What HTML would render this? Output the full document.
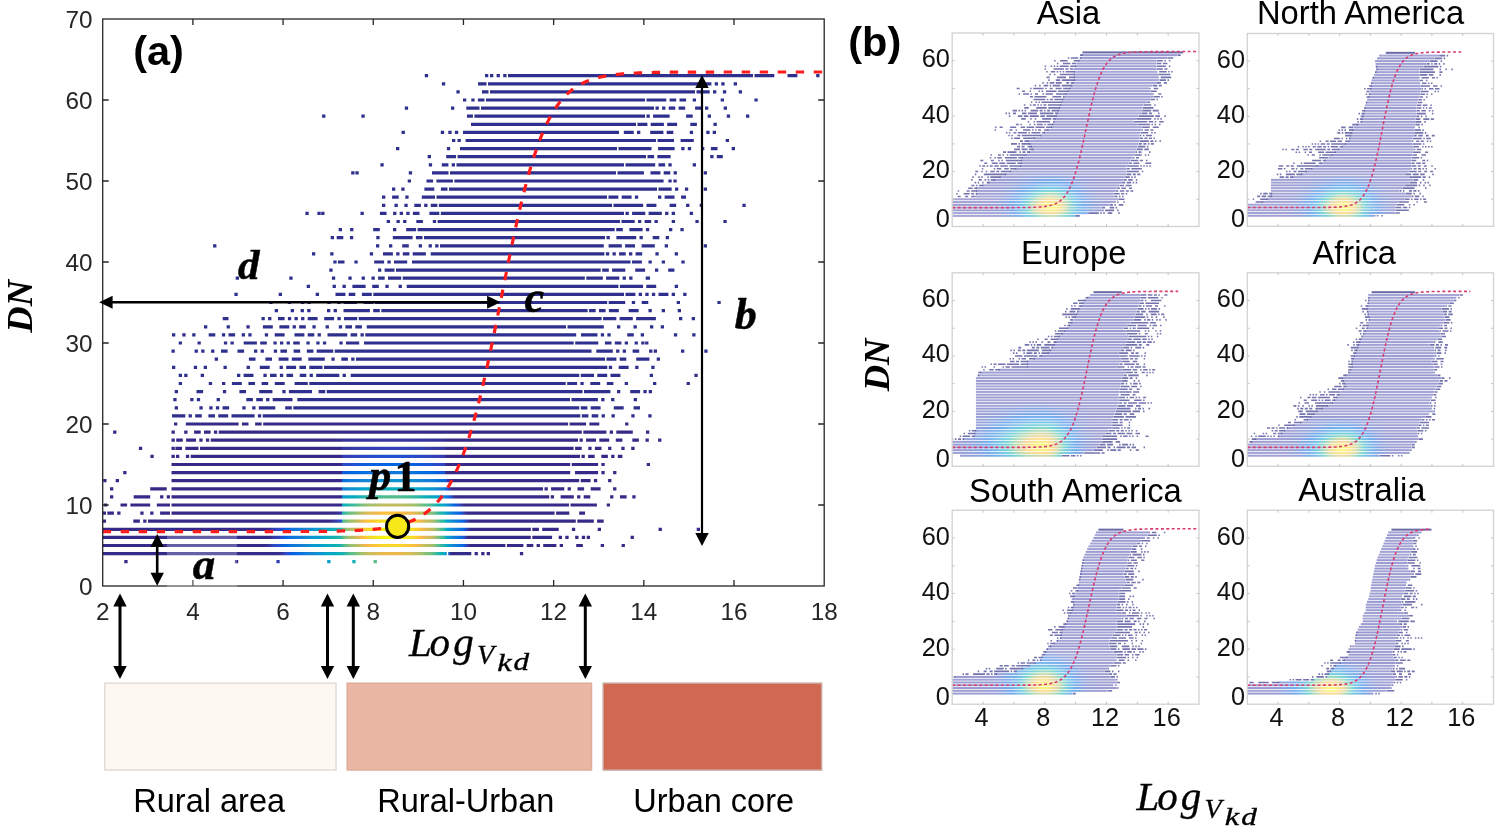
<!DOCTYPE html>
<html><head><meta charset="utf-8"><style>
html,body{margin:0;padding:0;background:#fff;}
body{width:1500px;height:826px;position:relative;overflow:hidden;font-family:"Liberation Sans",sans-serif;}
</style></head><body>
<svg width="1500" height="826" viewBox="0 0 1500 826" style="position:absolute;left:0;top:0;will-change:transform"><defs><linearGradient id="ga3" gradientUnits="userSpaceOnUse" x1="230" y1="0" x2="560" y2="0"><stop offset="0" stop-color="#352a87"/><stop offset="0.01" stop-color="#352a87"/><stop offset="0.02" stop-color="#352a87"/><stop offset="0.04" stop-color="#352a87"/><stop offset="0.05" stop-color="#352a87"/><stop offset="0.06" stop-color="#352a87"/><stop offset="0.07" stop-color="#352a87"/><stop offset="0.08" stop-color="#352a87"/><stop offset="0.1" stop-color="#352a87"/><stop offset="0.11" stop-color="#352a87"/><stop offset="0.12" stop-color="#352a87"/><stop offset="0.13" stop-color="#36369e"/><stop offset="0.15" stop-color="#3440b3"/><stop offset="0.16" stop-color="#2b4bc7"/><stop offset="0.17" stop-color="#1757d9"/><stop offset="0.18" stop-color="#0463e1"/><stop offset="0.19" stop-color="#036ae1"/><stop offset="0.21" stop-color="#0770df"/><stop offset="0.22" stop-color="#0d76dc"/><stop offset="0.23" stop-color="#117bd9"/><stop offset="0.24" stop-color="#1480d6"/><stop offset="0.25" stop-color="#1485d4"/><stop offset="0.27" stop-color="#128cd2"/><stop offset="0.28" stop-color="#0d92d2"/><stop offset="0.29" stop-color="#0999d1"/><stop offset="0.3" stop-color="#079ece"/><stop offset="0.32" stop-color="#06a3cb"/><stop offset="0.33" stop-color="#06a6c6"/><stop offset="0.34" stop-color="#07a9c2"/><stop offset="0.34" stop-color="#079bd0"/><stop offset="0.35" stop-color="#06a4ca"/><stop offset="0.36" stop-color="#08abc0"/><stop offset="0.38" stop-color="#14b0b6"/><stop offset="0.39" stop-color="#23b4ab"/><stop offset="0.4" stop-color="#33b8a1"/><stop offset="0.41" stop-color="#43bb97"/><stop offset="0.42" stop-color="#52bd8f"/><stop offset="0.44" stop-color="#5fbe88"/><stop offset="0.45" stop-color="#6abe83"/><stop offset="0.46" stop-color="#72bf80"/><stop offset="0.47" stop-color="#77bf7e"/><stop offset="0.48" stop-color="#7abf7d"/><stop offset="0.5" stop-color="#7abf7d"/><stop offset="0.51" stop-color="#77bf7e"/><stop offset="0.52" stop-color="#72bf80"/><stop offset="0.53" stop-color="#6abe83"/><stop offset="0.55" stop-color="#5fbe88"/><stop offset="0.56" stop-color="#52bd8f"/><stop offset="0.57" stop-color="#43bb97"/><stop offset="0.58" stop-color="#33b8a1"/><stop offset="0.59" stop-color="#23b4ab"/><stop offset="0.61" stop-color="#14b0b6"/><stop offset="0.62" stop-color="#08abc0"/><stop offset="0.63" stop-color="#06a4ca"/><stop offset="0.64" stop-color="#089ad1"/><stop offset="0.65" stop-color="#0b94d2"/><stop offset="0.65" stop-color="#0f90d2"/><stop offset="0.66" stop-color="#1481d6"/><stop offset="0.67" stop-color="#0972de"/><stop offset="0.68" stop-color="#0f5cde"/><stop offset="0.7" stop-color="#353aa8"/><stop offset="0.71" stop-color="#352a87"/><stop offset="0.72" stop-color="#352a87"/><stop offset="0.73" stop-color="#352a87"/><stop offset="0.75" stop-color="#352a87"/><stop offset="0.76" stop-color="#352a87"/><stop offset="0.77" stop-color="#352a87"/><stop offset="0.78" stop-color="#352a87"/><stop offset="0.79" stop-color="#352a87"/><stop offset="0.81" stop-color="#352a87"/><stop offset="0.82" stop-color="#352a87"/><stop offset="0.83" stop-color="#352a87"/><stop offset="0.84" stop-color="#352a87"/><stop offset="0.85" stop-color="#352a87"/><stop offset="0.87" stop-color="#352a87"/><stop offset="0.88" stop-color="#352a87"/><stop offset="0.89" stop-color="#352a87"/><stop offset="0.9" stop-color="#352a87"/><stop offset="0.92" stop-color="#352a87"/><stop offset="0.93" stop-color="#352a87"/><stop offset="0.94" stop-color="#352a87"/><stop offset="0.95" stop-color="#352a87"/><stop offset="0.96" stop-color="#352a87"/><stop offset="0.98" stop-color="#352a87"/><stop offset="0.99" stop-color="#352a87"/></linearGradient><linearGradient id="ga4" gradientUnits="userSpaceOnUse" x1="230" y1="0" x2="560" y2="0"><stop offset="0" stop-color="#352a87"/><stop offset="0.01" stop-color="#352a87"/><stop offset="0.02" stop-color="#352a87"/><stop offset="0.04" stop-color="#352a87"/><stop offset="0.05" stop-color="#352a87"/><stop offset="0.06" stop-color="#352a87"/><stop offset="0.07" stop-color="#352a87"/><stop offset="0.08" stop-color="#352a87"/><stop offset="0.1" stop-color="#352a87"/><stop offset="0.11" stop-color="#352a87"/><stop offset="0.12" stop-color="#352a87"/><stop offset="0.13" stop-color="#352a87"/><stop offset="0.15" stop-color="#362e8f"/><stop offset="0.16" stop-color="#353caa"/><stop offset="0.17" stop-color="#2d49c4"/><stop offset="0.18" stop-color="#1559da"/><stop offset="0.19" stop-color="#0265e1"/><stop offset="0.21" stop-color="#056ee0"/><stop offset="0.22" stop-color="#0d75dc"/><stop offset="0.23" stop-color="#127cd9"/><stop offset="0.24" stop-color="#1482d5"/><stop offset="0.25" stop-color="#1389d3"/><stop offset="0.27" stop-color="#0e92d2"/><stop offset="0.28" stop-color="#089ad0"/><stop offset="0.29" stop-color="#06a0cd"/><stop offset="0.3" stop-color="#06a5c8"/><stop offset="0.32" stop-color="#07aac1"/><stop offset="0.33" stop-color="#0eaeba"/><stop offset="0.34" stop-color="#17b1b3"/><stop offset="0.34" stop-color="#13b0b6"/><stop offset="0.35" stop-color="#2bb6a6"/><stop offset="0.36" stop-color="#4dbc92"/><stop offset="0.38" stop-color="#70bf81"/><stop offset="0.39" stop-color="#8ebf74"/><stop offset="0.4" stop-color="#a5be6b"/><stop offset="0.41" stop-color="#b8bd63"/><stop offset="0.42" stop-color="#c7bc5d"/><stop offset="0.44" stop-color="#d4bb58"/><stop offset="0.45" stop-color="#deba54"/><stop offset="0.46" stop-color="#e5b950"/><stop offset="0.47" stop-color="#eab94e"/><stop offset="0.48" stop-color="#ecb94c"/><stop offset="0.5" stop-color="#ecb94c"/><stop offset="0.51" stop-color="#eab94e"/><stop offset="0.52" stop-color="#e5b950"/><stop offset="0.53" stop-color="#deba54"/><stop offset="0.55" stop-color="#d4bb58"/><stop offset="0.56" stop-color="#c7bc5d"/><stop offset="0.57" stop-color="#b8bd63"/><stop offset="0.58" stop-color="#a5be6b"/><stop offset="0.59" stop-color="#8ebf74"/><stop offset="0.61" stop-color="#70bf81"/><stop offset="0.62" stop-color="#4dbc92"/><stop offset="0.63" stop-color="#2bb6a6"/><stop offset="0.64" stop-color="#10afb8"/><stop offset="0.65" stop-color="#09abbf"/><stop offset="0.65" stop-color="#06a6c7"/><stop offset="0.66" stop-color="#117bd9"/><stop offset="0.67" stop-color="#352a87"/><stop offset="0.68" stop-color="#352a87"/><stop offset="0.7" stop-color="#352a87"/><stop offset="0.71" stop-color="#352a87"/><stop offset="0.72" stop-color="#352a87"/><stop offset="0.73" stop-color="#352a87"/><stop offset="0.75" stop-color="#352a87"/><stop offset="0.76" stop-color="#352a87"/><stop offset="0.77" stop-color="#352a87"/><stop offset="0.78" stop-color="#352a87"/><stop offset="0.79" stop-color="#352a87"/><stop offset="0.81" stop-color="#352a87"/><stop offset="0.82" stop-color="#352a87"/><stop offset="0.83" stop-color="#352a87"/><stop offset="0.84" stop-color="#352a87"/><stop offset="0.85" stop-color="#352a87"/><stop offset="0.87" stop-color="#352a87"/><stop offset="0.88" stop-color="#352a87"/><stop offset="0.89" stop-color="#352a87"/><stop offset="0.9" stop-color="#352a87"/><stop offset="0.92" stop-color="#352a87"/><stop offset="0.93" stop-color="#352a87"/><stop offset="0.94" stop-color="#352a87"/><stop offset="0.95" stop-color="#352a87"/><stop offset="0.96" stop-color="#352a87"/><stop offset="0.98" stop-color="#352a87"/><stop offset="0.99" stop-color="#352a87"/></linearGradient><linearGradient id="ga5" gradientUnits="userSpaceOnUse" x1="230" y1="0" x2="560" y2="0"><stop offset="0" stop-color="#352a87"/><stop offset="0.01" stop-color="#352a87"/><stop offset="0.02" stop-color="#352a87"/><stop offset="0.04" stop-color="#352a87"/><stop offset="0.05" stop-color="#352a87"/><stop offset="0.06" stop-color="#352a87"/><stop offset="0.07" stop-color="#352a87"/><stop offset="0.08" stop-color="#352a87"/><stop offset="0.1" stop-color="#352a87"/><stop offset="0.11" stop-color="#362e8e"/><stop offset="0.12" stop-color="#363aa7"/><stop offset="0.13" stop-color="#3046bf"/><stop offset="0.15" stop-color="#1e54d5"/><stop offset="0.16" stop-color="#0661e0"/><stop offset="0.17" stop-color="#036ae1"/><stop offset="0.18" stop-color="#0871de"/><stop offset="0.19" stop-color="#0f77db"/><stop offset="0.21" stop-color="#137dd8"/><stop offset="0.22" stop-color="#1483d5"/><stop offset="0.23" stop-color="#138ad3"/><stop offset="0.24" stop-color="#0e91d2"/><stop offset="0.25" stop-color="#0899d1"/><stop offset="0.27" stop-color="#069fce"/><stop offset="0.28" stop-color="#06a4ca"/><stop offset="0.29" stop-color="#06a8c4"/><stop offset="0.3" stop-color="#0aacbe"/><stop offset="0.32" stop-color="#12afb7"/><stop offset="0.33" stop-color="#1cb2b0"/><stop offset="0.34" stop-color="#26b5a9"/><stop offset="0.34" stop-color="#35b8a0"/><stop offset="0.35" stop-color="#5cbe8a"/><stop offset="0.36" stop-color="#88bf77"/><stop offset="0.38" stop-color="#aabe69"/><stop offset="0.39" stop-color="#c5bc5e"/><stop offset="0.4" stop-color="#dbba55"/><stop offset="0.41" stop-color="#efb94b"/><stop offset="0.42" stop-color="#fcbd3f"/><stop offset="0.44" stop-color="#fec635"/><stop offset="0.45" stop-color="#fccd2e"/><stop offset="0.46" stop-color="#fad22a"/><stop offset="0.47" stop-color="#f8d627"/><stop offset="0.48" stop-color="#f7d826"/><stop offset="0.5" stop-color="#f7d826"/><stop offset="0.51" stop-color="#f8d627"/><stop offset="0.52" stop-color="#fad22a"/><stop offset="0.53" stop-color="#fccd2e"/><stop offset="0.55" stop-color="#fec635"/><stop offset="0.56" stop-color="#fcbd3f"/><stop offset="0.57" stop-color="#efb94b"/><stop offset="0.58" stop-color="#dbba55"/><stop offset="0.59" stop-color="#c5bc5e"/><stop offset="0.61" stop-color="#aabe69"/><stop offset="0.62" stop-color="#88bf77"/><stop offset="0.63" stop-color="#5cbe8a"/><stop offset="0.64" stop-color="#30b7a3"/><stop offset="0.65" stop-color="#21b4ac"/><stop offset="0.65" stop-color="#0aacbe"/><stop offset="0.66" stop-color="#06a3cb"/><stop offset="0.67" stop-color="#0c93d2"/><stop offset="0.68" stop-color="#1481d6"/><stop offset="0.7" stop-color="#0972de"/><stop offset="0.71" stop-color="#0e5cde"/><stop offset="0.72" stop-color="#353ba8"/><stop offset="0.73" stop-color="#352a87"/><stop offset="0.75" stop-color="#352a87"/><stop offset="0.76" stop-color="#352a87"/><stop offset="0.77" stop-color="#352a87"/><stop offset="0.78" stop-color="#352a87"/><stop offset="0.79" stop-color="#352a87"/><stop offset="0.81" stop-color="#352a87"/><stop offset="0.82" stop-color="#352a87"/><stop offset="0.83" stop-color="#352a87"/><stop offset="0.84" stop-color="#352a87"/><stop offset="0.85" stop-color="#352a87"/><stop offset="0.87" stop-color="#352a87"/><stop offset="0.88" stop-color="#352a87"/><stop offset="0.89" stop-color="#352a87"/><stop offset="0.9" stop-color="#352a87"/><stop offset="0.92" stop-color="#352a87"/><stop offset="0.93" stop-color="#352a87"/><stop offset="0.94" stop-color="#352a87"/><stop offset="0.95" stop-color="#352a87"/><stop offset="0.96" stop-color="#352a87"/><stop offset="0.98" stop-color="#352a87"/><stop offset="0.99" stop-color="#352a87"/></linearGradient><linearGradient id="ga6" gradientUnits="userSpaceOnUse" x1="230" y1="0" x2="560" y2="0"><stop offset="0" stop-color="#352a87"/><stop offset="0.01" stop-color="#352a87"/><stop offset="0.02" stop-color="#352a87"/><stop offset="0.04" stop-color="#352a87"/><stop offset="0.05" stop-color="#352a87"/><stop offset="0.06" stop-color="#352a87"/><stop offset="0.07" stop-color="#352a87"/><stop offset="0.08" stop-color="#352a87"/><stop offset="0.1" stop-color="#352a87"/><stop offset="0.11" stop-color="#352a87"/><stop offset="0.12" stop-color="#352a87"/><stop offset="0.13" stop-color="#3639a4"/><stop offset="0.15" stop-color="#3046be"/><stop offset="0.16" stop-color="#1b55d6"/><stop offset="0.17" stop-color="#0364e1"/><stop offset="0.18" stop-color="#046de0"/><stop offset="0.19" stop-color="#0b74dd"/><stop offset="0.21" stop-color="#117bd9"/><stop offset="0.22" stop-color="#1481d5"/><stop offset="0.23" stop-color="#1389d3"/><stop offset="0.24" stop-color="#0e91d2"/><stop offset="0.25" stop-color="#0899d1"/><stop offset="0.27" stop-color="#06a0cd"/><stop offset="0.28" stop-color="#06a5c8"/><stop offset="0.29" stop-color="#07aac1"/><stop offset="0.3" stop-color="#0eaeba"/><stop offset="0.32" stop-color="#18b1b2"/><stop offset="0.33" stop-color="#24b5aa"/><stop offset="0.34" stop-color="#31b8a2"/><stop offset="0.34" stop-color="#52bd8f"/><stop offset="0.35" stop-color="#80bf7a"/><stop offset="0.36" stop-color="#a9be69"/><stop offset="0.38" stop-color="#cabb5c"/><stop offset="0.39" stop-color="#e5b950"/><stop offset="0.4" stop-color="#fbbc41"/><stop offset="0.41" stop-color="#fec932"/><stop offset="0.42" stop-color="#f9d528"/><stop offset="0.44" stop-color="#f5df20"/><stop offset="0.45" stop-color="#f5e91a"/><stop offset="0.46" stop-color="#f6f114"/><stop offset="0.47" stop-color="#f8f710"/><stop offset="0.48" stop-color="#f9fa0e"/><stop offset="0.5" stop-color="#f9fa0e"/><stop offset="0.51" stop-color="#f8f710"/><stop offset="0.52" stop-color="#f6f114"/><stop offset="0.53" stop-color="#f5e91a"/><stop offset="0.55" stop-color="#f5df20"/><stop offset="0.56" stop-color="#f9d528"/><stop offset="0.57" stop-color="#fec932"/><stop offset="0.58" stop-color="#fbbc41"/><stop offset="0.59" stop-color="#e5b950"/><stop offset="0.61" stop-color="#cabb5c"/><stop offset="0.62" stop-color="#a9be69"/><stop offset="0.63" stop-color="#80bf7a"/><stop offset="0.64" stop-color="#4cbc92"/><stop offset="0.65" stop-color="#39b99d"/><stop offset="0.65" stop-color="#0aacbe"/><stop offset="0.66" stop-color="#06a2cc"/><stop offset="0.67" stop-color="#0f90d2"/><stop offset="0.68" stop-color="#137dd8"/><stop offset="0.7" stop-color="#046ce0"/><stop offset="0.71" stop-color="#284dca"/><stop offset="0.72" stop-color="#352a87"/><stop offset="0.73" stop-color="#352a87"/><stop offset="0.75" stop-color="#352a87"/><stop offset="0.76" stop-color="#352a87"/><stop offset="0.77" stop-color="#352a87"/><stop offset="0.78" stop-color="#352a87"/><stop offset="0.79" stop-color="#352a87"/><stop offset="0.81" stop-color="#352a87"/><stop offset="0.82" stop-color="#352a87"/><stop offset="0.83" stop-color="#352a87"/><stop offset="0.84" stop-color="#352a87"/><stop offset="0.85" stop-color="#352a87"/><stop offset="0.87" stop-color="#352a87"/><stop offset="0.88" stop-color="#352a87"/><stop offset="0.89" stop-color="#352a87"/><stop offset="0.9" stop-color="#352a87"/><stop offset="0.92" stop-color="#352a87"/><stop offset="0.93" stop-color="#352a87"/><stop offset="0.94" stop-color="#352a87"/><stop offset="0.95" stop-color="#352a87"/><stop offset="0.96" stop-color="#352a87"/><stop offset="0.98" stop-color="#352a87"/><stop offset="0.99" stop-color="#352a87"/></linearGradient><linearGradient id="ga7" gradientUnits="userSpaceOnUse" x1="230" y1="0" x2="560" y2="0"><stop offset="0" stop-color="#352a87"/><stop offset="0.01" stop-color="#352a87"/><stop offset="0.02" stop-color="#352a87"/><stop offset="0.04" stop-color="#352a87"/><stop offset="0.05" stop-color="#352a87"/><stop offset="0.06" stop-color="#352a87"/><stop offset="0.07" stop-color="#352a87"/><stop offset="0.08" stop-color="#352a87"/><stop offset="0.1" stop-color="#352a87"/><stop offset="0.11" stop-color="#352a87"/><stop offset="0.12" stop-color="#363195"/><stop offset="0.13" stop-color="#353eaf"/><stop offset="0.15" stop-color="#2c4ac7"/><stop offset="0.16" stop-color="#135adb"/><stop offset="0.17" stop-color="#0265e1"/><stop offset="0.18" stop-color="#056de0"/><stop offset="0.19" stop-color="#0c74dd"/><stop offset="0.21" stop-color="#117ad9"/><stop offset="0.22" stop-color="#1481d6"/><stop offset="0.23" stop-color="#1487d3"/><stop offset="0.24" stop-color="#108fd2"/><stop offset="0.25" stop-color="#0a97d1"/><stop offset="0.27" stop-color="#079dcf"/><stop offset="0.28" stop-color="#06a3cb"/><stop offset="0.29" stop-color="#06a7c5"/><stop offset="0.3" stop-color="#09abbf"/><stop offset="0.32" stop-color="#11afb8"/><stop offset="0.33" stop-color="#1bb2b0"/><stop offset="0.34" stop-color="#26b5a9"/><stop offset="0.34" stop-color="#52bd8f"/><stop offset="0.35" stop-color="#80bf7a"/><stop offset="0.36" stop-color="#a9be69"/><stop offset="0.38" stop-color="#cabb5c"/><stop offset="0.39" stop-color="#e5b950"/><stop offset="0.4" stop-color="#fbbc41"/><stop offset="0.41" stop-color="#fec932"/><stop offset="0.42" stop-color="#f9d528"/><stop offset="0.44" stop-color="#f5df20"/><stop offset="0.45" stop-color="#f5e91a"/><stop offset="0.46" stop-color="#f6f114"/><stop offset="0.47" stop-color="#f8f710"/><stop offset="0.48" stop-color="#f9fa0e"/><stop offset="0.5" stop-color="#f9fa0e"/><stop offset="0.51" stop-color="#f8f710"/><stop offset="0.52" stop-color="#f6f114"/><stop offset="0.53" stop-color="#f5e91a"/><stop offset="0.55" stop-color="#f5df20"/><stop offset="0.56" stop-color="#f9d528"/><stop offset="0.57" stop-color="#fec932"/><stop offset="0.58" stop-color="#fbbc41"/><stop offset="0.59" stop-color="#e5b950"/><stop offset="0.61" stop-color="#cabb5c"/><stop offset="0.62" stop-color="#a9be69"/><stop offset="0.63" stop-color="#80bf7a"/><stop offset="0.64" stop-color="#4cbc92"/><stop offset="0.65" stop-color="#39b99d"/><stop offset="0.65" stop-color="#0aacbe"/><stop offset="0.66" stop-color="#06a3cb"/><stop offset="0.67" stop-color="#0c93d2"/><stop offset="0.68" stop-color="#1481d6"/><stop offset="0.7" stop-color="#0972de"/><stop offset="0.71" stop-color="#0e5cde"/><stop offset="0.72" stop-color="#353ba8"/><stop offset="0.73" stop-color="#352a87"/><stop offset="0.75" stop-color="#352a87"/><stop offset="0.76" stop-color="#352a87"/><stop offset="0.77" stop-color="#352a87"/><stop offset="0.78" stop-color="#352a87"/><stop offset="0.79" stop-color="#352a87"/><stop offset="0.81" stop-color="#352a87"/><stop offset="0.82" stop-color="#352a87"/><stop offset="0.83" stop-color="#352a87"/><stop offset="0.84" stop-color="#352a87"/><stop offset="0.85" stop-color="#352a87"/><stop offset="0.87" stop-color="#352a87"/><stop offset="0.88" stop-color="#352a87"/><stop offset="0.89" stop-color="#352a87"/><stop offset="0.9" stop-color="#352a87"/><stop offset="0.92" stop-color="#352a87"/><stop offset="0.93" stop-color="#352a87"/><stop offset="0.94" stop-color="#352a87"/><stop offset="0.95" stop-color="#352a87"/><stop offset="0.96" stop-color="#352a87"/><stop offset="0.98" stop-color="#352a87"/><stop offset="0.99" stop-color="#352a87"/></linearGradient><linearGradient id="ga8" gradientUnits="userSpaceOnUse" x1="230" y1="0" x2="560" y2="0"><stop offset="0" stop-color="#352a87"/><stop offset="0.01" stop-color="#352a87"/><stop offset="0.02" stop-color="#352a87"/><stop offset="0.04" stop-color="#352a87"/><stop offset="0.05" stop-color="#352a87"/><stop offset="0.06" stop-color="#352a87"/><stop offset="0.07" stop-color="#352a87"/><stop offset="0.08" stop-color="#352a87"/><stop offset="0.1" stop-color="#352a87"/><stop offset="0.11" stop-color="#352a87"/><stop offset="0.12" stop-color="#352a87"/><stop offset="0.13" stop-color="#352a87"/><stop offset="0.15" stop-color="#352a87"/><stop offset="0.16" stop-color="#352a87"/><stop offset="0.17" stop-color="#352a87"/><stop offset="0.18" stop-color="#352a87"/><stop offset="0.19" stop-color="#352a87"/><stop offset="0.21" stop-color="#352a87"/><stop offset="0.22" stop-color="#352a87"/><stop offset="0.23" stop-color="#352a87"/><stop offset="0.24" stop-color="#352a87"/><stop offset="0.25" stop-color="#352a87"/><stop offset="0.27" stop-color="#352a87"/><stop offset="0.28" stop-color="#352a87"/><stop offset="0.29" stop-color="#352a87"/><stop offset="0.3" stop-color="#352a87"/><stop offset="0.32" stop-color="#3639a4"/><stop offset="0.33" stop-color="#3046bf"/><stop offset="0.34" stop-color="#1f53d4"/><stop offset="0.34" stop-color="#3fba99"/><stop offset="0.35" stop-color="#6abe83"/><stop offset="0.36" stop-color="#95bf71"/><stop offset="0.38" stop-color="#b6bd64"/><stop offset="0.39" stop-color="#d1bb59"/><stop offset="0.4" stop-color="#e8b94f"/><stop offset="0.41" stop-color="#fabc42"/><stop offset="0.42" stop-color="#fec635"/><stop offset="0.44" stop-color="#fbcf2d"/><stop offset="0.45" stop-color="#f8d727"/><stop offset="0.46" stop-color="#f6dd22"/><stop offset="0.47" stop-color="#f5e11f"/><stop offset="0.48" stop-color="#f5e31e"/><stop offset="0.5" stop-color="#f5e31e"/><stop offset="0.51" stop-color="#f5e11f"/><stop offset="0.52" stop-color="#f6dd22"/><stop offset="0.53" stop-color="#f8d727"/><stop offset="0.55" stop-color="#fbcf2d"/><stop offset="0.56" stop-color="#fec635"/><stop offset="0.57" stop-color="#fabc42"/><stop offset="0.58" stop-color="#e8b94f"/><stop offset="0.59" stop-color="#d1bb59"/><stop offset="0.61" stop-color="#b6bd64"/><stop offset="0.62" stop-color="#95bf71"/><stop offset="0.63" stop-color="#6abe83"/><stop offset="0.64" stop-color="#39b99d"/><stop offset="0.65" stop-color="#29b6a7"/><stop offset="0.65" stop-color="#07a9c3"/><stop offset="0.66" stop-color="#069fce"/><stop offset="0.67" stop-color="#108fd2"/><stop offset="0.68" stop-color="#137ed7"/><stop offset="0.7" stop-color="#0770df"/><stop offset="0.71" stop-color="#1459db"/><stop offset="0.72" stop-color="#363aa6"/><stop offset="0.73" stop-color="#352a87"/><stop offset="0.75" stop-color="#352a87"/><stop offset="0.76" stop-color="#352a87"/><stop offset="0.77" stop-color="#352a87"/><stop offset="0.78" stop-color="#352a87"/><stop offset="0.79" stop-color="#352a87"/><stop offset="0.81" stop-color="#352a87"/><stop offset="0.82" stop-color="#352a87"/><stop offset="0.83" stop-color="#352a87"/><stop offset="0.84" stop-color="#352a87"/><stop offset="0.85" stop-color="#352a87"/><stop offset="0.87" stop-color="#352a87"/><stop offset="0.88" stop-color="#352a87"/><stop offset="0.89" stop-color="#352a87"/><stop offset="0.9" stop-color="#352a87"/><stop offset="0.92" stop-color="#352a87"/><stop offset="0.93" stop-color="#352a87"/><stop offset="0.94" stop-color="#352a87"/><stop offset="0.95" stop-color="#352a87"/><stop offset="0.96" stop-color="#352a87"/><stop offset="0.98" stop-color="#352a87"/><stop offset="0.99" stop-color="#352a87"/></linearGradient><linearGradient id="ga9" gradientUnits="userSpaceOnUse" x1="230" y1="0" x2="560" y2="0"><stop offset="0" stop-color="#352a87"/><stop offset="0.01" stop-color="#352a87"/><stop offset="0.02" stop-color="#352a87"/><stop offset="0.04" stop-color="#352a87"/><stop offset="0.05" stop-color="#352a87"/><stop offset="0.06" stop-color="#352a87"/><stop offset="0.07" stop-color="#352a87"/><stop offset="0.08" stop-color="#352a87"/><stop offset="0.1" stop-color="#352a87"/><stop offset="0.11" stop-color="#352a87"/><stop offset="0.12" stop-color="#352a87"/><stop offset="0.13" stop-color="#352a87"/><stop offset="0.15" stop-color="#352a87"/><stop offset="0.16" stop-color="#352a87"/><stop offset="0.17" stop-color="#352a87"/><stop offset="0.18" stop-color="#352a87"/><stop offset="0.19" stop-color="#352a87"/><stop offset="0.21" stop-color="#352a87"/><stop offset="0.22" stop-color="#352a87"/><stop offset="0.23" stop-color="#352a87"/><stop offset="0.24" stop-color="#352a87"/><stop offset="0.25" stop-color="#352a87"/><stop offset="0.27" stop-color="#352a87"/><stop offset="0.28" stop-color="#352a87"/><stop offset="0.29" stop-color="#352a87"/><stop offset="0.3" stop-color="#352a87"/><stop offset="0.32" stop-color="#352a87"/><stop offset="0.33" stop-color="#363399"/><stop offset="0.34" stop-color="#353dac"/><stop offset="0.34" stop-color="#1fb3ad"/><stop offset="0.35" stop-color="#3eba9a"/><stop offset="0.36" stop-color="#66be85"/><stop offset="0.38" stop-color="#8abf76"/><stop offset="0.39" stop-color="#a6be6a"/><stop offset="0.4" stop-color="#bdbd61"/><stop offset="0.41" stop-color="#d0bb5a"/><stop offset="0.42" stop-color="#dfba53"/><stop offset="0.44" stop-color="#ecb94d"/><stop offset="0.45" stop-color="#f5ba46"/><stop offset="0.46" stop-color="#fbbd40"/><stop offset="0.47" stop-color="#febf3c"/><stop offset="0.48" stop-color="#fec13a"/><stop offset="0.5" stop-color="#fec13a"/><stop offset="0.51" stop-color="#febf3c"/><stop offset="0.52" stop-color="#fbbd40"/><stop offset="0.53" stop-color="#f5ba46"/><stop offset="0.55" stop-color="#ecb94d"/><stop offset="0.56" stop-color="#dfba53"/><stop offset="0.57" stop-color="#d0bb5a"/><stop offset="0.58" stop-color="#bdbd61"/><stop offset="0.59" stop-color="#a6be6a"/><stop offset="0.61" stop-color="#8abf76"/><stop offset="0.62" stop-color="#66be85"/><stop offset="0.63" stop-color="#3eba9a"/><stop offset="0.64" stop-color="#1bb2b0"/><stop offset="0.65" stop-color="#11afb8"/><stop offset="0.65" stop-color="#06a5c8"/><stop offset="0.66" stop-color="#0998d1"/><stop offset="0.67" stop-color="#1484d4"/><stop offset="0.68" stop-color="#0c74dd"/><stop offset="0.7" stop-color="#0a5fdf"/><stop offset="0.71" stop-color="#353baa"/><stop offset="0.72" stop-color="#352a87"/><stop offset="0.73" stop-color="#352a87"/><stop offset="0.75" stop-color="#352a87"/><stop offset="0.76" stop-color="#352a87"/><stop offset="0.77" stop-color="#352a87"/><stop offset="0.78" stop-color="#352a87"/><stop offset="0.79" stop-color="#352a87"/><stop offset="0.81" stop-color="#352a87"/><stop offset="0.82" stop-color="#352a87"/><stop offset="0.83" stop-color="#352a87"/><stop offset="0.84" stop-color="#352a87"/><stop offset="0.85" stop-color="#352a87"/><stop offset="0.87" stop-color="#352a87"/><stop offset="0.88" stop-color="#352a87"/><stop offset="0.89" stop-color="#352a87"/><stop offset="0.9" stop-color="#352a87"/><stop offset="0.92" stop-color="#352a87"/><stop offset="0.93" stop-color="#352a87"/><stop offset="0.94" stop-color="#352a87"/><stop offset="0.95" stop-color="#352a87"/><stop offset="0.96" stop-color="#352a87"/><stop offset="0.98" stop-color="#352a87"/><stop offset="0.99" stop-color="#352a87"/></linearGradient><linearGradient id="ga10" gradientUnits="userSpaceOnUse" x1="230" y1="0" x2="560" y2="0"><stop offset="0" stop-color="#352a87"/><stop offset="0.01" stop-color="#352a87"/><stop offset="0.02" stop-color="#352a87"/><stop offset="0.04" stop-color="#352a87"/><stop offset="0.05" stop-color="#352a87"/><stop offset="0.06" stop-color="#352a87"/><stop offset="0.07" stop-color="#352a87"/><stop offset="0.08" stop-color="#352a87"/><stop offset="0.1" stop-color="#352a87"/><stop offset="0.11" stop-color="#352a87"/><stop offset="0.12" stop-color="#352a87"/><stop offset="0.13" stop-color="#352a87"/><stop offset="0.15" stop-color="#352a87"/><stop offset="0.16" stop-color="#352a87"/><stop offset="0.17" stop-color="#352a87"/><stop offset="0.18" stop-color="#352a87"/><stop offset="0.19" stop-color="#352a87"/><stop offset="0.21" stop-color="#352a87"/><stop offset="0.22" stop-color="#352a87"/><stop offset="0.23" stop-color="#352a87"/><stop offset="0.24" stop-color="#352a87"/><stop offset="0.25" stop-color="#352a87"/><stop offset="0.27" stop-color="#352a87"/><stop offset="0.28" stop-color="#352a87"/><stop offset="0.29" stop-color="#352a87"/><stop offset="0.3" stop-color="#352a87"/><stop offset="0.32" stop-color="#352a87"/><stop offset="0.33" stop-color="#352a87"/><stop offset="0.34" stop-color="#352a87"/><stop offset="0.34" stop-color="#07a9c3"/><stop offset="0.35" stop-color="#13b0b6"/><stop offset="0.36" stop-color="#2ab6a6"/><stop offset="0.38" stop-color="#45bb96"/><stop offset="0.39" stop-color="#61be88"/><stop offset="0.4" stop-color="#7abf7c"/><stop offset="0.41" stop-color="#8ebf74"/><stop offset="0.42" stop-color="#9ebe6d"/><stop offset="0.44" stop-color="#abbe68"/><stop offset="0.45" stop-color="#b5bd65"/><stop offset="0.46" stop-color="#bcbd62"/><stop offset="0.47" stop-color="#c0bc60"/><stop offset="0.48" stop-color="#c3bc5f"/><stop offset="0.5" stop-color="#c3bc5f"/><stop offset="0.51" stop-color="#c0bc60"/><stop offset="0.52" stop-color="#bcbd62"/><stop offset="0.53" stop-color="#b5bd65"/><stop offset="0.55" stop-color="#abbe68"/><stop offset="0.56" stop-color="#9ebe6d"/><stop offset="0.57" stop-color="#8ebf74"/><stop offset="0.58" stop-color="#7abf7c"/><stop offset="0.59" stop-color="#61be88"/><stop offset="0.61" stop-color="#45bb96"/><stop offset="0.62" stop-color="#2ab6a6"/><stop offset="0.63" stop-color="#13b0b6"/><stop offset="0.64" stop-color="#06a8c4"/><stop offset="0.65" stop-color="#06a4c9"/><stop offset="0.65" stop-color="#069ece"/><stop offset="0.66" stop-color="#118cd2"/><stop offset="0.67" stop-color="#1079da"/><stop offset="0.68" stop-color="#0364e1"/><stop offset="0.7" stop-color="#353dad"/><stop offset="0.71" stop-color="#352a87"/><stop offset="0.72" stop-color="#352a87"/><stop offset="0.73" stop-color="#352a87"/><stop offset="0.75" stop-color="#352a87"/><stop offset="0.76" stop-color="#352a87"/><stop offset="0.77" stop-color="#352a87"/><stop offset="0.78" stop-color="#352a87"/><stop offset="0.79" stop-color="#352a87"/><stop offset="0.81" stop-color="#352a87"/><stop offset="0.82" stop-color="#352a87"/><stop offset="0.83" stop-color="#352a87"/><stop offset="0.84" stop-color="#352a87"/><stop offset="0.85" stop-color="#352a87"/><stop offset="0.87" stop-color="#352a87"/><stop offset="0.88" stop-color="#352a87"/><stop offset="0.89" stop-color="#352a87"/><stop offset="0.9" stop-color="#352a87"/><stop offset="0.92" stop-color="#352a87"/><stop offset="0.93" stop-color="#352a87"/><stop offset="0.94" stop-color="#352a87"/><stop offset="0.95" stop-color="#352a87"/><stop offset="0.96" stop-color="#352a87"/><stop offset="0.98" stop-color="#352a87"/><stop offset="0.99" stop-color="#352a87"/></linearGradient><linearGradient id="ga11" gradientUnits="userSpaceOnUse" x1="230" y1="0" x2="560" y2="0"><stop offset="0" stop-color="#352a87"/><stop offset="0.01" stop-color="#352a87"/><stop offset="0.02" stop-color="#352a87"/><stop offset="0.04" stop-color="#352a87"/><stop offset="0.05" stop-color="#352a87"/><stop offset="0.06" stop-color="#352a87"/><stop offset="0.07" stop-color="#352a87"/><stop offset="0.08" stop-color="#352a87"/><stop offset="0.1" stop-color="#352a87"/><stop offset="0.11" stop-color="#352a87"/><stop offset="0.12" stop-color="#352a87"/><stop offset="0.13" stop-color="#352a87"/><stop offset="0.15" stop-color="#352a87"/><stop offset="0.16" stop-color="#352a87"/><stop offset="0.17" stop-color="#352a87"/><stop offset="0.18" stop-color="#352a87"/><stop offset="0.19" stop-color="#352a87"/><stop offset="0.21" stop-color="#352a87"/><stop offset="0.22" stop-color="#352a87"/><stop offset="0.23" stop-color="#352a87"/><stop offset="0.24" stop-color="#352a87"/><stop offset="0.25" stop-color="#352a87"/><stop offset="0.27" stop-color="#352a87"/><stop offset="0.28" stop-color="#352a87"/><stop offset="0.29" stop-color="#352a87"/><stop offset="0.3" stop-color="#352a87"/><stop offset="0.32" stop-color="#352a87"/><stop offset="0.33" stop-color="#352a87"/><stop offset="0.34" stop-color="#352a87"/><stop offset="0.34" stop-color="#0d93d2"/><stop offset="0.35" stop-color="#079dcf"/><stop offset="0.36" stop-color="#06a5c8"/><stop offset="0.38" stop-color="#08aac0"/><stop offset="0.39" stop-color="#11afb8"/><stop offset="0.4" stop-color="#1cb3b0"/><stop offset="0.41" stop-color="#28b6a8"/><stop offset="0.42" stop-color="#33b8a1"/><stop offset="0.44" stop-color="#3eba9a"/><stop offset="0.45" stop-color="#46bb95"/><stop offset="0.46" stop-color="#4dbc92"/><stop offset="0.47" stop-color="#52bd8f"/><stop offset="0.48" stop-color="#54bd8e"/><stop offset="0.5" stop-color="#54bd8e"/><stop offset="0.51" stop-color="#52bd8f"/><stop offset="0.52" stop-color="#4dbc92"/><stop offset="0.53" stop-color="#46bb95"/><stop offset="0.55" stop-color="#3eba9a"/><stop offset="0.56" stop-color="#33b8a1"/><stop offset="0.57" stop-color="#28b6a8"/><stop offset="0.58" stop-color="#1cb3b0"/><stop offset="0.59" stop-color="#11afb8"/><stop offset="0.61" stop-color="#08aac0"/><stop offset="0.62" stop-color="#06a5c8"/><stop offset="0.63" stop-color="#079dcf"/><stop offset="0.64" stop-color="#0e91d2"/><stop offset="0.65" stop-color="#118cd2"/><stop offset="0.65" stop-color="#1481d6"/><stop offset="0.66" stop-color="#0871de"/><stop offset="0.67" stop-color="#2252d2"/><stop offset="0.68" stop-color="#352a87"/><stop offset="0.7" stop-color="#352a87"/><stop offset="0.71" stop-color="#352a87"/><stop offset="0.72" stop-color="#352a87"/><stop offset="0.73" stop-color="#352a87"/><stop offset="0.75" stop-color="#352a87"/><stop offset="0.76" stop-color="#352a87"/><stop offset="0.77" stop-color="#352a87"/><stop offset="0.78" stop-color="#352a87"/><stop offset="0.79" stop-color="#352a87"/><stop offset="0.81" stop-color="#352a87"/><stop offset="0.82" stop-color="#352a87"/><stop offset="0.83" stop-color="#352a87"/><stop offset="0.84" stop-color="#352a87"/><stop offset="0.85" stop-color="#352a87"/><stop offset="0.87" stop-color="#352a87"/><stop offset="0.88" stop-color="#352a87"/><stop offset="0.89" stop-color="#352a87"/><stop offset="0.9" stop-color="#352a87"/><stop offset="0.92" stop-color="#352a87"/><stop offset="0.93" stop-color="#352a87"/><stop offset="0.94" stop-color="#352a87"/><stop offset="0.95" stop-color="#352a87"/><stop offset="0.96" stop-color="#352a87"/><stop offset="0.98" stop-color="#352a87"/><stop offset="0.99" stop-color="#352a87"/></linearGradient><linearGradient id="ga12" gradientUnits="userSpaceOnUse" x1="230" y1="0" x2="560" y2="0"><stop offset="0" stop-color="#352a87"/><stop offset="0.01" stop-color="#352a87"/><stop offset="0.02" stop-color="#352a87"/><stop offset="0.04" stop-color="#352a87"/><stop offset="0.05" stop-color="#352a87"/><stop offset="0.06" stop-color="#352a87"/><stop offset="0.07" stop-color="#352a87"/><stop offset="0.08" stop-color="#352a87"/><stop offset="0.1" stop-color="#352a87"/><stop offset="0.11" stop-color="#352a87"/><stop offset="0.12" stop-color="#352a87"/><stop offset="0.13" stop-color="#352a87"/><stop offset="0.15" stop-color="#352a87"/><stop offset="0.16" stop-color="#352a87"/><stop offset="0.17" stop-color="#352a87"/><stop offset="0.18" stop-color="#352a87"/><stop offset="0.19" stop-color="#352a87"/><stop offset="0.21" stop-color="#352a87"/><stop offset="0.22" stop-color="#352a87"/><stop offset="0.23" stop-color="#352a87"/><stop offset="0.24" stop-color="#352a87"/><stop offset="0.25" stop-color="#352a87"/><stop offset="0.27" stop-color="#352a87"/><stop offset="0.28" stop-color="#352a87"/><stop offset="0.29" stop-color="#352a87"/><stop offset="0.3" stop-color="#352a87"/><stop offset="0.32" stop-color="#352a87"/><stop offset="0.33" stop-color="#352a87"/><stop offset="0.34" stop-color="#352a87"/><stop offset="0.34" stop-color="#137ed7"/><stop offset="0.35" stop-color="#1485d4"/><stop offset="0.36" stop-color="#118dd2"/><stop offset="0.38" stop-color="#0b95d2"/><stop offset="0.39" stop-color="#079cd0"/><stop offset="0.4" stop-color="#06a1cd"/><stop offset="0.41" stop-color="#06a4c9"/><stop offset="0.42" stop-color="#06a7c6"/><stop offset="0.44" stop-color="#07a9c2"/><stop offset="0.45" stop-color="#08abc0"/><stop offset="0.46" stop-color="#0aacbe"/><stop offset="0.47" stop-color="#0badbc"/><stop offset="0.48" stop-color="#0cadbc"/><stop offset="0.5" stop-color="#0cadbc"/><stop offset="0.51" stop-color="#0badbc"/><stop offset="0.52" stop-color="#0aacbe"/><stop offset="0.53" stop-color="#08abc0"/><stop offset="0.55" stop-color="#07a9c2"/><stop offset="0.56" stop-color="#06a7c6"/><stop offset="0.57" stop-color="#06a4c9"/><stop offset="0.58" stop-color="#06a1cd"/><stop offset="0.59" stop-color="#079cd0"/><stop offset="0.61" stop-color="#0b95d2"/><stop offset="0.62" stop-color="#118dd2"/><stop offset="0.63" stop-color="#1485d4"/><stop offset="0.64" stop-color="#137ed7"/><stop offset="0.65" stop-color="#117bd9"/><stop offset="0.65" stop-color="#0c75dd"/><stop offset="0.66" stop-color="#1359db"/><stop offset="0.67" stop-color="#352a87"/><stop offset="0.68" stop-color="#352a87"/><stop offset="0.7" stop-color="#352a87"/><stop offset="0.71" stop-color="#352a87"/><stop offset="0.72" stop-color="#352a87"/><stop offset="0.73" stop-color="#352a87"/><stop offset="0.75" stop-color="#352a87"/><stop offset="0.76" stop-color="#352a87"/><stop offset="0.77" stop-color="#352a87"/><stop offset="0.78" stop-color="#352a87"/><stop offset="0.79" stop-color="#352a87"/><stop offset="0.81" stop-color="#352a87"/><stop offset="0.82" stop-color="#352a87"/><stop offset="0.83" stop-color="#352a87"/><stop offset="0.84" stop-color="#352a87"/><stop offset="0.85" stop-color="#352a87"/><stop offset="0.87" stop-color="#352a87"/><stop offset="0.88" stop-color="#352a87"/><stop offset="0.89" stop-color="#352a87"/><stop offset="0.9" stop-color="#352a87"/><stop offset="0.92" stop-color="#352a87"/><stop offset="0.93" stop-color="#352a87"/><stop offset="0.94" stop-color="#352a87"/><stop offset="0.95" stop-color="#352a87"/><stop offset="0.96" stop-color="#352a87"/><stop offset="0.98" stop-color="#352a87"/><stop offset="0.99" stop-color="#352a87"/></linearGradient><linearGradient id="ga13" gradientUnits="userSpaceOnUse" x1="230" y1="0" x2="560" y2="0"><stop offset="0" stop-color="#352a87"/><stop offset="0.01" stop-color="#352a87"/><stop offset="0.02" stop-color="#352a87"/><stop offset="0.04" stop-color="#352a87"/><stop offset="0.05" stop-color="#352a87"/><stop offset="0.06" stop-color="#352a87"/><stop offset="0.07" stop-color="#352a87"/><stop offset="0.08" stop-color="#352a87"/><stop offset="0.1" stop-color="#352a87"/><stop offset="0.11" stop-color="#352a87"/><stop offset="0.12" stop-color="#352a87"/><stop offset="0.13" stop-color="#352a87"/><stop offset="0.15" stop-color="#352a87"/><stop offset="0.16" stop-color="#352a87"/><stop offset="0.17" stop-color="#352a87"/><stop offset="0.18" stop-color="#352a87"/><stop offset="0.19" stop-color="#352a87"/><stop offset="0.21" stop-color="#352a87"/><stop offset="0.22" stop-color="#352a87"/><stop offset="0.23" stop-color="#352a87"/><stop offset="0.24" stop-color="#352a87"/><stop offset="0.25" stop-color="#352a87"/><stop offset="0.27" stop-color="#352a87"/><stop offset="0.28" stop-color="#352a87"/><stop offset="0.29" stop-color="#352a87"/><stop offset="0.3" stop-color="#352a87"/><stop offset="0.32" stop-color="#352a87"/><stop offset="0.33" stop-color="#352a87"/><stop offset="0.34" stop-color="#352a87"/><stop offset="0.34" stop-color="#066edf"/><stop offset="0.35" stop-color="#0b73dd"/><stop offset="0.36" stop-color="#0f78db"/><stop offset="0.38" stop-color="#127cd8"/><stop offset="0.39" stop-color="#1480d6"/><stop offset="0.4" stop-color="#1484d4"/><stop offset="0.41" stop-color="#1487d3"/><stop offset="0.42" stop-color="#138ad3"/><stop offset="0.44" stop-color="#118dd2"/><stop offset="0.45" stop-color="#108fd2"/><stop offset="0.46" stop-color="#0e91d2"/><stop offset="0.47" stop-color="#0d92d2"/><stop offset="0.48" stop-color="#0d93d2"/><stop offset="0.5" stop-color="#0d93d2"/><stop offset="0.51" stop-color="#0d92d2"/><stop offset="0.52" stop-color="#0e91d2"/><stop offset="0.53" stop-color="#108fd2"/><stop offset="0.55" stop-color="#118dd2"/><stop offset="0.56" stop-color="#138ad3"/><stop offset="0.57" stop-color="#1487d3"/><stop offset="0.58" stop-color="#1484d4"/><stop offset="0.59" stop-color="#1480d6"/><stop offset="0.61" stop-color="#127cd8"/><stop offset="0.62" stop-color="#0f78db"/><stop offset="0.63" stop-color="#0b73dd"/><stop offset="0.64" stop-color="#056de0"/><stop offset="0.65" stop-color="#036be0"/><stop offset="0.65" stop-color="#0267e1"/><stop offset="0.66" stop-color="#3340b3"/><stop offset="0.67" stop-color="#352a87"/><stop offset="0.68" stop-color="#352a87"/><stop offset="0.7" stop-color="#352a87"/><stop offset="0.71" stop-color="#352a87"/><stop offset="0.72" stop-color="#352a87"/><stop offset="0.73" stop-color="#352a87"/><stop offset="0.75" stop-color="#352a87"/><stop offset="0.76" stop-color="#352a87"/><stop offset="0.77" stop-color="#352a87"/><stop offset="0.78" stop-color="#352a87"/><stop offset="0.79" stop-color="#352a87"/><stop offset="0.81" stop-color="#352a87"/><stop offset="0.82" stop-color="#352a87"/><stop offset="0.83" stop-color="#352a87"/><stop offset="0.84" stop-color="#352a87"/><stop offset="0.85" stop-color="#352a87"/><stop offset="0.87" stop-color="#352a87"/><stop offset="0.88" stop-color="#352a87"/><stop offset="0.89" stop-color="#352a87"/><stop offset="0.9" stop-color="#352a87"/><stop offset="0.92" stop-color="#352a87"/><stop offset="0.93" stop-color="#352a87"/><stop offset="0.94" stop-color="#352a87"/><stop offset="0.95" stop-color="#352a87"/><stop offset="0.96" stop-color="#352a87"/><stop offset="0.98" stop-color="#352a87"/><stop offset="0.99" stop-color="#352a87"/></linearGradient><linearGradient id="ga14" gradientUnits="userSpaceOnUse" x1="230" y1="0" x2="560" y2="0"><stop offset="0" stop-color="#352a87"/><stop offset="0.01" stop-color="#352a87"/><stop offset="0.02" stop-color="#352a87"/><stop offset="0.04" stop-color="#352a87"/><stop offset="0.05" stop-color="#352a87"/><stop offset="0.06" stop-color="#352a87"/><stop offset="0.07" stop-color="#352a87"/><stop offset="0.08" stop-color="#352a87"/><stop offset="0.1" stop-color="#352a87"/><stop offset="0.11" stop-color="#352a87"/><stop offset="0.12" stop-color="#352a87"/><stop offset="0.13" stop-color="#352a87"/><stop offset="0.15" stop-color="#352a87"/><stop offset="0.16" stop-color="#352a87"/><stop offset="0.17" stop-color="#352a87"/><stop offset="0.18" stop-color="#352a87"/><stop offset="0.19" stop-color="#352a87"/><stop offset="0.21" stop-color="#352a87"/><stop offset="0.22" stop-color="#352a87"/><stop offset="0.23" stop-color="#352a87"/><stop offset="0.24" stop-color="#352a87"/><stop offset="0.25" stop-color="#352a87"/><stop offset="0.27" stop-color="#352a87"/><stop offset="0.28" stop-color="#352a87"/><stop offset="0.29" stop-color="#352a87"/><stop offset="0.3" stop-color="#352a87"/><stop offset="0.32" stop-color="#352a87"/><stop offset="0.33" stop-color="#352a87"/><stop offset="0.34" stop-color="#352a87"/><stop offset="0.34" stop-color="#115bdc"/><stop offset="0.35" stop-color="#0760e0"/><stop offset="0.36" stop-color="#0265e1"/><stop offset="0.38" stop-color="#0269e1"/><stop offset="0.39" stop-color="#046ce0"/><stop offset="0.4" stop-color="#066fdf"/><stop offset="0.41" stop-color="#0871de"/><stop offset="0.42" stop-color="#0a73dd"/><stop offset="0.44" stop-color="#0c74dd"/><stop offset="0.45" stop-color="#0d75dc"/><stop offset="0.46" stop-color="#0e76dc"/><stop offset="0.47" stop-color="#0e77db"/><stop offset="0.48" stop-color="#0f77db"/><stop offset="0.5" stop-color="#0f77db"/><stop offset="0.51" stop-color="#0e77db"/><stop offset="0.52" stop-color="#0e76dc"/><stop offset="0.53" stop-color="#0d75dc"/><stop offset="0.55" stop-color="#0c74dd"/><stop offset="0.56" stop-color="#0a73dd"/><stop offset="0.57" stop-color="#0871de"/><stop offset="0.58" stop-color="#066fdf"/><stop offset="0.59" stop-color="#046ce0"/><stop offset="0.61" stop-color="#0269e1"/><stop offset="0.62" stop-color="#0265e1"/><stop offset="0.63" stop-color="#0760e0"/><stop offset="0.64" stop-color="#135adb"/><stop offset="0.65" stop-color="#1956d8"/><stop offset="0.65" stop-color="#352a87"/><stop offset="0.66" stop-color="#352a87"/><stop offset="0.67" stop-color="#352a87"/><stop offset="0.68" stop-color="#352a87"/><stop offset="0.7" stop-color="#352a87"/><stop offset="0.71" stop-color="#352a87"/><stop offset="0.72" stop-color="#352a87"/><stop offset="0.73" stop-color="#352a87"/><stop offset="0.75" stop-color="#352a87"/><stop offset="0.76" stop-color="#352a87"/><stop offset="0.77" stop-color="#352a87"/><stop offset="0.78" stop-color="#352a87"/><stop offset="0.79" stop-color="#352a87"/><stop offset="0.81" stop-color="#352a87"/><stop offset="0.82" stop-color="#352a87"/><stop offset="0.83" stop-color="#352a87"/><stop offset="0.84" stop-color="#352a87"/><stop offset="0.85" stop-color="#352a87"/><stop offset="0.87" stop-color="#352a87"/><stop offset="0.88" stop-color="#352a87"/><stop offset="0.89" stop-color="#352a87"/><stop offset="0.9" stop-color="#352a87"/><stop offset="0.92" stop-color="#352a87"/><stop offset="0.93" stop-color="#352a87"/><stop offset="0.94" stop-color="#352a87"/><stop offset="0.95" stop-color="#352a87"/><stop offset="0.96" stop-color="#352a87"/><stop offset="0.98" stop-color="#352a87"/><stop offset="0.99" stop-color="#352a87"/></linearGradient><linearGradient id="ga15" gradientUnits="userSpaceOnUse" x1="230" y1="0" x2="560" y2="0"><stop offset="0" stop-color="#352a87"/><stop offset="0.01" stop-color="#352a87"/><stop offset="0.02" stop-color="#352a87"/><stop offset="0.04" stop-color="#352a87"/><stop offset="0.05" stop-color="#352a87"/><stop offset="0.06" stop-color="#352a87"/><stop offset="0.07" stop-color="#352a87"/><stop offset="0.08" stop-color="#352a87"/><stop offset="0.1" stop-color="#352a87"/><stop offset="0.11" stop-color="#352a87"/><stop offset="0.12" stop-color="#352a87"/><stop offset="0.13" stop-color="#352a87"/><stop offset="0.15" stop-color="#352a87"/><stop offset="0.16" stop-color="#352a87"/><stop offset="0.17" stop-color="#352a87"/><stop offset="0.18" stop-color="#352a87"/><stop offset="0.19" stop-color="#352a87"/><stop offset="0.21" stop-color="#352a87"/><stop offset="0.22" stop-color="#352a87"/><stop offset="0.23" stop-color="#352a87"/><stop offset="0.24" stop-color="#352a87"/><stop offset="0.25" stop-color="#352a87"/><stop offset="0.27" stop-color="#352a87"/><stop offset="0.28" stop-color="#352a87"/><stop offset="0.29" stop-color="#352a87"/><stop offset="0.3" stop-color="#352a87"/><stop offset="0.32" stop-color="#352a87"/><stop offset="0.33" stop-color="#352a87"/><stop offset="0.34" stop-color="#352a87"/><stop offset="0.34" stop-color="#2f47c0"/><stop offset="0.35" stop-color="#2c4ac7"/><stop offset="0.36" stop-color="#264fcd"/><stop offset="0.38" stop-color="#2053d4"/><stop offset="0.39" stop-color="#1957d8"/><stop offset="0.4" stop-color="#125adc"/><stop offset="0.41" stop-color="#0d5dde"/><stop offset="0.42" stop-color="#0a5fdf"/><stop offset="0.44" stop-color="#0761e0"/><stop offset="0.45" stop-color="#0462e1"/><stop offset="0.46" stop-color="#0363e1"/><stop offset="0.47" stop-color="#0364e1"/><stop offset="0.48" stop-color="#0364e1"/><stop offset="0.5" stop-color="#0364e1"/><stop offset="0.51" stop-color="#0364e1"/><stop offset="0.52" stop-color="#0363e1"/><stop offset="0.53" stop-color="#0462e1"/><stop offset="0.55" stop-color="#0761e0"/><stop offset="0.56" stop-color="#0a5fdf"/><stop offset="0.57" stop-color="#0d5dde"/><stop offset="0.58" stop-color="#125adc"/><stop offset="0.59" stop-color="#1957d8"/><stop offset="0.61" stop-color="#2053d4"/><stop offset="0.62" stop-color="#264fcd"/><stop offset="0.63" stop-color="#2c4ac7"/><stop offset="0.64" stop-color="#2f46bf"/><stop offset="0.65" stop-color="#3145bc"/><stop offset="0.65" stop-color="#352a87"/><stop offset="0.66" stop-color="#352a87"/><stop offset="0.67" stop-color="#352a87"/><stop offset="0.68" stop-color="#352a87"/><stop offset="0.7" stop-color="#352a87"/><stop offset="0.71" stop-color="#352a87"/><stop offset="0.72" stop-color="#352a87"/><stop offset="0.73" stop-color="#352a87"/><stop offset="0.75" stop-color="#352a87"/><stop offset="0.76" stop-color="#352a87"/><stop offset="0.77" stop-color="#352a87"/><stop offset="0.78" stop-color="#352a87"/><stop offset="0.79" stop-color="#352a87"/><stop offset="0.81" stop-color="#352a87"/><stop offset="0.82" stop-color="#352a87"/><stop offset="0.83" stop-color="#352a87"/><stop offset="0.84" stop-color="#352a87"/><stop offset="0.85" stop-color="#352a87"/><stop offset="0.87" stop-color="#352a87"/><stop offset="0.88" stop-color="#352a87"/><stop offset="0.89" stop-color="#352a87"/><stop offset="0.9" stop-color="#352a87"/><stop offset="0.92" stop-color="#352a87"/><stop offset="0.93" stop-color="#352a87"/><stop offset="0.94" stop-color="#352a87"/><stop offset="0.95" stop-color="#352a87"/><stop offset="0.96" stop-color="#352a87"/><stop offset="0.98" stop-color="#352a87"/><stop offset="0.99" stop-color="#352a87"/></linearGradient><linearGradient id="ga16" gradientUnits="userSpaceOnUse" x1="230" y1="0" x2="560" y2="0"><stop offset="0" stop-color="#352a87"/><stop offset="0.01" stop-color="#352a87"/><stop offset="0.02" stop-color="#352a87"/><stop offset="0.04" stop-color="#352a87"/><stop offset="0.05" stop-color="#352a87"/><stop offset="0.06" stop-color="#352a87"/><stop offset="0.07" stop-color="#352a87"/><stop offset="0.08" stop-color="#352a87"/><stop offset="0.1" stop-color="#352a87"/><stop offset="0.11" stop-color="#352a87"/><stop offset="0.12" stop-color="#352a87"/><stop offset="0.13" stop-color="#352a87"/><stop offset="0.15" stop-color="#352a87"/><stop offset="0.16" stop-color="#352a87"/><stop offset="0.17" stop-color="#352a87"/><stop offset="0.18" stop-color="#352a87"/><stop offset="0.19" stop-color="#352a87"/><stop offset="0.21" stop-color="#352a87"/><stop offset="0.22" stop-color="#352a87"/><stop offset="0.23" stop-color="#352a87"/><stop offset="0.24" stop-color="#352a87"/><stop offset="0.25" stop-color="#352a87"/><stop offset="0.27" stop-color="#352a87"/><stop offset="0.28" stop-color="#352a87"/><stop offset="0.29" stop-color="#352a87"/><stop offset="0.3" stop-color="#352a87"/><stop offset="0.32" stop-color="#352a87"/><stop offset="0.33" stop-color="#352a87"/><stop offset="0.34" stop-color="#352a87"/><stop offset="0.34" stop-color="#353eae"/><stop offset="0.35" stop-color="#3440b3"/><stop offset="0.36" stop-color="#3342b7"/><stop offset="0.38" stop-color="#3145bc"/><stop offset="0.39" stop-color="#2f47c0"/><stop offset="0.4" stop-color="#2d49c3"/><stop offset="0.41" stop-color="#2c4ac6"/><stop offset="0.42" stop-color="#2a4cc9"/><stop offset="0.44" stop-color="#284dcb"/><stop offset="0.45" stop-color="#264ecd"/><stop offset="0.46" stop-color="#254fce"/><stop offset="0.47" stop-color="#2450cf"/><stop offset="0.48" stop-color="#2450cf"/><stop offset="0.5" stop-color="#2450cf"/><stop offset="0.51" stop-color="#2450cf"/><stop offset="0.52" stop-color="#254fce"/><stop offset="0.53" stop-color="#264ecd"/><stop offset="0.55" stop-color="#284dcb"/><stop offset="0.56" stop-color="#2a4cc9"/><stop offset="0.57" stop-color="#2c4ac6"/><stop offset="0.58" stop-color="#2d49c3"/><stop offset="0.59" stop-color="#2f47c0"/><stop offset="0.61" stop-color="#3145bc"/><stop offset="0.62" stop-color="#3342b7"/><stop offset="0.63" stop-color="#3440b3"/><stop offset="0.64" stop-color="#353dad"/><stop offset="0.65" stop-color="#353cab"/><stop offset="0.65" stop-color="#352a87"/><stop offset="0.66" stop-color="#352a87"/><stop offset="0.67" stop-color="#352a87"/><stop offset="0.68" stop-color="#352a87"/><stop offset="0.7" stop-color="#352a87"/><stop offset="0.71" stop-color="#352a87"/><stop offset="0.72" stop-color="#352a87"/><stop offset="0.73" stop-color="#352a87"/><stop offset="0.75" stop-color="#352a87"/><stop offset="0.76" stop-color="#352a87"/><stop offset="0.77" stop-color="#352a87"/><stop offset="0.78" stop-color="#352a87"/><stop offset="0.79" stop-color="#352a87"/><stop offset="0.81" stop-color="#352a87"/><stop offset="0.82" stop-color="#352a87"/><stop offset="0.83" stop-color="#352a87"/><stop offset="0.84" stop-color="#352a87"/><stop offset="0.85" stop-color="#352a87"/><stop offset="0.87" stop-color="#352a87"/><stop offset="0.88" stop-color="#352a87"/><stop offset="0.89" stop-color="#352a87"/><stop offset="0.9" stop-color="#352a87"/><stop offset="0.92" stop-color="#352a87"/><stop offset="0.93" stop-color="#352a87"/><stop offset="0.94" stop-color="#352a87"/><stop offset="0.95" stop-color="#352a87"/><stop offset="0.96" stop-color="#352a87"/><stop offset="0.98" stop-color="#352a87"/><stop offset="0.99" stop-color="#352a87"/></linearGradient><linearGradient id="ga17" gradientUnits="userSpaceOnUse" x1="230" y1="0" x2="560" y2="0"><stop offset="0" stop-color="#352a87"/><stop offset="0.01" stop-color="#352a87"/><stop offset="0.02" stop-color="#352a87"/><stop offset="0.04" stop-color="#352a87"/><stop offset="0.05" stop-color="#352a87"/><stop offset="0.06" stop-color="#352a87"/><stop offset="0.07" stop-color="#352a87"/><stop offset="0.08" stop-color="#352a87"/><stop offset="0.1" stop-color="#352a87"/><stop offset="0.11" stop-color="#352a87"/><stop offset="0.12" stop-color="#352a87"/><stop offset="0.13" stop-color="#352a87"/><stop offset="0.15" stop-color="#352a87"/><stop offset="0.16" stop-color="#352a87"/><stop offset="0.17" stop-color="#352a87"/><stop offset="0.18" stop-color="#352a87"/><stop offset="0.19" stop-color="#352a87"/><stop offset="0.21" stop-color="#352a87"/><stop offset="0.22" stop-color="#352a87"/><stop offset="0.23" stop-color="#352a87"/><stop offset="0.24" stop-color="#352a87"/><stop offset="0.25" stop-color="#352a87"/><stop offset="0.27" stop-color="#352a87"/><stop offset="0.28" stop-color="#352a87"/><stop offset="0.29" stop-color="#352a87"/><stop offset="0.3" stop-color="#352a87"/><stop offset="0.32" stop-color="#352a87"/><stop offset="0.33" stop-color="#352a87"/><stop offset="0.34" stop-color="#352a87"/><stop offset="0.34" stop-color="#3637a1"/><stop offset="0.35" stop-color="#3638a4"/><stop offset="0.36" stop-color="#363aa7"/><stop offset="0.38" stop-color="#353baa"/><stop offset="0.39" stop-color="#353dac"/><stop offset="0.4" stop-color="#353eaf"/><stop offset="0.41" stop-color="#343fb1"/><stop offset="0.42" stop-color="#3440b2"/><stop offset="0.44" stop-color="#3340b4"/><stop offset="0.45" stop-color="#3341b5"/><stop offset="0.46" stop-color="#3342b6"/><stop offset="0.47" stop-color="#3342b6"/><stop offset="0.48" stop-color="#3342b7"/><stop offset="0.5" stop-color="#3342b7"/><stop offset="0.51" stop-color="#3342b6"/><stop offset="0.52" stop-color="#3342b6"/><stop offset="0.53" stop-color="#3341b5"/><stop offset="0.55" stop-color="#3340b4"/><stop offset="0.56" stop-color="#3440b2"/><stop offset="0.57" stop-color="#343fb1"/><stop offset="0.58" stop-color="#353eaf"/><stop offset="0.59" stop-color="#353dac"/><stop offset="0.61" stop-color="#353baa"/><stop offset="0.62" stop-color="#363aa7"/><stop offset="0.63" stop-color="#3638a4"/><stop offset="0.64" stop-color="#3637a0"/><stop offset="0.65" stop-color="#36369f"/><stop offset="0.65" stop-color="#352a87"/><stop offset="0.66" stop-color="#352a87"/><stop offset="0.67" stop-color="#352a87"/><stop offset="0.68" stop-color="#352a87"/><stop offset="0.7" stop-color="#352a87"/><stop offset="0.71" stop-color="#352a87"/><stop offset="0.72" stop-color="#352a87"/><stop offset="0.73" stop-color="#352a87"/><stop offset="0.75" stop-color="#352a87"/><stop offset="0.76" stop-color="#352a87"/><stop offset="0.77" stop-color="#352a87"/><stop offset="0.78" stop-color="#352a87"/><stop offset="0.79" stop-color="#352a87"/><stop offset="0.81" stop-color="#352a87"/><stop offset="0.82" stop-color="#352a87"/><stop offset="0.83" stop-color="#352a87"/><stop offset="0.84" stop-color="#352a87"/><stop offset="0.85" stop-color="#352a87"/><stop offset="0.87" stop-color="#352a87"/><stop offset="0.88" stop-color="#352a87"/><stop offset="0.89" stop-color="#352a87"/><stop offset="0.9" stop-color="#352a87"/><stop offset="0.92" stop-color="#352a87"/><stop offset="0.93" stop-color="#352a87"/><stop offset="0.94" stop-color="#352a87"/><stop offset="0.95" stop-color="#352a87"/><stop offset="0.96" stop-color="#352a87"/><stop offset="0.98" stop-color="#352a87"/><stop offset="0.99" stop-color="#352a87"/></linearGradient><linearGradient id="ga18" gradientUnits="userSpaceOnUse" x1="230" y1="0" x2="560" y2="0"><stop offset="0" stop-color="#352a87"/><stop offset="0.01" stop-color="#352a87"/><stop offset="0.02" stop-color="#352a87"/><stop offset="0.04" stop-color="#352a87"/><stop offset="0.05" stop-color="#352a87"/><stop offset="0.06" stop-color="#352a87"/><stop offset="0.07" stop-color="#352a87"/><stop offset="0.08" stop-color="#352a87"/><stop offset="0.1" stop-color="#352a87"/><stop offset="0.11" stop-color="#352a87"/><stop offset="0.12" stop-color="#352a87"/><stop offset="0.13" stop-color="#352a87"/><stop offset="0.15" stop-color="#352a87"/><stop offset="0.16" stop-color="#352a87"/><stop offset="0.17" stop-color="#352a87"/><stop offset="0.18" stop-color="#352a87"/><stop offset="0.19" stop-color="#352a87"/><stop offset="0.21" stop-color="#352a87"/><stop offset="0.22" stop-color="#352a87"/><stop offset="0.23" stop-color="#352a87"/><stop offset="0.24" stop-color="#352a87"/><stop offset="0.25" stop-color="#352a87"/><stop offset="0.27" stop-color="#352a87"/><stop offset="0.28" stop-color="#352a87"/><stop offset="0.29" stop-color="#352a87"/><stop offset="0.3" stop-color="#352a87"/><stop offset="0.32" stop-color="#352a87"/><stop offset="0.33" stop-color="#352a87"/><stop offset="0.34" stop-color="#352a87"/><stop offset="0.34" stop-color="#363194"/><stop offset="0.35" stop-color="#363195"/><stop offset="0.36" stop-color="#363297"/><stop offset="0.38" stop-color="#363398"/><stop offset="0.39" stop-color="#363399"/><stop offset="0.4" stop-color="#36349b"/><stop offset="0.41" stop-color="#36349c"/><stop offset="0.42" stop-color="#36359c"/><stop offset="0.44" stop-color="#36359d"/><stop offset="0.45" stop-color="#36359e"/><stop offset="0.46" stop-color="#36369e"/><stop offset="0.47" stop-color="#36369e"/><stop offset="0.48" stop-color="#36369e"/><stop offset="0.5" stop-color="#36369e"/><stop offset="0.51" stop-color="#36369e"/><stop offset="0.52" stop-color="#36369e"/><stop offset="0.53" stop-color="#36359e"/><stop offset="0.55" stop-color="#36359d"/><stop offset="0.56" stop-color="#36359c"/><stop offset="0.57" stop-color="#36349c"/><stop offset="0.58" stop-color="#36349b"/><stop offset="0.59" stop-color="#363399"/><stop offset="0.61" stop-color="#363398"/><stop offset="0.62" stop-color="#363297"/><stop offset="0.63" stop-color="#363195"/><stop offset="0.64" stop-color="#363094"/><stop offset="0.65" stop-color="#363093"/><stop offset="0.65" stop-color="#352a87"/><stop offset="0.66" stop-color="#352a87"/><stop offset="0.67" stop-color="#352a87"/><stop offset="0.68" stop-color="#352a87"/><stop offset="0.7" stop-color="#352a87"/><stop offset="0.71" stop-color="#352a87"/><stop offset="0.72" stop-color="#352a87"/><stop offset="0.73" stop-color="#352a87"/><stop offset="0.75" stop-color="#352a87"/><stop offset="0.76" stop-color="#352a87"/><stop offset="0.77" stop-color="#352a87"/><stop offset="0.78" stop-color="#352a87"/><stop offset="0.79" stop-color="#352a87"/><stop offset="0.81" stop-color="#352a87"/><stop offset="0.82" stop-color="#352a87"/><stop offset="0.83" stop-color="#352a87"/><stop offset="0.84" stop-color="#352a87"/><stop offset="0.85" stop-color="#352a87"/><stop offset="0.87" stop-color="#352a87"/><stop offset="0.88" stop-color="#352a87"/><stop offset="0.89" stop-color="#352a87"/><stop offset="0.9" stop-color="#352a87"/><stop offset="0.92" stop-color="#352a87"/><stop offset="0.93" stop-color="#352a87"/><stop offset="0.94" stop-color="#352a87"/><stop offset="0.95" stop-color="#352a87"/><stop offset="0.96" stop-color="#352a87"/><stop offset="0.98" stop-color="#352a87"/><stop offset="0.99" stop-color="#352a87"/></linearGradient><linearGradient id="ga19" gradientUnits="userSpaceOnUse" x1="230" y1="0" x2="560" y2="0"><stop offset="0" stop-color="#352a87"/><stop offset="0.01" stop-color="#352a87"/><stop offset="0.02" stop-color="#352a87"/><stop offset="0.04" stop-color="#352a87"/><stop offset="0.05" stop-color="#352a87"/><stop offset="0.06" stop-color="#352a87"/><stop offset="0.07" stop-color="#352a87"/><stop offset="0.08" stop-color="#352a87"/><stop offset="0.1" stop-color="#352a87"/><stop offset="0.11" stop-color="#352a87"/><stop offset="0.12" stop-color="#352a87"/><stop offset="0.13" stop-color="#352a87"/><stop offset="0.15" stop-color="#352a87"/><stop offset="0.16" stop-color="#352a87"/><stop offset="0.17" stop-color="#352a87"/><stop offset="0.18" stop-color="#352a87"/><stop offset="0.19" stop-color="#352a87"/><stop offset="0.21" stop-color="#352a87"/><stop offset="0.22" stop-color="#352a87"/><stop offset="0.23" stop-color="#352a87"/><stop offset="0.24" stop-color="#352a87"/><stop offset="0.25" stop-color="#352a87"/><stop offset="0.27" stop-color="#352a87"/><stop offset="0.28" stop-color="#352a87"/><stop offset="0.29" stop-color="#352a87"/><stop offset="0.3" stop-color="#352a87"/><stop offset="0.32" stop-color="#352a87"/><stop offset="0.33" stop-color="#352a87"/><stop offset="0.34" stop-color="#352a87"/><stop offset="0.34" stop-color="#352a87"/><stop offset="0.35" stop-color="#352a87"/><stop offset="0.36" stop-color="#352a87"/><stop offset="0.38" stop-color="#352a87"/><stop offset="0.39" stop-color="#352a87"/><stop offset="0.4" stop-color="#352a87"/><stop offset="0.41" stop-color="#352a87"/><stop offset="0.42" stop-color="#352a87"/><stop offset="0.44" stop-color="#352a87"/><stop offset="0.45" stop-color="#352a87"/><stop offset="0.46" stop-color="#352a87"/><stop offset="0.47" stop-color="#352a87"/><stop offset="0.48" stop-color="#352a87"/><stop offset="0.5" stop-color="#352a87"/><stop offset="0.51" stop-color="#352a87"/><stop offset="0.52" stop-color="#352a87"/><stop offset="0.53" stop-color="#352a87"/><stop offset="0.55" stop-color="#352a87"/><stop offset="0.56" stop-color="#352a87"/><stop offset="0.57" stop-color="#352a87"/><stop offset="0.58" stop-color="#352a87"/><stop offset="0.59" stop-color="#352a87"/><stop offset="0.61" stop-color="#352a87"/><stop offset="0.62" stop-color="#352a87"/><stop offset="0.63" stop-color="#352a87"/><stop offset="0.64" stop-color="#352a87"/><stop offset="0.65" stop-color="#352a87"/><stop offset="0.65" stop-color="#352a87"/><stop offset="0.66" stop-color="#352a87"/><stop offset="0.67" stop-color="#352a87"/><stop offset="0.68" stop-color="#352a87"/><stop offset="0.7" stop-color="#352a87"/><stop offset="0.71" stop-color="#352a87"/><stop offset="0.72" stop-color="#352a87"/><stop offset="0.73" stop-color="#352a87"/><stop offset="0.75" stop-color="#352a87"/><stop offset="0.76" stop-color="#352a87"/><stop offset="0.77" stop-color="#352a87"/><stop offset="0.78" stop-color="#352a87"/><stop offset="0.79" stop-color="#352a87"/><stop offset="0.81" stop-color="#352a87"/><stop offset="0.82" stop-color="#352a87"/><stop offset="0.83" stop-color="#352a87"/><stop offset="0.84" stop-color="#352a87"/><stop offset="0.85" stop-color="#352a87"/><stop offset="0.87" stop-color="#352a87"/><stop offset="0.88" stop-color="#352a87"/><stop offset="0.89" stop-color="#352a87"/><stop offset="0.9" stop-color="#352a87"/><stop offset="0.92" stop-color="#352a87"/><stop offset="0.93" stop-color="#352a87"/><stop offset="0.94" stop-color="#352a87"/><stop offset="0.95" stop-color="#352a87"/><stop offset="0.96" stop-color="#352a87"/><stop offset="0.98" stop-color="#352a87"/><stop offset="0.99" stop-color="#352a87"/></linearGradient><linearGradient id="ga20" gradientUnits="userSpaceOnUse" x1="230" y1="0" x2="560" y2="0"><stop offset="0" stop-color="#352a87"/><stop offset="0.01" stop-color="#352a87"/><stop offset="0.02" stop-color="#352a87"/><stop offset="0.04" stop-color="#352a87"/><stop offset="0.05" stop-color="#352a87"/><stop offset="0.06" stop-color="#352a87"/><stop offset="0.07" stop-color="#352a87"/><stop offset="0.08" stop-color="#352a87"/><stop offset="0.1" stop-color="#352a87"/><stop offset="0.11" stop-color="#352a87"/><stop offset="0.12" stop-color="#352a87"/><stop offset="0.13" stop-color="#352a87"/><stop offset="0.15" stop-color="#352a87"/><stop offset="0.16" stop-color="#352a87"/><stop offset="0.17" stop-color="#352a87"/><stop offset="0.18" stop-color="#352a87"/><stop offset="0.19" stop-color="#352a87"/><stop offset="0.21" stop-color="#352a87"/><stop offset="0.22" stop-color="#352a87"/><stop offset="0.23" stop-color="#352a87"/><stop offset="0.24" stop-color="#352a87"/><stop offset="0.25" stop-color="#352a87"/><stop offset="0.27" stop-color="#352a87"/><stop offset="0.28" stop-color="#352a87"/><stop offset="0.29" stop-color="#352a87"/><stop offset="0.3" stop-color="#352a87"/><stop offset="0.32" stop-color="#352a87"/><stop offset="0.33" stop-color="#352a87"/><stop offset="0.34" stop-color="#352a87"/><stop offset="0.34" stop-color="#352a87"/><stop offset="0.35" stop-color="#352a87"/><stop offset="0.36" stop-color="#352a87"/><stop offset="0.38" stop-color="#352a87"/><stop offset="0.39" stop-color="#352a87"/><stop offset="0.4" stop-color="#352a87"/><stop offset="0.41" stop-color="#352a87"/><stop offset="0.42" stop-color="#352a87"/><stop offset="0.44" stop-color="#352a87"/><stop offset="0.45" stop-color="#352a87"/><stop offset="0.46" stop-color="#352a87"/><stop offset="0.47" stop-color="#352a87"/><stop offset="0.48" stop-color="#352a87"/><stop offset="0.5" stop-color="#352a87"/><stop offset="0.51" stop-color="#352a87"/><stop offset="0.52" stop-color="#352a87"/><stop offset="0.53" stop-color="#352a87"/><stop offset="0.55" stop-color="#352a87"/><stop offset="0.56" stop-color="#352a87"/><stop offset="0.57" stop-color="#352a87"/><stop offset="0.58" stop-color="#352a87"/><stop offset="0.59" stop-color="#352a87"/><stop offset="0.61" stop-color="#352a87"/><stop offset="0.62" stop-color="#352a87"/><stop offset="0.63" stop-color="#352a87"/><stop offset="0.64" stop-color="#352a87"/><stop offset="0.65" stop-color="#352a87"/><stop offset="0.65" stop-color="#352a87"/><stop offset="0.66" stop-color="#352a87"/><stop offset="0.67" stop-color="#352a87"/><stop offset="0.68" stop-color="#352a87"/><stop offset="0.7" stop-color="#352a87"/><stop offset="0.71" stop-color="#352a87"/><stop offset="0.72" stop-color="#352a87"/><stop offset="0.73" stop-color="#352a87"/><stop offset="0.75" stop-color="#352a87"/><stop offset="0.76" stop-color="#352a87"/><stop offset="0.77" stop-color="#352a87"/><stop offset="0.78" stop-color="#352a87"/><stop offset="0.79" stop-color="#352a87"/><stop offset="0.81" stop-color="#352a87"/><stop offset="0.82" stop-color="#352a87"/><stop offset="0.83" stop-color="#352a87"/><stop offset="0.84" stop-color="#352a87"/><stop offset="0.85" stop-color="#352a87"/><stop offset="0.87" stop-color="#352a87"/><stop offset="0.88" stop-color="#352a87"/><stop offset="0.89" stop-color="#352a87"/><stop offset="0.9" stop-color="#352a87"/><stop offset="0.92" stop-color="#352a87"/><stop offset="0.93" stop-color="#352a87"/><stop offset="0.94" stop-color="#352a87"/><stop offset="0.95" stop-color="#352a87"/><stop offset="0.96" stop-color="#352a87"/><stop offset="0.98" stop-color="#352a87"/><stop offset="0.99" stop-color="#352a87"/></linearGradient><linearGradient id="gAsia4" gradientUnits="userSpaceOnUse" x1="952.2" y1="0" x2="1074.98" y2="0"><stop offset="0" stop-color="#9898d0"/><stop offset="0.04" stop-color="#9898d0"/><stop offset="0.08" stop-color="#9898d0"/><stop offset="0.12" stop-color="#9898d0"/><stop offset="0.17" stop-color="#9898d0"/><stop offset="0.21" stop-color="#9898d0"/><stop offset="0.25" stop-color="#9898d0"/><stop offset="0.29" stop-color="#9798d1"/><stop offset="0.33" stop-color="#9699d1"/><stop offset="0.38" stop-color="#9399d3"/><stop offset="0.42" stop-color="#8e9bd6"/><stop offset="0.46" stop-color="#869ddb"/><stop offset="0.5" stop-color="#78a1e3"/><stop offset="0.54" stop-color="#68a7ec"/><stop offset="0.58" stop-color="#72b3e6"/><stop offset="0.62" stop-color="#6ac4e2"/><stop offset="0.67" stop-color="#72d0d3"/><stop offset="0.71" stop-color="#92d7be"/><stop offset="0.75" stop-color="#b2d9af"/><stop offset="0.79" stop-color="#c0d9aa"/><stop offset="0.83" stop-color="#bbd9ac"/><stop offset="0.88" stop-color="#a0d8b8"/><stop offset="0.92" stop-color="#78d1ce"/><stop offset="0.96" stop-color="#6ac5e2"/><stop offset="1" stop-color="#72b3e6"/></linearGradient><linearGradient id="gAsia5" gradientUnits="userSpaceOnUse" x1="952.2" y1="0" x2="1087.94" y2="0"><stop offset="0" stop-color="#9898d0"/><stop offset="0.04" stop-color="#9898d0"/><stop offset="0.08" stop-color="#9898d0"/><stop offset="0.12" stop-color="#9898d0"/><stop offset="0.17" stop-color="#9898d0"/><stop offset="0.21" stop-color="#9898d0"/><stop offset="0.25" stop-color="#9798d1"/><stop offset="0.29" stop-color="#9699d1"/><stop offset="0.33" stop-color="#929ad3"/><stop offset="0.38" stop-color="#8c9bd7"/><stop offset="0.42" stop-color="#809fdf"/><stop offset="0.46" stop-color="#6ca4ea"/><stop offset="0.5" stop-color="#71b2e7"/><stop offset="0.54" stop-color="#6ac7e1"/><stop offset="0.58" stop-color="#82d4c8"/><stop offset="0.62" stop-color="#bdd9ab"/><stop offset="0.67" stop-color="#e5d69b"/><stop offset="0.71" stop-color="#f8d691"/><stop offset="0.75" stop-color="#f7d592"/><stop offset="0.79" stop-color="#dbd79f"/><stop offset="0.83" stop-color="#a4d8b6"/><stop offset="0.88" stop-color="#6bcdd9"/><stop offset="0.92" stop-color="#72b7e5"/><stop offset="0.96" stop-color="#68a6ed"/><stop offset="1" stop-color="#809fdf"/></linearGradient><linearGradient id="gAsia6" gradientUnits="userSpaceOnUse" x1="952.2" y1="0" x2="1101.82" y2="0"><stop offset="0" stop-color="#9898d0"/><stop offset="0.04" stop-color="#9898d0"/><stop offset="0.08" stop-color="#9898d0"/><stop offset="0.12" stop-color="#9898d0"/><stop offset="0.17" stop-color="#9898d0"/><stop offset="0.21" stop-color="#9798d0"/><stop offset="0.25" stop-color="#9699d1"/><stop offset="0.29" stop-color="#9399d3"/><stop offset="0.33" stop-color="#8c9bd7"/><stop offset="0.38" stop-color="#7da0e0"/><stop offset="0.42" stop-color="#69a7ec"/><stop offset="0.46" stop-color="#70bae4"/><stop offset="0.5" stop-color="#72d0d3"/><stop offset="0.54" stop-color="#b9d9ac"/><stop offset="0.58" stop-color="#f4d594"/><stop offset="0.62" stop-color="#fbe77d"/><stop offset="0.67" stop-color="#f9ef77"/><stop offset="0.71" stop-color="#fedd85"/><stop offset="0.75" stop-color="#d3d7a3"/><stop offset="0.79" stop-color="#7fd3ca"/><stop offset="0.83" stop-color="#6ebde4"/><stop offset="0.88" stop-color="#68a7ec"/><stop offset="0.92" stop-color="#809fde"/><stop offset="0.96" stop-color="#8e9bd6"/><stop offset="1" stop-color="#9599d2"/></linearGradient><linearGradient id="gAsia7" gradientUnits="userSpaceOnUse" x1="952.2" y1="0" x2="1101.82" y2="0"><stop offset="0" stop-color="#9898d0"/><stop offset="0.04" stop-color="#9898d0"/><stop offset="0.08" stop-color="#9898d0"/><stop offset="0.12" stop-color="#9898d0"/><stop offset="0.17" stop-color="#9898d0"/><stop offset="0.21" stop-color="#9798d0"/><stop offset="0.25" stop-color="#9699d1"/><stop offset="0.29" stop-color="#939ad3"/><stop offset="0.33" stop-color="#8b9cd8"/><stop offset="0.38" stop-color="#7ca0e1"/><stop offset="0.42" stop-color="#6aa9ec"/><stop offset="0.46" stop-color="#6ebde4"/><stop offset="0.5" stop-color="#79d1ce"/><stop offset="0.54" stop-color="#c5d8a7"/><stop offset="0.58" stop-color="#fed78b"/><stop offset="0.62" stop-color="#f9f275"/><stop offset="0.67" stop-color="#fbfc6e"/><stop offset="0.71" stop-color="#fbe67e"/><stop offset="0.75" stop-color="#ded79e"/><stop offset="0.79" stop-color="#88d5c5"/><stop offset="0.83" stop-color="#6cc0e3"/><stop offset="0.88" stop-color="#6aa8ec"/><stop offset="0.92" stop-color="#7f9fdf"/><stop offset="0.96" stop-color="#8e9bd6"/><stop offset="1" stop-color="#9499d2"/></linearGradient><linearGradient id="gAsia8" gradientUnits="userSpaceOnUse" x1="952.2" y1="0" x2="1109.54" y2="0"><stop offset="0" stop-color="#9898d0"/><stop offset="0.04" stop-color="#9898d0"/><stop offset="0.08" stop-color="#9898d0"/><stop offset="0.12" stop-color="#9898d0"/><stop offset="0.17" stop-color="#9898d0"/><stop offset="0.21" stop-color="#9798d1"/><stop offset="0.25" stop-color="#9599d2"/><stop offset="0.29" stop-color="#919ad4"/><stop offset="0.33" stop-color="#869ddb"/><stop offset="0.38" stop-color="#72a3e7"/><stop offset="0.42" stop-color="#71b1e8"/><stop offset="0.46" stop-color="#6acadd"/><stop offset="0.5" stop-color="#a2d8b6"/><stop offset="0.54" stop-color="#e9d699"/><stop offset="0.58" stop-color="#fbe77d"/><stop offset="0.62" stop-color="#faf673"/><stop offset="0.67" stop-color="#fbe77d"/><stop offset="0.71" stop-color="#e1d69d"/><stop offset="0.75" stop-color="#89d5c4"/><stop offset="0.79" stop-color="#6dbfe4"/><stop offset="0.83" stop-color="#68a7ec"/><stop offset="0.88" stop-color="#819ede"/><stop offset="0.92" stop-color="#8f9ad5"/><stop offset="0.96" stop-color="#9599d2"/><stop offset="1" stop-color="#9798d0"/></linearGradient><linearGradient id="gAsia9" gradientUnits="userSpaceOnUse" x1="952.2" y1="0" x2="1113.85" y2="0"><stop offset="0" stop-color="#9898d0"/><stop offset="0.04" stop-color="#9898d0"/><stop offset="0.08" stop-color="#9898d0"/><stop offset="0.12" stop-color="#9898d0"/><stop offset="0.17" stop-color="#9898d0"/><stop offset="0.21" stop-color="#9798d1"/><stop offset="0.25" stop-color="#9599d2"/><stop offset="0.29" stop-color="#909ad5"/><stop offset="0.33" stop-color="#849edc"/><stop offset="0.38" stop-color="#6ea4e9"/><stop offset="0.42" stop-color="#72b4e6"/><stop offset="0.46" stop-color="#6bcdd9"/><stop offset="0.5" stop-color="#add9b2"/><stop offset="0.54" stop-color="#ecd698"/><stop offset="0.58" stop-color="#fde281"/><stop offset="0.62" stop-color="#fbe57f"/><stop offset="0.67" stop-color="#f2d595"/><stop offset="0.71" stop-color="#add9b2"/><stop offset="0.75" stop-color="#6acadd"/><stop offset="0.79" stop-color="#70afe9"/><stop offset="0.83" stop-color="#79a1e3"/><stop offset="0.88" stop-color="#8c9bd7"/><stop offset="0.92" stop-color="#9499d3"/><stop offset="0.96" stop-color="#9798d1"/><stop offset="1" stop-color="#9898d0"/></linearGradient><linearGradient id="gAsia10" gradientUnits="userSpaceOnUse" x1="952.2" y1="0" x2="1118.17" y2="0"><stop offset="0" stop-color="#9898d0"/><stop offset="0.04" stop-color="#9898d0"/><stop offset="0.08" stop-color="#9898d0"/><stop offset="0.12" stop-color="#9898d0"/><stop offset="0.17" stop-color="#9898d0"/><stop offset="0.21" stop-color="#9798d1"/><stop offset="0.25" stop-color="#9599d2"/><stop offset="0.29" stop-color="#8f9ad5"/><stop offset="0.33" stop-color="#839edd"/><stop offset="0.38" stop-color="#6ca4eb"/><stop offset="0.42" stop-color="#72b6e5"/><stop offset="0.46" stop-color="#6ccdd8"/><stop offset="0.5" stop-color="#aad9b3"/><stop offset="0.54" stop-color="#e2d69c"/><stop offset="0.58" stop-color="#f9d690"/><stop offset="0.62" stop-color="#f0d596"/><stop offset="0.67" stop-color="#c0d9aa"/><stop offset="0.71" stop-color="#73d0d2"/><stop offset="0.75" stop-color="#72b6e5"/><stop offset="0.79" stop-color="#6fa4e9"/><stop offset="0.83" stop-color="#879dda"/><stop offset="0.88" stop-color="#929ad4"/><stop offset="0.92" stop-color="#9699d1"/><stop offset="0.96" stop-color="#9898d0"/><stop offset="1" stop-color="#9898d0"/></linearGradient><linearGradient id="gAsia11" gradientUnits="userSpaceOnUse" x1="975.95" y1="0" x2="1114.16" y2="0"><stop offset="0" stop-color="#9898d0"/><stop offset="0.04" stop-color="#9898d0"/><stop offset="0.08" stop-color="#9798d1"/><stop offset="0.12" stop-color="#9599d2"/><stop offset="0.17" stop-color="#929ad4"/><stop offset="0.21" stop-color="#8b9cd8"/><stop offset="0.25" stop-color="#7f9fdf"/><stop offset="0.29" stop-color="#6ba5eb"/><stop offset="0.33" stop-color="#71b2e7"/><stop offset="0.38" stop-color="#6ac5e2"/><stop offset="0.42" stop-color="#7ad2cd"/><stop offset="0.46" stop-color="#aad9b3"/><stop offset="0.5" stop-color="#ccd8a5"/><stop offset="0.54" stop-color="#d7d7a1"/><stop offset="0.58" stop-color="#cad8a6"/><stop offset="0.62" stop-color="#9fd8b8"/><stop offset="0.67" stop-color="#6eced6"/><stop offset="0.71" stop-color="#70bbe4"/><stop offset="0.75" stop-color="#6aa9ec"/><stop offset="0.79" stop-color="#7ba0e1"/><stop offset="0.83" stop-color="#8a9cd8"/><stop offset="0.88" stop-color="#929ad3"/><stop offset="0.92" stop-color="#9699d1"/><stop offset="0.96" stop-color="#9798d0"/><stop offset="1" stop-color="#9898d0"/></linearGradient><linearGradient id="gAsia12" gradientUnits="userSpaceOnUse" x1="975.95" y1="0" x2="1113.39" y2="0"><stop offset="0" stop-color="#9898d0"/><stop offset="0.04" stop-color="#9898d0"/><stop offset="0.08" stop-color="#9798d0"/><stop offset="0.12" stop-color="#9699d1"/><stop offset="0.17" stop-color="#9399d3"/><stop offset="0.21" stop-color="#8e9bd6"/><stop offset="0.25" stop-color="#849edc"/><stop offset="0.29" stop-color="#74a2e6"/><stop offset="0.33" stop-color="#6daceb"/><stop offset="0.38" stop-color="#71bae4"/><stop offset="0.42" stop-color="#6acadd"/><stop offset="0.46" stop-color="#7dd3cb"/><stop offset="0.5" stop-color="#9ad7bb"/><stop offset="0.54" stop-color="#a7d9b4"/><stop offset="0.58" stop-color="#9bd7ba"/><stop offset="0.62" stop-color="#7bd2cd"/><stop offset="0.67" stop-color="#6ac7e0"/><stop offset="0.71" stop-color="#72b4e6"/><stop offset="0.75" stop-color="#69a5ec"/><stop offset="0.79" stop-color="#7e9fdf"/><stop offset="0.83" stop-color="#8c9bd7"/><stop offset="0.88" stop-color="#9399d3"/><stop offset="0.92" stop-color="#9699d1"/><stop offset="0.96" stop-color="#9798d0"/><stop offset="1" stop-color="#9898d0"/></linearGradient><linearGradient id="gAsia13" gradientUnits="userSpaceOnUse" x1="975.95" y1="0" x2="1115.01" y2="0"><stop offset="0" stop-color="#9898d0"/><stop offset="0.04" stop-color="#9898d0"/><stop offset="0.08" stop-color="#9798d0"/><stop offset="0.12" stop-color="#9698d1"/><stop offset="0.17" stop-color="#9499d2"/><stop offset="0.21" stop-color="#8f9ad5"/><stop offset="0.25" stop-color="#879dda"/><stop offset="0.29" stop-color="#7aa0e2"/><stop offset="0.33" stop-color="#68a6ec"/><stop offset="0.38" stop-color="#71b2e7"/><stop offset="0.42" stop-color="#6cc0e3"/><stop offset="0.46" stop-color="#6acbdc"/><stop offset="0.5" stop-color="#72d0d3"/><stop offset="0.54" stop-color="#77d1d0"/><stop offset="0.58" stop-color="#6fced5"/><stop offset="0.62" stop-color="#6ac7e0"/><stop offset="0.67" stop-color="#71b8e5"/><stop offset="0.71" stop-color="#6baaeb"/><stop offset="0.75" stop-color="#77a1e4"/><stop offset="0.79" stop-color="#879dda"/><stop offset="0.83" stop-color="#909ad5"/><stop offset="0.88" stop-color="#9599d2"/><stop offset="0.92" stop-color="#9798d1"/><stop offset="0.96" stop-color="#9898d0"/><stop offset="1" stop-color="#9898d0"/></linearGradient><linearGradient id="gAsia14" gradientUnits="userSpaceOnUse" x1="975.95" y1="0" x2="1116.63" y2="0"><stop offset="0" stop-color="#9898d0"/><stop offset="0.04" stop-color="#9898d0"/><stop offset="0.08" stop-color="#9798d0"/><stop offset="0.12" stop-color="#9798d1"/><stop offset="0.17" stop-color="#9599d2"/><stop offset="0.21" stop-color="#919ad4"/><stop offset="0.25" stop-color="#8b9cd8"/><stop offset="0.29" stop-color="#809fde"/><stop offset="0.33" stop-color="#72a3e7"/><stop offset="0.38" stop-color="#6baaeb"/><stop offset="0.42" stop-color="#72b3e6"/><stop offset="0.46" stop-color="#6ebee4"/><stop offset="0.5" stop-color="#6ac4e2"/><stop offset="0.54" stop-color="#6ac5e2"/><stop offset="0.58" stop-color="#6bc1e3"/><stop offset="0.62" stop-color="#72b6e5"/><stop offset="0.67" stop-color="#6daceb"/><stop offset="0.71" stop-color="#71a3e7"/><stop offset="0.75" stop-color="#829edd"/><stop offset="0.79" stop-color="#8d9bd7"/><stop offset="0.83" stop-color="#9399d3"/><stop offset="0.88" stop-color="#9699d1"/><stop offset="0.92" stop-color="#9798d0"/><stop offset="0.96" stop-color="#9898d0"/><stop offset="1" stop-color="#9898d0"/></linearGradient><linearGradient id="gAsia15" gradientUnits="userSpaceOnUse" x1="982.2" y1="0" x2="1119.25" y2="0"><stop offset="0" stop-color="#9898d0"/><stop offset="0.04" stop-color="#9898d0"/><stop offset="0.08" stop-color="#9798d1"/><stop offset="0.12" stop-color="#9699d1"/><stop offset="0.17" stop-color="#9399d3"/><stop offset="0.21" stop-color="#8f9bd6"/><stop offset="0.25" stop-color="#889dda"/><stop offset="0.29" stop-color="#7e9fe0"/><stop offset="0.33" stop-color="#71a3e8"/><stop offset="0.38" stop-color="#6aa9ec"/><stop offset="0.42" stop-color="#70afe9"/><stop offset="0.46" stop-color="#72b3e6"/><stop offset="0.5" stop-color="#72b5e5"/><stop offset="0.54" stop-color="#72b3e6"/><stop offset="0.58" stop-color="#6fade9"/><stop offset="0.62" stop-color="#68a6ed"/><stop offset="0.67" stop-color="#77a1e4"/><stop offset="0.71" stop-color="#849edc"/><stop offset="0.75" stop-color="#8d9bd6"/><stop offset="0.79" stop-color="#9399d3"/><stop offset="0.83" stop-color="#9699d1"/><stop offset="0.88" stop-color="#9798d1"/><stop offset="0.92" stop-color="#9898d0"/><stop offset="0.96" stop-color="#9898d0"/><stop offset="1" stop-color="#9898d0"/></linearGradient><linearGradient id="gAsia16" gradientUnits="userSpaceOnUse" x1="988.45" y1="0" x2="1121.88" y2="0"><stop offset="0" stop-color="#9898d0"/><stop offset="0.04" stop-color="#9798d0"/><stop offset="0.08" stop-color="#9698d1"/><stop offset="0.12" stop-color="#9599d2"/><stop offset="0.17" stop-color="#929ad4"/><stop offset="0.21" stop-color="#8d9bd7"/><stop offset="0.25" stop-color="#869ddb"/><stop offset="0.29" stop-color="#7e9fe0"/><stop offset="0.33" stop-color="#74a2e6"/><stop offset="0.38" stop-color="#6ba5eb"/><stop offset="0.42" stop-color="#69a8ec"/><stop offset="0.46" stop-color="#6ba9ec"/><stop offset="0.5" stop-color="#6aa9ec"/><stop offset="0.54" stop-color="#69a5ec"/><stop offset="0.58" stop-color="#73a2e6"/><stop offset="0.62" stop-color="#7e9fe0"/><stop offset="0.67" stop-color="#889dda"/><stop offset="0.71" stop-color="#8f9bd6"/><stop offset="0.75" stop-color="#9399d3"/><stop offset="0.79" stop-color="#9699d1"/><stop offset="0.83" stop-color="#9798d1"/><stop offset="0.88" stop-color="#9898d0"/><stop offset="0.92" stop-color="#9898d0"/><stop offset="0.96" stop-color="#9898d0"/><stop offset="1" stop-color="#9898d0"/></linearGradient><linearGradient id="gAsia17" gradientUnits="userSpaceOnUse" x1="994" y1="0" x2="1123.42" y2="0"><stop offset="0" stop-color="#9898d0"/><stop offset="0.04" stop-color="#9798d1"/><stop offset="0.08" stop-color="#9699d1"/><stop offset="0.12" stop-color="#9499d2"/><stop offset="0.17" stop-color="#919ad4"/><stop offset="0.21" stop-color="#8d9bd7"/><stop offset="0.25" stop-color="#889dda"/><stop offset="0.29" stop-color="#829edd"/><stop offset="0.33" stop-color="#7ca0e1"/><stop offset="0.38" stop-color="#77a1e4"/><stop offset="0.42" stop-color="#74a2e6"/><stop offset="0.46" stop-color="#74a2e6"/><stop offset="0.5" stop-color="#77a1e4"/><stop offset="0.54" stop-color="#7da0e0"/><stop offset="0.58" stop-color="#849edc"/><stop offset="0.62" stop-color="#8a9cd8"/><stop offset="0.67" stop-color="#909ad5"/><stop offset="0.71" stop-color="#9399d3"/><stop offset="0.75" stop-color="#9699d1"/><stop offset="0.79" stop-color="#9798d1"/><stop offset="0.83" stop-color="#9898d0"/><stop offset="0.88" stop-color="#9898d0"/><stop offset="0.92" stop-color="#9898d0"/><stop offset="0.96" stop-color="#9898d0"/><stop offset="1" stop-color="#9898d0"/></linearGradient><linearGradient id="gAsia18" gradientUnits="userSpaceOnUse" x1="999.55" y1="0" x2="1124.96" y2="0"><stop offset="0" stop-color="#9798d0"/><stop offset="0.04" stop-color="#9798d1"/><stop offset="0.08" stop-color="#9699d1"/><stop offset="0.12" stop-color="#9499d3"/><stop offset="0.17" stop-color="#919ad4"/><stop offset="0.21" stop-color="#8e9bd6"/><stop offset="0.25" stop-color="#8a9cd8"/><stop offset="0.29" stop-color="#879dda"/><stop offset="0.33" stop-color="#839edc"/><stop offset="0.38" stop-color="#819ede"/><stop offset="0.42" stop-color="#819fde"/><stop offset="0.46" stop-color="#829edd"/><stop offset="0.5" stop-color="#859ddb"/><stop offset="0.54" stop-color="#8a9cd9"/><stop offset="0.58" stop-color="#8e9bd6"/><stop offset="0.62" stop-color="#919ad4"/><stop offset="0.67" stop-color="#9499d2"/><stop offset="0.71" stop-color="#9699d1"/><stop offset="0.75" stop-color="#9798d1"/><stop offset="0.79" stop-color="#9898d0"/><stop offset="0.83" stop-color="#9898d0"/><stop offset="0.88" stop-color="#9898d0"/><stop offset="0.92" stop-color="#9898d0"/><stop offset="0.96" stop-color="#9898d0"/><stop offset="1" stop-color="#9898d0"/></linearGradient><linearGradient id="gAsia19" gradientUnits="userSpaceOnUse" x1="1005.11" y1="0" x2="1126.5" y2="0"><stop offset="0" stop-color="#9798d1"/><stop offset="0.04" stop-color="#9698d1"/><stop offset="0.08" stop-color="#9599d2"/><stop offset="0.12" stop-color="#9499d2"/><stop offset="0.17" stop-color="#929ad4"/><stop offset="0.21" stop-color="#909ad5"/><stop offset="0.25" stop-color="#8e9bd6"/><stop offset="0.29" stop-color="#8c9bd7"/><stop offset="0.33" stop-color="#8a9cd8"/><stop offset="0.38" stop-color="#8a9cd8"/><stop offset="0.42" stop-color="#8a9cd8"/><stop offset="0.46" stop-color="#8c9bd7"/><stop offset="0.5" stop-color="#8e9bd6"/><stop offset="0.54" stop-color="#919ad4"/><stop offset="0.58" stop-color="#9399d3"/><stop offset="0.62" stop-color="#9599d2"/><stop offset="0.67" stop-color="#9698d1"/><stop offset="0.71" stop-color="#9798d1"/><stop offset="0.75" stop-color="#9898d0"/><stop offset="0.79" stop-color="#9898d0"/><stop offset="0.83" stop-color="#9898d0"/><stop offset="0.88" stop-color="#9898d0"/><stop offset="0.92" stop-color="#9898d0"/><stop offset="0.96" stop-color="#9898d0"/><stop offset="1" stop-color="#9898d0"/></linearGradient><linearGradient id="gNA4" gradientUnits="userSpaceOnUse" x1="1247.3" y1="0" x2="1373.48" y2="0"><stop offset="0" stop-color="#9898d0"/><stop offset="0.04" stop-color="#9898d0"/><stop offset="0.08" stop-color="#9898d0"/><stop offset="0.12" stop-color="#9898d0"/><stop offset="0.17" stop-color="#9898d0"/><stop offset="0.21" stop-color="#9898d0"/><stop offset="0.25" stop-color="#9898d0"/><stop offset="0.29" stop-color="#9798d1"/><stop offset="0.33" stop-color="#9599d2"/><stop offset="0.38" stop-color="#929ad4"/><stop offset="0.42" stop-color="#8c9bd7"/><stop offset="0.46" stop-color="#819fde"/><stop offset="0.5" stop-color="#6fa4e9"/><stop offset="0.54" stop-color="#70afe9"/><stop offset="0.58" stop-color="#6dbfe4"/><stop offset="0.62" stop-color="#6eced6"/><stop offset="0.67" stop-color="#92d7be"/><stop offset="0.71" stop-color="#bad9ac"/><stop offset="0.75" stop-color="#cdd8a4"/><stop offset="0.79" stop-color="#cad8a6"/><stop offset="0.83" stop-color="#afd9b1"/><stop offset="0.88" stop-color="#7ed3ca"/><stop offset="0.92" stop-color="#6ac6e1"/><stop offset="0.96" stop-color="#71b2e7"/><stop offset="1" stop-color="#6da4ea"/></linearGradient><linearGradient id="gNA5" gradientUnits="userSpaceOnUse" x1="1247.3" y1="0" x2="1395.02" y2="0"><stop offset="0" stop-color="#9898d0"/><stop offset="0.04" stop-color="#9898d0"/><stop offset="0.08" stop-color="#9898d0"/><stop offset="0.12" stop-color="#9898d0"/><stop offset="0.17" stop-color="#9898d0"/><stop offset="0.21" stop-color="#9898d0"/><stop offset="0.25" stop-color="#9798d1"/><stop offset="0.29" stop-color="#9499d2"/><stop offset="0.33" stop-color="#8e9bd6"/><stop offset="0.38" stop-color="#829edd"/><stop offset="0.42" stop-color="#6ca4ea"/><stop offset="0.46" stop-color="#72b4e6"/><stop offset="0.5" stop-color="#6acbdc"/><stop offset="0.54" stop-color="#9ed8b9"/><stop offset="0.58" stop-color="#dbd79f"/><stop offset="0.62" stop-color="#fbd68e"/><stop offset="0.67" stop-color="#feda89"/><stop offset="0.71" stop-color="#e8d69a"/><stop offset="0.75" stop-color="#acd9b2"/><stop offset="0.79" stop-color="#6acbda"/><stop offset="0.83" stop-color="#71b2e7"/><stop offset="0.88" stop-color="#73a2e6"/><stop offset="0.92" stop-color="#889dda"/><stop offset="0.96" stop-color="#929ad4"/><stop offset="1" stop-color="#9699d1"/></linearGradient><linearGradient id="gNA6" gradientUnits="userSpaceOnUse" x1="1247.3" y1="0" x2="1395.02" y2="0"><stop offset="0" stop-color="#9898d0"/><stop offset="0.04" stop-color="#9898d0"/><stop offset="0.08" stop-color="#9898d0"/><stop offset="0.12" stop-color="#9898d0"/><stop offset="0.17" stop-color="#9898d0"/><stop offset="0.21" stop-color="#9798d0"/><stop offset="0.25" stop-color="#9698d1"/><stop offset="0.29" stop-color="#9499d3"/><stop offset="0.33" stop-color="#8d9bd7"/><stop offset="0.38" stop-color="#7f9fdf"/><stop offset="0.42" stop-color="#68a7ec"/><stop offset="0.46" stop-color="#71b9e4"/><stop offset="0.5" stop-color="#73d0d2"/><stop offset="0.54" stop-color="#bed9aa"/><stop offset="0.58" stop-color="#f9d691"/><stop offset="0.62" stop-color="#f9ec7a"/><stop offset="0.67" stop-color="#f9f275"/><stop offset="0.71" stop-color="#fedd86"/><stop offset="0.75" stop-color="#cbd8a6"/><stop offset="0.79" stop-color="#74d0d1"/><stop offset="0.83" stop-color="#72b7e5"/><stop offset="0.88" stop-color="#6ea4e9"/><stop offset="0.92" stop-color="#869ddb"/><stop offset="0.96" stop-color="#919ad4"/><stop offset="1" stop-color="#9699d1"/></linearGradient><linearGradient id="gNA7" gradientUnits="userSpaceOnUse" x1="1247.3" y1="0" x2="1395.02" y2="0"><stop offset="0" stop-color="#9898d0"/><stop offset="0.04" stop-color="#9898d0"/><stop offset="0.08" stop-color="#9898d0"/><stop offset="0.12" stop-color="#9898d0"/><stop offset="0.17" stop-color="#9898d0"/><stop offset="0.21" stop-color="#9798d0"/><stop offset="0.25" stop-color="#9698d1"/><stop offset="0.29" stop-color="#9399d3"/><stop offset="0.33" stop-color="#8d9bd7"/><stop offset="0.38" stop-color="#7e9fdf"/><stop offset="0.42" stop-color="#68a7ec"/><stop offset="0.46" stop-color="#70bbe4"/><stop offset="0.5" stop-color="#77d1d0"/><stop offset="0.54" stop-color="#c5d8a7"/><stop offset="0.58" stop-color="#fed98b"/><stop offset="0.62" stop-color="#f9f374"/><stop offset="0.67" stop-color="#fbfb70"/><stop offset="0.71" stop-color="#fde281"/><stop offset="0.75" stop-color="#d2d7a3"/><stop offset="0.79" stop-color="#79d1ce"/><stop offset="0.83" stop-color="#71b8e5"/><stop offset="0.88" stop-color="#6da4ea"/><stop offset="0.92" stop-color="#859ddb"/><stop offset="0.96" stop-color="#919ad4"/><stop offset="1" stop-color="#9699d1"/></linearGradient><linearGradient id="gNA8" gradientUnits="userSpaceOnUse" x1="1247.3" y1="0" x2="1396.56" y2="0"><stop offset="0" stop-color="#9898d0"/><stop offset="0.04" stop-color="#9898d0"/><stop offset="0.08" stop-color="#9898d0"/><stop offset="0.12" stop-color="#9898d0"/><stop offset="0.17" stop-color="#9898d0"/><stop offset="0.21" stop-color="#9798d0"/><stop offset="0.25" stop-color="#9698d1"/><stop offset="0.29" stop-color="#9399d3"/><stop offset="0.33" stop-color="#8c9bd7"/><stop offset="0.38" stop-color="#7e9fe0"/><stop offset="0.42" stop-color="#6aa8ec"/><stop offset="0.46" stop-color="#6fbce4"/><stop offset="0.5" stop-color="#79d2ce"/><stop offset="0.54" stop-color="#c7d8a7"/><stop offset="0.58" stop-color="#fdd78c"/><stop offset="0.62" stop-color="#f9ee79"/><stop offset="0.67" stop-color="#f9ef77"/><stop offset="0.71" stop-color="#fdd78d"/><stop offset="0.75" stop-color="#bad9ac"/><stop offset="0.79" stop-color="#6bcdd9"/><stop offset="0.83" stop-color="#71b2e7"/><stop offset="0.88" stop-color="#75a2e5"/><stop offset="0.92" stop-color="#899cd9"/><stop offset="0.96" stop-color="#9399d3"/><stop offset="1" stop-color="#9698d1"/></linearGradient><linearGradient id="gNA9" gradientUnits="userSpaceOnUse" x1="1261.92" y1="0" x2="1398.1" y2="0"><stop offset="0" stop-color="#9898d0"/><stop offset="0.04" stop-color="#9898d0"/><stop offset="0.08" stop-color="#9898d0"/><stop offset="0.12" stop-color="#9798d0"/><stop offset="0.17" stop-color="#9698d1"/><stop offset="0.21" stop-color="#9499d2"/><stop offset="0.25" stop-color="#8f9bd6"/><stop offset="0.29" stop-color="#849edc"/><stop offset="0.33" stop-color="#71a3e7"/><stop offset="0.38" stop-color="#70afe8"/><stop offset="0.42" stop-color="#6ac5e2"/><stop offset="0.46" stop-color="#83d4c7"/><stop offset="0.5" stop-color="#c7d8a7"/><stop offset="0.54" stop-color="#f3d594"/><stop offset="0.58" stop-color="#fedf83"/><stop offset="0.62" stop-color="#fedf84"/><stop offset="0.67" stop-color="#ecd698"/><stop offset="0.71" stop-color="#b2d9b0"/><stop offset="0.75" stop-color="#6dced7"/><stop offset="0.79" stop-color="#72b6e5"/><stop offset="0.83" stop-color="#6ca5eb"/><stop offset="0.88" stop-color="#839edd"/><stop offset="0.92" stop-color="#8f9bd5"/><stop offset="0.96" stop-color="#9599d2"/><stop offset="1" stop-color="#9798d1"/></linearGradient><linearGradient id="gNA10" gradientUnits="userSpaceOnUse" x1="1266.46" y1="0" x2="1404.79" y2="0"><stop offset="0" stop-color="#9898d0"/><stop offset="0.04" stop-color="#9898d0"/><stop offset="0.08" stop-color="#9898d0"/><stop offset="0.12" stop-color="#9798d1"/><stop offset="0.17" stop-color="#9599d2"/><stop offset="0.21" stop-color="#919ad4"/><stop offset="0.25" stop-color="#889dda"/><stop offset="0.29" stop-color="#78a1e3"/><stop offset="0.33" stop-color="#6baaeb"/><stop offset="0.38" stop-color="#6fbce4"/><stop offset="0.42" stop-color="#6fced5"/><stop offset="0.46" stop-color="#a3d8b6"/><stop offset="0.5" stop-color="#d3d7a2"/><stop offset="0.54" stop-color="#ead698"/><stop offset="0.58" stop-color="#e9d699"/><stop offset="0.62" stop-color="#cbd8a5"/><stop offset="0.67" stop-color="#8cd6c2"/><stop offset="0.71" stop-color="#6ac7e0"/><stop offset="0.75" stop-color="#70b0e8"/><stop offset="0.79" stop-color="#74a2e6"/><stop offset="0.83" stop-color="#879dda"/><stop offset="0.88" stop-color="#919ad4"/><stop offset="0.92" stop-color="#9599d2"/><stop offset="0.96" stop-color="#9798d0"/><stop offset="1" stop-color="#9898d0"/></linearGradient><linearGradient id="gNA11" gradientUnits="userSpaceOnUse" x1="1271" y1="0" x2="1411.48" y2="0"><stop offset="0" stop-color="#9898d0"/><stop offset="0.04" stop-color="#9898d0"/><stop offset="0.08" stop-color="#9798d0"/><stop offset="0.12" stop-color="#9699d1"/><stop offset="0.17" stop-color="#939ad3"/><stop offset="0.21" stop-color="#8c9bd7"/><stop offset="0.25" stop-color="#7f9fdf"/><stop offset="0.29" stop-color="#6ba5eb"/><stop offset="0.33" stop-color="#71b2e7"/><stop offset="0.38" stop-color="#6ac6e1"/><stop offset="0.42" stop-color="#7ad2cd"/><stop offset="0.46" stop-color="#a5d8b5"/><stop offset="0.5" stop-color="#bfd9aa"/><stop offset="0.54" stop-color="#bed9aa"/><stop offset="0.58" stop-color="#9dd8b9"/><stop offset="0.62" stop-color="#70cfd4"/><stop offset="0.67" stop-color="#6fbce4"/><stop offset="0.71" stop-color="#6ba9ec"/><stop offset="0.75" stop-color="#7ba0e1"/><stop offset="0.79" stop-color="#8b9cd8"/><stop offset="0.83" stop-color="#9399d3"/><stop offset="0.88" stop-color="#9699d1"/><stop offset="0.92" stop-color="#9798d0"/><stop offset="0.96" stop-color="#9898d0"/><stop offset="1" stop-color="#9898d0"/></linearGradient><linearGradient id="gNA12" gradientUnits="userSpaceOnUse" x1="1271" y1="0" x2="1405.56" y2="0"><stop offset="0" stop-color="#9898d0"/><stop offset="0.04" stop-color="#9898d0"/><stop offset="0.08" stop-color="#9798d0"/><stop offset="0.12" stop-color="#9698d1"/><stop offset="0.17" stop-color="#9499d2"/><stop offset="0.21" stop-color="#909ad5"/><stop offset="0.25" stop-color="#879dda"/><stop offset="0.29" stop-color="#7aa1e2"/><stop offset="0.33" stop-color="#68a7ec"/><stop offset="0.38" stop-color="#72b3e6"/><stop offset="0.42" stop-color="#6ac4e3"/><stop offset="0.46" stop-color="#6eced6"/><stop offset="0.5" stop-color="#80d3ca"/><stop offset="0.54" stop-color="#89d5c4"/><stop offset="0.58" stop-color="#80d3ca"/><stop offset="0.62" stop-color="#6bcdd9"/><stop offset="0.67" stop-color="#6dbfe4"/><stop offset="0.71" stop-color="#6faee9"/><stop offset="0.75" stop-color="#72a3e7"/><stop offset="0.79" stop-color="#849edc"/><stop offset="0.83" stop-color="#8f9bd5"/><stop offset="0.88" stop-color="#9499d2"/><stop offset="0.92" stop-color="#9798d1"/><stop offset="0.96" stop-color="#9898d0"/><stop offset="1" stop-color="#9898d0"/></linearGradient><linearGradient id="gNA13" gradientUnits="userSpaceOnUse" x1="1271" y1="0" x2="1399.64" y2="0"><stop offset="0" stop-color="#9898d0"/><stop offset="0.04" stop-color="#9898d0"/><stop offset="0.08" stop-color="#9898d0"/><stop offset="0.12" stop-color="#9798d1"/><stop offset="0.17" stop-color="#9699d1"/><stop offset="0.21" stop-color="#9399d3"/><stop offset="0.25" stop-color="#8e9bd6"/><stop offset="0.29" stop-color="#859ddc"/><stop offset="0.33" stop-color="#78a1e3"/><stop offset="0.38" stop-color="#68a7ec"/><stop offset="0.42" stop-color="#71b0e8"/><stop offset="0.46" stop-color="#70bbe4"/><stop offset="0.5" stop-color="#6ac5e2"/><stop offset="0.54" stop-color="#6acadd"/><stop offset="0.58" stop-color="#6acadc"/><stop offset="0.62" stop-color="#6ac7e1"/><stop offset="0.67" stop-color="#70bbe4"/><stop offset="0.71" stop-color="#70afe9"/><stop offset="0.75" stop-color="#6ca4eb"/><stop offset="0.79" stop-color="#7e9fe0"/><stop offset="0.83" stop-color="#8a9cd8"/><stop offset="0.88" stop-color="#929ad4"/><stop offset="0.92" stop-color="#9599d2"/><stop offset="0.96" stop-color="#9798d1"/><stop offset="1" stop-color="#9898d0"/></linearGradient><linearGradient id="gNA14" gradientUnits="userSpaceOnUse" x1="1271" y1="0" x2="1402.25" y2="0"><stop offset="0" stop-color="#9898d0"/><stop offset="0.04" stop-color="#9898d0"/><stop offset="0.08" stop-color="#9898d0"/><stop offset="0.12" stop-color="#9798d0"/><stop offset="0.17" stop-color="#9699d1"/><stop offset="0.21" stop-color="#9499d2"/><stop offset="0.25" stop-color="#909ad5"/><stop offset="0.29" stop-color="#899cd9"/><stop offset="0.33" stop-color="#7f9fdf"/><stop offset="0.38" stop-color="#72a3e7"/><stop offset="0.42" stop-color="#6aa9ec"/><stop offset="0.46" stop-color="#71b0e8"/><stop offset="0.5" stop-color="#72b6e5"/><stop offset="0.54" stop-color="#71b9e4"/><stop offset="0.58" stop-color="#71b9e5"/><stop offset="0.62" stop-color="#72b3e6"/><stop offset="0.67" stop-color="#6daceb"/><stop offset="0.71" stop-color="#6ea4ea"/><stop offset="0.75" stop-color="#7e9fe0"/><stop offset="0.79" stop-color="#899cd9"/><stop offset="0.83" stop-color="#919ad4"/><stop offset="0.88" stop-color="#9599d2"/><stop offset="0.92" stop-color="#9798d1"/><stop offset="0.96" stop-color="#9898d0"/><stop offset="1" stop-color="#9898d0"/></linearGradient><linearGradient id="gNA15" gradientUnits="userSpaceOnUse" x1="1271" y1="0" x2="1404.87" y2="0"><stop offset="0" stop-color="#9898d0"/><stop offset="0.04" stop-color="#9898d0"/><stop offset="0.08" stop-color="#9898d0"/><stop offset="0.12" stop-color="#9798d0"/><stop offset="0.17" stop-color="#9798d1"/><stop offset="0.21" stop-color="#9599d2"/><stop offset="0.25" stop-color="#929ad4"/><stop offset="0.29" stop-color="#8d9bd7"/><stop offset="0.33" stop-color="#869ddb"/><stop offset="0.38" stop-color="#7ca0e1"/><stop offset="0.42" stop-color="#71a3e7"/><stop offset="0.46" stop-color="#68a7ec"/><stop offset="0.5" stop-color="#6caaeb"/><stop offset="0.54" stop-color="#6eacea"/><stop offset="0.58" stop-color="#6cabeb"/><stop offset="0.62" stop-color="#68a7ec"/><stop offset="0.67" stop-color="#73a3e7"/><stop offset="0.71" stop-color="#7f9fdf"/><stop offset="0.75" stop-color="#899cd9"/><stop offset="0.79" stop-color="#909ad5"/><stop offset="0.83" stop-color="#9499d2"/><stop offset="0.88" stop-color="#9698d1"/><stop offset="0.92" stop-color="#9798d0"/><stop offset="0.96" stop-color="#9898d0"/><stop offset="1" stop-color="#9898d0"/></linearGradient><linearGradient id="gNA16" gradientUnits="userSpaceOnUse" x1="1271" y1="0" x2="1409.18" y2="0"><stop offset="0" stop-color="#9898d0"/><stop offset="0.04" stop-color="#9898d0"/><stop offset="0.08" stop-color="#9898d0"/><stop offset="0.12" stop-color="#9898d0"/><stop offset="0.17" stop-color="#9798d1"/><stop offset="0.21" stop-color="#9699d1"/><stop offset="0.25" stop-color="#9499d3"/><stop offset="0.29" stop-color="#909ad5"/><stop offset="0.33" stop-color="#8b9cd8"/><stop offset="0.38" stop-color="#849edc"/><stop offset="0.42" stop-color="#7ca0e1"/><stop offset="0.46" stop-color="#76a2e5"/><stop offset="0.5" stop-color="#71a3e7"/><stop offset="0.54" stop-color="#70a3e8"/><stop offset="0.58" stop-color="#74a2e6"/><stop offset="0.62" stop-color="#7ba0e1"/><stop offset="0.67" stop-color="#849edc"/><stop offset="0.71" stop-color="#8c9cd7"/><stop offset="0.75" stop-color="#919ad4"/><stop offset="0.79" stop-color="#9599d2"/><stop offset="0.83" stop-color="#9798d1"/><stop offset="0.88" stop-color="#9798d0"/><stop offset="0.92" stop-color="#9898d0"/><stop offset="0.96" stop-color="#9898d0"/><stop offset="1" stop-color="#9898d0"/></linearGradient><linearGradient id="gNA17" gradientUnits="userSpaceOnUse" x1="1271" y1="0" x2="1413.48" y2="0"><stop offset="0" stop-color="#9898d0"/><stop offset="0.04" stop-color="#9898d0"/><stop offset="0.08" stop-color="#9898d0"/><stop offset="0.12" stop-color="#9898d0"/><stop offset="0.17" stop-color="#9798d0"/><stop offset="0.21" stop-color="#9698d1"/><stop offset="0.25" stop-color="#9599d2"/><stop offset="0.29" stop-color="#929ad3"/><stop offset="0.33" stop-color="#8f9bd6"/><stop offset="0.38" stop-color="#8a9cd8"/><stop offset="0.42" stop-color="#859ddb"/><stop offset="0.46" stop-color="#829ede"/><stop offset="0.5" stop-color="#809fdf"/><stop offset="0.54" stop-color="#809fde"/><stop offset="0.58" stop-color="#849edc"/><stop offset="0.62" stop-color="#899cd9"/><stop offset="0.67" stop-color="#8e9bd6"/><stop offset="0.71" stop-color="#929ad3"/><stop offset="0.75" stop-color="#9599d2"/><stop offset="0.79" stop-color="#9798d1"/><stop offset="0.83" stop-color="#9898d0"/><stop offset="0.88" stop-color="#9898d0"/><stop offset="0.92" stop-color="#9898d0"/><stop offset="0.96" stop-color="#9898d0"/><stop offset="1" stop-color="#9898d0"/></linearGradient><linearGradient id="gNA18" gradientUnits="userSpaceOnUse" x1="1291.92" y1="0" x2="1408.87" y2="0"><stop offset="0" stop-color="#9898d0"/><stop offset="0.04" stop-color="#9798d0"/><stop offset="0.08" stop-color="#9798d1"/><stop offset="0.12" stop-color="#9699d1"/><stop offset="0.17" stop-color="#9599d2"/><stop offset="0.21" stop-color="#9399d3"/><stop offset="0.25" stop-color="#919ad4"/><stop offset="0.29" stop-color="#8f9bd5"/><stop offset="0.33" stop-color="#8d9bd7"/><stop offset="0.38" stop-color="#8b9cd8"/><stop offset="0.42" stop-color="#8a9cd9"/><stop offset="0.46" stop-color="#8a9cd9"/><stop offset="0.5" stop-color="#8b9cd8"/><stop offset="0.54" stop-color="#8d9bd7"/><stop offset="0.58" stop-color="#8f9bd5"/><stop offset="0.62" stop-color="#929ad4"/><stop offset="0.67" stop-color="#9499d2"/><stop offset="0.71" stop-color="#9699d1"/><stop offset="0.75" stop-color="#9798d1"/><stop offset="0.79" stop-color="#9798d0"/><stop offset="0.83" stop-color="#9898d0"/><stop offset="0.88" stop-color="#9898d0"/><stop offset="0.92" stop-color="#9898d0"/><stop offset="0.96" stop-color="#9898d0"/><stop offset="1" stop-color="#9898d0"/></linearGradient><linearGradient id="gEurope4" gradientUnits="userSpaceOnUse" x1="959.91" y1="0" x2="1061.72" y2="0"><stop offset="0" stop-color="#9499d2"/><stop offset="0.04" stop-color="#929ad4"/><stop offset="0.08" stop-color="#8f9ad5"/><stop offset="0.12" stop-color="#8c9bd7"/><stop offset="0.17" stop-color="#879dda"/><stop offset="0.21" stop-color="#809fde"/><stop offset="0.25" stop-color="#78a1e3"/><stop offset="0.29" stop-color="#6ea4e9"/><stop offset="0.33" stop-color="#6aa9ec"/><stop offset="0.38" stop-color="#70afe8"/><stop offset="0.42" stop-color="#72b7e5"/><stop offset="0.46" stop-color="#6bc1e3"/><stop offset="0.5" stop-color="#6acadd"/><stop offset="0.54" stop-color="#71d0d3"/><stop offset="0.58" stop-color="#83d4c7"/><stop offset="0.62" stop-color="#9ad7bb"/><stop offset="0.67" stop-color="#b0d9b0"/><stop offset="0.71" stop-color="#c1d9a9"/><stop offset="0.75" stop-color="#cbd8a5"/><stop offset="0.79" stop-color="#d1d7a3"/><stop offset="0.83" stop-color="#d1d7a3"/><stop offset="0.88" stop-color="#c4d8a8"/><stop offset="0.92" stop-color="#a7d9b4"/><stop offset="0.96" stop-color="#80d3ca"/><stop offset="1" stop-color="#6acadd"/></linearGradient><linearGradient id="gEurope5" gradientUnits="userSpaceOnUse" x1="952.2" y1="0" x2="1083.31" y2="0"><stop offset="0" stop-color="#9699d1"/><stop offset="0.04" stop-color="#9499d2"/><stop offset="0.08" stop-color="#919ad4"/><stop offset="0.12" stop-color="#8d9bd6"/><stop offset="0.17" stop-color="#879dda"/><stop offset="0.21" stop-color="#7e9fdf"/><stop offset="0.25" stop-color="#72a3e7"/><stop offset="0.29" stop-color="#6aa9ec"/><stop offset="0.33" stop-color="#71b2e7"/><stop offset="0.38" stop-color="#6dbfe4"/><stop offset="0.42" stop-color="#6acbdb"/><stop offset="0.46" stop-color="#80d3ca"/><stop offset="0.5" stop-color="#a7d9b4"/><stop offset="0.54" stop-color="#cbd8a5"/><stop offset="0.58" stop-color="#e5d69b"/><stop offset="0.62" stop-color="#f7d592"/><stop offset="0.67" stop-color="#fed98b"/><stop offset="0.71" stop-color="#fed98a"/><stop offset="0.75" stop-color="#ecd698"/><stop offset="0.79" stop-color="#bfd9aa"/><stop offset="0.83" stop-color="#7cd3cb"/><stop offset="0.88" stop-color="#6bc2e3"/><stop offset="0.92" stop-color="#6eadea"/><stop offset="0.96" stop-color="#76a2e4"/><stop offset="1" stop-color="#879dda"/></linearGradient><linearGradient id="gEurope6" gradientUnits="userSpaceOnUse" x1="952.2" y1="0" x2="1093.49" y2="0"><stop offset="0" stop-color="#9699d1"/><stop offset="0.04" stop-color="#9399d3"/><stop offset="0.08" stop-color="#909ad5"/><stop offset="0.12" stop-color="#8b9cd8"/><stop offset="0.17" stop-color="#829edd"/><stop offset="0.21" stop-color="#76a2e4"/><stop offset="0.25" stop-color="#68a7ec"/><stop offset="0.29" stop-color="#71b2e7"/><stop offset="0.33" stop-color="#6cc1e3"/><stop offset="0.38" stop-color="#6ccdd7"/><stop offset="0.42" stop-color="#8fd6c1"/><stop offset="0.46" stop-color="#c1d9aa"/><stop offset="0.5" stop-color="#e6d69a"/><stop offset="0.54" stop-color="#feda89"/><stop offset="0.58" stop-color="#fae87d"/><stop offset="0.62" stop-color="#f9f077"/><stop offset="0.67" stop-color="#f9ed79"/><stop offset="0.71" stop-color="#fcd78d"/><stop offset="0.75" stop-color="#c4d9a9"/><stop offset="0.79" stop-color="#75d1d1"/><stop offset="0.83" stop-color="#71b9e4"/><stop offset="0.88" stop-color="#68a6ed"/><stop offset="0.92" stop-color="#819fde"/><stop offset="0.96" stop-color="#8e9bd6"/><stop offset="1" stop-color="#9499d2"/></linearGradient><linearGradient id="gEurope7" gradientUnits="userSpaceOnUse" x1="952.2" y1="0" x2="1096.73" y2="0"><stop offset="0" stop-color="#9599d2"/><stop offset="0.04" stop-color="#9399d3"/><stop offset="0.08" stop-color="#8f9ad5"/><stop offset="0.12" stop-color="#899cd9"/><stop offset="0.17" stop-color="#809fde"/><stop offset="0.21" stop-color="#73a2e6"/><stop offset="0.25" stop-color="#6baaec"/><stop offset="0.29" stop-color="#72b5e6"/><stop offset="0.33" stop-color="#6ac5e2"/><stop offset="0.38" stop-color="#76d1d0"/><stop offset="0.42" stop-color="#a4d8b5"/><stop offset="0.46" stop-color="#d4d7a1"/><stop offset="0.5" stop-color="#f8d691"/><stop offset="0.54" stop-color="#fbe67e"/><stop offset="0.58" stop-color="#f9f573"/><stop offset="0.62" stop-color="#fbfd6e"/><stop offset="0.67" stop-color="#f9ef77"/><stop offset="0.71" stop-color="#f4d594"/><stop offset="0.75" stop-color="#acd9b2"/><stop offset="0.79" stop-color="#6acadc"/><stop offset="0.83" stop-color="#71b1e8"/><stop offset="0.88" stop-color="#74a2e6"/><stop offset="0.92" stop-color="#889dda"/><stop offset="0.96" stop-color="#929ad4"/><stop offset="1" stop-color="#9699d1"/></linearGradient><linearGradient id="gEurope8" gradientUnits="userSpaceOnUse" x1="952.2" y1="0" x2="1099.28" y2="0"><stop offset="0" stop-color="#9599d2"/><stop offset="0.04" stop-color="#9399d3"/><stop offset="0.08" stop-color="#8f9ad5"/><stop offset="0.12" stop-color="#899cd9"/><stop offset="0.17" stop-color="#809fdf"/><stop offset="0.21" stop-color="#72a3e7"/><stop offset="0.25" stop-color="#6baaeb"/><stop offset="0.29" stop-color="#72b6e5"/><stop offset="0.33" stop-color="#6ac7e0"/><stop offset="0.38" stop-color="#79d2ce"/><stop offset="0.42" stop-color="#aad9b3"/><stop offset="0.46" stop-color="#d9d7a0"/><stop offset="0.5" stop-color="#fbd68f"/><stop offset="0.54" stop-color="#fbe67d"/><stop offset="0.58" stop-color="#f9f474"/><stop offset="0.62" stop-color="#faf871"/><stop offset="0.67" stop-color="#fce57f"/><stop offset="0.71" stop-color="#ded79e"/><stop offset="0.75" stop-color="#8bd6c3"/><stop offset="0.79" stop-color="#6bc2e3"/><stop offset="0.83" stop-color="#6baaeb"/><stop offset="0.88" stop-color="#7da0e0"/><stop offset="0.92" stop-color="#8d9bd7"/><stop offset="0.96" stop-color="#9499d3"/><stop offset="1" stop-color="#9798d1"/></linearGradient><linearGradient id="gEurope9" gradientUnits="userSpaceOnUse" x1="952.2" y1="0" x2="1101.82" y2="0"><stop offset="0" stop-color="#9699d1"/><stop offset="0.04" stop-color="#9399d3"/><stop offset="0.08" stop-color="#909ad5"/><stop offset="0.12" stop-color="#8a9cd9"/><stop offset="0.17" stop-color="#809fde"/><stop offset="0.21" stop-color="#72a3e7"/><stop offset="0.25" stop-color="#6baaeb"/><stop offset="0.29" stop-color="#72b6e5"/><stop offset="0.33" stop-color="#6ac7e0"/><stop offset="0.38" stop-color="#79d2ce"/><stop offset="0.42" stop-color="#a9d9b3"/><stop offset="0.46" stop-color="#d6d7a1"/><stop offset="0.5" stop-color="#f7d592"/><stop offset="0.54" stop-color="#fde281"/><stop offset="0.58" stop-color="#f9ec7a"/><stop offset="0.62" stop-color="#faeb7a"/><stop offset="0.67" stop-color="#fbd68e"/><stop offset="0.71" stop-color="#bfd9aa"/><stop offset="0.75" stop-color="#70cfd4"/><stop offset="0.79" stop-color="#72b6e5"/><stop offset="0.83" stop-color="#6ea4ea"/><stop offset="0.88" stop-color="#859ddb"/><stop offset="0.92" stop-color="#909ad5"/><stop offset="0.96" stop-color="#9599d2"/><stop offset="1" stop-color="#9798d0"/></linearGradient><linearGradient id="gEurope10" gradientUnits="userSpaceOnUse" x1="962.84" y1="0" x2="1101.82" y2="0"><stop offset="0" stop-color="#919ad4"/><stop offset="0.04" stop-color="#8d9bd7"/><stop offset="0.08" stop-color="#869ddb"/><stop offset="0.12" stop-color="#7ca0e1"/><stop offset="0.17" stop-color="#6ea4e9"/><stop offset="0.21" stop-color="#6dacea"/><stop offset="0.25" stop-color="#72b7e5"/><stop offset="0.29" stop-color="#6ac7e1"/><stop offset="0.33" stop-color="#74d0d1"/><stop offset="0.38" stop-color="#9bd7ba"/><stop offset="0.42" stop-color="#c6d8a7"/><stop offset="0.46" stop-color="#e5d69b"/><stop offset="0.5" stop-color="#fbd68f"/><stop offset="0.54" stop-color="#fedd85"/><stop offset="0.58" stop-color="#fee083"/><stop offset="0.62" stop-color="#fad690"/><stop offset="0.67" stop-color="#cdd8a4"/><stop offset="0.71" stop-color="#85d4c7"/><stop offset="0.75" stop-color="#6ac3e3"/><stop offset="0.79" stop-color="#6eacea"/><stop offset="0.83" stop-color="#78a1e3"/><stop offset="0.88" stop-color="#899cd9"/><stop offset="0.92" stop-color="#929ad4"/><stop offset="0.96" stop-color="#9699d1"/><stop offset="1" stop-color="#9798d0"/></linearGradient><linearGradient id="gEurope11" gradientUnits="userSpaceOnUse" x1="973.49" y1="0" x2="1101.82" y2="0"><stop offset="0" stop-color="#899cd9"/><stop offset="0.04" stop-color="#819fde"/><stop offset="0.08" stop-color="#76a2e4"/><stop offset="0.12" stop-color="#68a6ed"/><stop offset="0.17" stop-color="#70afe9"/><stop offset="0.21" stop-color="#71b9e5"/><stop offset="0.25" stop-color="#6ac7e1"/><stop offset="0.29" stop-color="#71d0d4"/><stop offset="0.33" stop-color="#8ed6c1"/><stop offset="0.38" stop-color="#b3d9af"/><stop offset="0.42" stop-color="#d0d7a3"/><stop offset="0.46" stop-color="#e3d69b"/><stop offset="0.5" stop-color="#efd596"/><stop offset="0.54" stop-color="#f4d594"/><stop offset="0.58" stop-color="#e9d699"/><stop offset="0.62" stop-color="#c7d8a7"/><stop offset="0.67" stop-color="#8bd6c2"/><stop offset="0.71" stop-color="#6ac8df"/><stop offset="0.75" stop-color="#72b3e6"/><stop offset="0.79" stop-color="#6ca4eb"/><stop offset="0.83" stop-color="#819fde"/><stop offset="0.88" stop-color="#8d9bd7"/><stop offset="0.92" stop-color="#9399d3"/><stop offset="0.96" stop-color="#9699d1"/><stop offset="1" stop-color="#9798d0"/></linearGradient><linearGradient id="gEurope12" gradientUnits="userSpaceOnUse" x1="974.31" y1="0" x2="1105.16" y2="0"><stop offset="0" stop-color="#8a9cd9"/><stop offset="0.04" stop-color="#829edd"/><stop offset="0.08" stop-color="#78a1e3"/><stop offset="0.12" stop-color="#6aa5eb"/><stop offset="0.17" stop-color="#6eadea"/><stop offset="0.21" stop-color="#72b6e5"/><stop offset="0.25" stop-color="#6ac4e3"/><stop offset="0.29" stop-color="#6bcdd9"/><stop offset="0.33" stop-color="#80d3ca"/><stop offset="0.38" stop-color="#9ed8b8"/><stop offset="0.42" stop-color="#bad9ac"/><stop offset="0.46" stop-color="#ccd8a5"/><stop offset="0.5" stop-color="#d5d7a1"/><stop offset="0.54" stop-color="#d5d7a1"/><stop offset="0.58" stop-color="#c0d9aa"/><stop offset="0.62" stop-color="#90d6c0"/><stop offset="0.67" stop-color="#6acbdb"/><stop offset="0.71" stop-color="#71b8e5"/><stop offset="0.75" stop-color="#69a7ec"/><stop offset="0.79" stop-color="#7ca0e1"/><stop offset="0.83" stop-color="#8a9cd8"/><stop offset="0.88" stop-color="#929ad4"/><stop offset="0.92" stop-color="#9699d1"/><stop offset="0.96" stop-color="#9798d1"/><stop offset="1" stop-color="#9898d0"/></linearGradient><linearGradient id="gEurope13" gradientUnits="userSpaceOnUse" x1="975.13" y1="0" x2="1108.51" y2="0"><stop offset="0" stop-color="#8b9cd8"/><stop offset="0.04" stop-color="#849edc"/><stop offset="0.08" stop-color="#7ba0e2"/><stop offset="0.12" stop-color="#6ea4e9"/><stop offset="0.17" stop-color="#6baaeb"/><stop offset="0.21" stop-color="#72b3e6"/><stop offset="0.25" stop-color="#6ebee4"/><stop offset="0.29" stop-color="#6ac8df"/><stop offset="0.33" stop-color="#71d0d3"/><stop offset="0.38" stop-color="#85d4c6"/><stop offset="0.42" stop-color="#9ad7ba"/><stop offset="0.46" stop-color="#aad9b3"/><stop offset="0.5" stop-color="#b2d9b0"/><stop offset="0.54" stop-color="#aad9b3"/><stop offset="0.58" stop-color="#8ad6c3"/><stop offset="0.62" stop-color="#6bcdd9"/><stop offset="0.67" stop-color="#70bbe4"/><stop offset="0.71" stop-color="#6cabeb"/><stop offset="0.75" stop-color="#77a1e4"/><stop offset="0.79" stop-color="#879dda"/><stop offset="0.83" stop-color="#909ad5"/><stop offset="0.88" stop-color="#9599d2"/><stop offset="0.92" stop-color="#9798d1"/><stop offset="0.96" stop-color="#9898d0"/><stop offset="1" stop-color="#9898d0"/></linearGradient><linearGradient id="gEurope14" gradientUnits="userSpaceOnUse" x1="975.95" y1="0" x2="1111.85" y2="0"><stop offset="0" stop-color="#8c9bd7"/><stop offset="0.04" stop-color="#869ddb"/><stop offset="0.08" stop-color="#7e9fe0"/><stop offset="0.12" stop-color="#73a3e6"/><stop offset="0.17" stop-color="#68a7ec"/><stop offset="0.21" stop-color="#70afe9"/><stop offset="0.25" stop-color="#71b8e5"/><stop offset="0.29" stop-color="#6bc2e3"/><stop offset="0.33" stop-color="#6acadd"/><stop offset="0.38" stop-color="#70cfd4"/><stop offset="0.42" stop-color="#7cd3cc"/><stop offset="0.46" stop-color="#84d4c7"/><stop offset="0.5" stop-color="#86d5c5"/><stop offset="0.54" stop-color="#7bd2cd"/><stop offset="0.58" stop-color="#6acbdb"/><stop offset="0.62" stop-color="#6ebde4"/><stop offset="0.67" stop-color="#6eade9"/><stop offset="0.71" stop-color="#72a3e7"/><stop offset="0.75" stop-color="#849edc"/><stop offset="0.79" stop-color="#8e9bd6"/><stop offset="0.83" stop-color="#9499d2"/><stop offset="0.88" stop-color="#9698d1"/><stop offset="0.92" stop-color="#9798d0"/><stop offset="0.96" stop-color="#9898d0"/><stop offset="1" stop-color="#9898d0"/></linearGradient><linearGradient id="gEurope15" gradientUnits="userSpaceOnUse" x1="975.95" y1="0" x2="1111.85" y2="0"><stop offset="0" stop-color="#8f9bd6"/><stop offset="0.04" stop-color="#899cd9"/><stop offset="0.08" stop-color="#839edd"/><stop offset="0.12" stop-color="#7aa1e2"/><stop offset="0.17" stop-color="#6fa4e9"/><stop offset="0.21" stop-color="#6aa9ec"/><stop offset="0.25" stop-color="#70b0e8"/><stop offset="0.29" stop-color="#72b7e5"/><stop offset="0.33" stop-color="#6cc0e3"/><stop offset="0.38" stop-color="#6ac7e0"/><stop offset="0.42" stop-color="#6acadc"/><stop offset="0.46" stop-color="#6bcdd9"/><stop offset="0.5" stop-color="#6bcdd8"/><stop offset="0.54" stop-color="#6acadc"/><stop offset="0.58" stop-color="#6bc2e3"/><stop offset="0.62" stop-color="#72b3e6"/><stop offset="0.67" stop-color="#68a7ec"/><stop offset="0.71" stop-color="#79a1e2"/><stop offset="0.75" stop-color="#889dda"/><stop offset="0.79" stop-color="#909ad5"/><stop offset="0.83" stop-color="#9599d2"/><stop offset="0.88" stop-color="#9798d1"/><stop offset="0.92" stop-color="#9898d0"/><stop offset="0.96" stop-color="#9898d0"/><stop offset="1" stop-color="#9898d0"/></linearGradient><linearGradient id="gEurope16" gradientUnits="userSpaceOnUse" x1="975.95" y1="0" x2="1111.85" y2="0"><stop offset="0" stop-color="#919ad5"/><stop offset="0.04" stop-color="#8d9bd7"/><stop offset="0.08" stop-color="#879dda"/><stop offset="0.12" stop-color="#809fde"/><stop offset="0.17" stop-color="#77a1e4"/><stop offset="0.21" stop-color="#6da4ea"/><stop offset="0.25" stop-color="#6aa9ec"/><stop offset="0.29" stop-color="#70afe9"/><stop offset="0.33" stop-color="#72b4e6"/><stop offset="0.38" stop-color="#71bae4"/><stop offset="0.42" stop-color="#6dbfe4"/><stop offset="0.46" stop-color="#6bc2e3"/><stop offset="0.5" stop-color="#6bc2e3"/><stop offset="0.54" stop-color="#6dbfe4"/><stop offset="0.58" stop-color="#72b5e5"/><stop offset="0.62" stop-color="#6daceb"/><stop offset="0.67" stop-color="#70a3e8"/><stop offset="0.71" stop-color="#809fdf"/><stop offset="0.75" stop-color="#8b9cd8"/><stop offset="0.79" stop-color="#929ad4"/><stop offset="0.83" stop-color="#9599d2"/><stop offset="0.88" stop-color="#9798d1"/><stop offset="0.92" stop-color="#9898d0"/><stop offset="0.96" stop-color="#9898d0"/><stop offset="1" stop-color="#9898d0"/></linearGradient><linearGradient id="gEurope17" gradientUnits="userSpaceOnUse" x1="975.95" y1="0" x2="1111.85" y2="0"><stop offset="0" stop-color="#929ad3"/><stop offset="0.04" stop-color="#8f9ad5"/><stop offset="0.08" stop-color="#8b9cd8"/><stop offset="0.12" stop-color="#869ddb"/><stop offset="0.17" stop-color="#7f9fdf"/><stop offset="0.21" stop-color="#77a1e4"/><stop offset="0.25" stop-color="#6ea4e9"/><stop offset="0.29" stop-color="#69a7ec"/><stop offset="0.33" stop-color="#6daceb"/><stop offset="0.38" stop-color="#70b0e8"/><stop offset="0.42" stop-color="#71b2e6"/><stop offset="0.46" stop-color="#72b4e6"/><stop offset="0.5" stop-color="#72b5e6"/><stop offset="0.54" stop-color="#71b2e7"/><stop offset="0.58" stop-color="#6eadea"/><stop offset="0.62" stop-color="#69a5ec"/><stop offset="0.67" stop-color="#79a1e3"/><stop offset="0.71" stop-color="#859ddb"/><stop offset="0.75" stop-color="#8e9bd6"/><stop offset="0.79" stop-color="#9399d3"/><stop offset="0.83" stop-color="#9699d1"/><stop offset="0.88" stop-color="#9798d0"/><stop offset="0.92" stop-color="#9898d0"/><stop offset="0.96" stop-color="#9898d0"/><stop offset="1" stop-color="#9898d0"/></linearGradient><linearGradient id="gEurope18" gradientUnits="userSpaceOnUse" x1="975.95" y1="0" x2="1113.13" y2="0"><stop offset="0" stop-color="#9499d3"/><stop offset="0.04" stop-color="#919ad4"/><stop offset="0.08" stop-color="#8e9bd6"/><stop offset="0.12" stop-color="#8a9cd8"/><stop offset="0.17" stop-color="#859ddb"/><stop offset="0.21" stop-color="#7f9fdf"/><stop offset="0.25" stop-color="#78a1e3"/><stop offset="0.29" stop-color="#71a3e7"/><stop offset="0.33" stop-color="#6aa5eb"/><stop offset="0.38" stop-color="#69a7ec"/><stop offset="0.42" stop-color="#6baaeb"/><stop offset="0.46" stop-color="#6dabeb"/><stop offset="0.5" stop-color="#6daceb"/><stop offset="0.54" stop-color="#6aa9ec"/><stop offset="0.58" stop-color="#6ba5eb"/><stop offset="0.62" stop-color="#77a1e4"/><stop offset="0.67" stop-color="#829edd"/><stop offset="0.71" stop-color="#8b9cd8"/><stop offset="0.75" stop-color="#919ad4"/><stop offset="0.79" stop-color="#9599d2"/><stop offset="0.83" stop-color="#9798d1"/><stop offset="0.88" stop-color="#9898d0"/><stop offset="0.92" stop-color="#9898d0"/><stop offset="0.96" stop-color="#9898d0"/><stop offset="1" stop-color="#9898d0"/></linearGradient><linearGradient id="gEurope19" gradientUnits="userSpaceOnUse" x1="975.95" y1="0" x2="1114.42" y2="0"><stop offset="0" stop-color="#9599d2"/><stop offset="0.04" stop-color="#9399d3"/><stop offset="0.08" stop-color="#919ad4"/><stop offset="0.12" stop-color="#8e9bd6"/><stop offset="0.17" stop-color="#8a9cd8"/><stop offset="0.21" stop-color="#869ddb"/><stop offset="0.25" stop-color="#819fde"/><stop offset="0.29" stop-color="#7ba0e1"/><stop offset="0.33" stop-color="#76a1e4"/><stop offset="0.38" stop-color="#72a3e7"/><stop offset="0.42" stop-color="#6fa4e9"/><stop offset="0.46" stop-color="#6da4ea"/><stop offset="0.5" stop-color="#6da4ea"/><stop offset="0.54" stop-color="#71a3e8"/><stop offset="0.58" stop-color="#78a1e3"/><stop offset="0.62" stop-color="#819ede"/><stop offset="0.67" stop-color="#899cd9"/><stop offset="0.71" stop-color="#909ad5"/><stop offset="0.75" stop-color="#9499d3"/><stop offset="0.79" stop-color="#9699d1"/><stop offset="0.83" stop-color="#9798d0"/><stop offset="0.88" stop-color="#9898d0"/><stop offset="0.92" stop-color="#9898d0"/><stop offset="0.96" stop-color="#9898d0"/><stop offset="1" stop-color="#9898d0"/></linearGradient><linearGradient id="gEurope20" gradientUnits="userSpaceOnUse" x1="975.95" y1="0" x2="1115.7" y2="0"><stop offset="0" stop-color="#9699d1"/><stop offset="0.04" stop-color="#9599d2"/><stop offset="0.08" stop-color="#9399d3"/><stop offset="0.12" stop-color="#919ad4"/><stop offset="0.17" stop-color="#8e9bd6"/><stop offset="0.21" stop-color="#8b9cd8"/><stop offset="0.25" stop-color="#879dda"/><stop offset="0.29" stop-color="#849edc"/><stop offset="0.33" stop-color="#809fde"/><stop offset="0.38" stop-color="#7da0e0"/><stop offset="0.42" stop-color="#7ba0e2"/><stop offset="0.46" stop-color="#79a1e2"/><stop offset="0.5" stop-color="#7aa1e2"/><stop offset="0.54" stop-color="#7da0e0"/><stop offset="0.58" stop-color="#829edd"/><stop offset="0.62" stop-color="#899cd9"/><stop offset="0.67" stop-color="#8e9bd6"/><stop offset="0.71" stop-color="#939ad3"/><stop offset="0.75" stop-color="#9599d2"/><stop offset="0.79" stop-color="#9798d1"/><stop offset="0.83" stop-color="#9898d0"/><stop offset="0.88" stop-color="#9898d0"/><stop offset="0.92" stop-color="#9898d0"/><stop offset="0.96" stop-color="#9898d0"/><stop offset="1" stop-color="#9898d0"/></linearGradient><linearGradient id="gEurope21" gradientUnits="userSpaceOnUse" x1="975.95" y1="0" x2="1116.73" y2="0"><stop offset="0" stop-color="#9698d1"/><stop offset="0.04" stop-color="#9699d1"/><stop offset="0.08" stop-color="#9499d2"/><stop offset="0.12" stop-color="#9399d3"/><stop offset="0.17" stop-color="#919ad4"/><stop offset="0.21" stop-color="#8f9bd6"/><stop offset="0.25" stop-color="#8c9bd7"/><stop offset="0.29" stop-color="#8a9cd9"/><stop offset="0.33" stop-color="#879dda"/><stop offset="0.38" stop-color="#859ddb"/><stop offset="0.42" stop-color="#849edc"/><stop offset="0.46" stop-color="#839edd"/><stop offset="0.5" stop-color="#839edc"/><stop offset="0.54" stop-color="#869ddb"/><stop offset="0.58" stop-color="#8a9cd9"/><stop offset="0.62" stop-color="#8e9bd6"/><stop offset="0.67" stop-color="#929ad4"/><stop offset="0.71" stop-color="#9599d2"/><stop offset="0.75" stop-color="#9698d1"/><stop offset="0.79" stop-color="#9798d0"/><stop offset="0.83" stop-color="#9898d0"/><stop offset="0.88" stop-color="#9898d0"/><stop offset="0.92" stop-color="#9898d0"/><stop offset="0.96" stop-color="#9898d0"/><stop offset="1" stop-color="#9898d0"/></linearGradient><linearGradient id="gEurope22" gradientUnits="userSpaceOnUse" x1="975.95" y1="0" x2="1117.76" y2="0"><stop offset="0" stop-color="#9798d1"/><stop offset="0.04" stop-color="#9698d1"/><stop offset="0.08" stop-color="#9699d1"/><stop offset="0.12" stop-color="#9599d2"/><stop offset="0.17" stop-color="#9399d3"/><stop offset="0.21" stop-color="#929ad4"/><stop offset="0.25" stop-color="#909ad5"/><stop offset="0.29" stop-color="#8e9bd6"/><stop offset="0.33" stop-color="#8d9bd7"/><stop offset="0.38" stop-color="#8b9cd8"/><stop offset="0.42" stop-color="#8a9cd8"/><stop offset="0.46" stop-color="#8a9cd8"/><stop offset="0.5" stop-color="#8a9cd8"/><stop offset="0.54" stop-color="#8c9bd7"/><stop offset="0.58" stop-color="#8f9bd6"/><stop offset="0.62" stop-color="#929ad4"/><stop offset="0.67" stop-color="#9499d2"/><stop offset="0.71" stop-color="#9699d1"/><stop offset="0.75" stop-color="#9798d1"/><stop offset="0.79" stop-color="#9898d0"/><stop offset="0.83" stop-color="#9898d0"/><stop offset="0.88" stop-color="#9898d0"/><stop offset="0.92" stop-color="#9898d0"/><stop offset="0.96" stop-color="#9898d0"/><stop offset="1" stop-color="#9898d0"/></linearGradient><linearGradient id="gAfrica4" gradientUnits="userSpaceOnUse" x1="1247.3" y1="0" x2="1379.63" y2="0"><stop offset="0" stop-color="#9898d0"/><stop offset="0.04" stop-color="#9898d0"/><stop offset="0.08" stop-color="#9898d0"/><stop offset="0.12" stop-color="#9898d0"/><stop offset="0.17" stop-color="#9898d0"/><stop offset="0.21" stop-color="#9898d0"/><stop offset="0.25" stop-color="#9798d1"/><stop offset="0.29" stop-color="#9699d1"/><stop offset="0.33" stop-color="#9399d3"/><stop offset="0.38" stop-color="#8d9bd7"/><stop offset="0.42" stop-color="#819ede"/><stop offset="0.46" stop-color="#6ea4e9"/><stop offset="0.5" stop-color="#71b0e8"/><stop offset="0.54" stop-color="#6ac5e2"/><stop offset="0.58" stop-color="#7cd3cc"/><stop offset="0.62" stop-color="#b3d9af"/><stop offset="0.67" stop-color="#dad7a0"/><stop offset="0.71" stop-color="#ebd698"/><stop offset="0.75" stop-color="#e5d69b"/><stop offset="0.79" stop-color="#c4d9a8"/><stop offset="0.83" stop-color="#86d5c5"/><stop offset="0.88" stop-color="#6ac6e1"/><stop offset="0.92" stop-color="#70b0e8"/><stop offset="0.96" stop-color="#73a3e7"/><stop offset="1" stop-color="#869ddb"/></linearGradient><linearGradient id="gAfrica5" gradientUnits="userSpaceOnUse" x1="1247.3" y1="0" x2="1409.79" y2="0"><stop offset="0" stop-color="#9898d0"/><stop offset="0.04" stop-color="#9898d0"/><stop offset="0.08" stop-color="#9898d0"/><stop offset="0.12" stop-color="#9898d0"/><stop offset="0.17" stop-color="#9898d0"/><stop offset="0.21" stop-color="#9798d1"/><stop offset="0.25" stop-color="#9499d2"/><stop offset="0.29" stop-color="#8e9bd6"/><stop offset="0.33" stop-color="#809fdf"/><stop offset="0.38" stop-color="#69a7ec"/><stop offset="0.42" stop-color="#6ebee4"/><stop offset="0.46" stop-color="#7fd3ca"/><stop offset="0.5" stop-color="#d0d7a3"/><stop offset="0.54" stop-color="#feda89"/><stop offset="0.58" stop-color="#fae87d"/><stop offset="0.62" stop-color="#ffdb87"/><stop offset="0.67" stop-color="#cad8a6"/><stop offset="0.71" stop-color="#71d0d3"/><stop offset="0.75" stop-color="#72b3e6"/><stop offset="0.79" stop-color="#74a2e5"/><stop offset="0.83" stop-color="#8a9cd8"/><stop offset="0.88" stop-color="#9499d3"/><stop offset="0.92" stop-color="#9798d1"/><stop offset="0.96" stop-color="#9898d0"/><stop offset="1" stop-color="#9898d0"/></linearGradient><linearGradient id="gAfrica6" gradientUnits="userSpaceOnUse" x1="1247.3" y1="0" x2="1409.79" y2="0"><stop offset="0" stop-color="#9898d0"/><stop offset="0.04" stop-color="#9898d0"/><stop offset="0.08" stop-color="#9898d0"/><stop offset="0.12" stop-color="#9898d0"/><stop offset="0.17" stop-color="#9898d0"/><stop offset="0.21" stop-color="#9798d1"/><stop offset="0.25" stop-color="#9499d2"/><stop offset="0.29" stop-color="#8d9bd7"/><stop offset="0.33" stop-color="#7e9fe0"/><stop offset="0.38" stop-color="#6baaeb"/><stop offset="0.42" stop-color="#6bc2e3"/><stop offset="0.46" stop-color="#8ed6c1"/><stop offset="0.5" stop-color="#e2d69c"/><stop offset="0.54" stop-color="#fbe87d"/><stop offset="0.58" stop-color="#fbfb6f"/><stop offset="0.62" stop-color="#fae97c"/><stop offset="0.67" stop-color="#dcd79e"/><stop offset="0.71" stop-color="#7cd3cc"/><stop offset="0.75" stop-color="#72b6e5"/><stop offset="0.79" stop-color="#71a3e7"/><stop offset="0.83" stop-color="#899cd9"/><stop offset="0.88" stop-color="#9399d3"/><stop offset="0.92" stop-color="#9798d1"/><stop offset="0.96" stop-color="#9898d0"/><stop offset="1" stop-color="#9898d0"/></linearGradient><linearGradient id="gAfrica7" gradientUnits="userSpaceOnUse" x1="1247.3" y1="0" x2="1411.48" y2="0"><stop offset="0" stop-color="#9898d0"/><stop offset="0.04" stop-color="#9898d0"/><stop offset="0.08" stop-color="#9898d0"/><stop offset="0.12" stop-color="#9898d0"/><stop offset="0.17" stop-color="#9898d0"/><stop offset="0.21" stop-color="#9798d1"/><stop offset="0.25" stop-color="#9499d3"/><stop offset="0.29" stop-color="#8c9bd7"/><stop offset="0.33" stop-color="#7ca0e1"/><stop offset="0.38" stop-color="#6dabeb"/><stop offset="0.42" stop-color="#6ac5e2"/><stop offset="0.46" stop-color="#96d7bc"/><stop offset="0.5" stop-color="#e8d69a"/><stop offset="0.54" stop-color="#fae97c"/><stop offset="0.58" stop-color="#faf871"/><stop offset="0.62" stop-color="#fde281"/><stop offset="0.67" stop-color="#ccd8a5"/><stop offset="0.71" stop-color="#6fced5"/><stop offset="0.75" stop-color="#71b2e7"/><stop offset="0.79" stop-color="#78a1e3"/><stop offset="0.83" stop-color="#8c9bd7"/><stop offset="0.88" stop-color="#9499d2"/><stop offset="0.92" stop-color="#9798d1"/><stop offset="0.96" stop-color="#9898d0"/><stop offset="1" stop-color="#9898d0"/></linearGradient><linearGradient id="gAfrica8" gradientUnits="userSpaceOnUse" x1="1247.3" y1="0" x2="1411.48" y2="0"><stop offset="0" stop-color="#9898d0"/><stop offset="0.04" stop-color="#9898d0"/><stop offset="0.08" stop-color="#9898d0"/><stop offset="0.12" stop-color="#9898d0"/><stop offset="0.17" stop-color="#9898d0"/><stop offset="0.21" stop-color="#9798d1"/><stop offset="0.25" stop-color="#9499d2"/><stop offset="0.29" stop-color="#8d9bd7"/><stop offset="0.33" stop-color="#7e9fe0"/><stop offset="0.38" stop-color="#6ba9ec"/><stop offset="0.42" stop-color="#6bc1e3"/><stop offset="0.46" stop-color="#88d5c4"/><stop offset="0.5" stop-color="#d9d7a0"/><stop offset="0.54" stop-color="#fedd85"/><stop offset="0.58" stop-color="#fae97c"/><stop offset="0.62" stop-color="#fdd78c"/><stop offset="0.67" stop-color="#bdd9ab"/><stop offset="0.71" stop-color="#6bccda"/><stop offset="0.75" stop-color="#70afe8"/><stop offset="0.79" stop-color="#7aa0e2"/><stop offset="0.83" stop-color="#8d9bd7"/><stop offset="0.88" stop-color="#9599d2"/><stop offset="0.92" stop-color="#9798d1"/><stop offset="0.96" stop-color="#9898d0"/><stop offset="1" stop-color="#9898d0"/></linearGradient><linearGradient id="gAfrica9" gradientUnits="userSpaceOnUse" x1="1251.15" y1="0" x2="1414.79" y2="0"><stop offset="0" stop-color="#9898d0"/><stop offset="0.04" stop-color="#9898d0"/><stop offset="0.08" stop-color="#9898d0"/><stop offset="0.12" stop-color="#9898d0"/><stop offset="0.17" stop-color="#9798d0"/><stop offset="0.21" stop-color="#9699d1"/><stop offset="0.25" stop-color="#929ad4"/><stop offset="0.29" stop-color="#889cd9"/><stop offset="0.33" stop-color="#75a2e5"/><stop offset="0.38" stop-color="#70b0e8"/><stop offset="0.42" stop-color="#6ac8df"/><stop offset="0.46" stop-color="#98d7bb"/><stop offset="0.5" stop-color="#d9d7a0"/><stop offset="0.54" stop-color="#f7d592"/><stop offset="0.58" stop-color="#f3d594"/><stop offset="0.62" stop-color="#c6d8a7"/><stop offset="0.67" stop-color="#76d1d0"/><stop offset="0.71" stop-color="#72b7e5"/><stop offset="0.75" stop-color="#6fa4e9"/><stop offset="0.79" stop-color="#879dda"/><stop offset="0.83" stop-color="#929ad3"/><stop offset="0.88" stop-color="#9698d1"/><stop offset="0.92" stop-color="#9898d0"/><stop offset="0.96" stop-color="#9898d0"/><stop offset="1" stop-color="#9898d0"/></linearGradient><linearGradient id="gAfrica10" gradientUnits="userSpaceOnUse" x1="1254.99" y1="0" x2="1418.1" y2="0"><stop offset="0" stop-color="#9898d0"/><stop offset="0.04" stop-color="#9898d0"/><stop offset="0.08" stop-color="#9898d0"/><stop offset="0.12" stop-color="#9898d0"/><stop offset="0.17" stop-color="#9798d1"/><stop offset="0.21" stop-color="#9599d2"/><stop offset="0.25" stop-color="#8f9ad5"/><stop offset="0.29" stop-color="#839edd"/><stop offset="0.33" stop-color="#6da4ea"/><stop offset="0.38" stop-color="#72b4e6"/><stop offset="0.42" stop-color="#6acbdc"/><stop offset="0.46" stop-color="#94d7be"/><stop offset="0.5" stop-color="#c4d8a8"/><stop offset="0.54" stop-color="#d1d7a3"/><stop offset="0.58" stop-color="#b8d9ad"/><stop offset="0.62" stop-color="#7ad2cd"/><stop offset="0.67" stop-color="#6ebde4"/><stop offset="0.71" stop-color="#68a7ec"/><stop offset="0.75" stop-color="#829edd"/><stop offset="0.79" stop-color="#909ad5"/><stop offset="0.83" stop-color="#9599d2"/><stop offset="0.88" stop-color="#9798d0"/><stop offset="0.92" stop-color="#9898d0"/><stop offset="0.96" stop-color="#9898d0"/><stop offset="1" stop-color="#9898d0"/></linearGradient><linearGradient id="gAfrica11" gradientUnits="userSpaceOnUse" x1="1278.08" y1="0" x2="1418.1" y2="0"><stop offset="0" stop-color="#9898d0"/><stop offset="0.04" stop-color="#9798d1"/><stop offset="0.08" stop-color="#9599d2"/><stop offset="0.12" stop-color="#919ad4"/><stop offset="0.17" stop-color="#899cd9"/><stop offset="0.21" stop-color="#7ca0e1"/><stop offset="0.25" stop-color="#68a6ec"/><stop offset="0.29" stop-color="#72b3e6"/><stop offset="0.33" stop-color="#6ac5e2"/><stop offset="0.38" stop-color="#73d0d2"/><stop offset="0.42" stop-color="#8cd6c2"/><stop offset="0.46" stop-color="#99d7bb"/><stop offset="0.5" stop-color="#8cd6c2"/><stop offset="0.54" stop-color="#70cfd4"/><stop offset="0.58" stop-color="#6bc1e3"/><stop offset="0.62" stop-color="#6faee9"/><stop offset="0.67" stop-color="#74a2e6"/><stop offset="0.71" stop-color="#869ddb"/><stop offset="0.75" stop-color="#909ad5"/><stop offset="0.79" stop-color="#9599d2"/><stop offset="0.83" stop-color="#9798d1"/><stop offset="0.88" stop-color="#9898d0"/><stop offset="0.92" stop-color="#9898d0"/><stop offset="0.96" stop-color="#9898d0"/><stop offset="1" stop-color="#9898d0"/></linearGradient><linearGradient id="gAfrica12" gradientUnits="userSpaceOnUse" x1="1281" y1="0" x2="1417.59" y2="0"><stop offset="0" stop-color="#9798d0"/><stop offset="0.04" stop-color="#9798d1"/><stop offset="0.08" stop-color="#9599d2"/><stop offset="0.12" stop-color="#919ad4"/><stop offset="0.17" stop-color="#8a9cd9"/><stop offset="0.21" stop-color="#7e9fe0"/><stop offset="0.25" stop-color="#6ca4ea"/><stop offset="0.29" stop-color="#70afe9"/><stop offset="0.33" stop-color="#70bbe4"/><stop offset="0.38" stop-color="#6ac7e0"/><stop offset="0.42" stop-color="#6bccda"/><stop offset="0.46" stop-color="#6ccdd7"/><stop offset="0.5" stop-color="#6acadd"/><stop offset="0.54" stop-color="#6cc0e3"/><stop offset="0.58" stop-color="#71b1e8"/><stop offset="0.62" stop-color="#6aa5eb"/><stop offset="0.67" stop-color="#7e9fdf"/><stop offset="0.71" stop-color="#8b9cd8"/><stop offset="0.75" stop-color="#929ad3"/><stop offset="0.79" stop-color="#9699d1"/><stop offset="0.83" stop-color="#9798d0"/><stop offset="0.88" stop-color="#9898d0"/><stop offset="0.92" stop-color="#9898d0"/><stop offset="0.96" stop-color="#9898d0"/><stop offset="1" stop-color="#9898d0"/></linearGradient><linearGradient id="gAfrica13" gradientUnits="userSpaceOnUse" x1="1283.92" y1="0" x2="1417.08" y2="0"><stop offset="0" stop-color="#9798d0"/><stop offset="0.04" stop-color="#9798d1"/><stop offset="0.08" stop-color="#9599d2"/><stop offset="0.12" stop-color="#919ad4"/><stop offset="0.17" stop-color="#8b9cd8"/><stop offset="0.21" stop-color="#819fde"/><stop offset="0.25" stop-color="#73a2e6"/><stop offset="0.29" stop-color="#6aa9ec"/><stop offset="0.33" stop-color="#71b0e8"/><stop offset="0.38" stop-color="#71b8e5"/><stop offset="0.42" stop-color="#6fbce4"/><stop offset="0.46" stop-color="#6ebde4"/><stop offset="0.5" stop-color="#71b8e5"/><stop offset="0.54" stop-color="#70afe8"/><stop offset="0.58" stop-color="#68a6ed"/><stop offset="0.62" stop-color="#7aa1e2"/><stop offset="0.67" stop-color="#879dda"/><stop offset="0.71" stop-color="#909ad5"/><stop offset="0.75" stop-color="#9499d2"/><stop offset="0.79" stop-color="#9798d1"/><stop offset="0.83" stop-color="#9798d0"/><stop offset="0.88" stop-color="#9898d0"/><stop offset="0.92" stop-color="#9898d0"/><stop offset="0.96" stop-color="#9898d0"/><stop offset="1" stop-color="#9898d0"/></linearGradient><linearGradient id="gAfrica14" gradientUnits="userSpaceOnUse" x1="1286.85" y1="0" x2="1416.56" y2="0"><stop offset="0" stop-color="#9798d0"/><stop offset="0.04" stop-color="#9698d1"/><stop offset="0.08" stop-color="#9599d2"/><stop offset="0.12" stop-color="#929ad4"/><stop offset="0.17" stop-color="#8c9bd7"/><stop offset="0.21" stop-color="#859ddb"/><stop offset="0.25" stop-color="#7ba0e1"/><stop offset="0.29" stop-color="#70a3e8"/><stop offset="0.33" stop-color="#68a7ec"/><stop offset="0.38" stop-color="#6daceb"/><stop offset="0.42" stop-color="#6fade9"/><stop offset="0.46" stop-color="#6eadea"/><stop offset="0.5" stop-color="#6ba9ec"/><stop offset="0.54" stop-color="#6da4ea"/><stop offset="0.58" stop-color="#7aa1e2"/><stop offset="0.62" stop-color="#859ddc"/><stop offset="0.67" stop-color="#8d9bd6"/><stop offset="0.71" stop-color="#939ad3"/><stop offset="0.75" stop-color="#9699d1"/><stop offset="0.79" stop-color="#9798d1"/><stop offset="0.83" stop-color="#9898d0"/><stop offset="0.88" stop-color="#9898d0"/><stop offset="0.92" stop-color="#9898d0"/><stop offset="0.96" stop-color="#9898d0"/><stop offset="1" stop-color="#9898d0"/></linearGradient><linearGradient id="gAfrica15" gradientUnits="userSpaceOnUse" x1="1293.51" y1="0" x2="1418.1" y2="0"><stop offset="0" stop-color="#9798d1"/><stop offset="0.04" stop-color="#9699d1"/><stop offset="0.08" stop-color="#9399d3"/><stop offset="0.12" stop-color="#909ad5"/><stop offset="0.17" stop-color="#8b9cd8"/><stop offset="0.21" stop-color="#859ddb"/><stop offset="0.25" stop-color="#7e9fdf"/><stop offset="0.29" stop-color="#77a1e4"/><stop offset="0.33" stop-color="#72a3e7"/><stop offset="0.38" stop-color="#6fa4e9"/><stop offset="0.42" stop-color="#6fa4e9"/><stop offset="0.46" stop-color="#73a2e6"/><stop offset="0.5" stop-color="#7aa0e2"/><stop offset="0.54" stop-color="#829edd"/><stop offset="0.58" stop-color="#8a9cd9"/><stop offset="0.62" stop-color="#8f9ad5"/><stop offset="0.67" stop-color="#9399d3"/><stop offset="0.71" stop-color="#9699d1"/><stop offset="0.75" stop-color="#9798d1"/><stop offset="0.79" stop-color="#9898d0"/><stop offset="0.83" stop-color="#9898d0"/><stop offset="0.88" stop-color="#9898d0"/><stop offset="0.92" stop-color="#9898d0"/><stop offset="0.96" stop-color="#9898d0"/><stop offset="1" stop-color="#9898d0"/></linearGradient><linearGradient id="gAfrica16" gradientUnits="userSpaceOnUse" x1="1300.18" y1="0" x2="1419.64" y2="0"><stop offset="0" stop-color="#9699d1"/><stop offset="0.04" stop-color="#9599d2"/><stop offset="0.08" stop-color="#939ad3"/><stop offset="0.12" stop-color="#909ad5"/><stop offset="0.17" stop-color="#8c9bd7"/><stop offset="0.21" stop-color="#889dda"/><stop offset="0.25" stop-color="#849edc"/><stop offset="0.29" stop-color="#819fde"/><stop offset="0.33" stop-color="#7f9fdf"/><stop offset="0.38" stop-color="#7f9fdf"/><stop offset="0.42" stop-color="#819ede"/><stop offset="0.46" stop-color="#859ddb"/><stop offset="0.5" stop-color="#8a9cd9"/><stop offset="0.54" stop-color="#8e9bd6"/><stop offset="0.58" stop-color="#929ad4"/><stop offset="0.62" stop-color="#9599d2"/><stop offset="0.67" stop-color="#9699d1"/><stop offset="0.71" stop-color="#9798d1"/><stop offset="0.75" stop-color="#9898d0"/><stop offset="0.79" stop-color="#9898d0"/><stop offset="0.83" stop-color="#9898d0"/><stop offset="0.88" stop-color="#9898d0"/><stop offset="0.92" stop-color="#9898d0"/><stop offset="0.96" stop-color="#9898d0"/><stop offset="1" stop-color="#9898d0"/></linearGradient><linearGradient id="gAfrica17" gradientUnits="userSpaceOnUse" x1="1306.85" y1="0" x2="1421.18" y2="0"><stop offset="0" stop-color="#9699d1"/><stop offset="0.04" stop-color="#9499d2"/><stop offset="0.08" stop-color="#9399d3"/><stop offset="0.12" stop-color="#919ad4"/><stop offset="0.17" stop-color="#8e9bd6"/><stop offset="0.21" stop-color="#8c9bd7"/><stop offset="0.25" stop-color="#8b9cd8"/><stop offset="0.29" stop-color="#8a9cd9"/><stop offset="0.33" stop-color="#8a9cd9"/><stop offset="0.38" stop-color="#8b9cd8"/><stop offset="0.42" stop-color="#8d9bd7"/><stop offset="0.46" stop-color="#8f9ad5"/><stop offset="0.5" stop-color="#929ad4"/><stop offset="0.54" stop-color="#9499d2"/><stop offset="0.58" stop-color="#9699d1"/><stop offset="0.62" stop-color="#9798d1"/><stop offset="0.67" stop-color="#9798d0"/><stop offset="0.71" stop-color="#9898d0"/><stop offset="0.75" stop-color="#9898d0"/><stop offset="0.79" stop-color="#9898d0"/><stop offset="0.83" stop-color="#9898d0"/><stop offset="0.88" stop-color="#9898d0"/><stop offset="0.92" stop-color="#9898d0"/><stop offset="0.96" stop-color="#9898d0"/><stop offset="1" stop-color="#9898d0"/></linearGradient><linearGradient id="gSA4" gradientUnits="userSpaceOnUse" x1="952.2" y1="0" x2="1072.52" y2="0"><stop offset="0" stop-color="#9898d0"/><stop offset="0.04" stop-color="#9898d0"/><stop offset="0.08" stop-color="#9898d0"/><stop offset="0.12" stop-color="#9898d0"/><stop offset="0.17" stop-color="#9898d0"/><stop offset="0.21" stop-color="#9898d0"/><stop offset="0.25" stop-color="#9798d0"/><stop offset="0.29" stop-color="#9699d1"/><stop offset="0.33" stop-color="#9499d3"/><stop offset="0.38" stop-color="#8f9ad5"/><stop offset="0.42" stop-color="#879dda"/><stop offset="0.46" stop-color="#7aa0e2"/><stop offset="0.5" stop-color="#68a7ec"/><stop offset="0.54" stop-color="#72b3e6"/><stop offset="0.58" stop-color="#6ac6e1"/><stop offset="0.62" stop-color="#78d1ce"/><stop offset="0.67" stop-color="#a4d8b5"/><stop offset="0.71" stop-color="#c8d8a6"/><stop offset="0.75" stop-color="#d9d7a0"/><stop offset="0.79" stop-color="#d7d7a0"/><stop offset="0.83" stop-color="#c0d9aa"/><stop offset="0.88" stop-color="#8fd6c0"/><stop offset="0.92" stop-color="#6acbdb"/><stop offset="0.96" stop-color="#71b8e5"/><stop offset="1" stop-color="#6aa9ec"/></linearGradient><linearGradient id="gSA5" gradientUnits="userSpaceOnUse" x1="952.2" y1="0" x2="1107.38" y2="0"><stop offset="0" stop-color="#9898d0"/><stop offset="0.04" stop-color="#9898d0"/><stop offset="0.08" stop-color="#9898d0"/><stop offset="0.12" stop-color="#9898d0"/><stop offset="0.17" stop-color="#9898d0"/><stop offset="0.21" stop-color="#9798d1"/><stop offset="0.25" stop-color="#9499d3"/><stop offset="0.29" stop-color="#8d9bd7"/><stop offset="0.33" stop-color="#7f9fdf"/><stop offset="0.38" stop-color="#68a7ec"/><stop offset="0.42" stop-color="#70bbe4"/><stop offset="0.46" stop-color="#75d1d1"/><stop offset="0.5" stop-color="#bed9aa"/><stop offset="0.54" stop-color="#f2d595"/><stop offset="0.58" stop-color="#fedf83"/><stop offset="0.62" stop-color="#feda89"/><stop offset="0.67" stop-color="#d6d7a1"/><stop offset="0.71" stop-color="#83d4c7"/><stop offset="0.75" stop-color="#6ebee4"/><stop offset="0.79" stop-color="#68a6ec"/><stop offset="0.83" stop-color="#829edd"/><stop offset="0.88" stop-color="#909ad5"/><stop offset="0.92" stop-color="#9599d2"/><stop offset="0.96" stop-color="#9798d0"/><stop offset="1" stop-color="#9898d0"/></linearGradient><linearGradient id="gSA6" gradientUnits="userSpaceOnUse" x1="952.2" y1="0" x2="1116.78" y2="0"><stop offset="0" stop-color="#9898d0"/><stop offset="0.04" stop-color="#9898d0"/><stop offset="0.08" stop-color="#9898d0"/><stop offset="0.12" stop-color="#9898d0"/><stop offset="0.17" stop-color="#9798d0"/><stop offset="0.21" stop-color="#9699d1"/><stop offset="0.25" stop-color="#919ad4"/><stop offset="0.29" stop-color="#879dda"/><stop offset="0.33" stop-color="#70a3e8"/><stop offset="0.38" stop-color="#72b4e6"/><stop offset="0.42" stop-color="#6eced6"/><stop offset="0.46" stop-color="#bfd9aa"/><stop offset="0.5" stop-color="#fed98b"/><stop offset="0.54" stop-color="#f9f275"/><stop offset="0.58" stop-color="#f9f176"/><stop offset="0.62" stop-color="#f4d594"/><stop offset="0.67" stop-color="#9dd8b9"/><stop offset="0.71" stop-color="#6bc3e3"/><stop offset="0.75" stop-color="#68a7ec"/><stop offset="0.79" stop-color="#839edd"/><stop offset="0.83" stop-color="#919ad4"/><stop offset="0.88" stop-color="#9699d1"/><stop offset="0.92" stop-color="#9898d0"/><stop offset="0.96" stop-color="#9898d0"/><stop offset="1" stop-color="#9898d0"/></linearGradient><linearGradient id="gSA7" gradientUnits="userSpaceOnUse" x1="952.2" y1="0" x2="1113.39" y2="0"><stop offset="0" stop-color="#9898d0"/><stop offset="0.04" stop-color="#9898d0"/><stop offset="0.08" stop-color="#9898d0"/><stop offset="0.12" stop-color="#9898d0"/><stop offset="0.17" stop-color="#9798d0"/><stop offset="0.21" stop-color="#9699d1"/><stop offset="0.25" stop-color="#929ad4"/><stop offset="0.29" stop-color="#889cd9"/><stop offset="0.33" stop-color="#74a2e5"/><stop offset="0.38" stop-color="#71b0e8"/><stop offset="0.42" stop-color="#6acbdc"/><stop offset="0.46" stop-color="#afd9b1"/><stop offset="0.5" stop-color="#f7d592"/><stop offset="0.54" stop-color="#f9f076"/><stop offset="0.58" stop-color="#fbfa70"/><stop offset="0.62" stop-color="#fedf83"/><stop offset="0.67" stop-color="#c4d9a8"/><stop offset="0.71" stop-color="#6bcdd9"/><stop offset="0.75" stop-color="#70b0e8"/><stop offset="0.79" stop-color="#79a1e3"/><stop offset="0.83" stop-color="#8c9bd7"/><stop offset="0.88" stop-color="#9499d2"/><stop offset="0.92" stop-color="#9798d1"/><stop offset="0.96" stop-color="#9898d0"/><stop offset="1" stop-color="#9898d0"/></linearGradient><linearGradient id="gSA8" gradientUnits="userSpaceOnUse" x1="952.2" y1="0" x2="1116.78" y2="0"><stop offset="0" stop-color="#9898d0"/><stop offset="0.04" stop-color="#9898d0"/><stop offset="0.08" stop-color="#9898d0"/><stop offset="0.12" stop-color="#9898d0"/><stop offset="0.17" stop-color="#9798d0"/><stop offset="0.21" stop-color="#9699d1"/><stop offset="0.25" stop-color="#919ad4"/><stop offset="0.29" stop-color="#879dda"/><stop offset="0.33" stop-color="#71a3e7"/><stop offset="0.38" stop-color="#72b3e6"/><stop offset="0.42" stop-color="#6ccdd7"/><stop offset="0.46" stop-color="#b9d9ac"/><stop offset="0.5" stop-color="#fad68f"/><stop offset="0.54" stop-color="#f9ec79"/><stop offset="0.58" stop-color="#f9eb7a"/><stop offset="0.62" stop-color="#eed597"/><stop offset="0.67" stop-color="#97d7bc"/><stop offset="0.71" stop-color="#6bc1e3"/><stop offset="0.75" stop-color="#68a7ec"/><stop offset="0.79" stop-color="#849edc"/><stop offset="0.83" stop-color="#919ad4"/><stop offset="0.88" stop-color="#9699d1"/><stop offset="0.92" stop-color="#9898d0"/><stop offset="0.96" stop-color="#9898d0"/><stop offset="1" stop-color="#9898d0"/></linearGradient><linearGradient id="gSA9" gradientUnits="userSpaceOnUse" x1="952.2" y1="0" x2="1115.7" y2="0"><stop offset="0" stop-color="#9898d0"/><stop offset="0.04" stop-color="#9898d0"/><stop offset="0.08" stop-color="#9898d0"/><stop offset="0.12" stop-color="#9898d0"/><stop offset="0.17" stop-color="#9798d0"/><stop offset="0.21" stop-color="#9699d1"/><stop offset="0.25" stop-color="#929ad3"/><stop offset="0.29" stop-color="#899cd9"/><stop offset="0.33" stop-color="#76a2e5"/><stop offset="0.38" stop-color="#70afe8"/><stop offset="0.42" stop-color="#6ac8df"/><stop offset="0.46" stop-color="#9ed8b8"/><stop offset="0.5" stop-color="#e3d69c"/><stop offset="0.54" stop-color="#fedc86"/><stop offset="0.58" stop-color="#fedd85"/><stop offset="0.62" stop-color="#e1d69d"/><stop offset="0.67" stop-color="#8fd6c1"/><stop offset="0.71" stop-color="#6bc1e3"/><stop offset="0.75" stop-color="#68a7ec"/><stop offset="0.79" stop-color="#839edd"/><stop offset="0.83" stop-color="#919ad4"/><stop offset="0.88" stop-color="#9699d1"/><stop offset="0.92" stop-color="#9798d0"/><stop offset="0.96" stop-color="#9898d0"/><stop offset="1" stop-color="#9898d0"/></linearGradient><linearGradient id="gSA10" gradientUnits="userSpaceOnUse" x1="954.21" y1="0" x2="1110.15" y2="0"><stop offset="0" stop-color="#9898d0"/><stop offset="0.04" stop-color="#9898d0"/><stop offset="0.08" stop-color="#9898d0"/><stop offset="0.12" stop-color="#9898d0"/><stop offset="0.17" stop-color="#9798d0"/><stop offset="0.21" stop-color="#9699d1"/><stop offset="0.25" stop-color="#9399d3"/><stop offset="0.29" stop-color="#8b9cd8"/><stop offset="0.33" stop-color="#7ba0e1"/><stop offset="0.38" stop-color="#6baaeb"/><stop offset="0.42" stop-color="#6ebee4"/><stop offset="0.46" stop-color="#77d1d0"/><stop offset="0.5" stop-color="#b6d9ad"/><stop offset="0.54" stop-color="#e0d69d"/><stop offset="0.58" stop-color="#edd597"/><stop offset="0.62" stop-color="#d8d7a0"/><stop offset="0.67" stop-color="#9ad7bb"/><stop offset="0.71" stop-color="#6ac8df"/><stop offset="0.75" stop-color="#70afe9"/><stop offset="0.79" stop-color="#78a1e3"/><stop offset="0.83" stop-color="#8b9cd8"/><stop offset="0.88" stop-color="#9399d3"/><stop offset="0.92" stop-color="#9798d1"/><stop offset="0.96" stop-color="#9898d0"/><stop offset="1" stop-color="#9898d0"/></linearGradient><linearGradient id="gSA11" gradientUnits="userSpaceOnUse" x1="995.85" y1="0" x2="1108.76" y2="0"><stop offset="0" stop-color="#929ad4"/><stop offset="0.04" stop-color="#8c9bd7"/><stop offset="0.08" stop-color="#829edd"/><stop offset="0.12" stop-color="#74a2e6"/><stop offset="0.17" stop-color="#6baaeb"/><stop offset="0.21" stop-color="#72b6e5"/><stop offset="0.25" stop-color="#6ac7e0"/><stop offset="0.29" stop-color="#75d1d0"/><stop offset="0.33" stop-color="#97d7bc"/><stop offset="0.38" stop-color="#b6d9ad"/><stop offset="0.42" stop-color="#c4d8a8"/><stop offset="0.46" stop-color="#c2d9a9"/><stop offset="0.5" stop-color="#aad9b3"/><stop offset="0.54" stop-color="#82d4c8"/><stop offset="0.58" stop-color="#6acadd"/><stop offset="0.62" stop-color="#71b8e5"/><stop offset="0.67" stop-color="#6baaeb"/><stop offset="0.71" stop-color="#77a1e4"/><stop offset="0.75" stop-color="#869ddb"/><stop offset="0.79" stop-color="#8f9bd6"/><stop offset="0.83" stop-color="#9499d3"/><stop offset="0.88" stop-color="#9699d1"/><stop offset="0.92" stop-color="#9798d0"/><stop offset="0.96" stop-color="#9898d0"/><stop offset="1" stop-color="#9898d0"/></linearGradient><linearGradient id="gSA12" gradientUnits="userSpaceOnUse" x1="1015.44" y1="0" x2="1104.14" y2="0"><stop offset="0" stop-color="#68a6ed"/><stop offset="0.04" stop-color="#70aee9"/><stop offset="0.08" stop-color="#72b7e5"/><stop offset="0.12" stop-color="#6bc3e3"/><stop offset="0.17" stop-color="#6acbdc"/><stop offset="0.21" stop-color="#74d0d1"/><stop offset="0.25" stop-color="#82d4c8"/><stop offset="0.29" stop-color="#8dd6c2"/><stop offset="0.33" stop-color="#91d6bf"/><stop offset="0.38" stop-color="#8bd6c3"/><stop offset="0.42" stop-color="#7cd3cc"/><stop offset="0.46" stop-color="#6dcdd7"/><stop offset="0.5" stop-color="#6ac5e2"/><stop offset="0.54" stop-color="#71b9e5"/><stop offset="0.58" stop-color="#6faee9"/><stop offset="0.62" stop-color="#6aa5ec"/><stop offset="0.67" stop-color="#79a1e3"/><stop offset="0.71" stop-color="#849edc"/><stop offset="0.75" stop-color="#8c9bd7"/><stop offset="0.79" stop-color="#919ad4"/><stop offset="0.83" stop-color="#9499d2"/><stop offset="0.88" stop-color="#9699d1"/><stop offset="0.92" stop-color="#9798d1"/><stop offset="0.96" stop-color="#9898d0"/><stop offset="1" stop-color="#9898d0"/></linearGradient><linearGradient id="gSA13" gradientUnits="userSpaceOnUse" x1="1022" y1="0" x2="1107.14" y2="0"><stop offset="0" stop-color="#6eadea"/><stop offset="0.04" stop-color="#72b3e6"/><stop offset="0.08" stop-color="#70bce4"/><stop offset="0.12" stop-color="#6ac4e3"/><stop offset="0.17" stop-color="#6ac8df"/><stop offset="0.21" stop-color="#6acbda"/><stop offset="0.25" stop-color="#6bcdd8"/><stop offset="0.29" stop-color="#6bcdd9"/><stop offset="0.33" stop-color="#6acbdc"/><stop offset="0.38" stop-color="#6ac7e1"/><stop offset="0.42" stop-color="#6dbee4"/><stop offset="0.46" stop-color="#72b5e6"/><stop offset="0.5" stop-color="#6eadea"/><stop offset="0.54" stop-color="#69a5ec"/><stop offset="0.58" stop-color="#77a1e4"/><stop offset="0.62" stop-color="#819ede"/><stop offset="0.67" stop-color="#899cd9"/><stop offset="0.71" stop-color="#8f9bd5"/><stop offset="0.75" stop-color="#9399d3"/><stop offset="0.79" stop-color="#9599d2"/><stop offset="0.83" stop-color="#9698d1"/><stop offset="0.88" stop-color="#9798d0"/><stop offset="0.92" stop-color="#9898d0"/><stop offset="0.96" stop-color="#9898d0"/><stop offset="1" stop-color="#9898d0"/></linearGradient><linearGradient id="gSA14" gradientUnits="userSpaceOnUse" x1="1028.55" y1="0" x2="1110.15" y2="0"><stop offset="0" stop-color="#70afe9"/><stop offset="0.04" stop-color="#72b3e6"/><stop offset="0.08" stop-color="#71b8e5"/><stop offset="0.12" stop-color="#70bce4"/><stop offset="0.17" stop-color="#6dbee4"/><stop offset="0.21" stop-color="#6dbfe4"/><stop offset="0.25" stop-color="#6ebde4"/><stop offset="0.29" stop-color="#71b9e5"/><stop offset="0.33" stop-color="#72b4e6"/><stop offset="0.38" stop-color="#70afe9"/><stop offset="0.42" stop-color="#6aa9ec"/><stop offset="0.46" stop-color="#6ea4e9"/><stop offset="0.5" stop-color="#79a1e3"/><stop offset="0.54" stop-color="#829edd"/><stop offset="0.58" stop-color="#899cd9"/><stop offset="0.62" stop-color="#8e9bd6"/><stop offset="0.67" stop-color="#929ad4"/><stop offset="0.71" stop-color="#9499d2"/><stop offset="0.75" stop-color="#9699d1"/><stop offset="0.79" stop-color="#9798d1"/><stop offset="0.83" stop-color="#9798d0"/><stop offset="0.88" stop-color="#9898d0"/><stop offset="0.92" stop-color="#9898d0"/><stop offset="0.96" stop-color="#9898d0"/><stop offset="1" stop-color="#9898d0"/></linearGradient><linearGradient id="gSA15" gradientUnits="userSpaceOnUse" x1="1034.34" y1="0" x2="1113.47" y2="0"><stop offset="0" stop-color="#6dabeb"/><stop offset="0.04" stop-color="#6fade9"/><stop offset="0.08" stop-color="#70afe8"/><stop offset="0.12" stop-color="#71b0e8"/><stop offset="0.17" stop-color="#70afe8"/><stop offset="0.21" stop-color="#6faee9"/><stop offset="0.25" stop-color="#6dabeb"/><stop offset="0.29" stop-color="#68a7ec"/><stop offset="0.33" stop-color="#6da4ea"/><stop offset="0.38" stop-color="#76a2e5"/><stop offset="0.42" stop-color="#7e9fe0"/><stop offset="0.46" stop-color="#859ddc"/><stop offset="0.5" stop-color="#8a9cd8"/><stop offset="0.54" stop-color="#8f9bd6"/><stop offset="0.58" stop-color="#929ad4"/><stop offset="0.62" stop-color="#9499d2"/><stop offset="0.67" stop-color="#9699d1"/><stop offset="0.71" stop-color="#9798d1"/><stop offset="0.75" stop-color="#9798d0"/><stop offset="0.79" stop-color="#9898d0"/><stop offset="0.83" stop-color="#9898d0"/><stop offset="0.88" stop-color="#9898d0"/><stop offset="0.92" stop-color="#9898d0"/><stop offset="0.96" stop-color="#9898d0"/><stop offset="1" stop-color="#9898d0"/></linearGradient><linearGradient id="gSA16" gradientUnits="userSpaceOnUse" x1="1040.12" y1="0" x2="1116.78" y2="0"><stop offset="0" stop-color="#6aa5ec"/><stop offset="0.04" stop-color="#69a5ec"/><stop offset="0.08" stop-color="#69a5ec"/><stop offset="0.12" stop-color="#6ba5eb"/><stop offset="0.17" stop-color="#6ea4e9"/><stop offset="0.21" stop-color="#73a2e6"/><stop offset="0.25" stop-color="#78a1e3"/><stop offset="0.29" stop-color="#7e9fe0"/><stop offset="0.33" stop-color="#849edc"/><stop offset="0.38" stop-color="#889cd9"/><stop offset="0.42" stop-color="#8d9bd7"/><stop offset="0.46" stop-color="#909ad5"/><stop offset="0.5" stop-color="#939ad3"/><stop offset="0.54" stop-color="#9499d2"/><stop offset="0.58" stop-color="#9699d1"/><stop offset="0.62" stop-color="#9798d1"/><stop offset="0.67" stop-color="#9798d0"/><stop offset="0.71" stop-color="#9898d0"/><stop offset="0.75" stop-color="#9898d0"/><stop offset="0.79" stop-color="#9898d0"/><stop offset="0.83" stop-color="#9898d0"/><stop offset="0.88" stop-color="#9898d0"/><stop offset="0.92" stop-color="#9898d0"/><stop offset="0.96" stop-color="#9898d0"/><stop offset="1" stop-color="#9898d0"/></linearGradient><linearGradient id="gSA17" gradientUnits="userSpaceOnUse" x1="1041.82" y1="0" x2="1116.78" y2="0"><stop offset="0" stop-color="#7aa1e2"/><stop offset="0.04" stop-color="#79a1e2"/><stop offset="0.08" stop-color="#7aa0e2"/><stop offset="0.12" stop-color="#7ca0e1"/><stop offset="0.17" stop-color="#7e9fe0"/><stop offset="0.21" stop-color="#819ede"/><stop offset="0.25" stop-color="#859ddb"/><stop offset="0.29" stop-color="#889cd9"/><stop offset="0.33" stop-color="#8c9bd7"/><stop offset="0.38" stop-color="#8f9bd6"/><stop offset="0.42" stop-color="#919ad4"/><stop offset="0.46" stop-color="#9399d3"/><stop offset="0.5" stop-color="#9599d2"/><stop offset="0.54" stop-color="#9699d1"/><stop offset="0.58" stop-color="#9798d1"/><stop offset="0.62" stop-color="#9798d0"/><stop offset="0.67" stop-color="#9898d0"/><stop offset="0.71" stop-color="#9898d0"/><stop offset="0.75" stop-color="#9898d0"/><stop offset="0.79" stop-color="#9898d0"/><stop offset="0.83" stop-color="#9898d0"/><stop offset="0.88" stop-color="#9898d0"/><stop offset="0.92" stop-color="#9898d0"/><stop offset="0.96" stop-color="#9898d0"/><stop offset="1" stop-color="#9898d0"/></linearGradient><linearGradient id="gSA18" gradientUnits="userSpaceOnUse" x1="1043.52" y1="0" x2="1116.78" y2="0"><stop offset="0" stop-color="#859ddb"/><stop offset="0.04" stop-color="#859ddb"/><stop offset="0.08" stop-color="#869ddb"/><stop offset="0.12" stop-color="#879dda"/><stop offset="0.17" stop-color="#899cd9"/><stop offset="0.21" stop-color="#8b9cd8"/><stop offset="0.25" stop-color="#8d9bd7"/><stop offset="0.29" stop-color="#8f9ad5"/><stop offset="0.33" stop-color="#919ad4"/><stop offset="0.38" stop-color="#9399d3"/><stop offset="0.42" stop-color="#9499d2"/><stop offset="0.46" stop-color="#9599d2"/><stop offset="0.5" stop-color="#9698d1"/><stop offset="0.54" stop-color="#9798d1"/><stop offset="0.58" stop-color="#9798d0"/><stop offset="0.62" stop-color="#9898d0"/><stop offset="0.67" stop-color="#9898d0"/><stop offset="0.71" stop-color="#9898d0"/><stop offset="0.75" stop-color="#9898d0"/><stop offset="0.79" stop-color="#9898d0"/><stop offset="0.83" stop-color="#9898d0"/><stop offset="0.88" stop-color="#9898d0"/><stop offset="0.92" stop-color="#9898d0"/><stop offset="0.96" stop-color="#9898d0"/><stop offset="1" stop-color="#9898d0"/></linearGradient><linearGradient id="gAustralia4" gradientUnits="userSpaceOnUse" x1="1247.3" y1="0" x2="1373.48" y2="0"><stop offset="0" stop-color="#9898d0"/><stop offset="0.04" stop-color="#9898d0"/><stop offset="0.08" stop-color="#9898d0"/><stop offset="0.12" stop-color="#9798d0"/><stop offset="0.17" stop-color="#9698d1"/><stop offset="0.21" stop-color="#9499d2"/><stop offset="0.25" stop-color="#909ad5"/><stop offset="0.29" stop-color="#889cd9"/><stop offset="0.33" stop-color="#7ca0e1"/><stop offset="0.38" stop-color="#68a6ed"/><stop offset="0.42" stop-color="#72b3e6"/><stop offset="0.46" stop-color="#6ac6e1"/><stop offset="0.5" stop-color="#7cd3cc"/><stop offset="0.54" stop-color="#b3d9af"/><stop offset="0.58" stop-color="#ded79e"/><stop offset="0.62" stop-color="#f8d691"/><stop offset="0.67" stop-color="#feda89"/><stop offset="0.71" stop-color="#f8d591"/><stop offset="0.75" stop-color="#d5d7a1"/><stop offset="0.79" stop-color="#96d7bc"/><stop offset="0.83" stop-color="#6acadd"/><stop offset="0.88" stop-color="#72b3e6"/><stop offset="0.92" stop-color="#6da4ea"/><stop offset="0.96" stop-color="#829edd"/><stop offset="1" stop-color="#8e9bd6"/></linearGradient><linearGradient id="gAustralia5" gradientUnits="userSpaceOnUse" x1="1247.3" y1="0" x2="1386.56" y2="0"><stop offset="0" stop-color="#9898d0"/><stop offset="0.04" stop-color="#9898d0"/><stop offset="0.08" stop-color="#9898d0"/><stop offset="0.12" stop-color="#9798d1"/><stop offset="0.17" stop-color="#9599d2"/><stop offset="0.21" stop-color="#919ad4"/><stop offset="0.25" stop-color="#8a9cd9"/><stop offset="0.29" stop-color="#7ca0e1"/><stop offset="0.33" stop-color="#68a7ec"/><stop offset="0.38" stop-color="#72b7e5"/><stop offset="0.42" stop-color="#6bccd9"/><stop offset="0.46" stop-color="#a1d8b7"/><stop offset="0.5" stop-color="#e0d69d"/><stop offset="0.54" stop-color="#fedf83"/><stop offset="0.58" stop-color="#f9f276"/><stop offset="0.62" stop-color="#f9f275"/><stop offset="0.67" stop-color="#ffdc87"/><stop offset="0.71" stop-color="#cbd8a6"/><stop offset="0.75" stop-color="#77d1cf"/><stop offset="0.79" stop-color="#71bae4"/><stop offset="0.83" stop-color="#69a5ed"/><stop offset="0.88" stop-color="#829edd"/><stop offset="0.92" stop-color="#8f9bd5"/><stop offset="0.96" stop-color="#9599d2"/><stop offset="1" stop-color="#9798d1"/></linearGradient><linearGradient id="gAustralia6" gradientUnits="userSpaceOnUse" x1="1247.3" y1="0" x2="1389.94" y2="0"><stop offset="0" stop-color="#9898d0"/><stop offset="0.04" stop-color="#9898d0"/><stop offset="0.08" stop-color="#9898d0"/><stop offset="0.12" stop-color="#9798d1"/><stop offset="0.17" stop-color="#9599d2"/><stop offset="0.21" stop-color="#919ad4"/><stop offset="0.25" stop-color="#889dda"/><stop offset="0.29" stop-color="#78a1e3"/><stop offset="0.33" stop-color="#6baaeb"/><stop offset="0.38" stop-color="#6ebde4"/><stop offset="0.42" stop-color="#74d0d1"/><stop offset="0.46" stop-color="#bad9ac"/><stop offset="0.5" stop-color="#f3d594"/><stop offset="0.54" stop-color="#faea7b"/><stop offset="0.58" stop-color="#fbfa70"/><stop offset="0.62" stop-color="#f9f077"/><stop offset="0.67" stop-color="#f6d592"/><stop offset="0.71" stop-color="#add9b2"/><stop offset="0.75" stop-color="#6acadd"/><stop offset="0.79" stop-color="#70b0e8"/><stop offset="0.83" stop-color="#76a2e4"/><stop offset="0.88" stop-color="#899cd9"/><stop offset="0.92" stop-color="#939ad3"/><stop offset="0.96" stop-color="#9699d1"/><stop offset="1" stop-color="#9798d0"/></linearGradient><linearGradient id="gAustralia7" gradientUnits="userSpaceOnUse" x1="1247.3" y1="0" x2="1391.48" y2="0"><stop offset="0" stop-color="#9898d0"/><stop offset="0.04" stop-color="#9898d0"/><stop offset="0.08" stop-color="#9898d0"/><stop offset="0.12" stop-color="#9798d1"/><stop offset="0.17" stop-color="#9599d2"/><stop offset="0.21" stop-color="#919ad4"/><stop offset="0.25" stop-color="#889cda"/><stop offset="0.29" stop-color="#79a1e3"/><stop offset="0.33" stop-color="#6baaeb"/><stop offset="0.38" stop-color="#6fbce4"/><stop offset="0.42" stop-color="#73d0d3"/><stop offset="0.46" stop-color="#b4d9af"/><stop offset="0.5" stop-color="#ebd698"/><stop offset="0.54" stop-color="#fde281"/><stop offset="0.58" stop-color="#f9ec79"/><stop offset="0.62" stop-color="#fde182"/><stop offset="0.67" stop-color="#dfd79e"/><stop offset="0.71" stop-color="#8ed6c1"/><stop offset="0.75" stop-color="#6bc3e3"/><stop offset="0.79" stop-color="#6baaeb"/><stop offset="0.83" stop-color="#7da0e0"/><stop offset="0.88" stop-color="#8d9bd7"/><stop offset="0.92" stop-color="#9499d2"/><stop offset="0.96" stop-color="#9798d1"/><stop offset="1" stop-color="#9898d0"/></linearGradient><linearGradient id="gAustralia8" gradientUnits="userSpaceOnUse" x1="1278.08" y1="0" x2="1393.48" y2="0"><stop offset="0" stop-color="#919ad4"/><stop offset="0.04" stop-color="#8b9cd8"/><stop offset="0.08" stop-color="#819fde"/><stop offset="0.12" stop-color="#72a3e7"/><stop offset="0.17" stop-color="#6daceb"/><stop offset="0.21" stop-color="#71b9e5"/><stop offset="0.25" stop-color="#6acadd"/><stop offset="0.29" stop-color="#85d4c6"/><stop offset="0.33" stop-color="#b8d9ad"/><stop offset="0.38" stop-color="#ddd79e"/><stop offset="0.42" stop-color="#f4d594"/><stop offset="0.46" stop-color="#fdd78c"/><stop offset="0.5" stop-color="#f7d592"/><stop offset="0.54" stop-color="#dcd79e"/><stop offset="0.58" stop-color="#abd9b2"/><stop offset="0.62" stop-color="#72d0d3"/><stop offset="0.67" stop-color="#6ebee4"/><stop offset="0.71" stop-color="#6daceb"/><stop offset="0.75" stop-color="#75a2e5"/><stop offset="0.79" stop-color="#869ddb"/><stop offset="0.83" stop-color="#8f9ad5"/><stop offset="0.88" stop-color="#9499d2"/><stop offset="0.92" stop-color="#9698d1"/><stop offset="0.96" stop-color="#9798d0"/><stop offset="1" stop-color="#9898d0"/></linearGradient><linearGradient id="gAustralia9" gradientUnits="userSpaceOnUse" x1="1312.39" y1="0" x2="1395.02" y2="0"><stop offset="0" stop-color="#70cfd4"/><stop offset="0.04" stop-color="#86d4c5"/><stop offset="0.08" stop-color="#a2d8b6"/><stop offset="0.12" stop-color="#bad9ac"/><stop offset="0.17" stop-color="#cad8a6"/><stop offset="0.21" stop-color="#d2d7a3"/><stop offset="0.25" stop-color="#d3d7a2"/><stop offset="0.29" stop-color="#cad8a6"/><stop offset="0.33" stop-color="#b6d9ae"/><stop offset="0.38" stop-color="#95d7bd"/><stop offset="0.42" stop-color="#76d1d0"/><stop offset="0.46" stop-color="#6ac8df"/><stop offset="0.5" stop-color="#70bbe4"/><stop offset="0.54" stop-color="#70afe9"/><stop offset="0.58" stop-color="#6aa5ec"/><stop offset="0.62" stop-color="#79a1e3"/><stop offset="0.67" stop-color="#849edc"/><stop offset="0.71" stop-color="#8c9bd7"/><stop offset="0.75" stop-color="#919ad4"/><stop offset="0.79" stop-color="#9499d2"/><stop offset="0.83" stop-color="#9699d1"/><stop offset="0.88" stop-color="#9798d1"/><stop offset="0.92" stop-color="#9798d0"/><stop offset="0.96" stop-color="#9898d0"/><stop offset="1" stop-color="#9898d0"/></linearGradient><linearGradient id="gAustralia10" gradientUnits="userSpaceOnUse" x1="1325.78" y1="0" x2="1395.02" y2="0"><stop offset="0" stop-color="#8cd6c2"/><stop offset="0.04" stop-color="#94d7be"/><stop offset="0.08" stop-color="#97d7bc"/><stop offset="0.12" stop-color="#94d7be"/><stop offset="0.17" stop-color="#8bd6c3"/><stop offset="0.21" stop-color="#7dd3cb"/><stop offset="0.25" stop-color="#70cfd4"/><stop offset="0.29" stop-color="#6ac9de"/><stop offset="0.33" stop-color="#6bc1e3"/><stop offset="0.38" stop-color="#72b6e5"/><stop offset="0.42" stop-color="#6faee9"/><stop offset="0.46" stop-color="#68a7ec"/><stop offset="0.5" stop-color="#73a2e6"/><stop offset="0.54" stop-color="#7da0e0"/><stop offset="0.58" stop-color="#859ddb"/><stop offset="0.62" stop-color="#8b9cd8"/><stop offset="0.67" stop-color="#909ad5"/><stop offset="0.71" stop-color="#9399d3"/><stop offset="0.75" stop-color="#9599d2"/><stop offset="0.79" stop-color="#9699d1"/><stop offset="0.83" stop-color="#9798d1"/><stop offset="0.88" stop-color="#9798d0"/><stop offset="0.92" stop-color="#9898d0"/><stop offset="0.96" stop-color="#9898d0"/><stop offset="1" stop-color="#9898d0"/></linearGradient><linearGradient id="gAustralia11" gradientUnits="userSpaceOnUse" x1="1327.85" y1="0" x2="1392.71" y2="0"><stop offset="0" stop-color="#6acbdb"/><stop offset="0.04" stop-color="#6bccda"/><stop offset="0.08" stop-color="#6bccda"/><stop offset="0.12" stop-color="#6acbdc"/><stop offset="0.17" stop-color="#6ac8df"/><stop offset="0.21" stop-color="#6ac5e2"/><stop offset="0.25" stop-color="#6dbfe4"/><stop offset="0.29" stop-color="#72b7e5"/><stop offset="0.33" stop-color="#71b1e8"/><stop offset="0.38" stop-color="#6dabeb"/><stop offset="0.42" stop-color="#69a5ec"/><stop offset="0.46" stop-color="#73a2e6"/><stop offset="0.5" stop-color="#7ca0e1"/><stop offset="0.54" stop-color="#849edc"/><stop offset="0.58" stop-color="#899cd9"/><stop offset="0.62" stop-color="#8e9bd6"/><stop offset="0.67" stop-color="#919ad4"/><stop offset="0.71" stop-color="#9399d3"/><stop offset="0.75" stop-color="#9599d2"/><stop offset="0.79" stop-color="#9699d1"/><stop offset="0.83" stop-color="#9798d1"/><stop offset="0.88" stop-color="#9798d0"/><stop offset="0.92" stop-color="#9898d0"/><stop offset="0.96" stop-color="#9898d0"/><stop offset="1" stop-color="#9898d0"/></linearGradient><linearGradient id="gAustralia12" gradientUnits="userSpaceOnUse" x1="1329.93" y1="0" x2="1390.4" y2="0"><stop offset="0" stop-color="#71b9e4"/><stop offset="0.04" stop-color="#71bae4"/><stop offset="0.08" stop-color="#71b9e5"/><stop offset="0.12" stop-color="#72b7e5"/><stop offset="0.17" stop-color="#72b4e6"/><stop offset="0.21" stop-color="#71b1e8"/><stop offset="0.25" stop-color="#6fade9"/><stop offset="0.29" stop-color="#6baaeb"/><stop offset="0.33" stop-color="#68a5ed"/><stop offset="0.38" stop-color="#71a3e8"/><stop offset="0.42" stop-color="#78a1e3"/><stop offset="0.46" stop-color="#7f9fdf"/><stop offset="0.5" stop-color="#859ddc"/><stop offset="0.54" stop-color="#899cd9"/><stop offset="0.58" stop-color="#8d9bd6"/><stop offset="0.62" stop-color="#909ad5"/><stop offset="0.67" stop-color="#939ad3"/><stop offset="0.71" stop-color="#9499d2"/><stop offset="0.75" stop-color="#9699d1"/><stop offset="0.79" stop-color="#9698d1"/><stop offset="0.83" stop-color="#9798d1"/><stop offset="0.88" stop-color="#9798d0"/><stop offset="0.92" stop-color="#9898d0"/><stop offset="0.96" stop-color="#9898d0"/><stop offset="1" stop-color="#9898d0"/></linearGradient><linearGradient id="gAustralia13" gradientUnits="userSpaceOnUse" x1="1332.47" y1="0" x2="1392.71" y2="0"><stop offset="0" stop-color="#6caaeb"/><stop offset="0.04" stop-color="#6baaeb"/><stop offset="0.08" stop-color="#6aa9ec"/><stop offset="0.12" stop-color="#68a7ec"/><stop offset="0.17" stop-color="#69a5ec"/><stop offset="0.21" stop-color="#6ea4e9"/><stop offset="0.25" stop-color="#74a2e6"/><stop offset="0.29" stop-color="#79a1e3"/><stop offset="0.33" stop-color="#7e9fdf"/><stop offset="0.38" stop-color="#839edd"/><stop offset="0.42" stop-color="#889dda"/><stop offset="0.46" stop-color="#8b9cd8"/><stop offset="0.5" stop-color="#8e9bd6"/><stop offset="0.54" stop-color="#919ad4"/><stop offset="0.58" stop-color="#9399d3"/><stop offset="0.62" stop-color="#9499d2"/><stop offset="0.67" stop-color="#9699d1"/><stop offset="0.71" stop-color="#9698d1"/><stop offset="0.75" stop-color="#9798d1"/><stop offset="0.79" stop-color="#9798d0"/><stop offset="0.83" stop-color="#9898d0"/><stop offset="0.88" stop-color="#9898d0"/><stop offset="0.92" stop-color="#9898d0"/><stop offset="0.96" stop-color="#9898d0"/><stop offset="1" stop-color="#9898d0"/></linearGradient><linearGradient id="gAustralia14" gradientUnits="userSpaceOnUse" x1="1335.01" y1="0" x2="1395.02" y2="0"><stop offset="0" stop-color="#75a2e5"/><stop offset="0.04" stop-color="#77a1e4"/><stop offset="0.08" stop-color="#79a1e3"/><stop offset="0.12" stop-color="#7ba0e1"/><stop offset="0.17" stop-color="#7e9fdf"/><stop offset="0.21" stop-color="#829edd"/><stop offset="0.25" stop-color="#859ddb"/><stop offset="0.29" stop-color="#889cd9"/><stop offset="0.33" stop-color="#8b9cd8"/><stop offset="0.38" stop-color="#8e9bd6"/><stop offset="0.42" stop-color="#909ad5"/><stop offset="0.46" stop-color="#929ad4"/><stop offset="0.5" stop-color="#9499d3"/><stop offset="0.54" stop-color="#9599d2"/><stop offset="0.58" stop-color="#9699d1"/><stop offset="0.62" stop-color="#9698d1"/><stop offset="0.67" stop-color="#9798d1"/><stop offset="0.71" stop-color="#9798d0"/><stop offset="0.75" stop-color="#9898d0"/><stop offset="0.79" stop-color="#9898d0"/><stop offset="0.83" stop-color="#9898d0"/><stop offset="0.88" stop-color="#9898d0"/><stop offset="0.92" stop-color="#9898d0"/><stop offset="0.96" stop-color="#9898d0"/><stop offset="1" stop-color="#9898d0"/></linearGradient><linearGradient id="gAustralia15" gradientUnits="userSpaceOnUse" x1="1339.47" y1="0" x2="1395.02" y2="0"><stop offset="0" stop-color="#869ddb"/><stop offset="0.04" stop-color="#879dda"/><stop offset="0.08" stop-color="#899cd9"/><stop offset="0.12" stop-color="#8a9cd8"/><stop offset="0.17" stop-color="#8c9bd7"/><stop offset="0.21" stop-color="#8e9bd6"/><stop offset="0.25" stop-color="#909ad5"/><stop offset="0.29" stop-color="#919ad4"/><stop offset="0.33" stop-color="#929ad3"/><stop offset="0.38" stop-color="#9499d3"/><stop offset="0.42" stop-color="#9599d2"/><stop offset="0.46" stop-color="#9599d2"/><stop offset="0.5" stop-color="#9699d1"/><stop offset="0.54" stop-color="#9798d1"/><stop offset="0.58" stop-color="#9798d1"/><stop offset="0.62" stop-color="#9798d0"/><stop offset="0.67" stop-color="#9898d0"/><stop offset="0.71" stop-color="#9898d0"/><stop offset="0.75" stop-color="#9898d0"/><stop offset="0.79" stop-color="#9898d0"/><stop offset="0.83" stop-color="#9898d0"/><stop offset="0.88" stop-color="#9898d0"/><stop offset="0.92" stop-color="#9898d0"/><stop offset="0.96" stop-color="#9898d0"/><stop offset="1" stop-color="#9898d0"/></linearGradient></defs><g id="scatA"><path d="M124.3 560.1h3.3v3.2h-3.3zM234.9 560.1h3.3v3.2h-3.3zM276.4 560.1h3.3v3.2h-3.3zM327.2 560.1h3.3v3.2h-3.3zM352.3 560.1h3.3v3.2h-3.3zM373.6 560.1h3.3v3.2h-3.3z" fill="url(#ga3)"/><path d="M102.7 552h344v3.2h-344zM448.2 552h23.1v3.2h-23.1zM474.6 552h3.3v3.2h-3.3zM481.2 552h3.3v3.2h-3.3zM486.7 552h3.3v3.2h-3.3zM519.9 552h3.3v3.2h-3.3z" fill="url(#ga4)"/><path d="M102.7 543.9h402.7v3.2h-402.7zM506.9 543.9h16.5v3.2h-16.5zM526.7 543.9h6.6v3.2h-6.6zM536.6 543.9h3.3v3.2h-3.3zM543.2 543.9h13.2v3.2h-13.2zM559.7 543.9h3.3v3.2h-3.3zM576.2 543.9h6.6v3.2h-6.6zM600.7 543.9h3.3v3.2h-3.3zM621.6 543.9h3.3v3.2h-3.3z" fill="url(#ga5)"/><path d="M102.7 535.8h428.1v3.2h-428.1zM532.3 535.8h19.8v3.2h-19.8zM558.7 535.8h3.3v3.2h-3.3zM565.3 535.8h3.3v3.2h-3.3zM575.2 535.8h3.3v3.2h-3.3zM581.8 535.8h3.3v3.2h-3.3zM586.7 535.8h3.3v3.2h-3.3zM630.6 535.8h3.3v3.2h-3.3z" fill="url(#ga6)"/><path d="M102.7 527.7h428.1v3.2h-428.1zM532.3 527.7h6.6v3.2h-6.6zM542.2 527.7h16.5v3.2h-16.5zM571.9 527.7h3.3v3.2h-3.3zM597.7 527.7h3.3v3.2h-3.3zM658.6 527.7h3.3v3.2h-3.3zM696.7 527.7h3.3v3.2h-3.3z" fill="url(#ga7)"/><path d="M102.7 519.6h3.3v3.2h-3.3zM133.3 519.6h6.6v3.2h-6.6zM143.2 519.6h3.3v3.2h-3.3zM148 519.6h427.8v3.2h-427.8zM577.3 519.6h16.5v3.2h-16.5zM597.1 519.6h6.6v3.2h-6.6z" fill="url(#ga8)"/><path d="M102.7 511.5h3.3v3.2h-3.3zM107.3 511.5h6.6v3.2h-6.6zM117.2 511.5h3.3v3.2h-3.3zM140.3 511.5h3.3v3.2h-3.3zM150.2 511.5h3.3v3.2h-3.3zM160.1 511.5h9.9v3.2h-9.9zM171.5 511.5h383.1v3.2h-383.1zM556.1 511.5h13.2v3.2h-13.2zM579.2 511.5h5.8v3.2h-5.8z" fill="url(#ga9)"/><path d="M104 503.4h3.3v3.2h-3.3zM120.5 503.4h6.6v3.2h-6.6zM130.4 503.4h19.8v3.2h-19.8zM156.8 503.4h13.2v3.2h-13.2zM171.5 503.4h397.5v3.2h-397.5zM570.5 503.4h26.4v3.2h-26.4zM606.7 503.4h3.3v3.2h-3.3z" fill="url(#ga10)"/><path d="M110 495.3h3.3v3.2h-3.3zM133.7 495.3h16.5v3.2h-16.5zM160.1 495.3h3.3v3.2h-3.3zM166.7 495.3h3.3v3.2h-3.3zM171.5 495.3h377.7v3.2h-377.7zM550.7 495.3h3.3v3.2h-3.3zM560.6 495.3h13.2v3.2h-13.2zM577.1 495.3h3.3v3.2h-3.3zM583.7 495.3h6.6v3.2h-6.6zM610.1 495.3h3.3v3.2h-3.3zM620 495.3h6.6v3.2h-6.6zM632.3 495.3h3.3v3.2h-3.3z" fill="url(#ga11)"/><path d="M110 487.2h3.3v3.2h-3.3zM150.2 487.2h16.5v3.2h-16.5zM171.5 487.2h371.5v3.2h-371.5zM544.5 487.2h3.3v3.2h-3.3zM551.1 487.2h13.2v3.2h-13.2zM567.6 487.2h3.3v3.2h-3.3zM577.5 487.2h6.6v3.2h-6.6zM590.7 487.2h9.9v3.2h-9.9zM613.1 487.2h3.3v3.2h-3.3z" fill="url(#ga12)"/><path d="M103.2 479.1h3.3v3.2h-3.3zM115.7 479.1h3.3v3.2h-3.3zM171.5 479.1h407.7v3.2h-407.7zM580.7 479.1h9.9v3.2h-9.9zM593.9 479.1h3.3v3.2h-3.3zM608.1 479.1h3.3v3.2h-3.3z" fill="url(#ga13)"/><path d="M123.2 471h3.3v3.2h-3.3zM171.5 471h398.7v3.2h-398.7zM575 471h23.1v3.2h-23.1zM601.4 471h3.3v3.2h-3.3zM613.1 471h3.3v3.2h-3.3z" fill="url(#ga14)"/><path d="M171.5 462.9h398.7v3.2h-398.7zM571.7 462.9h26.4v3.2h-26.4zM601.4 462.9h3.3v3.2h-3.3zM646.7 462.9h3.3v3.2h-3.3z" fill="url(#ga15)"/><path d="M150.4 454.8h3.3v3.2h-3.3zM171.5 454.8h3.3v3.2h-3.3zM176 454.8h3.3v3.2h-3.3zM185.9 454.8h3.3v3.2h-3.3zM190.7 454.8h389.3v3.2h-389.3zM581.5 454.8h3.3v3.2h-3.3zM588.1 454.8h6.6v3.2h-6.6zM601.3 454.8h6.6v3.2h-6.6zM611.2 454.8h3.3v3.2h-3.3zM617.8 454.8h4.6v3.2h-4.6z" fill="url(#ga16)"/><path d="M138.9 446.7h3.3v3.2h-3.3zM171.5 446.7h3.3v3.2h-3.3zM175.4 446.7h6.6v3.2h-6.6zM185.3 446.7h13.2v3.2h-13.2zM200 446.7h373.6v3.2h-373.6zM575.1 446.7h6.6v3.2h-6.6zM588.3 446.7h3.3v3.2h-3.3zM594.9 446.7h6.6v3.2h-6.6zM608.1 446.7h3.3v3.2h-3.3zM621.3 446.7h3.3v3.2h-3.3zM631.2 446.7h3.4v3.2h-3.4z" fill="url(#ga17)"/><path d="M171.5 438.6h3.3v3.2h-3.3zM176.2 438.6h6.6v3.2h-6.6zM186.1 438.6h9.9v3.2h-9.9zM199.3 438.6h3.3v3.2h-3.3zM205.9 438.6h3.3v3.2h-3.3zM210.7 438.6h367.3v3.2h-367.3zM579.5 438.6h3.3v3.2h-3.3zM586.1 438.6h9.9v3.2h-9.9zM599.3 438.6h9.9v3.2h-9.9zM615.8 438.6h6.6v3.2h-6.6zM632.3 438.6h6.6v3.2h-6.6zM645.5 438.6h3.3v3.2h-3.3zM658.1 438.6h3.3v3.2h-3.3z" fill="url(#ga18)"/><path d="M113.1 430.5h3.3v3.2h-3.3zM171.5 430.5h3.3v3.2h-3.3zM184.2 430.5h3.3v3.2h-3.3zM194.1 430.5h6.6v3.2h-6.6zM204 430.5h6.6v3.2h-6.6zM213.9 430.5h3.3v3.2h-3.3zM218.7 430.5h363.1v3.2h-363.1zM583.3 430.5h23.1v3.2h-23.1zM609.7 430.5h3.3v3.2h-3.3zM616.3 430.5h16.5v3.2h-16.5zM646 430.5h3.3v3.2h-3.3z" fill="url(#ga19)"/><path d="M174 422.4h3.3v3.2h-3.3zM185.8 422.4h52.8v3.2h-52.8zM241.9 422.4h6.6v3.2h-6.6zM255.1 422.4h6.6v3.2h-6.6zM263.2 422.4h304.9v3.2h-304.9zM569.6 422.4h16.5v3.2h-16.5zM589.4 422.4h9.9v3.2h-9.9zM625.1 422.4h3.3v3.2h-3.3z" fill="url(#ga20)"/><path d="M172 414.3h13.3v3.2h-13.3zM188.6 414.3h3.3v3.2h-3.3zM195.2 414.3h6.6v3.2h-6.6zM208.4 414.3h6.6v3.2h-6.6zM218.3 414.3h9.9v3.2h-9.9zM231.5 414.3h23.1v3.2h-23.1zM257.9 414.3h3.3v3.2h-3.3zM262.7 414.3h317.6v3.2h-317.6zM581.8 414.3h6.6v3.2h-6.6zM591.7 414.3h6.6v3.2h-6.6zM601.6 414.3h3.3v3.2h-3.3zM611.5 414.3h3.3v3.2h-3.3zM631.3 414.3h3.3v3.2h-3.3zM648.3 414.3h3.3v3.2h-3.3z" fill="#2f2f8e"/><path d="M174.7 406.2h3.3v3.2h-3.3zM199.4 406.2h3.3v3.2h-3.3zM209.3 406.2h3.3v3.2h-3.3zM215.9 406.2h3.3v3.2h-3.3zM222.5 406.2h6.6v3.2h-6.6zM242.3 406.2h3.3v3.2h-3.3zM252.2 406.2h3.3v3.2h-3.3zM258.8 406.2h16.5v3.2h-16.5zM285.2 406.2h6.6v3.2h-6.6zM293.3 406.2h286v3.2h-286zM580.8 406.2h6.6v3.2h-6.6zM590.7 406.2h9.9v3.2h-9.9zM613.8 406.2h9.9v3.2h-9.9zM633.6 406.2h6.4v3.2h-6.4z" fill="#2f2f8e"/><path d="M173.3 398.1h3.3v3.2h-3.3zM190.2 398.1h3.3v3.2h-3.3zM196.8 398.1h3.3v3.2h-3.3zM216.6 398.1h3.3v3.2h-3.3zM246.3 398.1h6.6v3.2h-6.6zM256.2 398.1h6.6v3.2h-6.6zM266.1 398.1h3.3v3.2h-3.3zM272.7 398.1h19.8v3.2h-19.8zM297.3 398.1h272.7v3.2h-272.7zM571.5 398.1h26.4v3.2h-26.4zM601.2 398.1h3.3v3.2h-3.3zM611.1 398.1h3.3v3.2h-3.3zM633.7 398.1h3.3v3.2h-3.3z" fill="#2f2f8e"/><path d="M174.7 390h3.3v3.2h-3.3zM196.5 390h6.6v3.2h-6.6zM222.9 390h3.3v3.2h-3.3zM239.4 390h6.6v3.2h-6.6zM259.2 390h13.2v3.2h-13.2zM282.3 390h3.3v3.2h-3.3zM288.9 390h23.1v3.2h-23.1zM318.6 390h6.6v3.2h-6.6zM326.7 390h255.8v3.2h-255.8zM584 390h26.4v3.2h-26.4zM617 390h3.3v3.2h-3.3zM630.2 390h9.9v3.2h-9.9zM643.4 390h3.3v3.2h-3.3zM648.7 390h3.3v3.2h-3.3z" fill="#2f2f8e"/><path d="M178.7 381.9h3.3v3.2h-3.3zM208.8 381.9h3.3v3.2h-3.3zM222 381.9h3.3v3.2h-3.3zM231.9 381.9h9.9v3.2h-9.9zM248.4 381.9h6.6v3.2h-6.6zM261.6 381.9h6.6v3.2h-6.6zM274.8 381.9h9.9v3.2h-9.9zM294.6 381.9h13.2v3.2h-13.2zM309.3 381.9h256.4v3.2h-256.4zM567.2 381.9h9.9v3.2h-9.9zM580.4 381.9h3.3v3.2h-3.3zM590.3 381.9h9.9v3.2h-9.9zM606.8 381.9h6.6v3.2h-6.6zM624.7 381.9h3.3v3.2h-3.3zM653 381.9h3.3v3.2h-3.3zM686.6 381.9h3.3v3.2h-3.3z" fill="#2f2f8e"/><path d="M178.7 373.8h3.3v3.2h-3.3zM184.2 373.8h3.3v3.2h-3.3zM200.7 373.8h3.3v3.2h-3.3zM237 373.8h3.3v3.2h-3.3zM243.6 373.8h9.9v3.2h-9.9zM263.4 373.8h3.3v3.2h-3.3zM270 373.8h6.6v3.2h-6.6zM279.9 373.8h3.3v3.2h-3.3zM286.5 373.8h6.6v3.2h-6.6zM299.7 373.8h6.6v3.2h-6.6zM309.6 373.8h3.3v3.2h-3.3zM316.2 373.8h23.1v3.2h-23.1zM342.6 373.8h3.3v3.2h-3.3zM350.7 373.8h228.6v3.2h-228.6zM580.8 373.8h13.2v3.2h-13.2zM597.3 373.8h9.9v3.2h-9.9zM610.5 373.8h9.9v3.2h-9.9zM649.7 373.8h3.3v3.2h-3.3zM694.4 373.8h3.3v3.2h-3.3z" fill="#2f2f8e"/><path d="M172 365.7h3.3v3.2h-3.3zM193.8 365.7h3.3v3.2h-3.3zM203.7 365.7h3.3v3.2h-3.3zM223.5 365.7h3.3v3.2h-3.3zM246.6 365.7h3.3v3.2h-3.3zM259.8 365.7h9.9v3.2h-9.9zM279.6 365.7h3.3v3.2h-3.3zM286.2 365.7h9.9v3.2h-9.9zM299.4 365.7h6.6v3.2h-6.6zM309.3 365.7h13.2v3.2h-13.2zM324 365.7h283.3v3.2h-283.3zM608.8 365.7h3.3v3.2h-3.3zM618.7 365.7h9.9v3.2h-9.9zM635.2 365.7h3.3v3.2h-3.3zM651.3 365.7h3.3v3.2h-3.3z" fill="#2f2f8e"/><path d="M214.7 357.6h3.3v3.2h-3.3zM248.9 357.6h6.6v3.2h-6.6zM265.4 357.6h6.6v3.2h-6.6zM278.6 357.6h9.9v3.2h-9.9zM291.8 357.6h9.9v3.2h-9.9zM308.3 357.6h16.5v3.2h-16.5zM331.4 357.6h3.3v3.2h-3.3zM341.3 357.6h6.6v3.2h-6.6zM351.2 357.6h3.3v3.2h-3.3zM356 357.6h249v3.2h-249zM606.5 357.6h9.9v3.2h-9.9zM619.7 357.6h6.6v3.2h-6.6zM636.2 357.6h13.2v3.2h-13.2zM656.7 357.6h3.3v3.2h-3.3z" fill="#2f2f8e"/><path d="M171.5 349.5h3.3v3.2h-3.3zM194.6 349.5h3.3v3.2h-3.3zM201.2 349.5h3.3v3.2h-3.3zM211.1 349.5h3.3v3.2h-3.3zM221 349.5h6.6v3.2h-6.6zM237.5 349.5h6.6v3.2h-6.6zM254 349.5h3.3v3.2h-3.3zM260.6 349.5h3.3v3.2h-3.3zM273.8 349.5h3.3v3.2h-3.3zM280.4 349.5h6.6v3.2h-6.6zM293.6 349.5h6.6v3.2h-6.6zM306.8 349.5h6.6v3.2h-6.6zM316.7 349.5h16.5v3.2h-16.5zM334.7 349.5h256.8v3.2h-256.8zM596.3 349.5h16.5v3.2h-16.5zM616.1 349.5h3.3v3.2h-3.3zM622.7 349.5h3.3v3.2h-3.3zM632.6 349.5h6.6v3.2h-6.6zM649.1 349.5h3.3v3.2h-3.3zM653.7 349.5h3.3v3.2h-3.3zM681 349.5h3.3v3.2h-3.3zM704.3 349.5h3.3v3.2h-3.3z" fill="#2f2f8e"/><path d="M178.7 341.4h3.3v3.2h-3.3zM197.5 341.4h3.3v3.2h-3.3zM223.9 341.4h3.3v3.2h-3.3zM230.5 341.4h3.3v3.2h-3.3zM243.7 341.4h13.2v3.2h-13.2zM260.2 341.4h6.6v3.2h-6.6zM273.4 341.4h3.3v3.2h-3.3zM280 341.4h3.3v3.2h-3.3zM286.6 341.4h3.3v3.2h-3.3zM293.2 341.4h6.6v3.2h-6.6zM306.4 341.4h3.3v3.2h-3.3zM316.3 341.4h3.3v3.2h-3.3zM322.9 341.4h3.3v3.2h-3.3zM339.4 341.4h3.3v3.2h-3.3zM346 341.4h13.2v3.2h-13.2zM364 341.4h209.7v3.2h-209.7zM575.2 341.4h23.1v3.2h-23.1zM604.9 341.4h6.6v3.2h-6.6zM614.8 341.4h6.6v3.2h-6.6zM624.7 341.4h3.3v3.2h-3.3zM634.6 341.4h3.3v3.2h-3.3zM641.2 341.4h3.3v3.2h-3.3zM645.1 341.4h3.3v3.2h-3.3z" fill="#2f2f8e"/><path d="M172 333.3h3.3v3.2h-3.3zM182.3 333.3h3.3v3.2h-3.3zM192.2 333.3h3.3v3.2h-3.3zM208.7 333.3h6.6v3.2h-6.6zM221.9 333.3h3.3v3.2h-3.3zM228.5 333.3h6.6v3.2h-6.6zM241.7 333.3h3.3v3.2h-3.3zM248.3 333.3h3.3v3.2h-3.3zM264.8 333.3h3.3v3.2h-3.3zM274.7 333.3h9.9v3.2h-9.9zM294.5 333.3h9.9v3.2h-9.9zM307.7 333.3h6.6v3.2h-6.6zM317.6 333.3h3.3v3.2h-3.3zM327.5 333.3h19.8v3.2h-19.8zM350.6 333.3h6.6v3.2h-6.6zM360.5 333.3h3.3v3.2h-3.3zM365.3 333.3h210.9v3.2h-210.9zM581 333.3h16.5v3.2h-16.5zM600.8 333.3h3.3v3.2h-3.3zM607.4 333.3h3.3v3.2h-3.3zM627.2 333.3h6.6v3.2h-6.6zM640.7 333.3h3.3v3.2h-3.3zM673.9 333.3h3.3v3.2h-3.3zM692.2 333.3h3.3v3.2h-3.3z" fill="#2f2f8e"/><path d="M204 325.2h3.3v3.2h-3.3zM226.6 325.2h3.3v3.2h-3.3zM246.4 325.2h3.3v3.2h-3.3zM262.9 325.2h9.9v3.2h-9.9zM279.4 325.2h9.9v3.2h-9.9zM292.6 325.2h3.3v3.2h-3.3zM299.2 325.2h6.6v3.2h-6.6zM312.4 325.2h3.3v3.2h-3.3zM325.6 325.2h3.3v3.2h-3.3zM338.8 325.2h3.3v3.2h-3.3zM345.4 325.2h6.6v3.2h-6.6zM355.3 325.2h6.6v3.2h-6.6zM366.7 325.2h199.3v3.2h-199.3zM567.5 325.2h36.3v3.2h-36.3zM617 325.2h3.3v3.2h-3.3zM633.5 325.2h3.3v3.2h-3.3zM650 325.2h3.3v3.2h-3.3zM660.7 325.2h3.3v3.2h-3.3z" fill="#2f2f8e"/><path d="M222.7 317.1h5.8v3.2h-5.8zM261.5 317.1h3.3v3.2h-3.3zM268.1 317.1h3.3v3.2h-3.3zM278 317.1h6.6v3.2h-6.6zM287.9 317.1h3.3v3.2h-3.3zM294.5 317.1h3.3v3.2h-3.3zM301.1 317.1h3.3v3.2h-3.3zM307.7 317.1h9.9v3.2h-9.9zM324.2 317.1h9.9v3.2h-9.9zM337.4 317.1h3.3v3.2h-3.3zM344 317.1h13.2v3.2h-13.2zM358.7 317.1h242.9v3.2h-242.9zM603.1 317.1h13.2v3.2h-13.2zM619.6 317.1h13.2v3.2h-13.2zM636.1 317.1h19.8v3.2h-19.8zM679 317.1h3.3v3.2h-3.3zM691.7 317.1h3.3v3.2h-3.3z" fill="#2f2f8e"/><path d="M274.7 309h3.3v3.2h-3.3zM290.7 309h3.3v3.2h-3.3zM300.6 309h3.3v3.2h-3.3zM307.2 309h3.3v3.2h-3.3zM327 309h3.3v3.2h-3.3zM333.6 309h3.3v3.2h-3.3zM343.5 309h26.4v3.2h-26.4zM373.2 309h6.6v3.2h-6.6zM381.3 309h206.3v3.2h-206.3zM589.1 309h6.6v3.2h-6.6zM599 309h6.6v3.2h-6.6zM608.9 309h9.9v3.2h-9.9zM628.7 309h9.9v3.2h-9.9zM648.5 309h3.3v3.2h-3.3zM661.7 309h3.3v3.2h-3.3zM677.7 309h3.3v3.2h-3.3z" fill="#2f2f8e"/><path d="M269.3 300.9h3.3v3.2h-3.3zM287.7 300.9h3.3v3.2h-3.3zM300.9 300.9h3.3v3.2h-3.3zM307.5 300.9h3.3v3.2h-3.3zM327.3 300.9h3.3v3.2h-3.3zM337.2 300.9h3.3v3.2h-3.3zM343.8 300.9h13.2v3.2h-13.2zM363.6 300.9h9.9v3.2h-9.9zM375 300.9h232.2v3.2h-232.2zM608.7 300.9h16.5v3.2h-16.5zM631.8 300.9h3.3v3.2h-3.3zM641.7 300.9h6.6v3.2h-6.6zM676.7 300.9h3.3v3.2h-3.3zM717.4 300.9h3.3v3.2h-3.3z" fill="#2f2f8e"/><path d="M234.4 292.8h3.3v3.2h-3.3zM278.7 292.8h3.3v3.2h-3.3zM315.7 292.8h3.3v3.2h-3.3zM335.5 292.8h9.9v3.2h-9.9zM348.7 292.8h6.6v3.2h-6.6zM361.9 292.8h9.9v3.2h-9.9zM373.3 292.8h250.7v3.2h-250.7zM625.5 292.8h9.9v3.2h-9.9zM638.7 292.8h3.3v3.2h-3.3zM645.3 292.8h3.3v3.2h-3.3zM651.9 292.8h3.3v3.2h-3.3zM658.5 292.8h9.9v3.2h-9.9zM671.7 292.8h3.3v3.2h-3.3zM683.2 292.8h3.3v3.2h-3.3z" fill="#2f2f8e"/><path d="M306.7 284.7h3.3v3.2h-3.3zM332.6 284.7h3.3v3.2h-3.3zM342.5 284.7h3.3v3.2h-3.3zM352.4 284.7h13.2v3.2h-13.2zM372.2 284.7h6.6v3.2h-6.6zM385.4 284.7h3.3v3.2h-3.3zM398.6 284.7h3.3v3.2h-3.3zM406.7 284.7h211.7v3.2h-211.7zM619.9 284.7h23.1v3.2h-23.1zM646.3 284.7h9.9v3.2h-9.9zM674.7 284.7h3.3v3.2h-3.3z" fill="#2f2f8e"/><path d="M235.7 276.6h3.3v3.2h-3.3zM289.3 276.6h3.3v3.2h-3.3zM331.9 276.6h3.3v3.2h-3.3zM348.4 276.6h3.3v3.2h-3.3zM361.6 276.6h3.3v3.2h-3.3zM371.5 276.6h3.3v3.2h-3.3zM378.1 276.6h6.6v3.2h-6.6zM388 276.6h13.2v3.2h-13.2zM402.7 276.6h182.1v3.2h-182.1zM586.3 276.6h16.5v3.2h-16.5zM606.1 276.6h13.2v3.2h-13.2zM622.6 276.6h3.3v3.2h-3.3zM629.2 276.6h3.3v3.2h-3.3zM645.7 276.6h4.3v3.2h-4.3z" fill="#2f2f8e"/><path d="M329.3 268.5h3.3v3.2h-3.3zM378 268.5h3.3v3.2h-3.3zM384.6 268.5h9.9v3.2h-9.9zM396 268.5h204.7v3.2h-204.7zM602.2 268.5h6.6v3.2h-6.6zM612.1 268.5h13.2v3.2h-13.2zM635.2 268.5h9.9v3.2h-9.9zM655 268.5h3.3v3.2h-3.3zM668.2 268.5h6.2v3.2h-6.2z" fill="#2f2f8e"/><path d="M333.3 260.4h3.3v3.2h-3.3zM337.9 260.4h6.6v3.2h-6.6zM354.4 260.4h3.3v3.2h-3.3zM374.2 260.4h9.9v3.2h-9.9zM387.4 260.4h3.3v3.2h-3.3zM394 260.4h13.2v3.2h-13.2zM412 260.4h218.5v3.2h-218.5zM632 260.4h9.9v3.2h-9.9zM648.5 260.4h3.3v3.2h-3.3zM661.7 260.4h3.3v3.2h-3.3zM681.4 260.4h3.3v3.2h-3.3z" fill="#2f2f8e"/><path d="M312 252.3h3.3v3.2h-3.3zM330.2 252.3h3.3v3.2h-3.3zM369.8 252.3h3.3v3.2h-3.3zM383 252.3h9.9v3.2h-9.9zM396.2 252.3h3.3v3.2h-3.3zM402.8 252.3h6.6v3.2h-6.6zM412.7 252.3h13.2v3.2h-13.2zM430.7 252.3h173.7v3.2h-173.7zM605.9 252.3h3.3v3.2h-3.3zM612.5 252.3h3.3v3.2h-3.3zM619.1 252.3h6.6v3.2h-6.6zM629 252.3h3.3v3.2h-3.3zM635.6 252.3h6.6v3.2h-6.6zM655.4 252.3h3.3v3.2h-3.3zM674.7 252.3h3.3v3.2h-3.3z" fill="#2f2f8e"/><path d="M213.1 244.2h3.3v3.2h-3.3zM376 244.2h3.3v3.2h-3.3zM389 244.2h3.3v3.2h-3.3zM402.2 244.2h6.6v3.2h-6.6zM418.7 244.2h3.3v3.2h-3.3zM428.6 244.2h3.3v3.2h-3.3zM435.2 244.2h3.3v3.2h-3.3zM440 244.2h163.8v3.2h-163.8zM608.6 244.2h13.2v3.2h-13.2zM625.1 244.2h9.9v3.2h-9.9zM641.6 244.2h13.2v3.2h-13.2zM664.7 244.2h3.3v3.2h-3.3zM703.7 244.2h3.3v3.2h-3.3z" fill="#2f2f8e"/><path d="M330.7 236.1h3.3v3.2h-3.3zM336.7 236.1h6.6v3.2h-6.6zM349.9 236.1h3.3v3.2h-3.3zM376.3 236.1h3.3v3.2h-3.3zM392.8 236.1h19.8v3.2h-19.8zM415.9 236.1h6.6v3.2h-6.6zM424 236.1h181v3.2h-181zM606.5 236.1h3.3v3.2h-3.3zM616.4 236.1h19.8v3.2h-19.8zM639.5 236.1h3.3v3.2h-3.3zM652.7 236.1h6.6v3.2h-6.6zM665.7 236.1h3.3v3.2h-3.3z" fill="#2f2f8e"/><path d="M338.7 228h3.3v3.2h-3.3zM350.1 228h3.3v3.2h-3.3zM373.2 228h6.6v3.2h-6.6zM393 228h3.3v3.2h-3.3zM406.2 228h9.9v3.2h-9.9zM417.6 228h197.1v3.2h-197.1zM616.2 228h6.6v3.2h-6.6zM629.4 228h13.2v3.2h-13.2zM645.9 228h3.3v3.2h-3.3zM669 228h3.3v3.2h-3.3zM680.4 228h3.3v3.2h-3.3z" fill="#2f2f8e"/><path d="M386.7 219.9h3.3v3.2h-3.3zM396.5 219.9h3.3v3.2h-3.3zM403.1 219.9h3.3v3.2h-3.3zM416.3 219.9h6.6v3.2h-6.6zM432.8 219.9h3.3v3.2h-3.3zM437.6 219.9h182.4v3.2h-182.4zM621.5 219.9h13.2v3.2h-13.2zM638 219.9h3.3v3.2h-3.3zM644.6 219.9h6.6v3.2h-6.6zM654.5 219.9h3.3v3.2h-3.3zM671.7 219.9h3.3v3.2h-3.3zM695.4 219.9h3.3v3.2h-3.3zM723.4 219.9h3.3v3.2h-3.3z" fill="#2f2f8e"/><path d="M305.4 211.8h3.3v3.2h-3.3zM317.4 211.8h3.3v3.2h-3.3zM321.2 211.8h3.3v3.2h-3.3zM360.5 211.8h3.3v3.2h-3.3zM379.9 211.8h6.6v3.2h-6.6zM393.1 211.8h3.3v3.2h-3.3zM399.7 211.8h3.3v3.2h-3.3zM406.3 211.8h3.3v3.2h-3.3zM412.9 211.8h6.6v3.2h-6.6zM429.4 211.8h9.9v3.2h-9.9zM440.8 211.8h183.2v3.2h-183.2zM625.5 211.8h3.3v3.2h-3.3zM632.1 211.8h13.2v3.2h-13.2zM648.6 211.8h13.2v3.2h-13.2zM665.1 211.8h3.3v3.2h-3.3zM671.7 211.8h3.3v3.2h-3.3zM689.7 211.8h3.3v3.2h-3.3z" fill="#2f2f8e"/><path d="M382 203.7h3.3v3.2h-3.3zM394.5 203.7h3.3v3.2h-3.3zM404.4 203.7h3.3v3.2h-3.3zM414.3 203.7h6.6v3.2h-6.6zM424.2 203.7h3.3v3.2h-3.3zM430.8 203.7h6.6v3.2h-6.6zM438.9 203.7h173.1v3.2h-173.1zM613.5 203.7h29.7v3.2h-29.7zM646.5 203.7h9.9v3.2h-9.9zM669.6 203.7h6.6v3.2h-6.6zM686.1 203.7h3.3v3.2h-3.3zM699.7 203.7h3.3v3.2h-3.3zM742.4 203.7h3.3v3.2h-3.3z" fill="#2f2f8e"/><path d="M382 195.6h3.3v3.2h-3.3zM392.1 195.6h6.6v3.2h-6.6zM405.3 195.6h3.3v3.2h-3.3zM421.8 195.6h13.2v3.2h-13.2zM436.5 195.6h170.5v3.2h-170.5zM608.5 195.6h9.9v3.2h-9.9zM621.7 195.6h9.9v3.2h-9.9zM634.9 195.6h3.3v3.2h-3.3zM658 195.6h3.3v3.2h-3.3zM664.6 195.6h9.9v3.2h-9.9zM681.1 195.6h4.9v3.2h-4.9z" fill="#2f2f8e"/><path d="M392 187.5h3.3v3.2h-3.3zM401.3 187.5h3.3v3.2h-3.3zM424.4 187.5h9.9v3.2h-9.9zM440.9 187.5h6.6v3.2h-6.6zM449 187.5h208v3.2h-208zM658.5 187.5h13.2v3.2h-13.2zM675 187.5h3.3v3.2h-3.3zM684.9 187.5h3.3v3.2h-3.3zM703.7 187.5h3.3v3.2h-3.3z" fill="#2f2f8e"/><path d="M407.7 179.4h3.3v3.2h-3.3zM426.5 179.4h6.6v3.2h-6.6zM436.4 179.4h16.5v3.2h-16.5zM454.4 179.4h209.2v3.2h-209.2zM668.4 179.4h3.3v3.2h-3.3zM673.4 179.4h3.3v3.2h-3.3z" fill="#2f2f8e"/><path d="M351.2 171.3h3.3v3.2h-3.3zM355.4 171.3h3.3v3.2h-3.3zM408.8 171.3h3.3v3.2h-3.3zM432 171.3h16.5v3.2h-16.5zM450 171.3h166v3.2h-166zM617.5 171.3h26.4v3.2h-26.4zM650.5 171.3h9.9v3.2h-9.9zM663.7 171.3h6.6v3.2h-6.6zM673.6 171.3h3.3v3.2h-3.3zM703.7 171.3h3.3v3.2h-3.3z" fill="#2f2f8e"/><path d="M380.4 163.2h3.3v3.2h-3.3zM428.8 163.2h3.3v3.2h-3.3zM441.8 163.2h6.6v3.2h-6.6zM451.7 163.2h3.3v3.2h-3.3zM456.5 163.2h167.5v3.2h-167.5zM625.5 163.2h29.7v3.2h-29.7zM658.5 163.2h6.6v3.2h-6.6zM668.4 163.2h3.3v3.2h-3.3zM692.7 163.2h3.3v3.2h-3.3z" fill="#2f2f8e"/><path d="M427.7 155.1h3.3v3.2h-3.3zM446.2 155.1h9.9v3.2h-9.9zM457.6 155.1h188.4v3.2h-188.4zM647.5 155.1h6.6v3.2h-6.6zM657.4 155.1h13.2v3.2h-13.2zM710.2 155.1h3.3v3.2h-3.3zM716.8 155.1h6v3.2h-6z" fill="#2f2f8e"/><path d="M396 147h3.3v3.2h-3.3zM446.9 147h3.3v3.2h-3.3zM460 147h157v3.2h-157zM618.5 147h33v3.2h-33zM658.1 147h16.5v3.2h-16.5zM681.2 147h3.3v3.2h-3.3zM687.8 147h3.3v3.2h-3.3zM701 147h3.3v3.2h-3.3zM710.9 147h6.6v3.2h-6.6zM731.7 147h3.3v3.2h-3.3z" fill="#2f2f8e"/><path d="M452 138.9h3.3v3.2h-3.3zM457.5 138.9h3.3v3.2h-3.3zM465.6 138.9h190.4v3.2h-190.4zM657.5 138.9h16.5v3.2h-16.5zM680.6 138.9h13.2v3.2h-13.2zM725.7 138.9h3.3v3.2h-3.3z" fill="#2f2f8e"/><path d="M401.6 130.8h3.3v3.2h-3.3zM440.8 130.8h3.3v3.2h-3.3zM448.3 130.8h3.3v3.2h-3.3zM454.9 130.8h3.3v3.2h-3.3zM463 130.8h156v3.2h-156zM623.8 130.8h9.9v3.2h-9.9zM637 130.8h3.3v3.2h-3.3zM650.2 130.8h13.2v3.2h-13.2zM666.7 130.8h6.6v3.2h-6.6zM689.8 130.8h3.3v3.2h-3.3zM706.3 130.8h3.3v3.2h-3.3zM712.7 130.8h3.3v3.2h-3.3z" fill="#2f2f8e"/><path d="M471 122.7h165v3.2h-165zM637.5 122.7h9.9v3.2h-9.9zM650.7 122.7h13.2v3.2h-13.2zM667.2 122.7h9.9v3.2h-9.9zM690.3 122.7h6.6v3.2h-6.6zM713.5 122.7h3.3v3.2h-3.3z" fill="#2f2f8e"/><path d="M322.1 114.6h3.3v3.2h-3.3zM361.4 114.6h3.3v3.2h-3.3zM467 114.6h5.9v3.2h-5.9zM474.4 114.6h170.6v3.2h-170.6zM646.5 114.6h3.3v3.2h-3.3zM653.1 114.6h16.5v3.2h-16.5zM686.1 114.6h6.6v3.2h-6.6zM707.7 114.6h3.3v3.2h-3.3zM726.8 114.6h3.3v3.2h-3.3zM746 114.6h3.3v3.2h-3.3z" fill="#2f2f8e"/><path d="M404.8 106.5h3.3v3.2h-3.3zM451 106.5h3.3v3.2h-3.3zM466.3 106.5h13.2v3.2h-13.2zM481 106.5h173v3.2h-173zM655.5 106.5h3.3v3.2h-3.3zM662.1 106.5h3.3v3.2h-3.3zM668.7 106.5h6.6v3.2h-6.6zM678.6 106.5h6.6v3.2h-6.6zM695.1 106.5h6.6v3.2h-6.6zM705 106.5h3.3v3.2h-3.3zM723.7 106.5h3.3v3.2h-3.3z" fill="#2f2f8e"/><path d="M463 98.4h3.3v3.2h-3.3zM471.3 98.4h3.3v3.2h-3.3zM477.9 98.4h6.6v3.2h-6.6zM486 98.4h159v3.2h-159zM646.5 98.4h19.8v3.2h-19.8zM669.6 98.4h6.6v3.2h-6.6zM679.5 98.4h6.6v3.2h-6.6zM692.7 98.4h3.3v3.2h-3.3zM720.7 98.4h3.3v3.2h-3.3zM754.4 98.4h3.3v3.2h-3.3z" fill="#2f2f8e"/><path d="M456.4 90.3h3.3v3.2h-3.3zM482 90.3h6.5v3.2h-6.5zM490 90.3h205v3.2h-205zM696.5 90.3h13.2v3.2h-13.2zM713 90.3h3.3v3.2h-3.3zM722.9 90.3h3.3v3.2h-3.3zM738.7 90.3h3.3v3.2h-3.3z" fill="#2f2f8e"/><path d="M441.9 82.2h3.3v3.2h-3.3zM478 82.2h8.5v3.2h-8.5zM488 82.2h212v3.2h-212zM701.5 82.2h9.9v3.2h-9.9zM714.7 82.2h3.3v3.2h-3.3zM721.3 82.2h3.3v3.2h-3.3zM733.7 82.2h3.3v3.2h-3.3z" fill="#2f2f8e"/><path d="M424.8 74.1h3.3v3.2h-3.3zM485 74.1h3.3v3.2h-3.3zM490 74.1h3.3v3.2h-3.3zM496.6 74.1h3.3v3.2h-3.3zM503.2 74.1h3.3v3.2h-3.3zM508 74.1h245v3.2h-245zM754.5 74.1h19.8v3.2h-19.8zM787.5 74.1h9.9v3.2h-9.9zM816.2 74.1h3.3v3.2h-3.3z" fill="#2f2f8e"/></g><path d="M102.7 531.63 L103.7 531.63 L104.7 531.63 L105.7 531.63 L106.7 531.63 L107.7 531.63 L108.7 531.63 L109.7 531.63 L110.7 531.63 L111.7 531.63 L112.7 531.63 L113.7 531.63 L114.7 531.63 L115.7 531.63 L116.7 531.63 L117.7 531.63 L118.7 531.63 L119.7 531.63 L120.7 531.63 L121.7 531.63 L122.7 531.63 L123.7 531.63 L124.7 531.63 L125.7 531.63 L126.7 531.63 L127.7 531.63 L128.7 531.63 L129.7 531.63 L130.7 531.63 L131.7 531.63 L132.7 531.63 L133.7 531.63 L134.7 531.63 L135.7 531.63 L136.7 531.63 L137.7 531.63 L138.7 531.63 L139.7 531.63 L140.7 531.63 L141.7 531.63 L142.7 531.63 L143.7 531.63 L144.7 531.63 L145.7 531.63 L146.7 531.63 L147.7 531.63 L148.7 531.63 L149.7 531.63 L150.7 531.63 L151.7 531.63 L152.7 531.63 L153.7 531.63 L154.7 531.63 L155.7 531.63 L156.7 531.63 L157.7 531.63 L158.7 531.63 L159.7 531.63 L160.7 531.63 L161.7 531.63 L162.7 531.63 L163.7 531.63 L164.7 531.63 L165.7 531.63 L166.7 531.63 L167.7 531.63 L168.7 531.63 L169.7 531.63 L170.7 531.63 L171.7 531.63 L172.7 531.63 L173.7 531.63 L174.7 531.63 L175.7 531.63 L176.7 531.63 L177.7 531.63 L178.7 531.63 L179.7 531.63 L180.7 531.63 L181.7 531.63 L182.7 531.63 L183.7 531.63 L184.7 531.63 L185.7 531.63 L186.7 531.63 L187.7 531.63 L188.7 531.63 L189.7 531.63 L190.7 531.63 L191.7 531.63 L192.7 531.63 L193.7 531.63 L194.7 531.63 L195.7 531.63 L196.7 531.63 L197.7 531.63 L198.7 531.63 L199.7 531.63 L200.7 531.63 L201.7 531.63 L202.7 531.63 L203.7 531.63 L204.7 531.63 L205.7 531.63 L206.7 531.63 L207.7 531.63 L208.7 531.63 L209.7 531.63 L210.7 531.63 L211.7 531.63 L212.7 531.63 L213.7 531.63 L214.7 531.63 L215.7 531.63 L216.7 531.63 L217.7 531.63 L218.7 531.63 L219.7 531.63 L220.7 531.63 L221.7 531.63 L222.7 531.63 L223.7 531.63 L224.7 531.63 L225.7 531.63 L226.7 531.63 L227.7 531.63 L228.7 531.63 L229.7 531.63 L230.7 531.63 L231.7 531.63 L232.7 531.63 L233.7 531.62 L234.7 531.62 L235.7 531.62 L236.7 531.62 L237.7 531.62 L238.7 531.62 L239.7 531.62 L240.7 531.62 L241.7 531.62 L242.7 531.62 L243.7 531.62 L244.7 531.62 L245.7 531.62 L246.7 531.62 L247.7 531.62 L248.7 531.62 L249.7 531.62 L250.7 531.62 L251.7 531.62 L252.7 531.62 L253.7 531.61 L254.7 531.61 L255.7 531.61 L256.7 531.61 L257.7 531.61 L258.7 531.61 L259.7 531.61 L260.7 531.61 L261.7 531.61 L262.7 531.61 L263.7 531.61 L264.7 531.6 L265.7 531.6 L266.7 531.6 L267.7 531.6 L268.7 531.6 L269.7 531.6 L270.7 531.6 L271.7 531.6 L272.7 531.59 L273.7 531.59 L274.7 531.59 L275.7 531.59 L276.7 531.59 L277.7 531.58 L278.7 531.58 L279.7 531.58 L280.7 531.58 L281.7 531.58 L282.7 531.57 L283.7 531.57 L284.7 531.57 L285.7 531.57 L286.7 531.56 L287.7 531.56 L288.7 531.56 L289.7 531.55 L290.7 531.55 L291.7 531.55 L292.7 531.54 L293.7 531.54 L294.7 531.54 L295.7 531.53 L296.7 531.53 L297.7 531.52 L298.7 531.52 L299.7 531.52 L300.7 531.51 L301.7 531.51 L302.7 531.5 L303.7 531.5 L304.7 531.49 L305.7 531.48 L306.7 531.48 L307.7 531.47 L308.7 531.46 L309.7 531.46 L310.7 531.45 L311.7 531.44 L312.7 531.43 L313.7 531.43 L314.7 531.42 L315.7 531.41 L316.7 531.4 L317.7 531.39 L318.7 531.38 L319.7 531.37 L320.7 531.36 L321.7 531.35 L322.7 531.34 L323.7 531.32 L324.7 531.31 L325.7 531.3 L326.7 531.28 L327.7 531.27 L328.7 531.25 L329.7 531.24 L330.7 531.22 L331.7 531.21 L332.7 531.19 L333.7 531.17 L334.7 531.15 L335.7 531.13 L336.7 531.11 L337.7 531.09 L338.7 531.07 L339.7 531.04 L340.7 531.02 L341.7 530.99 L342.7 530.97 L343.7 530.94 L344.7 530.91 L345.7 530.88 L346.7 530.85 L347.7 530.82 L348.7 530.78 L349.7 530.75 L350.7 530.71 L351.7 530.67 L352.7 530.63 L353.7 530.59 L354.7 530.55 L355.7 530.5 L356.7 530.46 L357.7 530.41 L358.7 530.36 L359.7 530.31 L360.7 530.25 L361.7 530.19 L362.7 530.13 L363.7 530.07 L364.7 530.01 L365.7 529.94 L366.7 529.87 L367.7 529.8 L368.7 529.72 L369.7 529.64 L370.7 529.56 L371.7 529.48 L372.7 529.39 L373.7 529.3 L374.7 529.2 L375.7 529.1 L376.7 529 L377.7 528.89 L378.7 528.77 L379.7 528.66 L380.7 528.53 L381.7 528.41 L382.7 528.27 L383.7 528.13 L384.7 527.99 L385.7 527.84 L386.7 527.68 L387.7 527.52 L388.7 527.35 L389.7 527.18 L390.7 526.99 L391.7 526.8 L392.7 526.61 L393.7 526.4 L394.7 526.18 L395.7 525.96 L396.7 525.73 L397.7 525.49 L398.7 525.23 L399.7 524.97 L400.7 524.7 L401.7 524.41 L402.7 524.12 L403.7 523.81 L404.7 523.49 L405.7 523.16 L406.7 522.81 L407.7 522.45 L408.7 522.08 L409.7 521.69 L410.7 521.28 L411.7 520.86 L412.7 520.43 L413.7 519.97 L414.7 519.5 L415.7 519 L416.7 518.49 L417.7 517.96 L418.7 517.4 L419.7 516.83 L420.7 516.23 L421.7 515.61 L422.7 514.96 L423.7 514.29 L424.7 513.59 L425.7 512.87 L426.7 512.11 L427.7 511.33 L428.7 510.52 L429.7 509.68 L430.7 508.8 L431.7 507.89 L432.7 506.95 L433.7 505.96 L434.7 504.95 L435.7 503.89 L436.7 502.8 L437.7 501.66 L438.7 500.48 L439.7 499.26 L440.7 497.99 L441.7 496.68 L442.7 495.32 L443.7 493.91 L444.7 492.45 L445.7 490.93 L446.7 489.37 L447.7 487.74 L448.7 486.07 L449.7 484.33 L450.7 482.53 L451.7 480.67 L452.7 478.75 L453.7 476.77 L454.7 474.72 L455.7 472.6 L456.7 470.41 L457.7 468.16 L458.7 465.83 L459.7 463.43 L460.7 460.95 L461.7 458.4 L462.7 455.78 L463.7 453.07 L464.7 450.29 L465.7 447.42 L466.7 444.48 L467.7 441.46 L468.7 438.35 L469.7 435.16 L470.7 431.89 L471.7 428.54 L472.7 425.1 L473.7 421.58 L474.7 417.98 L475.7 414.29 L476.7 410.52 L477.7 406.68 L478.7 402.75 L479.7 398.74 L480.7 394.66 L481.7 390.5 L482.7 386.26 L483.7 381.96 L484.7 377.58 L485.7 373.14 L486.7 368.63 L487.7 364.06 L488.7 359.43 L489.7 354.74 L490.7 350.01 L491.7 345.22 L492.7 340.39 L493.7 335.52 L494.7 330.61 L495.7 325.67 L496.7 320.7 L497.7 315.71 L498.7 310.7 L499.7 305.68 L500.7 300.65 L501.7 295.61 L502.7 290.58 L503.7 285.55 L504.7 280.53 L505.7 275.53 L506.7 270.55 L507.7 265.59 L508.7 260.66 L509.7 255.77 L510.7 250.92 L511.7 246.11 L512.7 241.34 L513.7 236.63 L514.7 231.97 L515.7 227.37 L516.7 222.84 L517.7 218.36 L518.7 213.96 L519.7 209.63 L520.7 205.37 L521.7 201.19 L522.7 197.09 L523.7 193.06 L524.7 189.12 L525.7 185.26 L526.7 181.48 L527.7 177.79 L528.7 174.19 L529.7 170.67 L530.7 167.24 L531.7 163.9 L532.7 160.64 L533.7 157.47 L534.7 154.39 L535.7 151.4 L536.7 148.48 L537.7 145.66 L538.7 142.92 L539.7 140.26 L540.7 137.68 L541.7 135.19 L542.7 132.77 L543.7 130.43 L544.7 128.17 L545.7 125.98 L546.7 123.87 L547.7 121.83 L548.7 119.85 L549.7 117.95 L550.7 116.12 L551.7 114.35 L552.7 112.64 L553.7 111 L554.7 109.41 L555.7 107.89 L556.7 106.42 L557.7 105 L558.7 103.64 L559.7 102.34 L560.7 101.08 L561.7 99.87 L562.7 98.71 L563.7 97.59 L564.7 96.52 L565.7 95.48 L566.7 94.5 L567.7 93.55 L568.7 92.63 L569.7 91.76 L570.7 90.92 L571.7 90.11 L572.7 89.34 L573.7 88.6 L574.7 87.89 L575.7 87.21 L576.7 86.55 L577.7 85.93 L578.7 85.33 L579.7 84.75 L580.7 84.2 L581.7 83.67 L582.7 83.17 L583.7 82.69 L584.7 82.22 L585.7 81.78 L586.7 81.35 L587.7 80.95 L588.7 80.56 L589.7 80.18 L590.7 79.83 L591.7 79.48 L592.7 79.16 L593.7 78.84 L594.7 78.55 L595.7 78.26 L596.7 77.98 L597.7 77.72 L598.7 77.47 L599.7 77.23 L600.7 77 L601.7 76.78 L602.7 76.57 L603.7 76.37 L604.7 76.18 L605.7 76 L606.7 75.82 L607.7 75.65 L608.7 75.49 L609.7 75.34 L610.7 75.19 L611.7 75.05 L612.7 74.92 L613.7 74.79 L614.7 74.66 L615.7 74.55 L616.7 74.43 L617.7 74.33 L618.7 74.22 L619.7 74.13 L620.7 74.03 L621.7 73.94 L622.7 73.86 L623.7 73.77 L624.7 73.7 L625.7 73.62 L626.7 73.55 L627.7 73.48 L628.7 73.42 L629.7 73.35 L630.7 73.29 L631.7 73.24 L632.7 73.18 L633.7 73.13 L634.7 73.08 L635.7 73.03 L636.7 72.99 L637.7 72.94 L638.7 72.9 L639.7 72.86 L640.7 72.82 L641.7 72.79 L642.7 72.75 L643.7 72.72 L644.7 72.69 L645.7 72.66 L646.7 72.63 L647.7 72.6 L648.7 72.58 L649.7 72.55 L650.7 72.53 L651.7 72.5 L652.7 72.48 L653.7 72.46 L654.7 72.44 L655.7 72.42 L656.7 72.4 L657.7 72.38 L658.7 72.37 L659.7 72.35 L660.7 72.34 L661.7 72.32 L662.7 72.31 L663.7 72.29 L664.7 72.28 L665.7 72.27 L666.7 72.26 L667.7 72.25 L668.7 72.24 L669.7 72.23 L670.7 72.22 L671.7 72.21 L672.7 72.2 L673.7 72.19 L674.7 72.18 L675.7 72.17 L676.7 72.17 L677.7 72.16 L678.7 72.15 L679.7 72.15 L680.7 72.14 L681.7 72.13 L682.7 72.13 L683.7 72.12 L684.7 72.12 L685.7 72.11 L686.7 72.11 L687.7 72.1 L688.7 72.1 L689.7 72.09 L690.7 72.09 L691.7 72.09 L692.7 72.08 L693.7 72.08 L694.7 72.08 L695.7 72.07 L696.7 72.07 L697.7 72.07 L698.7 72.07 L699.7 72.06 L700.7 72.06 L701.7 72.06 L702.7 72.06 L703.7 72.05 L704.7 72.05 L705.7 72.05 L706.7 72.05 L707.7 72.05 L708.7 72.04 L709.7 72.04 L710.7 72.04 L711.7 72.04 L712.7 72.04 L713.7 72.04 L714.7 72.03 L715.7 72.03 L716.7 72.03 L717.7 72.03 L718.7 72.03 L719.7 72.03 L720.7 72.03 L721.7 72.03 L722.7 72.03 L723.7 72.03 L724.7 72.02 L725.7 72.02 L726.7 72.02 L727.7 72.02 L728.7 72.02 L729.7 72.02 L730.7 72.02 L731.7 72.02 L732.7 72.02 L733.7 72.02 L734.7 72.02 L735.7 72.02 L736.7 72.02 L737.7 72.02 L738.7 72.02 L739.7 72.02 L740.7 72.02 L741.7 72.01 L742.7 72.01 L743.7 72.01 L744.7 72.01 L745.7 72.01 L746.7 72.01 L747.7 72.01 L748.7 72.01 L749.7 72.01 L750.7 72.01 L751.7 72.01 L752.7 72.01 L753.7 72.01 L754.7 72.01 L755.7 72.01 L756.7 72.01 L757.7 72.01 L758.7 72.01 L759.7 72.01 L760.7 72.01 L761.7 72.01 L762.7 72.01 L763.7 72.01 L764.7 72.01 L765.7 72.01 L766.7 72.01 L767.7 72.01 L768.7 72.01 L769.7 72.01 L770.7 72.01 L771.7 72.01 L772.7 72.01 L773.7 72.01 L774.7 72.01 L775.7 72.01 L776.7 72.01 L777.7 72.01 L778.7 72.01 L779.7 72.01 L780.7 72.01 L781.7 72.01 L782.7 72.01 L783.7 72.01 L784.7 72.01 L785.7 72.01 L786.7 72.01 L787.7 72.01 L788.7 72.01 L789.7 72.01 L790.7 72.01 L791.7 72.01 L792.7 72.01 L793.7 72.01 L794.7 72.01 L795.7 72.01 L796.7 72.01 L797.7 72.01 L798.7 72.01 L799.7 72.01 L800.7 72.01 L801.7 72.01 L802.7 72.01 L803.7 72.01 L804.7 72.01 L805.7 72.01 L806.7 72.01 L807.7 72.01 L808.7 72.01 L809.7 72.01 L810.7 72.01 L811.7 72.01 L812.7 72.01 L813.7 72.01 L814.7 72.01 L815.7 72.01 L816.7 72.01 L817.7 72.01 L818.7 72.01 L819.7 72.01 L820.7 72.01 L821.7 72.01 L822.7 72.01 L823.7 72.01" fill="none" stroke="#ff1c1c" stroke-width="3.2" stroke-dasharray="8.4 9.6"/><rect x="102.7" y="19.0" width="721.5" height="567" fill="none" stroke="#262626" stroke-width="1.3"/><path d="M192.89 586.0v-6M192.89 19.0v6M283.07 586.0v-6M283.07 19.0v6M373.26 586.0v-6M373.26 19.0v6M463.45 586.0v-6M463.45 19.0v6M553.64 586.0v-6M553.64 19.0v6M643.83 586.0v-6M643.83 19.0v6M734.01 586.0v-6M734.01 19.0v6M102.7 505h6M824.2 505h-6M102.7 424h6M824.2 424h-6M102.7 343h6M824.2 343h-6M102.7 262h6M824.2 262h-6M102.7 181h6M824.2 181h-6M102.7 100h6M824.2 100h-6" stroke="#262626" stroke-width="1.3" fill="none"/><g font-family="Liberation Sans, sans-serif" font-size="24.3" fill="#262626"><text x="92.5" y="594.6" text-anchor="end">0</text><text x="92.5" y="513.6" text-anchor="end">10</text><text x="92.5" y="432.6" text-anchor="end">20</text><text x="92.5" y="351.6" text-anchor="end">30</text><text x="92.5" y="270.6" text-anchor="end">40</text><text x="92.5" y="189.6" text-anchor="end">50</text><text x="92.5" y="108.6" text-anchor="end">60</text><text x="92.5" y="27.6" text-anchor="end">70</text><text x="102.7" y="619.8" text-anchor="middle">2</text><text x="192.89" y="619.8" text-anchor="middle">4</text><text x="283.07" y="619.8" text-anchor="middle">6</text><text x="373.26" y="619.8" text-anchor="middle">8</text><text x="463.45" y="619.8" text-anchor="middle">10</text><text x="553.64" y="619.8" text-anchor="middle">12</text><text x="643.83" y="619.8" text-anchor="middle">14</text><text x="734.01" y="619.8" text-anchor="middle">16</text><text x="824.2" y="619.8" text-anchor="middle">18</text></g><line x1="111.6" y1="302.2" x2="488.1" y2="302.2" stroke="#000" stroke-width="2.6"/><path d="M99.2 302.2L112.6 295.7L112.6 308.7z M500.5 302.2L487.1 295.7L487.1 308.7z" fill="#000"/><line x1="702" y1="87" x2="702" y2="534" stroke="#000" stroke-width="2.2"/><path d="M702 75L695.3 88L708.7 88zM702 546L695.3 533L708.7 533z" fill="#000"/><line x1="157.2" y1="546" x2="157.2" y2="573.8" stroke="#000" stroke-width="2.6"/><path d="M157.2 534L150.5 547L163.9 547zM157.2 585.8L150.5 572.8L163.9 572.8z" fill="#000"/><line x1="120" y1="605.5" x2="120" y2="667" stroke="#000" stroke-width="3.0"/><path d="M120 593.5L113.3 606.5L126.7 606.5zM120 679L113.3 666L126.7 666z" fill="#000"/><line x1="327.5" y1="605.5" x2="327.5" y2="667" stroke="#000" stroke-width="3.0"/><path d="M327.5 593.5L320.8 606.5L334.2 606.5zM327.5 679L320.8 666L334.2 666z" fill="#000"/><line x1="353.3" y1="605.5" x2="353.3" y2="667" stroke="#000" stroke-width="3.0"/><path d="M353.3 593.5L346.6 606.5L360 606.5zM353.3 679L346.6 666L360 666z" fill="#000"/><line x1="585.3" y1="605.5" x2="585.3" y2="667" stroke="#000" stroke-width="3.0"/><path d="M585.3 593.5L578.6 606.5L592 606.5zM585.3 679L578.6 666L592 666z" fill="#000"/><rect x="167" y="535" width="70" height="54" fill="#fff" fill-opacity="0.25"/><circle cx="397.6" cy="526.4" r="11.1" fill="#f7e81a" stroke="#000" stroke-width="3"/><g font-family="Liberation Serif, serif" font-weight="bold" font-style="italic" fill="#000" stroke="#000" stroke-width="0.5"><text x="238" y="279.2" font-size="43">d</text><text x="524.4" y="312.3" font-size="44">c</text><text x="734.8" y="329.2" font-size="44">b</text><text x="192.7" y="578.5" font-size="45">a</text><text x="369.2" y="490" font-size="44">p</text><text x="394.5" y="490.8" font-size="44" font-style="normal">1</text></g><g font-family="Liberation Serif, serif" font-weight="bold" font-style="italic" font-size="36.5" fill="#000"><text transform="translate(31.7 332.7) rotate(-90)">DN</text><text transform="translate(888.8 391.3) rotate(-90)">DN</text></g><g font-family="Liberation Sans, sans-serif" font-weight="bold" fill="#000"><text x="133.2" y="64.5" font-size="41.5">(a)</text><text x="848.3" y="55.9" font-size="41.5">(b)</text></g><g font-family="Liberation Serif, serif" font-style="italic" fill="#000" stroke="#000" stroke-width="0.35"><text x="408.9" y="655.9" font-size="41">L</text><text x="429.6" y="655.9" font-size="41">o</text><text x="453.2" y="655.9" font-size="41">g</text><text x="477" y="663.5" font-size="28">V</text><text transform="translate(497.2 670.9) scale(1.3 1)" font-size="25">k</text><text transform="translate(513.6 670.4) scale(1.25 1)" font-size="25">d</text></g><g font-family="Liberation Serif, serif" font-style="italic" fill="#000" stroke="#000" stroke-width="0.35"><text x="1136.5" y="810" font-size="41">L</text><text x="1157.2" y="810" font-size="41">o</text><text x="1180.8" y="810" font-size="41">g</text><text x="1204.6" y="817.6" font-size="28">V</text><text transform="translate(1224.8 825) scale(1.3 1)" font-size="25">k</text><text transform="translate(1241.2 824.5) scale(1.25 1)" font-size="25">d</text></g><rect x="104.8" y="683.2" width="231.2" height="86.8" fill="#fdf8f2" stroke="#e3dbd7" stroke-width="1.5"/><rect x="347.2" y="683.2" width="244.3" height="86.8" fill="#e9b7a4" stroke="#e0ad9a" stroke-width="1.5"/><rect x="603.2" y="683.2" width="218.4" height="86.8" fill="#d06852" stroke="#c9a49c" stroke-width="1.5"/><g font-family="Liberation Sans, sans-serif" font-size="32.5" fill="#000"><text x="133.3" y="812">Rural area</text><text x="377.3" y="812">Rural-Urban</text><text x="633.3" y="812">Urban core</text></g><g><rect x="952.2" y="214.91" width="122.78" height="2.0" fill="url(#gAsia4)" fill-opacity="0.85"/><rect x="952.2" y="212.14" width="135.74" height="2.0" fill="url(#gAsia5)" fill-opacity="0.88"/><rect x="952.2" y="209.37" width="149.62" height="2.0" fill="url(#gAsia6)" fill-opacity="0.93"/><rect x="952.2" y="206.6" width="149.62" height="2.0" fill="url(#gAsia7)" fill-opacity="0.86"/><rect x="952.2" y="203.83" width="157.34" height="2.0" fill="url(#gAsia8)" fill-opacity="0.98"/><rect x="952.2" y="201.06" width="161.65" height="2.0" fill="url(#gAsia9)" fill-opacity="0.9"/><rect x="952.2" y="198.29" width="165.97" height="2.0" fill="url(#gAsia10)" fill-opacity="0.87"/><rect x="975.95" y="195.51" width="138.21" height="2.0" fill="url(#gAsia11)" fill-opacity="0.86"/><rect x="975.95" y="192.74" width="137.44" height="2.0" fill="url(#gAsia12)" fill-opacity="0.93"/><rect x="975.95" y="189.97" width="139.06" height="2.0" fill="url(#gAsia13)" fill-opacity="0.89"/><rect x="975.95" y="187.2" width="140.68" height="2.0" fill="url(#gAsia14)" fill-opacity="0.95"/><rect x="982.2" y="184.43" width="137.05" height="2.0" fill="url(#gAsia15)" fill-opacity="0.89"/><rect x="988.45" y="181.66" width="133.43" height="2.0" fill="url(#gAsia16)" fill-opacity="0.98"/><rect x="994" y="178.89" width="129.42" height="2.0" fill="url(#gAsia17)" fill-opacity="0.97"/><rect x="999.55" y="176.11" width="125.41" height="2.0" fill="url(#gAsia18)" fill-opacity="0.9"/><rect x="1005.11" y="173.34" width="121.39" height="2.0" fill="url(#gAsia19)" fill-opacity="0.88"/><rect x="1010.1" y="170.57" width="116.41" height="2.0" fill="#9898d0" fill-opacity="0.86"/><rect x="1015.08" y="167.8" width="111.42" height="2.0" fill="#9898d0" fill-opacity="0.95"/><rect x="1020.07" y="165.03" width="106.43" height="2.0" fill="#9898d0" fill-opacity="0.95"/><rect x="1020.58" y="162.26" width="107.97" height="2.0" fill="#9898d0" fill-opacity="0.94"/><rect x="1021.1" y="159.49" width="109.52" height="2.0" fill="#9898d0" fill-opacity="0.92"/><rect x="1021.61" y="156.71" width="111.06" height="2.0" fill="#9898d0" fill-opacity="0.98"/><rect x="1025.21" y="153.94" width="108.75" height="2.0" fill="#9898d0" fill-opacity="0.86"/><rect x="1028.81" y="151.17" width="106.43" height="2.0" fill="#9898d0" fill-opacity="0.87"/><rect x="1032.41" y="148.4" width="104.12" height="2.0" fill="#9898d0" fill-opacity="0.85"/><rect x="1030.87" y="145.63" width="106.69" height="2.0" fill="#9898d0" fill-opacity="0.98"/><rect x="1029.33" y="142.86" width="109.26" height="2.0" fill="#9898d0" fill-opacity="0.88"/><rect x="1027.78" y="140.09" width="111.83" height="2.0" fill="#9898d0" fill-opacity="0.9"/><rect x="1033.95" y="137.31" width="105.66" height="2.0" fill="#9898d0" fill-opacity="0.97"/><rect x="1040.12" y="134.54" width="99.49" height="2.0" fill="#9898d0" fill-opacity="0.87"/><rect x="1043.72" y="131.77" width="96.66" height="2.0" fill="#9898d0" fill-opacity="0.89"/><rect x="1047.32" y="129" width="93.84" height="2.0" fill="#9898d0" fill-opacity="0.88"/><rect x="1050.92" y="126.23" width="91.01" height="2.0" fill="#9898d0" fill-opacity="0.9"/><rect x="1052.15" y="123.46" width="85.53" height="2.0" fill="#9898d0" fill-opacity="0.99"/><rect x="1053.39" y="120.69" width="80.06" height="2.0" fill="#9898d0" fill-opacity="0.89"/><rect x="1054.52" y="117.91" width="81.5" height="2.0" fill="#9898d0" fill-opacity="1"/><rect x="1055.65" y="115.14" width="82.94" height="2.0" fill="#9898d0" fill-opacity="0.89"/><rect x="1056.78" y="112.37" width="84.37" height="2.0" fill="#9898d0" fill-opacity="0.88"/><rect x="1057.91" y="109.6" width="84.01" height="2.0" fill="#9898d0" fill-opacity="0.86"/><rect x="1059.04" y="106.83" width="83.65" height="2.0" fill="#9898d0" fill-opacity="0.89"/><rect x="1060.17" y="104.06" width="83.3" height="2.0" fill="#9898d0" fill-opacity="0.87"/><rect x="1061.2" y="101.29" width="85.61" height="2.0" fill="#9898d0" fill-opacity="0.99"/><rect x="1062.23" y="98.51" width="87.92" height="2.0" fill="#9898d0" fill-opacity="0.93"/><rect x="1063.26" y="95.74" width="90.24" height="2.0" fill="#9898d0" fill-opacity="0.96"/><rect x="1065.32" y="92.97" width="86.64" height="2.0" fill="#9898d0" fill-opacity="0.89"/><rect x="1067.37" y="90.2" width="83.04" height="2.0" fill="#9898d0" fill-opacity="0.97"/><rect x="1069.43" y="87.43" width="79.44" height="2.0" fill="#9898d0" fill-opacity="0.9"/><rect x="1070.97" y="84.66" width="81.5" height="2.0" fill="#9898d0" fill-opacity="0.87"/><rect x="1072.52" y="81.89" width="83.55" height="2.0" fill="#9898d0" fill-opacity="0.89"/><rect x="1074.06" y="79.11" width="85.61" height="2.0" fill="#9898d0" fill-opacity="0.9"/><rect x="1073.86" y="76.34" width="85.03" height="2.0" fill="#9898d0" fill-opacity="0.95"/><rect x="1073.67" y="73.57" width="84.45" height="2.0" fill="#9898d0" fill-opacity="1"/><rect x="1073.48" y="70.8" width="83.87" height="2.0" fill="#9898d0" fill-opacity="0.88"/><rect x="1073.29" y="68.03" width="83.29" height="2.0" fill="#9898d0" fill-opacity="0.94"/><rect x="1074.98" y="65.26" width="81.6" height="2.0" fill="#9898d0" fill-opacity="0.94"/><rect x="1076.68" y="62.49" width="79.9" height="2.0" fill="#9898d0" fill-opacity="0.92"/><rect x="1078.38" y="59.71" width="78.2" height="2.0" fill="#9898d0" fill-opacity="0.91"/><rect x="1080.07" y="56.94" width="86.92" height="2.0" fill="#9898d0" fill-opacity="0.97"/><rect x="1081.77" y="54.17" width="95.63" height="2.0" fill="#9898d0" fill-opacity="0.99"/><rect x="1082.54" y="51.4" width="100.57" height="2.0" fill="#6a6aa6" fill-opacity="1"/><path d="M1075.28 215.11h1.5v1.6h-1.5zM1076.78 215.11h1.5v1.6h-1.5zM1078.28 215.11h1.5v1.6h-1.5zM1088.24 212.34h1.5v1.6h-1.5zM1089.74 212.34h1.5v1.6h-1.5zM1091.24 212.34h1.5v1.6h-1.5zM1092.74 212.34h1.5v1.6h-1.5zM1094.24 212.34h1.5v1.6h-1.5zM1095.74 212.34h1.5v1.6h-1.5zM1097.24 212.34h1.5v1.6h-1.5zM1100.24 212.34h1.5v1.6h-1.5zM1103.24 212.34h1.5v1.6h-1.5zM1107.74 212.34h1.5v1.6h-1.5zM1109.24 212.34h1.5v1.6h-1.5zM1110.74 212.34h1.5v1.6h-1.5zM1118.24 212.34h1.5v1.6h-1.5zM1102.12 209.57h1.5v1.6h-1.5zM1105.12 209.57h1.5v1.6h-1.5zM1106.62 209.57h1.5v1.6h-1.5zM1108.12 209.57h1.5v1.6h-1.5zM1109.62 209.57h1.5v1.6h-1.5zM1111.12 209.57h1.5v1.6h-1.5zM1112.62 209.57h1.5v1.6h-1.5zM1117.12 209.57h1.5v1.6h-1.5zM1102.12 206.8h1.5v1.6h-1.5zM1103.62 206.8h1.5v1.6h-1.5zM1109.62 206.8h1.5v1.6h-1.5zM1111.12 206.8h1.5v1.6h-1.5zM1112.62 206.8h1.5v1.6h-1.5zM1115.62 206.8h1.5v1.6h-1.5zM1109.84 204.03h1.5v1.6h-1.5zM1111.34 204.03h1.5v1.6h-1.5zM1114.34 204.03h1.5v1.6h-1.5zM1118.84 204.03h1.5v1.6h-1.5zM1120.34 204.03h1.5v1.6h-1.5zM1121.84 204.03h1.5v1.6h-1.5zM1114.15 201.26h1.5v1.6h-1.5zM1117.15 201.26h1.5v1.6h-1.5zM1123.15 201.26h1.5v1.6h-1.5zM1118.47 198.49h1.5v1.6h-1.5zM1119.97 198.49h1.5v1.6h-1.5zM1121.47 198.49h1.5v1.6h-1.5zM1122.97 198.49h1.5v1.6h-1.5zM1114.46 195.71h1.5v1.6h-1.5zM1115.96 195.71h1.5v1.6h-1.5zM1118.96 195.71h1.5v1.6h-1.5zM1121.96 195.71h1.5v1.6h-1.5zM974.15 195.71h1.5v1.6h-1.5zM972.65 195.71h1.5v1.6h-1.5zM971.15 195.71h1.5v1.6h-1.5zM966.65 195.71h1.5v1.6h-1.5zM965.15 195.71h1.5v1.6h-1.5zM959.15 195.71h1.5v1.6h-1.5zM957.65 195.71h1.5v1.6h-1.5zM1113.69 192.94h1.5v1.6h-1.5zM1115.19 192.94h1.5v1.6h-1.5zM1116.69 192.94h1.5v1.6h-1.5zM1118.19 192.94h1.5v1.6h-1.5zM1121.19 192.94h1.5v1.6h-1.5zM1122.69 192.94h1.5v1.6h-1.5zM1125.69 192.94h1.5v1.6h-1.5zM975.65 192.94h1.5v1.6h-1.5zM972.65 192.94h1.5v1.6h-1.5zM971.15 192.94h1.5v1.6h-1.5zM968.15 192.94h1.5v1.6h-1.5zM966.65 192.94h1.5v1.6h-1.5zM965.15 192.94h1.5v1.6h-1.5zM963.65 192.94h1.5v1.6h-1.5zM956.15 192.94h1.5v1.6h-1.5zM1115.31 190.17h1.5v1.6h-1.5zM1116.81 190.17h1.5v1.6h-1.5zM1119.81 190.17h1.5v1.6h-1.5zM1121.31 190.17h1.5v1.6h-1.5zM1122.81 190.17h1.5v1.6h-1.5zM1125.81 190.17h1.5v1.6h-1.5zM1127.31 190.17h1.5v1.6h-1.5zM1130.31 190.17h1.5v1.6h-1.5zM1131.81 190.17h1.5v1.6h-1.5zM975.65 190.17h1.5v1.6h-1.5zM974.15 190.17h1.5v1.6h-1.5zM972.65 190.17h1.5v1.6h-1.5zM971.15 190.17h1.5v1.6h-1.5zM968.15 190.17h1.5v1.6h-1.5zM966.65 190.17h1.5v1.6h-1.5zM957.65 190.17h1.5v1.6h-1.5zM1116.93 187.4h1.5v1.6h-1.5zM1118.43 187.4h1.5v1.6h-1.5zM1121.43 187.4h1.5v1.6h-1.5zM1122.93 187.4h1.5v1.6h-1.5zM1124.43 187.4h1.5v1.6h-1.5zM1128.93 187.4h1.5v1.6h-1.5zM1130.43 187.4h1.5v1.6h-1.5zM975.65 187.4h1.5v1.6h-1.5zM974.15 187.4h1.5v1.6h-1.5zM971.15 187.4h1.5v1.6h-1.5zM969.65 187.4h1.5v1.6h-1.5zM968.15 187.4h1.5v1.6h-1.5zM1119.55 184.63h1.5v1.6h-1.5zM1121.05 184.63h1.5v1.6h-1.5zM1122.55 184.63h1.5v1.6h-1.5zM1125.55 184.63h1.5v1.6h-1.5zM1127.05 184.63h1.5v1.6h-1.5zM1128.55 184.63h1.5v1.6h-1.5zM1130.05 184.63h1.5v1.6h-1.5zM981.9 184.63h1.5v1.6h-1.5zM980.4 184.63h1.5v1.6h-1.5zM978.9 184.63h1.5v1.6h-1.5zM975.9 184.63h1.5v1.6h-1.5zM972.9 184.63h1.5v1.6h-1.5zM971.4 184.63h1.5v1.6h-1.5zM1122.17 181.86h1.5v1.6h-1.5zM1123.67 181.86h1.5v1.6h-1.5zM1126.67 181.86h1.5v1.6h-1.5zM1128.17 181.86h1.5v1.6h-1.5zM1129.67 181.86h1.5v1.6h-1.5zM1132.67 181.86h1.5v1.6h-1.5zM1135.67 181.86h1.5v1.6h-1.5zM988.15 181.86h1.5v1.6h-1.5zM986.65 181.86h1.5v1.6h-1.5zM982.15 181.86h1.5v1.6h-1.5zM977.65 181.86h1.5v1.6h-1.5zM974.65 181.86h1.5v1.6h-1.5zM1123.72 179.09h1.5v1.6h-1.5zM1125.22 179.09h1.5v1.6h-1.5zM1128.22 179.09h1.5v1.6h-1.5zM1129.72 179.09h1.5v1.6h-1.5zM1131.22 179.09h1.5v1.6h-1.5zM1135.72 179.09h1.5v1.6h-1.5zM993.7 179.09h1.5v1.6h-1.5zM992.2 179.09h1.5v1.6h-1.5zM990.7 179.09h1.5v1.6h-1.5zM987.7 179.09h1.5v1.6h-1.5zM984.7 179.09h1.5v1.6h-1.5zM980.2 179.09h1.5v1.6h-1.5zM978.7 179.09h1.5v1.6h-1.5zM971.2 179.09h1.5v1.6h-1.5zM1125.26 176.31h1.5v1.6h-1.5zM1126.76 176.31h1.5v1.6h-1.5zM1128.26 176.31h1.5v1.6h-1.5zM1131.26 176.31h1.5v1.6h-1.5zM1134.26 176.31h1.5v1.6h-1.5zM999.25 176.31h1.5v1.6h-1.5zM997.75 176.31h1.5v1.6h-1.5zM996.25 176.31h1.5v1.6h-1.5zM994.75 176.31h1.5v1.6h-1.5zM993.25 176.31h1.5v1.6h-1.5zM991.75 176.31h1.5v1.6h-1.5zM990.25 176.31h1.5v1.6h-1.5zM987.25 176.31h1.5v1.6h-1.5zM981.25 176.31h1.5v1.6h-1.5zM978.25 176.31h1.5v1.6h-1.5zM972.25 176.31h1.5v1.6h-1.5zM1126.8 173.54h1.5v1.6h-1.5zM1128.3 173.54h1.5v1.6h-1.5zM1129.8 173.54h1.5v1.6h-1.5zM1132.8 173.54h1.5v1.6h-1.5zM1134.3 173.54h1.5v1.6h-1.5zM1137.3 173.54h1.5v1.6h-1.5zM1138.8 173.54h1.5v1.6h-1.5zM1004.81 173.54h1.5v1.6h-1.5zM1003.31 173.54h1.5v1.6h-1.5zM1001.81 173.54h1.5v1.6h-1.5zM1000.31 173.54h1.5v1.6h-1.5zM998.81 173.54h1.5v1.6h-1.5zM997.31 173.54h1.5v1.6h-1.5zM995.81 173.54h1.5v1.6h-1.5zM994.31 173.54h1.5v1.6h-1.5zM992.81 173.54h1.5v1.6h-1.5zM991.31 173.54h1.5v1.6h-1.5zM989.81 173.54h1.5v1.6h-1.5zM988.31 173.54h1.5v1.6h-1.5zM986.81 173.54h1.5v1.6h-1.5zM985.31 173.54h1.5v1.6h-1.5zM983.81 173.54h1.5v1.6h-1.5zM974.81 173.54h1.5v1.6h-1.5zM1126.8 170.77h1.5v1.6h-1.5zM1128.3 170.77h1.5v1.6h-1.5zM1129.8 170.77h1.5v1.6h-1.5zM1131.3 170.77h1.5v1.6h-1.5zM1132.8 170.77h1.5v1.6h-1.5zM1134.3 170.77h1.5v1.6h-1.5zM1135.8 170.77h1.5v1.6h-1.5zM1137.3 170.77h1.5v1.6h-1.5zM1141.8 170.77h1.5v1.6h-1.5zM1009.8 170.77h1.5v1.6h-1.5zM1008.3 170.77h1.5v1.6h-1.5zM1006.8 170.77h1.5v1.6h-1.5zM1005.3 170.77h1.5v1.6h-1.5zM1003.8 170.77h1.5v1.6h-1.5zM1002.3 170.77h1.5v1.6h-1.5zM1000.8 170.77h1.5v1.6h-1.5zM997.8 170.77h1.5v1.6h-1.5zM996.3 170.77h1.5v1.6h-1.5zM993.3 170.77h1.5v1.6h-1.5zM991.8 170.77h1.5v1.6h-1.5zM990.3 170.77h1.5v1.6h-1.5zM985.8 170.77h1.5v1.6h-1.5zM981.3 170.77h1.5v1.6h-1.5zM976.8 170.77h1.5v1.6h-1.5zM975.3 170.77h1.5v1.6h-1.5zM1126.8 168h1.5v1.6h-1.5zM1128.3 168h1.5v1.6h-1.5zM1131.3 168h1.5v1.6h-1.5zM1132.8 168h1.5v1.6h-1.5zM1134.3 168h1.5v1.6h-1.5zM1135.8 168h1.5v1.6h-1.5zM1137.3 168h1.5v1.6h-1.5zM1138.8 168h1.5v1.6h-1.5zM1140.3 168h1.5v1.6h-1.5zM1014.78 168h1.5v1.6h-1.5zM1013.28 168h1.5v1.6h-1.5zM1011.78 168h1.5v1.6h-1.5zM1010.28 168h1.5v1.6h-1.5zM1007.28 168h1.5v1.6h-1.5zM1005.78 168h1.5v1.6h-1.5zM1004.28 168h1.5v1.6h-1.5zM999.78 168h1.5v1.6h-1.5zM998.28 168h1.5v1.6h-1.5zM996.78 168h1.5v1.6h-1.5zM993.78 168h1.5v1.6h-1.5zM981.78 168h1.5v1.6h-1.5zM1126.8 165.23h1.5v1.6h-1.5zM1128.3 165.23h1.5v1.6h-1.5zM1129.8 165.23h1.5v1.6h-1.5zM1131.3 165.23h1.5v1.6h-1.5zM1132.8 165.23h1.5v1.6h-1.5zM1134.3 165.23h1.5v1.6h-1.5zM1135.8 165.23h1.5v1.6h-1.5zM1137.3 165.23h1.5v1.6h-1.5zM1140.3 165.23h1.5v1.6h-1.5zM1143.3 165.23h1.5v1.6h-1.5zM1146.3 165.23h1.5v1.6h-1.5zM1149.3 165.23h1.5v1.6h-1.5zM1019.77 165.23h1.5v1.6h-1.5zM1018.27 165.23h1.5v1.6h-1.5zM1016.77 165.23h1.5v1.6h-1.5zM1015.27 165.23h1.5v1.6h-1.5zM1013.77 165.23h1.5v1.6h-1.5zM1012.27 165.23h1.5v1.6h-1.5zM1010.77 165.23h1.5v1.6h-1.5zM1009.27 165.23h1.5v1.6h-1.5zM1006.27 165.23h1.5v1.6h-1.5zM1004.77 165.23h1.5v1.6h-1.5zM1003.27 165.23h1.5v1.6h-1.5zM1001.77 165.23h1.5v1.6h-1.5zM1000.27 165.23h1.5v1.6h-1.5zM997.27 165.23h1.5v1.6h-1.5zM995.77 165.23h1.5v1.6h-1.5zM994.27 165.23h1.5v1.6h-1.5zM991.27 165.23h1.5v1.6h-1.5zM989.77 165.23h1.5v1.6h-1.5zM986.77 165.23h1.5v1.6h-1.5zM983.77 165.23h1.5v1.6h-1.5zM982.27 165.23h1.5v1.6h-1.5zM979.27 165.23h1.5v1.6h-1.5zM1128.86 162.46h1.5v1.6h-1.5zM1130.36 162.46h1.5v1.6h-1.5zM1133.36 162.46h1.5v1.6h-1.5zM1134.86 162.46h1.5v1.6h-1.5zM1136.36 162.46h1.5v1.6h-1.5zM1137.86 162.46h1.5v1.6h-1.5zM1145.36 162.46h1.5v1.6h-1.5zM1146.86 162.46h1.5v1.6h-1.5zM1148.36 162.46h1.5v1.6h-1.5zM1149.86 162.46h1.5v1.6h-1.5zM1020.28 162.46h1.5v1.6h-1.5zM1018.78 162.46h1.5v1.6h-1.5zM1017.28 162.46h1.5v1.6h-1.5zM1014.28 162.46h1.5v1.6h-1.5zM1012.78 162.46h1.5v1.6h-1.5zM1011.28 162.46h1.5v1.6h-1.5zM1009.78 162.46h1.5v1.6h-1.5zM1008.28 162.46h1.5v1.6h-1.5zM1006.78 162.46h1.5v1.6h-1.5zM1003.78 162.46h1.5v1.6h-1.5zM1002.28 162.46h1.5v1.6h-1.5zM1000.78 162.46h1.5v1.6h-1.5zM999.28 162.46h1.5v1.6h-1.5zM996.28 162.46h1.5v1.6h-1.5zM994.78 162.46h1.5v1.6h-1.5zM993.28 162.46h1.5v1.6h-1.5zM991.78 162.46h1.5v1.6h-1.5zM985.78 162.46h1.5v1.6h-1.5zM984.28 162.46h1.5v1.6h-1.5zM1130.92 159.69h1.5v1.6h-1.5zM1132.42 159.69h1.5v1.6h-1.5zM1133.92 159.69h1.5v1.6h-1.5zM1135.42 159.69h1.5v1.6h-1.5zM1136.92 159.69h1.5v1.6h-1.5zM1139.92 159.69h1.5v1.6h-1.5zM1141.42 159.69h1.5v1.6h-1.5zM1145.92 159.69h1.5v1.6h-1.5zM1020.8 159.69h1.5v1.6h-1.5zM1019.3 159.69h1.5v1.6h-1.5zM1017.8 159.69h1.5v1.6h-1.5zM1016.3 159.69h1.5v1.6h-1.5zM1014.8 159.69h1.5v1.6h-1.5zM1013.3 159.69h1.5v1.6h-1.5zM1011.8 159.69h1.5v1.6h-1.5zM1010.3 159.69h1.5v1.6h-1.5zM1008.8 159.69h1.5v1.6h-1.5zM1007.3 159.69h1.5v1.6h-1.5zM1005.8 159.69h1.5v1.6h-1.5zM1001.3 159.69h1.5v1.6h-1.5zM998.3 159.69h1.5v1.6h-1.5zM992.3 159.69h1.5v1.6h-1.5zM990.8 159.69h1.5v1.6h-1.5zM981.8 159.69h1.5v1.6h-1.5zM980.3 159.69h1.5v1.6h-1.5zM1132.97 156.91h1.5v1.6h-1.5zM1135.97 156.91h1.5v1.6h-1.5zM1137.47 156.91h1.5v1.6h-1.5zM1021.31 156.91h1.5v1.6h-1.5zM1019.81 156.91h1.5v1.6h-1.5zM1018.31 156.91h1.5v1.6h-1.5zM1015.31 156.91h1.5v1.6h-1.5zM1013.81 156.91h1.5v1.6h-1.5zM1012.31 156.91h1.5v1.6h-1.5zM1010.81 156.91h1.5v1.6h-1.5zM1009.31 156.91h1.5v1.6h-1.5zM1007.81 156.91h1.5v1.6h-1.5zM1006.31 156.91h1.5v1.6h-1.5zM1004.81 156.91h1.5v1.6h-1.5zM1000.31 156.91h1.5v1.6h-1.5zM998.81 156.91h1.5v1.6h-1.5zM997.31 156.91h1.5v1.6h-1.5zM994.31 156.91h1.5v1.6h-1.5zM989.81 156.91h1.5v1.6h-1.5zM1134.26 154.14h1.5v1.6h-1.5zM1135.76 154.14h1.5v1.6h-1.5zM1137.26 154.14h1.5v1.6h-1.5zM1138.76 154.14h1.5v1.6h-1.5zM1140.26 154.14h1.5v1.6h-1.5zM1144.76 154.14h1.5v1.6h-1.5zM1147.76 154.14h1.5v1.6h-1.5zM1024.91 154.14h1.5v1.6h-1.5zM1023.41 154.14h1.5v1.6h-1.5zM1021.91 154.14h1.5v1.6h-1.5zM1020.41 154.14h1.5v1.6h-1.5zM1018.91 154.14h1.5v1.6h-1.5zM1017.41 154.14h1.5v1.6h-1.5zM1015.91 154.14h1.5v1.6h-1.5zM1014.41 154.14h1.5v1.6h-1.5zM1012.91 154.14h1.5v1.6h-1.5zM1011.41 154.14h1.5v1.6h-1.5zM1009.91 154.14h1.5v1.6h-1.5zM1006.91 154.14h1.5v1.6h-1.5zM1002.41 154.14h1.5v1.6h-1.5zM999.41 154.14h1.5v1.6h-1.5zM997.91 154.14h1.5v1.6h-1.5zM990.41 154.14h1.5v1.6h-1.5zM1135.54 151.37h1.5v1.6h-1.5zM1138.54 151.37h1.5v1.6h-1.5zM1140.04 151.37h1.5v1.6h-1.5zM1149.04 151.37h1.5v1.6h-1.5zM1028.51 151.37h1.5v1.6h-1.5zM1027.01 151.37h1.5v1.6h-1.5zM1024.01 151.37h1.5v1.6h-1.5zM1022.51 151.37h1.5v1.6h-1.5zM1019.51 151.37h1.5v1.6h-1.5zM1015.01 151.37h1.5v1.6h-1.5zM1013.51 151.37h1.5v1.6h-1.5zM1012.01 151.37h1.5v1.6h-1.5zM1010.51 151.37h1.5v1.6h-1.5zM1009.01 151.37h1.5v1.6h-1.5zM1007.51 151.37h1.5v1.6h-1.5zM1004.51 151.37h1.5v1.6h-1.5zM1003.01 151.37h1.5v1.6h-1.5zM1136.83 148.6h1.5v1.6h-1.5zM1138.33 148.6h1.5v1.6h-1.5zM1139.83 148.6h1.5v1.6h-1.5zM1141.33 148.6h1.5v1.6h-1.5zM1144.33 148.6h1.5v1.6h-1.5zM1145.83 148.6h1.5v1.6h-1.5zM1147.33 148.6h1.5v1.6h-1.5zM1032.11 148.6h1.5v1.6h-1.5zM1030.61 148.6h1.5v1.6h-1.5zM1029.11 148.6h1.5v1.6h-1.5zM1026.11 148.6h1.5v1.6h-1.5zM1024.61 148.6h1.5v1.6h-1.5zM1023.11 148.6h1.5v1.6h-1.5zM1021.61 148.6h1.5v1.6h-1.5zM1018.61 148.6h1.5v1.6h-1.5zM1017.11 148.6h1.5v1.6h-1.5zM1015.61 148.6h1.5v1.6h-1.5zM1014.11 148.6h1.5v1.6h-1.5zM1137.86 145.83h1.5v1.6h-1.5zM1139.36 145.83h1.5v1.6h-1.5zM1140.86 145.83h1.5v1.6h-1.5zM1142.36 145.83h1.5v1.6h-1.5zM1143.86 145.83h1.5v1.6h-1.5zM1146.86 145.83h1.5v1.6h-1.5zM1030.57 145.83h1.5v1.6h-1.5zM1029.07 145.83h1.5v1.6h-1.5zM1027.57 145.83h1.5v1.6h-1.5zM1023.07 145.83h1.5v1.6h-1.5zM1021.57 145.83h1.5v1.6h-1.5zM1018.57 145.83h1.5v1.6h-1.5zM1017.07 145.83h1.5v1.6h-1.5zM1138.89 143.06h1.5v1.6h-1.5zM1140.39 143.06h1.5v1.6h-1.5zM1143.39 143.06h1.5v1.6h-1.5zM1144.89 143.06h1.5v1.6h-1.5zM1147.89 143.06h1.5v1.6h-1.5zM1150.89 143.06h1.5v1.6h-1.5zM1152.39 143.06h1.5v1.6h-1.5zM1029.03 143.06h1.5v1.6h-1.5zM1027.53 143.06h1.5v1.6h-1.5zM1026.03 143.06h1.5v1.6h-1.5zM1024.53 143.06h1.5v1.6h-1.5zM1023.03 143.06h1.5v1.6h-1.5zM1021.53 143.06h1.5v1.6h-1.5zM1018.53 143.06h1.5v1.6h-1.5zM1015.53 143.06h1.5v1.6h-1.5zM1014.03 143.06h1.5v1.6h-1.5zM1012.53 143.06h1.5v1.6h-1.5zM1011.03 143.06h1.5v1.6h-1.5zM1139.91 140.29h1.5v1.6h-1.5zM1141.41 140.29h1.5v1.6h-1.5zM1142.91 140.29h1.5v1.6h-1.5zM1144.41 140.29h1.5v1.6h-1.5zM1145.91 140.29h1.5v1.6h-1.5zM1147.41 140.29h1.5v1.6h-1.5zM1150.41 140.29h1.5v1.6h-1.5zM1151.91 140.29h1.5v1.6h-1.5zM1154.91 140.29h1.5v1.6h-1.5zM1159.41 140.29h1.5v1.6h-1.5zM1027.48 140.29h1.5v1.6h-1.5zM1025.98 140.29h1.5v1.6h-1.5zM1024.48 140.29h1.5v1.6h-1.5zM1021.48 140.29h1.5v1.6h-1.5zM1019.98 140.29h1.5v1.6h-1.5zM1139.91 137.51h1.5v1.6h-1.5zM1141.41 137.51h1.5v1.6h-1.5zM1144.41 137.51h1.5v1.6h-1.5zM1145.91 137.51h1.5v1.6h-1.5zM1148.91 137.51h1.5v1.6h-1.5zM1150.41 137.51h1.5v1.6h-1.5zM1153.41 137.51h1.5v1.6h-1.5zM1033.65 137.51h1.5v1.6h-1.5zM1032.15 137.51h1.5v1.6h-1.5zM1030.65 137.51h1.5v1.6h-1.5zM1029.15 137.51h1.5v1.6h-1.5zM1027.65 137.51h1.5v1.6h-1.5zM1026.15 137.51h1.5v1.6h-1.5zM1024.65 137.51h1.5v1.6h-1.5zM1023.15 137.51h1.5v1.6h-1.5zM1018.65 137.51h1.5v1.6h-1.5zM1017.15 137.51h1.5v1.6h-1.5zM1015.65 137.51h1.5v1.6h-1.5zM1014.15 137.51h1.5v1.6h-1.5zM1011.15 137.51h1.5v1.6h-1.5zM1139.91 134.74h1.5v1.6h-1.5zM1142.91 134.74h1.5v1.6h-1.5zM1145.91 134.74h1.5v1.6h-1.5zM1147.41 134.74h1.5v1.6h-1.5zM1148.91 134.74h1.5v1.6h-1.5zM1150.41 134.74h1.5v1.6h-1.5zM1039.82 134.74h1.5v1.6h-1.5zM1038.32 134.74h1.5v1.6h-1.5zM1036.82 134.74h1.5v1.6h-1.5zM1035.32 134.74h1.5v1.6h-1.5zM1033.82 134.74h1.5v1.6h-1.5zM1032.32 134.74h1.5v1.6h-1.5zM1030.82 134.74h1.5v1.6h-1.5zM1029.32 134.74h1.5v1.6h-1.5zM1027.82 134.74h1.5v1.6h-1.5zM1026.32 134.74h1.5v1.6h-1.5zM1024.82 134.74h1.5v1.6h-1.5zM1023.32 134.74h1.5v1.6h-1.5zM1021.82 134.74h1.5v1.6h-1.5zM1018.82 134.74h1.5v1.6h-1.5zM1017.32 134.74h1.5v1.6h-1.5zM1011.32 134.74h1.5v1.6h-1.5zM1008.32 134.74h1.5v1.6h-1.5zM1140.68 131.97h1.5v1.6h-1.5zM1142.18 131.97h1.5v1.6h-1.5zM1143.68 131.97h1.5v1.6h-1.5zM1145.18 131.97h1.5v1.6h-1.5zM1146.68 131.97h1.5v1.6h-1.5zM1151.18 131.97h1.5v1.6h-1.5zM1154.18 131.97h1.5v1.6h-1.5zM1043.42 131.97h1.5v1.6h-1.5zM1041.92 131.97h1.5v1.6h-1.5zM1038.92 131.97h1.5v1.6h-1.5zM1037.42 131.97h1.5v1.6h-1.5zM1035.92 131.97h1.5v1.6h-1.5zM1034.42 131.97h1.5v1.6h-1.5zM1032.92 131.97h1.5v1.6h-1.5zM1031.42 131.97h1.5v1.6h-1.5zM1028.42 131.97h1.5v1.6h-1.5zM1025.42 131.97h1.5v1.6h-1.5zM1023.92 131.97h1.5v1.6h-1.5zM1022.42 131.97h1.5v1.6h-1.5zM1020.92 131.97h1.5v1.6h-1.5zM1019.42 131.97h1.5v1.6h-1.5zM1017.92 131.97h1.5v1.6h-1.5zM1014.92 131.97h1.5v1.6h-1.5zM1013.42 131.97h1.5v1.6h-1.5zM1008.92 131.97h1.5v1.6h-1.5zM1005.92 131.97h1.5v1.6h-1.5zM1141.46 129.2h1.5v1.6h-1.5zM1144.46 129.2h1.5v1.6h-1.5zM1145.96 129.2h1.5v1.6h-1.5zM1147.46 129.2h1.5v1.6h-1.5zM1150.46 129.2h1.5v1.6h-1.5zM1151.96 129.2h1.5v1.6h-1.5zM1047.02 129.2h1.5v1.6h-1.5zM1045.52 129.2h1.5v1.6h-1.5zM1044.02 129.2h1.5v1.6h-1.5zM1039.52 129.2h1.5v1.6h-1.5zM1038.02 129.2h1.5v1.6h-1.5zM1035.02 129.2h1.5v1.6h-1.5zM1032.02 129.2h1.5v1.6h-1.5zM1029.02 129.2h1.5v1.6h-1.5zM1027.52 129.2h1.5v1.6h-1.5zM1026.02 129.2h1.5v1.6h-1.5zM1024.52 129.2h1.5v1.6h-1.5zM1023.02 129.2h1.5v1.6h-1.5zM1015.52 129.2h1.5v1.6h-1.5zM1011.02 129.2h1.5v1.6h-1.5zM1009.52 129.2h1.5v1.6h-1.5zM994.52 129.2h1.5v1.6h-1.5zM1142.23 126.43h1.5v1.6h-1.5zM1143.73 126.43h1.5v1.6h-1.5zM1145.23 126.43h1.5v1.6h-1.5zM1146.73 126.43h1.5v1.6h-1.5zM1148.23 126.43h1.5v1.6h-1.5zM1152.73 126.43h1.5v1.6h-1.5zM1154.23 126.43h1.5v1.6h-1.5zM1155.73 126.43h1.5v1.6h-1.5zM1157.23 126.43h1.5v1.6h-1.5zM1050.62 126.43h1.5v1.6h-1.5zM1049.12 126.43h1.5v1.6h-1.5zM1047.62 126.43h1.5v1.6h-1.5zM1046.12 126.43h1.5v1.6h-1.5zM1043.12 126.43h1.5v1.6h-1.5zM1041.62 126.43h1.5v1.6h-1.5zM1040.12 126.43h1.5v1.6h-1.5zM1038.62 126.43h1.5v1.6h-1.5zM1037.12 126.43h1.5v1.6h-1.5zM1035.62 126.43h1.5v1.6h-1.5zM1032.62 126.43h1.5v1.6h-1.5zM1031.12 126.43h1.5v1.6h-1.5zM1029.62 126.43h1.5v1.6h-1.5zM1028.12 126.43h1.5v1.6h-1.5zM1026.62 126.43h1.5v1.6h-1.5zM1023.62 126.43h1.5v1.6h-1.5zM1022.12 126.43h1.5v1.6h-1.5zM1020.62 126.43h1.5v1.6h-1.5zM1014.62 126.43h1.5v1.6h-1.5zM1013.12 126.43h1.5v1.6h-1.5zM1011.62 126.43h1.5v1.6h-1.5zM1010.12 126.43h1.5v1.6h-1.5zM1001.12 126.43h1.5v1.6h-1.5zM999.62 126.43h1.5v1.6h-1.5zM995.12 126.43h1.5v1.6h-1.5zM1137.99 123.66h1.5v1.6h-1.5zM1139.49 123.66h1.5v1.6h-1.5zM1140.99 123.66h1.5v1.6h-1.5zM1142.49 123.66h1.5v1.6h-1.5zM1143.99 123.66h1.5v1.6h-1.5zM1145.49 123.66h1.5v1.6h-1.5zM1146.99 123.66h1.5v1.6h-1.5zM1148.49 123.66h1.5v1.6h-1.5zM1151.49 123.66h1.5v1.6h-1.5zM1154.49 123.66h1.5v1.6h-1.5zM1158.99 123.66h1.5v1.6h-1.5zM1051.85 123.66h1.5v1.6h-1.5zM1050.35 123.66h1.5v1.6h-1.5zM1048.85 123.66h1.5v1.6h-1.5zM1047.35 123.66h1.5v1.6h-1.5zM1044.35 123.66h1.5v1.6h-1.5zM1041.35 123.66h1.5v1.6h-1.5zM1039.85 123.66h1.5v1.6h-1.5zM1038.35 123.66h1.5v1.6h-1.5zM1036.85 123.66h1.5v1.6h-1.5zM1033.85 123.66h1.5v1.6h-1.5zM1029.35 123.66h1.5v1.6h-1.5zM1020.35 123.66h1.5v1.6h-1.5zM1017.35 123.66h1.5v1.6h-1.5zM1015.85 123.66h1.5v1.6h-1.5zM1133.74 120.89h1.5v1.6h-1.5zM1135.24 120.89h1.5v1.6h-1.5zM1136.74 120.89h1.5v1.6h-1.5zM1138.24 120.89h1.5v1.6h-1.5zM1139.74 120.89h1.5v1.6h-1.5zM1141.24 120.89h1.5v1.6h-1.5zM1142.74 120.89h1.5v1.6h-1.5zM1144.24 120.89h1.5v1.6h-1.5zM1145.74 120.89h1.5v1.6h-1.5zM1148.74 120.89h1.5v1.6h-1.5zM1150.24 120.89h1.5v1.6h-1.5zM1151.74 120.89h1.5v1.6h-1.5zM1154.74 120.89h1.5v1.6h-1.5zM1159.24 120.89h1.5v1.6h-1.5zM1160.74 120.89h1.5v1.6h-1.5zM1162.24 120.89h1.5v1.6h-1.5zM1053.09 120.89h1.5v1.6h-1.5zM1048.59 120.89h1.5v1.6h-1.5zM1047.09 120.89h1.5v1.6h-1.5zM1045.59 120.89h1.5v1.6h-1.5zM1044.09 120.89h1.5v1.6h-1.5zM1042.59 120.89h1.5v1.6h-1.5zM1041.09 120.89h1.5v1.6h-1.5zM1039.59 120.89h1.5v1.6h-1.5zM1038.09 120.89h1.5v1.6h-1.5zM1036.59 120.89h1.5v1.6h-1.5zM1033.59 120.89h1.5v1.6h-1.5zM1027.59 120.89h1.5v1.6h-1.5zM1136.31 118.11h1.5v1.6h-1.5zM1137.81 118.11h1.5v1.6h-1.5zM1139.31 118.11h1.5v1.6h-1.5zM1140.81 118.11h1.5v1.6h-1.5zM1142.31 118.11h1.5v1.6h-1.5zM1143.81 118.11h1.5v1.6h-1.5zM1145.31 118.11h1.5v1.6h-1.5zM1146.81 118.11h1.5v1.6h-1.5zM1148.31 118.11h1.5v1.6h-1.5zM1149.81 118.11h1.5v1.6h-1.5zM1154.31 118.11h1.5v1.6h-1.5zM1157.31 118.11h1.5v1.6h-1.5zM1160.31 118.11h1.5v1.6h-1.5zM1054.22 118.11h1.5v1.6h-1.5zM1052.72 118.11h1.5v1.6h-1.5zM1049.72 118.11h1.5v1.6h-1.5zM1048.22 118.11h1.5v1.6h-1.5zM1046.72 118.11h1.5v1.6h-1.5zM1045.22 118.11h1.5v1.6h-1.5zM1043.72 118.11h1.5v1.6h-1.5zM1042.22 118.11h1.5v1.6h-1.5zM1034.72 118.11h1.5v1.6h-1.5zM1030.22 118.11h1.5v1.6h-1.5zM1024.22 118.11h1.5v1.6h-1.5zM1022.72 118.11h1.5v1.6h-1.5zM1021.22 118.11h1.5v1.6h-1.5zM1138.89 115.34h1.5v1.6h-1.5zM1140.39 115.34h1.5v1.6h-1.5zM1141.89 115.34h1.5v1.6h-1.5zM1143.39 115.34h1.5v1.6h-1.5zM1144.89 115.34h1.5v1.6h-1.5zM1146.39 115.34h1.5v1.6h-1.5zM1147.89 115.34h1.5v1.6h-1.5zM1149.39 115.34h1.5v1.6h-1.5zM1150.89 115.34h1.5v1.6h-1.5zM1152.39 115.34h1.5v1.6h-1.5zM1155.39 115.34h1.5v1.6h-1.5zM1156.89 115.34h1.5v1.6h-1.5zM1158.39 115.34h1.5v1.6h-1.5zM1164.39 115.34h1.5v1.6h-1.5zM1055.35 115.34h1.5v1.6h-1.5zM1053.85 115.34h1.5v1.6h-1.5zM1052.35 115.34h1.5v1.6h-1.5zM1050.85 115.34h1.5v1.6h-1.5zM1049.35 115.34h1.5v1.6h-1.5zM1047.85 115.34h1.5v1.6h-1.5zM1046.35 115.34h1.5v1.6h-1.5zM1043.35 115.34h1.5v1.6h-1.5zM1041.85 115.34h1.5v1.6h-1.5zM1040.35 115.34h1.5v1.6h-1.5zM1037.35 115.34h1.5v1.6h-1.5zM1035.85 115.34h1.5v1.6h-1.5zM1034.35 115.34h1.5v1.6h-1.5zM1032.85 115.34h1.5v1.6h-1.5zM1031.35 115.34h1.5v1.6h-1.5zM1029.85 115.34h1.5v1.6h-1.5zM1026.85 115.34h1.5v1.6h-1.5zM1025.35 115.34h1.5v1.6h-1.5zM1023.85 115.34h1.5v1.6h-1.5zM1020.85 115.34h1.5v1.6h-1.5zM1019.35 115.34h1.5v1.6h-1.5zM1017.85 115.34h1.5v1.6h-1.5zM1008.85 115.34h1.5v1.6h-1.5zM1141.46 112.57h1.5v1.6h-1.5zM1142.96 112.57h1.5v1.6h-1.5zM1144.46 112.57h1.5v1.6h-1.5zM1145.96 112.57h1.5v1.6h-1.5zM1148.96 112.57h1.5v1.6h-1.5zM1150.46 112.57h1.5v1.6h-1.5zM1157.96 112.57h1.5v1.6h-1.5zM1056.48 112.57h1.5v1.6h-1.5zM1054.98 112.57h1.5v1.6h-1.5zM1051.98 112.57h1.5v1.6h-1.5zM1050.48 112.57h1.5v1.6h-1.5zM1048.98 112.57h1.5v1.6h-1.5zM1047.48 112.57h1.5v1.6h-1.5zM1045.98 112.57h1.5v1.6h-1.5zM1044.48 112.57h1.5v1.6h-1.5zM1042.98 112.57h1.5v1.6h-1.5zM1041.48 112.57h1.5v1.6h-1.5zM1039.98 112.57h1.5v1.6h-1.5zM1035.48 112.57h1.5v1.6h-1.5zM1033.98 112.57h1.5v1.6h-1.5zM1032.48 112.57h1.5v1.6h-1.5zM1030.98 112.57h1.5v1.6h-1.5zM1029.48 112.57h1.5v1.6h-1.5zM1027.98 112.57h1.5v1.6h-1.5zM1024.98 112.57h1.5v1.6h-1.5zM1023.48 112.57h1.5v1.6h-1.5zM1021.98 112.57h1.5v1.6h-1.5zM1014.48 112.57h1.5v1.6h-1.5zM1012.98 112.57h1.5v1.6h-1.5zM1008.48 112.57h1.5v1.6h-1.5zM1005.48 112.57h1.5v1.6h-1.5zM1142.23 109.8h1.5v1.6h-1.5zM1143.73 109.8h1.5v1.6h-1.5zM1145.23 109.8h1.5v1.6h-1.5zM1146.73 109.8h1.5v1.6h-1.5zM1148.23 109.8h1.5v1.6h-1.5zM1149.73 109.8h1.5v1.6h-1.5zM1152.73 109.8h1.5v1.6h-1.5zM1154.23 109.8h1.5v1.6h-1.5zM1155.73 109.8h1.5v1.6h-1.5zM1157.23 109.8h1.5v1.6h-1.5zM1057.61 109.8h1.5v1.6h-1.5zM1056.11 109.8h1.5v1.6h-1.5zM1054.61 109.8h1.5v1.6h-1.5zM1053.11 109.8h1.5v1.6h-1.5zM1051.61 109.8h1.5v1.6h-1.5zM1048.61 109.8h1.5v1.6h-1.5zM1047.11 109.8h1.5v1.6h-1.5zM1044.11 109.8h1.5v1.6h-1.5zM1041.11 109.8h1.5v1.6h-1.5zM1039.61 109.8h1.5v1.6h-1.5zM1036.61 109.8h1.5v1.6h-1.5zM1035.11 109.8h1.5v1.6h-1.5zM1033.61 109.8h1.5v1.6h-1.5zM1032.11 109.8h1.5v1.6h-1.5zM1030.61 109.8h1.5v1.6h-1.5zM1024.61 109.8h1.5v1.6h-1.5zM1021.61 109.8h1.5v1.6h-1.5zM1018.61 109.8h1.5v1.6h-1.5zM1015.61 109.8h1.5v1.6h-1.5zM1014.11 109.8h1.5v1.6h-1.5zM1012.61 109.8h1.5v1.6h-1.5zM1143 107.03h1.5v1.6h-1.5zM1144.5 107.03h1.5v1.6h-1.5zM1146 107.03h1.5v1.6h-1.5zM1147.5 107.03h1.5v1.6h-1.5zM1149 107.03h1.5v1.6h-1.5zM1150.5 107.03h1.5v1.6h-1.5zM1152 107.03h1.5v1.6h-1.5zM1058.74 107.03h1.5v1.6h-1.5zM1057.24 107.03h1.5v1.6h-1.5zM1055.74 107.03h1.5v1.6h-1.5zM1054.24 107.03h1.5v1.6h-1.5zM1052.74 107.03h1.5v1.6h-1.5zM1051.24 107.03h1.5v1.6h-1.5zM1049.74 107.03h1.5v1.6h-1.5zM1048.24 107.03h1.5v1.6h-1.5zM1045.24 107.03h1.5v1.6h-1.5zM1043.74 107.03h1.5v1.6h-1.5zM1042.24 107.03h1.5v1.6h-1.5zM1040.74 107.03h1.5v1.6h-1.5zM1039.24 107.03h1.5v1.6h-1.5zM1037.74 107.03h1.5v1.6h-1.5zM1036.24 107.03h1.5v1.6h-1.5zM1027.24 107.03h1.5v1.6h-1.5zM1025.74 107.03h1.5v1.6h-1.5zM1024.24 107.03h1.5v1.6h-1.5zM1143.77 104.26h1.5v1.6h-1.5zM1145.27 104.26h1.5v1.6h-1.5zM1146.77 104.26h1.5v1.6h-1.5zM1148.27 104.26h1.5v1.6h-1.5zM1149.77 104.26h1.5v1.6h-1.5zM1154.27 104.26h1.5v1.6h-1.5zM1059.88 104.26h1.5v1.6h-1.5zM1058.38 104.26h1.5v1.6h-1.5zM1056.88 104.26h1.5v1.6h-1.5zM1055.38 104.26h1.5v1.6h-1.5zM1053.88 104.26h1.5v1.6h-1.5zM1052.38 104.26h1.5v1.6h-1.5zM1050.88 104.26h1.5v1.6h-1.5zM1049.38 104.26h1.5v1.6h-1.5zM1047.88 104.26h1.5v1.6h-1.5zM1044.88 104.26h1.5v1.6h-1.5zM1043.38 104.26h1.5v1.6h-1.5zM1040.38 104.26h1.5v1.6h-1.5zM1037.38 104.26h1.5v1.6h-1.5zM1034.38 104.26h1.5v1.6h-1.5zM1032.88 104.26h1.5v1.6h-1.5zM1029.88 104.26h1.5v1.6h-1.5zM1023.88 104.26h1.5v1.6h-1.5zM1147.11 101.49h1.5v1.6h-1.5zM1148.61 101.49h1.5v1.6h-1.5zM1060.9 101.49h1.5v1.6h-1.5zM1059.4 101.49h1.5v1.6h-1.5zM1057.9 101.49h1.5v1.6h-1.5zM1056.4 101.49h1.5v1.6h-1.5zM1054.9 101.49h1.5v1.6h-1.5zM1053.4 101.49h1.5v1.6h-1.5zM1051.9 101.49h1.5v1.6h-1.5zM1050.4 101.49h1.5v1.6h-1.5zM1048.9 101.49h1.5v1.6h-1.5zM1047.4 101.49h1.5v1.6h-1.5zM1045.9 101.49h1.5v1.6h-1.5zM1044.4 101.49h1.5v1.6h-1.5zM1042.9 101.49h1.5v1.6h-1.5zM1041.4 101.49h1.5v1.6h-1.5zM1038.4 101.49h1.5v1.6h-1.5zM1035.4 101.49h1.5v1.6h-1.5zM1030.9 101.49h1.5v1.6h-1.5zM1150.45 98.71h1.5v1.6h-1.5zM1151.95 98.71h1.5v1.6h-1.5zM1153.45 98.71h1.5v1.6h-1.5zM1156.45 98.71h1.5v1.6h-1.5zM1061.93 98.71h1.5v1.6h-1.5zM1060.43 98.71h1.5v1.6h-1.5zM1058.93 98.71h1.5v1.6h-1.5zM1057.43 98.71h1.5v1.6h-1.5zM1055.93 98.71h1.5v1.6h-1.5zM1054.43 98.71h1.5v1.6h-1.5zM1051.43 98.71h1.5v1.6h-1.5zM1049.93 98.71h1.5v1.6h-1.5zM1046.93 98.71h1.5v1.6h-1.5zM1043.93 98.71h1.5v1.6h-1.5zM1042.43 98.71h1.5v1.6h-1.5zM1040.93 98.71h1.5v1.6h-1.5zM1039.43 98.71h1.5v1.6h-1.5zM1037.93 98.71h1.5v1.6h-1.5zM1036.43 98.71h1.5v1.6h-1.5zM1034.93 98.71h1.5v1.6h-1.5zM1033.43 98.71h1.5v1.6h-1.5zM1153.8 95.94h1.5v1.6h-1.5zM1155.3 95.94h1.5v1.6h-1.5zM1156.8 95.94h1.5v1.6h-1.5zM1158.3 95.94h1.5v1.6h-1.5zM1161.3 95.94h1.5v1.6h-1.5zM1062.96 95.94h1.5v1.6h-1.5zM1059.96 95.94h1.5v1.6h-1.5zM1058.46 95.94h1.5v1.6h-1.5zM1056.96 95.94h1.5v1.6h-1.5zM1055.46 95.94h1.5v1.6h-1.5zM1053.96 95.94h1.5v1.6h-1.5zM1052.46 95.94h1.5v1.6h-1.5zM1044.96 95.94h1.5v1.6h-1.5zM1043.46 95.94h1.5v1.6h-1.5zM1041.96 95.94h1.5v1.6h-1.5zM1040.46 95.94h1.5v1.6h-1.5zM1038.96 95.94h1.5v1.6h-1.5zM1037.46 95.94h1.5v1.6h-1.5zM1035.96 95.94h1.5v1.6h-1.5zM1034.46 95.94h1.5v1.6h-1.5zM1031.46 95.94h1.5v1.6h-1.5zM1029.96 95.94h1.5v1.6h-1.5zM1152.25 93.17h1.5v1.6h-1.5zM1158.25 93.17h1.5v1.6h-1.5zM1159.75 93.17h1.5v1.6h-1.5zM1065.02 93.17h1.5v1.6h-1.5zM1063.52 93.17h1.5v1.6h-1.5zM1062.02 93.17h1.5v1.6h-1.5zM1060.52 93.17h1.5v1.6h-1.5zM1059.02 93.17h1.5v1.6h-1.5zM1057.52 93.17h1.5v1.6h-1.5zM1056.02 93.17h1.5v1.6h-1.5zM1051.52 93.17h1.5v1.6h-1.5zM1050.02 93.17h1.5v1.6h-1.5zM1048.52 93.17h1.5v1.6h-1.5zM1047.02 93.17h1.5v1.6h-1.5zM1045.52 93.17h1.5v1.6h-1.5zM1042.52 93.17h1.5v1.6h-1.5zM1036.52 93.17h1.5v1.6h-1.5zM1035.02 93.17h1.5v1.6h-1.5zM1030.52 93.17h1.5v1.6h-1.5zM1027.52 93.17h1.5v1.6h-1.5zM1026.02 93.17h1.5v1.6h-1.5zM1024.52 93.17h1.5v1.6h-1.5zM1023.02 93.17h1.5v1.6h-1.5zM1018.52 93.17h1.5v1.6h-1.5zM1150.71 90.4h1.5v1.6h-1.5zM1152.21 90.4h1.5v1.6h-1.5zM1153.71 90.4h1.5v1.6h-1.5zM1155.21 90.4h1.5v1.6h-1.5zM1067.07 90.4h1.5v1.6h-1.5zM1065.57 90.4h1.5v1.6h-1.5zM1064.07 90.4h1.5v1.6h-1.5zM1062.57 90.4h1.5v1.6h-1.5zM1061.07 90.4h1.5v1.6h-1.5zM1059.57 90.4h1.5v1.6h-1.5zM1058.07 90.4h1.5v1.6h-1.5zM1055.07 90.4h1.5v1.6h-1.5zM1053.57 90.4h1.5v1.6h-1.5zM1052.07 90.4h1.5v1.6h-1.5zM1050.57 90.4h1.5v1.6h-1.5zM1049.07 90.4h1.5v1.6h-1.5zM1047.57 90.4h1.5v1.6h-1.5zM1046.07 90.4h1.5v1.6h-1.5zM1041.57 90.4h1.5v1.6h-1.5zM1038.57 90.4h1.5v1.6h-1.5zM1029.57 90.4h1.5v1.6h-1.5zM1023.57 90.4h1.5v1.6h-1.5zM1022.07 90.4h1.5v1.6h-1.5zM1149.17 87.63h1.5v1.6h-1.5zM1153.67 87.63h1.5v1.6h-1.5zM1155.17 87.63h1.5v1.6h-1.5zM1156.67 87.63h1.5v1.6h-1.5zM1069.13 87.63h1.5v1.6h-1.5zM1067.63 87.63h1.5v1.6h-1.5zM1066.13 87.63h1.5v1.6h-1.5zM1064.63 87.63h1.5v1.6h-1.5zM1063.13 87.63h1.5v1.6h-1.5zM1060.13 87.63h1.5v1.6h-1.5zM1058.63 87.63h1.5v1.6h-1.5zM1057.13 87.63h1.5v1.6h-1.5zM1055.63 87.63h1.5v1.6h-1.5zM1051.13 87.63h1.5v1.6h-1.5zM1049.63 87.63h1.5v1.6h-1.5zM1045.13 87.63h1.5v1.6h-1.5zM1042.13 87.63h1.5v1.6h-1.5zM1040.63 87.63h1.5v1.6h-1.5zM1039.13 87.63h1.5v1.6h-1.5zM1037.63 87.63h1.5v1.6h-1.5zM1036.13 87.63h1.5v1.6h-1.5zM1034.63 87.63h1.5v1.6h-1.5zM1033.13 87.63h1.5v1.6h-1.5zM1030.13 87.63h1.5v1.6h-1.5zM1018.13 87.63h1.5v1.6h-1.5zM1016.63 87.63h1.5v1.6h-1.5zM1152.77 84.86h1.5v1.6h-1.5zM1154.27 84.86h1.5v1.6h-1.5zM1155.77 84.86h1.5v1.6h-1.5zM1158.77 84.86h1.5v1.6h-1.5zM1160.27 84.86h1.5v1.6h-1.5zM1070.67 84.86h1.5v1.6h-1.5zM1069.17 84.86h1.5v1.6h-1.5zM1067.67 84.86h1.5v1.6h-1.5zM1066.17 84.86h1.5v1.6h-1.5zM1064.67 84.86h1.5v1.6h-1.5zM1063.17 84.86h1.5v1.6h-1.5zM1061.67 84.86h1.5v1.6h-1.5zM1058.67 84.86h1.5v1.6h-1.5zM1057.17 84.86h1.5v1.6h-1.5zM1055.67 84.86h1.5v1.6h-1.5zM1054.17 84.86h1.5v1.6h-1.5zM1052.67 84.86h1.5v1.6h-1.5zM1049.67 84.86h1.5v1.6h-1.5zM1046.67 84.86h1.5v1.6h-1.5zM1045.17 84.86h1.5v1.6h-1.5zM1043.67 84.86h1.5v1.6h-1.5zM1039.17 84.86h1.5v1.6h-1.5zM1034.67 84.86h1.5v1.6h-1.5zM1156.37 82.09h1.5v1.6h-1.5zM1157.87 82.09h1.5v1.6h-1.5zM1159.37 82.09h1.5v1.6h-1.5zM1163.87 82.09h1.5v1.6h-1.5zM1165.37 82.09h1.5v1.6h-1.5zM1072.22 82.09h1.5v1.6h-1.5zM1070.72 82.09h1.5v1.6h-1.5zM1067.72 82.09h1.5v1.6h-1.5zM1066.22 82.09h1.5v1.6h-1.5zM1060.22 82.09h1.5v1.6h-1.5zM1058.72 82.09h1.5v1.6h-1.5zM1057.22 82.09h1.5v1.6h-1.5zM1055.72 82.09h1.5v1.6h-1.5zM1052.72 82.09h1.5v1.6h-1.5zM1051.22 82.09h1.5v1.6h-1.5zM1049.72 82.09h1.5v1.6h-1.5zM1046.72 82.09h1.5v1.6h-1.5zM1042.22 82.09h1.5v1.6h-1.5zM1159.97 79.31h1.5v1.6h-1.5zM1161.47 79.31h1.5v1.6h-1.5zM1162.97 79.31h1.5v1.6h-1.5zM1164.47 79.31h1.5v1.6h-1.5zM1167.47 79.31h1.5v1.6h-1.5zM1073.76 79.31h1.5v1.6h-1.5zM1072.26 79.31h1.5v1.6h-1.5zM1070.76 79.31h1.5v1.6h-1.5zM1069.26 79.31h1.5v1.6h-1.5zM1067.76 79.31h1.5v1.6h-1.5zM1066.26 79.31h1.5v1.6h-1.5zM1064.76 79.31h1.5v1.6h-1.5zM1063.26 79.31h1.5v1.6h-1.5zM1061.76 79.31h1.5v1.6h-1.5zM1058.76 79.31h1.5v1.6h-1.5zM1057.26 79.31h1.5v1.6h-1.5zM1055.76 79.31h1.5v1.6h-1.5zM1048.26 79.31h1.5v1.6h-1.5zM1160.69 76.54h1.5v1.6h-1.5zM1162.19 76.54h1.5v1.6h-1.5zM1163.69 76.54h1.5v1.6h-1.5zM1165.19 76.54h1.5v1.6h-1.5zM1166.69 76.54h1.5v1.6h-1.5zM1168.19 76.54h1.5v1.6h-1.5zM1169.69 76.54h1.5v1.6h-1.5zM1073.56 76.54h1.5v1.6h-1.5zM1072.06 76.54h1.5v1.6h-1.5zM1070.56 76.54h1.5v1.6h-1.5zM1069.06 76.54h1.5v1.6h-1.5zM1064.56 76.54h1.5v1.6h-1.5zM1063.06 76.54h1.5v1.6h-1.5zM1061.56 76.54h1.5v1.6h-1.5zM1060.06 76.54h1.5v1.6h-1.5zM1058.56 76.54h1.5v1.6h-1.5zM1057.06 76.54h1.5v1.6h-1.5zM1048.06 76.54h1.5v1.6h-1.5zM1046.56 76.54h1.5v1.6h-1.5zM1158.42 73.77h1.5v1.6h-1.5zM1159.92 73.77h1.5v1.6h-1.5zM1161.42 73.77h1.5v1.6h-1.5zM1162.92 73.77h1.5v1.6h-1.5zM1164.42 73.77h1.5v1.6h-1.5zM1165.92 73.77h1.5v1.6h-1.5zM1167.42 73.77h1.5v1.6h-1.5zM1168.92 73.77h1.5v1.6h-1.5zM1073.37 73.77h1.5v1.6h-1.5zM1071.87 73.77h1.5v1.6h-1.5zM1070.37 73.77h1.5v1.6h-1.5zM1068.87 73.77h1.5v1.6h-1.5zM1067.37 73.77h1.5v1.6h-1.5zM1065.87 73.77h1.5v1.6h-1.5zM1064.37 73.77h1.5v1.6h-1.5zM1062.87 73.77h1.5v1.6h-1.5zM1061.37 73.77h1.5v1.6h-1.5zM1059.87 73.77h1.5v1.6h-1.5zM1053.87 73.77h1.5v1.6h-1.5zM1049.37 73.77h1.5v1.6h-1.5zM1159.15 71h1.5v1.6h-1.5zM1160.65 71h1.5v1.6h-1.5zM1162.15 71h1.5v1.6h-1.5zM1163.65 71h1.5v1.6h-1.5zM1165.15 71h1.5v1.6h-1.5zM1168.15 71h1.5v1.6h-1.5zM1171.15 71h1.5v1.6h-1.5zM1073.18 71h1.5v1.6h-1.5zM1071.68 71h1.5v1.6h-1.5zM1070.18 71h1.5v1.6h-1.5zM1068.68 71h1.5v1.6h-1.5zM1067.18 71h1.5v1.6h-1.5zM1065.68 71h1.5v1.6h-1.5zM1062.68 71h1.5v1.6h-1.5zM1059.68 71h1.5v1.6h-1.5zM1056.68 71h1.5v1.6h-1.5zM1053.68 71h1.5v1.6h-1.5zM1052.18 71h1.5v1.6h-1.5zM1050.68 71h1.5v1.6h-1.5zM1046.18 71h1.5v1.6h-1.5zM1156.88 68.23h1.5v1.6h-1.5zM1158.38 68.23h1.5v1.6h-1.5zM1159.88 68.23h1.5v1.6h-1.5zM1161.38 68.23h1.5v1.6h-1.5zM1164.38 68.23h1.5v1.6h-1.5zM1165.88 68.23h1.5v1.6h-1.5zM1071.49 68.23h1.5v1.6h-1.5zM1069.99 68.23h1.5v1.6h-1.5zM1066.99 68.23h1.5v1.6h-1.5zM1065.49 68.23h1.5v1.6h-1.5zM1062.49 68.23h1.5v1.6h-1.5zM1060.99 68.23h1.5v1.6h-1.5zM1059.49 68.23h1.5v1.6h-1.5zM1057.99 68.23h1.5v1.6h-1.5zM1056.49 68.23h1.5v1.6h-1.5zM1054.99 68.23h1.5v1.6h-1.5zM1053.49 68.23h1.5v1.6h-1.5zM1044.49 68.23h1.5v1.6h-1.5zM1156.88 65.46h1.5v1.6h-1.5zM1158.38 65.46h1.5v1.6h-1.5zM1159.88 65.46h1.5v1.6h-1.5zM1161.38 65.46h1.5v1.6h-1.5zM1162.88 65.46h1.5v1.6h-1.5zM1164.38 65.46h1.5v1.6h-1.5zM1168.88 65.46h1.5v1.6h-1.5zM1074.68 65.46h1.5v1.6h-1.5zM1073.18 65.46h1.5v1.6h-1.5zM1071.68 65.46h1.5v1.6h-1.5zM1070.18 65.46h1.5v1.6h-1.5zM1067.18 65.46h1.5v1.6h-1.5zM1065.68 65.46h1.5v1.6h-1.5zM1064.18 65.46h1.5v1.6h-1.5zM1062.68 65.46h1.5v1.6h-1.5zM1061.18 65.46h1.5v1.6h-1.5zM1059.68 65.46h1.5v1.6h-1.5zM1056.68 65.46h1.5v1.6h-1.5zM1053.68 65.46h1.5v1.6h-1.5zM1050.68 65.46h1.5v1.6h-1.5zM1044.68 65.46h1.5v1.6h-1.5zM1156.88 62.69h1.5v1.6h-1.5zM1158.38 62.69h1.5v1.6h-1.5zM1159.88 62.69h1.5v1.6h-1.5zM1162.88 62.69h1.5v1.6h-1.5zM1164.38 62.69h1.5v1.6h-1.5zM1165.88 62.69h1.5v1.6h-1.5zM1074.88 62.69h1.5v1.6h-1.5zM1073.38 62.69h1.5v1.6h-1.5zM1071.88 62.69h1.5v1.6h-1.5zM1068.88 62.69h1.5v1.6h-1.5zM1067.38 62.69h1.5v1.6h-1.5zM1065.88 62.69h1.5v1.6h-1.5zM1064.38 62.69h1.5v1.6h-1.5zM1062.88 62.69h1.5v1.6h-1.5zM1056.88 62.69h1.5v1.6h-1.5zM1156.88 59.91h1.5v1.6h-1.5zM1158.38 59.91h1.5v1.6h-1.5zM1159.88 59.91h1.5v1.6h-1.5zM1161.38 59.91h1.5v1.6h-1.5zM1164.38 59.91h1.5v1.6h-1.5zM1168.88 59.91h1.5v1.6h-1.5zM1078.08 59.91h1.5v1.6h-1.5zM1076.58 59.91h1.5v1.6h-1.5zM1075.08 59.91h1.5v1.6h-1.5zM1073.58 59.91h1.5v1.6h-1.5zM1066.08 59.91h1.5v1.6h-1.5zM1064.58 59.91h1.5v1.6h-1.5zM1063.08 59.91h1.5v1.6h-1.5zM1061.58 59.91h1.5v1.6h-1.5zM1060.08 59.91h1.5v1.6h-1.5zM1054.08 59.91h1.5v1.6h-1.5zM1167.29 57.14h1.5v1.6h-1.5zM1168.79 57.14h1.5v1.6h-1.5zM1170.29 57.14h1.5v1.6h-1.5zM1171.79 57.14h1.5v1.6h-1.5zM1079.77 57.14h1.5v1.6h-1.5zM1076.77 57.14h1.5v1.6h-1.5zM1075.27 57.14h1.5v1.6h-1.5zM1073.77 57.14h1.5v1.6h-1.5zM1072.27 57.14h1.5v1.6h-1.5zM1070.77 57.14h1.5v1.6h-1.5zM1067.77 57.14h1.5v1.6h-1.5zM1177.7 54.37h1.5v1.6h-1.5zM1179.2 54.37h1.5v1.6h-1.5zM1081.47 54.37h1.5v1.6h-1.5zM1079.97 54.37h1.5v1.6h-1.5z" fill="#5a5aa0" fill-opacity="0.85"/><path d="M952.2 207.6 L952.97 207.6 L953.74 207.6 L954.51 207.6 L955.29 207.6 L956.06 207.6 L956.83 207.6 L957.6 207.6 L958.37 207.6 L959.14 207.6 L959.91 207.6 L960.68 207.6 L961.46 207.6 L962.23 207.6 L963 207.6 L963.77 207.6 L964.54 207.6 L965.31 207.6 L966.08 207.6 L966.85 207.6 L967.62 207.6 L968.4 207.6 L969.17 207.6 L969.94 207.6 L970.71 207.6 L971.48 207.6 L972.25 207.6 L973.02 207.6 L973.79 207.6 L974.57 207.6 L975.34 207.6 L976.11 207.6 L976.88 207.6 L977.65 207.6 L978.42 207.6 L979.19 207.6 L979.96 207.6 L980.74 207.6 L981.51 207.6 L982.28 207.6 L983.05 207.6 L983.82 207.6 L984.59 207.6 L985.36 207.6 L986.13 207.6 L986.91 207.6 L987.68 207.6 L988.45 207.6 L989.22 207.6 L989.99 207.6 L990.76 207.6 L991.53 207.6 L992.3 207.6 L993.08 207.6 L993.85 207.6 L994.62 207.6 L995.39 207.6 L996.16 207.6 L996.93 207.6 L997.7 207.6 L998.47 207.6 L999.25 207.6 L1000.02 207.59 L1000.79 207.59 L1001.56 207.59 L1002.33 207.59 L1003.1 207.59 L1003.87 207.59 L1004.64 207.59 L1005.42 207.59 L1006.19 207.59 L1006.96 207.59 L1007.73 207.59 L1008.5 207.59 L1009.27 207.58 L1010.04 207.58 L1010.81 207.58 L1011.59 207.58 L1012.36 207.58 L1013.13 207.58 L1013.9 207.57 L1014.67 207.57 L1015.44 207.57 L1016.21 207.56 L1016.98 207.56 L1017.76 207.56 L1018.53 207.55 L1019.3 207.55 L1020.07 207.54 L1020.84 207.54 L1021.61 207.53 L1022.38 207.52 L1023.15 207.52 L1023.93 207.51 L1024.7 207.5 L1025.47 207.49 L1026.24 207.48 L1027.01 207.47 L1027.78 207.46 L1028.55 207.44 L1029.32 207.43 L1030.1 207.41 L1030.87 207.39 L1031.64 207.37 L1032.41 207.35 L1033.18 207.32 L1033.95 207.3 L1034.72 207.27 L1035.49 207.23 L1036.27 207.2 L1037.04 207.16 L1037.81 207.12 L1038.58 207.07 L1039.35 207.02 L1040.12 206.96 L1040.89 206.9 L1041.66 206.84 L1042.44 206.76 L1043.21 206.68 L1043.98 206.59 L1044.75 206.5 L1045.52 206.39 L1046.29 206.27 L1047.06 206.15 L1047.83 206.01 L1048.61 205.85 L1049.38 205.69 L1050.15 205.5 L1050.92 205.3 L1051.69 205.08 L1052.46 204.84 L1053.23 204.58 L1054 204.3 L1054.78 203.98 L1055.55 203.64 L1056.32 203.27 L1057.09 202.86 L1057.86 202.41 L1058.63 201.93 L1059.4 201.4 L1060.17 200.83 L1060.95 200.2 L1061.72 199.52 L1062.49 198.78 L1063.26 197.98 L1064.03 197.11 L1064.8 196.16 L1065.57 195.14 L1066.35 194.04 L1067.12 192.85 L1067.89 191.56 L1068.66 190.18 L1069.43 188.7 L1070.2 187.1 L1070.97 185.4 L1071.74 183.57 L1072.52 181.63 L1073.29 179.56 L1074.06 177.37 L1074.83 175.05 L1075.6 172.6 L1076.37 170.02 L1077.14 167.32 L1077.91 164.49 L1078.69 161.54 L1079.46 158.48 L1080.23 155.31 L1081 152.05 L1081.77 148.69 L1082.54 145.26 L1083.31 141.76 L1084.08 138.22 L1084.86 134.63 L1085.63 131.03 L1086.4 127.42 L1087.17 123.82 L1087.94 120.24 L1088.71 116.7 L1089.48 113.22 L1090.25 109.8 L1091.03 106.46 L1091.8 103.21 L1092.57 100.07 L1093.34 97.03 L1094.11 94.1 L1094.88 91.3 L1095.65 88.62 L1096.42 86.07 L1097.2 83.64 L1097.97 81.35 L1098.74 79.18 L1099.51 77.14 L1100.28 75.22 L1101.05 73.42 L1101.82 71.74 L1102.59 70.17 L1103.37 68.7 L1104.14 67.34 L1104.91 66.08 L1105.68 64.9 L1106.45 63.82 L1107.22 62.81 L1107.99 61.88 L1108.76 61.03 L1109.54 60.24 L1110.31 59.51 L1111.08 58.84 L1111.85 58.22 L1112.62 57.66 L1113.39 57.14 L1114.16 56.66 L1114.93 56.23 L1115.71 55.82 L1116.48 55.46 L1117.25 55.12 L1118.02 54.81 L1118.79 54.53 L1119.56 54.27 L1120.33 54.04 L1121.1 53.82 L1121.88 53.63 L1122.65 53.45 L1123.42 53.28 L1124.19 53.13 L1124.96 53 L1125.73 52.87 L1126.5 52.76 L1127.27 52.65 L1128.05 52.56 L1128.82 52.47 L1129.59 52.39 L1130.36 52.32 L1131.13 52.25 L1131.9 52.19 L1132.67 52.14 L1133.44 52.09 L1134.22 52.04 L1134.99 52 L1135.76 51.96 L1136.53 51.93 L1137.3 51.9 L1138.07 51.87 L1138.84 51.84 L1139.61 51.82 L1140.39 51.79 L1141.16 51.77 L1141.93 51.76 L1142.7 51.74 L1143.47 51.72 L1144.24 51.71 L1145.01 51.7 L1145.78 51.69 L1146.56 51.68 L1147.33 51.67 L1148.1 51.66 L1148.87 51.65 L1149.64 51.64 L1150.41 51.64 L1151.18 51.63 L1151.95 51.62 L1152.73 51.62 L1153.5 51.62 L1154.27 51.61 L1155.04 51.61 L1155.81 51.6 L1156.58 51.6 L1157.35 51.6 L1158.12 51.6 L1158.9 51.59 L1159.67 51.59 L1160.44 51.59 L1161.21 51.59 L1161.98 51.59 L1162.75 51.58 L1163.52 51.58 L1164.29 51.58 L1165.07 51.58 L1165.84 51.58 L1166.61 51.58 L1167.38 51.58 L1168.15 51.58 L1168.92 51.58 L1169.69 51.58 L1170.46 51.57 L1171.24 51.57 L1172.01 51.57 L1172.78 51.57 L1173.55 51.57 L1174.32 51.57 L1175.09 51.57 L1175.86 51.57 L1176.63 51.57 L1177.41 51.57 L1178.18 51.57 L1178.95 51.57 L1179.72 51.57 L1180.49 51.57 L1181.26 51.57 L1182.03 51.57 L1182.8 51.57 L1183.58 51.57 L1184.35 51.57 L1185.12 51.57 L1185.89 51.57 L1186.66 51.57 L1187.43 51.57 L1188.2 51.57 L1188.97 51.57 L1189.75 51.57 L1190.52 51.57 L1191.29 51.57 L1192.06 51.57 L1192.83 51.57 L1193.6 51.57 L1194.37 51.57 L1195.14 51.57 L1195.92 51.57 L1196.69 51.57 L1197.46 51.57 L1198.23 51.57 L1199 51.57" fill="none" stroke="#d93c72" stroke-width="1.6" stroke-dasharray="3 2.4"/><rect x="952.2" y="33" width="246.8" height="193.5" fill="none" stroke="#d2d2d2" stroke-width="1.3"/><path d="M983.05 226.5v-2.5M983.05 33v2.5M1013.9 226.5v-2.5M1013.9 33v2.5M1044.75 226.5v-2.5M1044.75 33v2.5M1075.6 226.5v-2.5M1075.6 33v2.5M1106.45 226.5v-2.5M1106.45 33v2.5M1137.3 226.5v-2.5M1137.3 33v2.5M1168.15 226.5v-2.5M1168.15 33v2.5M952.2 199.29h2.5M1199 199.29h-2.5M952.2 171.57h2.5M1199 171.57h-2.5M952.2 143.86h2.5M1199 143.86h-2.5M952.2 116.14h2.5M1199 116.14h-2.5M952.2 88.43h2.5M1199 88.43h-2.5M952.2 60.71h2.5M1199 60.71h-2.5" stroke="#c4c4c4" stroke-width="1" fill="none"/><g font-family="Liberation Sans, sans-serif" font-size="25.3" fill="#111"><text x="949.9" y="67.26" text-anchor="end">60</text><text x="949.9" y="122.69" text-anchor="end">40</text><text x="949.9" y="178.12" text-anchor="end">20</text><text x="949.9" y="226.95" text-anchor="end">0</text></g><text x="1036.7" y="24" font-family="Liberation Sans, sans-serif" font-size="32.7" fill="#000">Asia</text></g><g><rect x="1247.3" y="214.75" width="126.18" height="2.0" fill="url(#gNA4)" fill-opacity="0.93"/><rect x="1247.3" y="211.99" width="147.72" height="2.0" fill="url(#gNA5)" fill-opacity="0.9"/><rect x="1247.3" y="209.23" width="147.72" height="2.0" fill="url(#gNA6)" fill-opacity="0.86"/><rect x="1247.3" y="206.47" width="147.72" height="2.0" fill="url(#gNA7)" fill-opacity="0.9"/><rect x="1247.3" y="203.71" width="149.26" height="2.0" fill="url(#gNA8)" fill-opacity="0.88"/><rect x="1261.92" y="200.95" width="136.18" height="2.0" fill="url(#gNA9)" fill-opacity="0.85"/><rect x="1266.46" y="198.19" width="138.33" height="2.0" fill="url(#gNA10)" fill-opacity="0.93"/><rect x="1271" y="195.42" width="140.49" height="2.0" fill="url(#gNA11)" fill-opacity="0.91"/><rect x="1271" y="192.66" width="134.56" height="2.0" fill="url(#gNA12)" fill-opacity="0.89"/><rect x="1271" y="189.9" width="128.64" height="2.0" fill="url(#gNA13)" fill-opacity="0.86"/><rect x="1271" y="187.14" width="131.26" height="2.0" fill="url(#gNA14)" fill-opacity="0.9"/><rect x="1271" y="184.38" width="133.87" height="2.0" fill="url(#gNA15)" fill-opacity="0.94"/><rect x="1271" y="181.62" width="138.18" height="2.0" fill="url(#gNA16)" fill-opacity="0.92"/><rect x="1271" y="178.86" width="142.49" height="2.0" fill="url(#gNA17)" fill-opacity="0.94"/><rect x="1291.92" y="176.09" width="116.95" height="2.0" fill="url(#gNA18)" fill-opacity="0.85"/><rect x="1301.16" y="173.33" width="103.71" height="2.0" fill="#9898d0" fill-opacity="0.87"/><rect x="1305.77" y="170.57" width="103.1" height="2.0" fill="#9898d0" fill-opacity="0.92"/><rect x="1311.16" y="167.81" width="99.02" height="2.0" fill="#9898d0" fill-opacity="0.9"/><rect x="1316.54" y="165.05" width="94.94" height="2.0" fill="#9898d0" fill-opacity="1"/><rect x="1320.49" y="162.29" width="90.99" height="2.0" fill="#9898d0" fill-opacity="0.96"/><rect x="1324.44" y="159.53" width="87.04" height="2.0" fill="#9898d0" fill-opacity="0.91"/><rect x="1328.39" y="156.76" width="83.09" height="2.0" fill="#9898d0" fill-opacity="0.91"/><rect x="1331.62" y="154" width="80.53" height="2.0" fill="#9898d0" fill-opacity="0.98"/><rect x="1334.85" y="151.24" width="77.96" height="2.0" fill="#9898d0" fill-opacity="0.85"/><rect x="1338.09" y="148.48" width="75.4" height="2.0" fill="#9898d0" fill-opacity="0.86"/><rect x="1341.52" y="145.72" width="71.3" height="2.0" fill="#9898d0" fill-opacity="0.92"/><rect x="1344.96" y="142.96" width="67.19" height="2.0" fill="#9898d0" fill-opacity="0.95"/><rect x="1348.4" y="140.2" width="63.09" height="2.0" fill="#9898d0" fill-opacity="0.87"/><rect x="1349.17" y="137.43" width="63.32" height="2.0" fill="#9898d0" fill-opacity="0.98"/><rect x="1349.93" y="134.67" width="63.55" height="2.0" fill="#9898d0" fill-opacity="0.92"/><rect x="1351.11" y="131.91" width="62.88" height="2.0" fill="#9898d0" fill-opacity="0.88"/><rect x="1352.29" y="129.15" width="62.22" height="2.0" fill="#9898d0" fill-opacity="0.95"/><rect x="1353.47" y="126.39" width="61.55" height="2.0" fill="#9898d0" fill-opacity="0.98"/><rect x="1357.09" y="123.63" width="57.93" height="2.0" fill="#9898d0" fill-opacity="0.89"/><rect x="1360.71" y="120.87" width="54.32" height="2.0" fill="#9898d0" fill-opacity="0.93"/><rect x="1361.58" y="118.1" width="53.96" height="2.0" fill="#9898d0" fill-opacity="0.92"/><rect x="1362.45" y="115.34" width="53.6" height="2.0" fill="#9898d0" fill-opacity="0.92"/><rect x="1363.32" y="112.58" width="53.24" height="2.0" fill="#9898d0" fill-opacity="0.86"/><rect x="1363.89" y="109.82" width="52.68" height="2.0" fill="#9898d0" fill-opacity="0.94"/><rect x="1364.45" y="107.06" width="52.11" height="2.0" fill="#9898d0" fill-opacity="0.98"/><rect x="1365.01" y="104.3" width="51.55" height="2.0" fill="#9898d0" fill-opacity="0.86"/><rect x="1366.09" y="101.54" width="51.5" height="2.0" fill="#9898d0" fill-opacity="0.91"/><rect x="1367.17" y="98.77" width="51.45" height="2.0" fill="#9898d0" fill-opacity="0.95"/><rect x="1368.25" y="96.01" width="51.39" height="2.0" fill="#9898d0" fill-opacity="0.9"/><rect x="1368.96" y="93.25" width="51.19" height="2.0" fill="#9898d0" fill-opacity="0.97"/><rect x="1369.68" y="90.49" width="50.98" height="2.0" fill="#9898d0" fill-opacity="0.97"/><rect x="1370.4" y="87.73" width="50.78" height="2.0" fill="#9898d0" fill-opacity="0.96"/><rect x="1370.81" y="84.97" width="49.86" height="2.0" fill="#9898d0" fill-opacity="0.89"/><rect x="1371.22" y="82.21" width="48.93" height="2.0" fill="#9898d0" fill-opacity="0.91"/><rect x="1371.63" y="79.44" width="48.01" height="2.0" fill="#9898d0" fill-opacity="0.92"/><rect x="1372.86" y="76.68" width="46.78" height="2.0" fill="#9898d0" fill-opacity="0.99"/><rect x="1374.09" y="73.92" width="45.55" height="2.0" fill="#9898d0" fill-opacity="0.91"/><rect x="1375.32" y="71.16" width="44.32" height="2.0" fill="#9898d0" fill-opacity="0.92"/><rect x="1376.56" y="68.4" width="43.08" height="2.0" fill="#9898d0" fill-opacity="0.98"/><rect x="1376.04" y="65.64" width="46.98" height="2.0" fill="#9898d0" fill-opacity="0.98"/><rect x="1375.53" y="62.88" width="50.88" height="2.0" fill="#9898d0" fill-opacity="0.95"/><rect x="1375.02" y="60.11" width="54.78" height="2.0" fill="#9898d0" fill-opacity="0.93"/><rect x="1377.02" y="57.35" width="57.32" height="2.0" fill="#9898d0" fill-opacity="1"/><rect x="1379.02" y="54.59" width="59.86" height="2.0" fill="#9898d0" fill-opacity="0.88"/><rect x="1385.79" y="51.83" width="29.24" height="2.0" fill="#6a6aa6" fill-opacity="1"/><path d="M1373.78 214.95h1.5v1.6h-1.5zM1376.78 214.95h1.5v1.6h-1.5zM1381.28 214.95h1.5v1.6h-1.5zM1395.32 212.19h1.5v1.6h-1.5zM1396.82 212.19h1.5v1.6h-1.5zM1398.32 212.19h1.5v1.6h-1.5zM1395.32 209.43h1.5v1.6h-1.5zM1396.82 209.43h1.5v1.6h-1.5zM1398.32 209.43h1.5v1.6h-1.5zM1399.82 209.43h1.5v1.6h-1.5zM1401.32 209.43h1.5v1.6h-1.5zM1402.82 209.43h1.5v1.6h-1.5zM1404.32 209.43h1.5v1.6h-1.5zM1405.82 209.43h1.5v1.6h-1.5zM1407.32 209.43h1.5v1.6h-1.5zM1395.32 206.67h1.5v1.6h-1.5zM1396.82 206.67h1.5v1.6h-1.5zM1398.32 206.67h1.5v1.6h-1.5zM1399.82 206.67h1.5v1.6h-1.5zM1402.82 206.67h1.5v1.6h-1.5zM1404.32 206.67h1.5v1.6h-1.5zM1405.82 206.67h1.5v1.6h-1.5zM1408.82 206.67h1.5v1.6h-1.5zM1396.86 203.91h1.5v1.6h-1.5zM1398.36 203.91h1.5v1.6h-1.5zM1399.86 203.91h1.5v1.6h-1.5zM1401.36 203.91h1.5v1.6h-1.5zM1402.86 203.91h1.5v1.6h-1.5zM1408.86 203.91h1.5v1.6h-1.5zM1413.36 203.91h1.5v1.6h-1.5zM1398.4 201.15h1.5v1.6h-1.5zM1399.9 201.15h1.5v1.6h-1.5zM1401.4 201.15h1.5v1.6h-1.5zM1402.9 201.15h1.5v1.6h-1.5zM1404.4 201.15h1.5v1.6h-1.5zM1405.9 201.15h1.5v1.6h-1.5zM1407.4 201.15h1.5v1.6h-1.5zM1416.4 201.15h1.5v1.6h-1.5zM1423.9 201.15h1.5v1.6h-1.5zM1425.4 201.15h1.5v1.6h-1.5zM1261.62 201.15h1.5v1.6h-1.5zM1260.12 201.15h1.5v1.6h-1.5zM1258.62 201.15h1.5v1.6h-1.5zM1257.12 201.15h1.5v1.6h-1.5zM1255.62 201.15h1.5v1.6h-1.5zM1405.09 198.39h1.5v1.6h-1.5zM1406.59 198.39h1.5v1.6h-1.5zM1408.09 198.39h1.5v1.6h-1.5zM1411.09 198.39h1.5v1.6h-1.5zM1414.09 198.39h1.5v1.6h-1.5zM1415.59 198.39h1.5v1.6h-1.5zM1417.09 198.39h1.5v1.6h-1.5zM1420.09 198.39h1.5v1.6h-1.5zM1423.09 198.39h1.5v1.6h-1.5zM1424.59 198.39h1.5v1.6h-1.5zM1266.16 198.39h1.5v1.6h-1.5zM1264.66 198.39h1.5v1.6h-1.5zM1263.16 198.39h1.5v1.6h-1.5zM1261.66 198.39h1.5v1.6h-1.5zM1260.16 198.39h1.5v1.6h-1.5zM1252.66 198.39h1.5v1.6h-1.5zM1411.78 195.62h1.5v1.6h-1.5zM1414.78 195.62h1.5v1.6h-1.5zM1416.28 195.62h1.5v1.6h-1.5zM1417.78 195.62h1.5v1.6h-1.5zM1422.28 195.62h1.5v1.6h-1.5zM1270.7 195.62h1.5v1.6h-1.5zM1269.2 195.62h1.5v1.6h-1.5zM1267.7 195.62h1.5v1.6h-1.5zM1264.7 195.62h1.5v1.6h-1.5zM1263.2 195.62h1.5v1.6h-1.5zM1261.7 195.62h1.5v1.6h-1.5zM1258.7 195.62h1.5v1.6h-1.5zM1257.2 195.62h1.5v1.6h-1.5zM1405.86 192.86h1.5v1.6h-1.5zM1407.36 192.86h1.5v1.6h-1.5zM1408.86 192.86h1.5v1.6h-1.5zM1410.36 192.86h1.5v1.6h-1.5zM1413.36 192.86h1.5v1.6h-1.5zM1419.36 192.86h1.5v1.6h-1.5zM1270.7 192.86h1.5v1.6h-1.5zM1269.2 192.86h1.5v1.6h-1.5zM1266.2 192.86h1.5v1.6h-1.5zM1264.7 192.86h1.5v1.6h-1.5zM1263.2 192.86h1.5v1.6h-1.5zM1260.2 192.86h1.5v1.6h-1.5zM1399.94 190.1h1.5v1.6h-1.5zM1402.94 190.1h1.5v1.6h-1.5zM1408.94 190.1h1.5v1.6h-1.5zM1410.44 190.1h1.5v1.6h-1.5zM1413.44 190.1h1.5v1.6h-1.5zM1414.94 190.1h1.5v1.6h-1.5zM1417.94 190.1h1.5v1.6h-1.5zM1402.55 187.34h1.5v1.6h-1.5zM1404.05 187.34h1.5v1.6h-1.5zM1405.55 187.34h1.5v1.6h-1.5zM1407.05 187.34h1.5v1.6h-1.5zM1408.55 187.34h1.5v1.6h-1.5zM1410.05 187.34h1.5v1.6h-1.5zM1411.55 187.34h1.5v1.6h-1.5zM1413.05 187.34h1.5v1.6h-1.5zM1425.05 187.34h1.5v1.6h-1.5zM1405.17 184.58h1.5v1.6h-1.5zM1406.67 184.58h1.5v1.6h-1.5zM1408.17 184.58h1.5v1.6h-1.5zM1409.67 184.58h1.5v1.6h-1.5zM1411.17 184.58h1.5v1.6h-1.5zM1412.67 184.58h1.5v1.6h-1.5zM1414.17 184.58h1.5v1.6h-1.5zM1415.67 184.58h1.5v1.6h-1.5zM1418.67 184.58h1.5v1.6h-1.5zM1423.17 184.58h1.5v1.6h-1.5zM1429.17 184.58h1.5v1.6h-1.5zM1409.48 181.82h1.5v1.6h-1.5zM1410.98 181.82h1.5v1.6h-1.5zM1412.48 181.82h1.5v1.6h-1.5zM1413.98 181.82h1.5v1.6h-1.5zM1415.48 181.82h1.5v1.6h-1.5zM1419.98 181.82h1.5v1.6h-1.5zM1424.48 181.82h1.5v1.6h-1.5zM1427.48 181.82h1.5v1.6h-1.5zM1413.78 179.06h1.5v1.6h-1.5zM1415.28 179.06h1.5v1.6h-1.5zM1416.78 179.06h1.5v1.6h-1.5zM1422.78 179.06h1.5v1.6h-1.5zM1409.17 176.29h1.5v1.6h-1.5zM1410.67 176.29h1.5v1.6h-1.5zM1412.17 176.29h1.5v1.6h-1.5zM1413.67 176.29h1.5v1.6h-1.5zM1415.17 176.29h1.5v1.6h-1.5zM1416.67 176.29h1.5v1.6h-1.5zM1418.17 176.29h1.5v1.6h-1.5zM1419.67 176.29h1.5v1.6h-1.5zM1422.67 176.29h1.5v1.6h-1.5zM1424.17 176.29h1.5v1.6h-1.5zM1428.67 176.29h1.5v1.6h-1.5zM1291.62 176.29h1.5v1.6h-1.5zM1290.12 176.29h1.5v1.6h-1.5zM1287.12 176.29h1.5v1.6h-1.5zM1285.62 176.29h1.5v1.6h-1.5zM1282.62 176.29h1.5v1.6h-1.5zM1281.12 176.29h1.5v1.6h-1.5zM1279.62 176.29h1.5v1.6h-1.5zM1405.17 173.53h1.5v1.6h-1.5zM1406.67 173.53h1.5v1.6h-1.5zM1408.17 173.53h1.5v1.6h-1.5zM1409.67 173.53h1.5v1.6h-1.5zM1412.67 173.53h1.5v1.6h-1.5zM1414.17 173.53h1.5v1.6h-1.5zM1415.67 173.53h1.5v1.6h-1.5zM1417.17 173.53h1.5v1.6h-1.5zM1420.17 173.53h1.5v1.6h-1.5zM1421.67 173.53h1.5v1.6h-1.5zM1423.17 173.53h1.5v1.6h-1.5zM1432.17 173.53h1.5v1.6h-1.5zM1300.86 173.53h1.5v1.6h-1.5zM1299.36 173.53h1.5v1.6h-1.5zM1297.86 173.53h1.5v1.6h-1.5zM1296.36 173.53h1.5v1.6h-1.5zM1293.36 173.53h1.5v1.6h-1.5zM1291.86 173.53h1.5v1.6h-1.5zM1290.36 173.53h1.5v1.6h-1.5zM1288.86 173.53h1.5v1.6h-1.5zM1287.36 173.53h1.5v1.6h-1.5zM1285.86 173.53h1.5v1.6h-1.5zM1279.86 173.53h1.5v1.6h-1.5zM1276.86 173.53h1.5v1.6h-1.5zM1409.17 170.77h1.5v1.6h-1.5zM1410.67 170.77h1.5v1.6h-1.5zM1412.17 170.77h1.5v1.6h-1.5zM1413.67 170.77h1.5v1.6h-1.5zM1415.17 170.77h1.5v1.6h-1.5zM1418.17 170.77h1.5v1.6h-1.5zM1419.67 170.77h1.5v1.6h-1.5zM1424.17 170.77h1.5v1.6h-1.5zM1425.67 170.77h1.5v1.6h-1.5zM1430.17 170.77h1.5v1.6h-1.5zM1431.67 170.77h1.5v1.6h-1.5zM1305.47 170.77h1.5v1.6h-1.5zM1303.97 170.77h1.5v1.6h-1.5zM1302.47 170.77h1.5v1.6h-1.5zM1300.97 170.77h1.5v1.6h-1.5zM1299.47 170.77h1.5v1.6h-1.5zM1297.97 170.77h1.5v1.6h-1.5zM1294.97 170.77h1.5v1.6h-1.5zM1293.47 170.77h1.5v1.6h-1.5zM1288.97 170.77h1.5v1.6h-1.5zM1285.97 170.77h1.5v1.6h-1.5zM1410.48 168.01h1.5v1.6h-1.5zM1413.48 168.01h1.5v1.6h-1.5zM1414.98 168.01h1.5v1.6h-1.5zM1417.98 168.01h1.5v1.6h-1.5zM1419.48 168.01h1.5v1.6h-1.5zM1422.48 168.01h1.5v1.6h-1.5zM1425.48 168.01h1.5v1.6h-1.5zM1434.48 168.01h1.5v1.6h-1.5zM1310.86 168.01h1.5v1.6h-1.5zM1309.36 168.01h1.5v1.6h-1.5zM1307.86 168.01h1.5v1.6h-1.5zM1306.36 168.01h1.5v1.6h-1.5zM1304.86 168.01h1.5v1.6h-1.5zM1301.86 168.01h1.5v1.6h-1.5zM1300.36 168.01h1.5v1.6h-1.5zM1295.86 168.01h1.5v1.6h-1.5zM1292.86 168.01h1.5v1.6h-1.5zM1291.36 168.01h1.5v1.6h-1.5zM1283.86 168.01h1.5v1.6h-1.5zM1280.86 168.01h1.5v1.6h-1.5zM1279.36 168.01h1.5v1.6h-1.5zM1277.86 168.01h1.5v1.6h-1.5zM1411.78 165.25h1.5v1.6h-1.5zM1413.28 165.25h1.5v1.6h-1.5zM1414.78 165.25h1.5v1.6h-1.5zM1417.78 165.25h1.5v1.6h-1.5zM1419.28 165.25h1.5v1.6h-1.5zM1423.78 165.25h1.5v1.6h-1.5zM1425.28 165.25h1.5v1.6h-1.5zM1431.28 165.25h1.5v1.6h-1.5zM1316.24 165.25h1.5v1.6h-1.5zM1314.74 165.25h1.5v1.6h-1.5zM1313.24 165.25h1.5v1.6h-1.5zM1311.74 165.25h1.5v1.6h-1.5zM1310.24 165.25h1.5v1.6h-1.5zM1308.74 165.25h1.5v1.6h-1.5zM1307.24 165.25h1.5v1.6h-1.5zM1305.74 165.25h1.5v1.6h-1.5zM1304.24 165.25h1.5v1.6h-1.5zM1302.74 165.25h1.5v1.6h-1.5zM1301.24 165.25h1.5v1.6h-1.5zM1299.74 165.25h1.5v1.6h-1.5zM1298.24 165.25h1.5v1.6h-1.5zM1296.74 165.25h1.5v1.6h-1.5zM1292.24 165.25h1.5v1.6h-1.5zM1290.74 165.25h1.5v1.6h-1.5zM1287.74 165.25h1.5v1.6h-1.5zM1286.24 165.25h1.5v1.6h-1.5zM1281.74 165.25h1.5v1.6h-1.5zM1280.24 165.25h1.5v1.6h-1.5zM1278.74 165.25h1.5v1.6h-1.5zM1411.78 162.49h1.5v1.6h-1.5zM1413.28 162.49h1.5v1.6h-1.5zM1416.28 162.49h1.5v1.6h-1.5zM1417.78 162.49h1.5v1.6h-1.5zM1419.28 162.49h1.5v1.6h-1.5zM1422.28 162.49h1.5v1.6h-1.5zM1423.78 162.49h1.5v1.6h-1.5zM1320.19 162.49h1.5v1.6h-1.5zM1318.69 162.49h1.5v1.6h-1.5zM1314.19 162.49h1.5v1.6h-1.5zM1312.69 162.49h1.5v1.6h-1.5zM1311.19 162.49h1.5v1.6h-1.5zM1309.69 162.49h1.5v1.6h-1.5zM1308.19 162.49h1.5v1.6h-1.5zM1306.69 162.49h1.5v1.6h-1.5zM1305.19 162.49h1.5v1.6h-1.5zM1303.69 162.49h1.5v1.6h-1.5zM1300.69 162.49h1.5v1.6h-1.5zM1293.19 162.49h1.5v1.6h-1.5zM1411.78 159.73h1.5v1.6h-1.5zM1413.28 159.73h1.5v1.6h-1.5zM1414.78 159.73h1.5v1.6h-1.5zM1422.28 159.73h1.5v1.6h-1.5zM1423.78 159.73h1.5v1.6h-1.5zM1426.78 159.73h1.5v1.6h-1.5zM1324.14 159.73h1.5v1.6h-1.5zM1322.64 159.73h1.5v1.6h-1.5zM1319.64 159.73h1.5v1.6h-1.5zM1318.14 159.73h1.5v1.6h-1.5zM1316.64 159.73h1.5v1.6h-1.5zM1315.14 159.73h1.5v1.6h-1.5zM1313.64 159.73h1.5v1.6h-1.5zM1312.14 159.73h1.5v1.6h-1.5zM1411.78 156.96h1.5v1.6h-1.5zM1413.28 156.96h1.5v1.6h-1.5zM1414.78 156.96h1.5v1.6h-1.5zM1416.28 156.96h1.5v1.6h-1.5zM1417.78 156.96h1.5v1.6h-1.5zM1420.78 156.96h1.5v1.6h-1.5zM1326.59 156.96h1.5v1.6h-1.5zM1325.09 156.96h1.5v1.6h-1.5zM1323.59 156.96h1.5v1.6h-1.5zM1322.09 156.96h1.5v1.6h-1.5zM1320.59 156.96h1.5v1.6h-1.5zM1319.09 156.96h1.5v1.6h-1.5zM1412.45 154.2h1.5v1.6h-1.5zM1413.95 154.2h1.5v1.6h-1.5zM1415.45 154.2h1.5v1.6h-1.5zM1421.45 154.2h1.5v1.6h-1.5zM1422.95 154.2h1.5v1.6h-1.5zM1424.45 154.2h1.5v1.6h-1.5zM1331.32 154.2h1.5v1.6h-1.5zM1329.82 154.2h1.5v1.6h-1.5zM1328.32 154.2h1.5v1.6h-1.5zM1326.82 154.2h1.5v1.6h-1.5zM1325.32 154.2h1.5v1.6h-1.5zM1323.82 154.2h1.5v1.6h-1.5zM1322.32 154.2h1.5v1.6h-1.5zM1319.32 154.2h1.5v1.6h-1.5zM1313.32 154.2h1.5v1.6h-1.5zM1311.82 154.2h1.5v1.6h-1.5zM1307.32 154.2h1.5v1.6h-1.5zM1413.12 151.44h1.5v1.6h-1.5zM1414.62 151.44h1.5v1.6h-1.5zM1416.12 151.44h1.5v1.6h-1.5zM1417.62 151.44h1.5v1.6h-1.5zM1419.12 151.44h1.5v1.6h-1.5zM1425.12 151.44h1.5v1.6h-1.5zM1426.62 151.44h1.5v1.6h-1.5zM1334.55 151.44h1.5v1.6h-1.5zM1333.05 151.44h1.5v1.6h-1.5zM1331.55 151.44h1.5v1.6h-1.5zM1330.05 151.44h1.5v1.6h-1.5zM1328.55 151.44h1.5v1.6h-1.5zM1327.05 151.44h1.5v1.6h-1.5zM1325.55 151.44h1.5v1.6h-1.5zM1322.55 151.44h1.5v1.6h-1.5zM1321.05 151.44h1.5v1.6h-1.5zM1319.55 151.44h1.5v1.6h-1.5zM1318.05 151.44h1.5v1.6h-1.5zM1310.55 151.44h1.5v1.6h-1.5zM1309.05 151.44h1.5v1.6h-1.5zM1304.55 151.44h1.5v1.6h-1.5zM1298.55 151.44h1.5v1.6h-1.5zM1295.55 151.44h1.5v1.6h-1.5zM1413.78 148.68h1.5v1.6h-1.5zM1416.78 148.68h1.5v1.6h-1.5zM1418.28 148.68h1.5v1.6h-1.5zM1419.78 148.68h1.5v1.6h-1.5zM1337.79 148.68h1.5v1.6h-1.5zM1336.29 148.68h1.5v1.6h-1.5zM1334.79 148.68h1.5v1.6h-1.5zM1333.29 148.68h1.5v1.6h-1.5zM1331.79 148.68h1.5v1.6h-1.5zM1328.79 148.68h1.5v1.6h-1.5zM1327.29 148.68h1.5v1.6h-1.5zM1324.29 148.68h1.5v1.6h-1.5zM1322.79 148.68h1.5v1.6h-1.5zM1321.29 148.68h1.5v1.6h-1.5zM1319.79 148.68h1.5v1.6h-1.5zM1318.29 148.68h1.5v1.6h-1.5zM1316.79 148.68h1.5v1.6h-1.5zM1315.29 148.68h1.5v1.6h-1.5zM1310.79 148.68h1.5v1.6h-1.5zM1309.29 148.68h1.5v1.6h-1.5zM1306.29 148.68h1.5v1.6h-1.5zM1304.79 148.68h1.5v1.6h-1.5zM1303.29 148.68h1.5v1.6h-1.5zM1297.29 148.68h1.5v1.6h-1.5zM1295.79 148.68h1.5v1.6h-1.5zM1292.79 148.68h1.5v1.6h-1.5zM1291.29 148.68h1.5v1.6h-1.5zM1285.29 148.68h1.5v1.6h-1.5zM1282.29 148.68h1.5v1.6h-1.5zM1413.12 145.92h1.5v1.6h-1.5zM1414.62 145.92h1.5v1.6h-1.5zM1416.12 145.92h1.5v1.6h-1.5zM1417.62 145.92h1.5v1.6h-1.5zM1422.12 145.92h1.5v1.6h-1.5zM1425.12 145.92h1.5v1.6h-1.5zM1428.12 145.92h1.5v1.6h-1.5zM1431.12 145.92h1.5v1.6h-1.5zM1341.22 145.92h1.5v1.6h-1.5zM1339.72 145.92h1.5v1.6h-1.5zM1336.72 145.92h1.5v1.6h-1.5zM1335.22 145.92h1.5v1.6h-1.5zM1333.72 145.92h1.5v1.6h-1.5zM1332.22 145.92h1.5v1.6h-1.5zM1330.72 145.92h1.5v1.6h-1.5zM1327.72 145.92h1.5v1.6h-1.5zM1324.72 145.92h1.5v1.6h-1.5zM1323.22 145.92h1.5v1.6h-1.5zM1320.22 145.92h1.5v1.6h-1.5zM1318.72 145.92h1.5v1.6h-1.5zM1317.22 145.92h1.5v1.6h-1.5zM1314.22 145.92h1.5v1.6h-1.5zM1312.72 145.92h1.5v1.6h-1.5zM1308.22 145.92h1.5v1.6h-1.5zM1305.22 145.92h1.5v1.6h-1.5zM1302.22 145.92h1.5v1.6h-1.5zM1297.72 145.92h1.5v1.6h-1.5zM1412.45 143.16h1.5v1.6h-1.5zM1413.95 143.16h1.5v1.6h-1.5zM1415.45 143.16h1.5v1.6h-1.5zM1416.95 143.16h1.5v1.6h-1.5zM1418.45 143.16h1.5v1.6h-1.5zM1419.95 143.16h1.5v1.6h-1.5zM1422.95 143.16h1.5v1.6h-1.5zM1344.66 143.16h1.5v1.6h-1.5zM1343.16 143.16h1.5v1.6h-1.5zM1341.66 143.16h1.5v1.6h-1.5zM1340.16 143.16h1.5v1.6h-1.5zM1338.66 143.16h1.5v1.6h-1.5zM1337.16 143.16h1.5v1.6h-1.5zM1335.66 143.16h1.5v1.6h-1.5zM1334.16 143.16h1.5v1.6h-1.5zM1332.66 143.16h1.5v1.6h-1.5zM1331.16 143.16h1.5v1.6h-1.5zM1328.16 143.16h1.5v1.6h-1.5zM1326.66 143.16h1.5v1.6h-1.5zM1323.66 143.16h1.5v1.6h-1.5zM1322.16 143.16h1.5v1.6h-1.5zM1320.66 143.16h1.5v1.6h-1.5zM1317.66 143.16h1.5v1.6h-1.5zM1314.66 143.16h1.5v1.6h-1.5zM1311.66 143.16h1.5v1.6h-1.5zM1411.78 140.4h1.5v1.6h-1.5zM1416.28 140.4h1.5v1.6h-1.5zM1417.78 140.4h1.5v1.6h-1.5zM1420.78 140.4h1.5v1.6h-1.5zM1422.28 140.4h1.5v1.6h-1.5zM1426.78 140.4h1.5v1.6h-1.5zM1429.78 140.4h1.5v1.6h-1.5zM1348.1 140.4h1.5v1.6h-1.5zM1346.6 140.4h1.5v1.6h-1.5zM1345.1 140.4h1.5v1.6h-1.5zM1340.6 140.4h1.5v1.6h-1.5zM1339.1 140.4h1.5v1.6h-1.5zM1337.6 140.4h1.5v1.6h-1.5zM1334.6 140.4h1.5v1.6h-1.5zM1333.1 140.4h1.5v1.6h-1.5zM1331.6 140.4h1.5v1.6h-1.5zM1330.1 140.4h1.5v1.6h-1.5zM1327.1 140.4h1.5v1.6h-1.5zM1325.6 140.4h1.5v1.6h-1.5zM1319.6 140.4h1.5v1.6h-1.5zM1412.78 137.63h1.5v1.6h-1.5zM1414.28 137.63h1.5v1.6h-1.5zM1415.78 137.63h1.5v1.6h-1.5zM1417.28 137.63h1.5v1.6h-1.5zM1418.78 137.63h1.5v1.6h-1.5zM1420.28 137.63h1.5v1.6h-1.5zM1423.28 137.63h1.5v1.6h-1.5zM1426.28 137.63h1.5v1.6h-1.5zM1427.78 137.63h1.5v1.6h-1.5zM1429.28 137.63h1.5v1.6h-1.5zM1348.87 137.63h1.5v1.6h-1.5zM1345.87 137.63h1.5v1.6h-1.5zM1341.37 137.63h1.5v1.6h-1.5zM1338.37 137.63h1.5v1.6h-1.5zM1336.87 137.63h1.5v1.6h-1.5zM1335.37 137.63h1.5v1.6h-1.5zM1333.87 137.63h1.5v1.6h-1.5zM1413.78 134.87h1.5v1.6h-1.5zM1415.28 134.87h1.5v1.6h-1.5zM1418.28 134.87h1.5v1.6h-1.5zM1419.78 134.87h1.5v1.6h-1.5zM1421.28 134.87h1.5v1.6h-1.5zM1425.78 134.87h1.5v1.6h-1.5zM1427.28 134.87h1.5v1.6h-1.5zM1431.78 134.87h1.5v1.6h-1.5zM1433.28 134.87h1.5v1.6h-1.5zM1349.63 134.87h1.5v1.6h-1.5zM1348.13 134.87h1.5v1.6h-1.5zM1346.63 134.87h1.5v1.6h-1.5zM1345.13 134.87h1.5v1.6h-1.5zM1414.3 132.11h1.5v1.6h-1.5zM1415.8 132.11h1.5v1.6h-1.5zM1417.3 132.11h1.5v1.6h-1.5zM1418.8 132.11h1.5v1.6h-1.5zM1420.3 132.11h1.5v1.6h-1.5zM1421.8 132.11h1.5v1.6h-1.5zM1424.8 132.11h1.5v1.6h-1.5zM1350.81 132.11h1.5v1.6h-1.5zM1349.31 132.11h1.5v1.6h-1.5zM1347.81 132.11h1.5v1.6h-1.5zM1346.31 132.11h1.5v1.6h-1.5zM1344.81 132.11h1.5v1.6h-1.5zM1341.81 132.11h1.5v1.6h-1.5zM1338.81 132.11h1.5v1.6h-1.5zM1337.31 132.11h1.5v1.6h-1.5zM1414.81 129.35h1.5v1.6h-1.5zM1416.31 129.35h1.5v1.6h-1.5zM1417.81 129.35h1.5v1.6h-1.5zM1419.31 129.35h1.5v1.6h-1.5zM1422.31 129.35h1.5v1.6h-1.5zM1351.99 129.35h1.5v1.6h-1.5zM1350.49 129.35h1.5v1.6h-1.5zM1348.99 129.35h1.5v1.6h-1.5zM1344.49 129.35h1.5v1.6h-1.5zM1341.49 129.35h1.5v1.6h-1.5zM1338.49 129.35h1.5v1.6h-1.5zM1418.32 126.59h1.5v1.6h-1.5zM1351.67 126.59h1.5v1.6h-1.5zM1350.17 126.59h1.5v1.6h-1.5zM1348.67 126.59h1.5v1.6h-1.5zM1344.17 126.59h1.5v1.6h-1.5zM1342.67 126.59h1.5v1.6h-1.5zM1341.17 126.59h1.5v1.6h-1.5zM1415.32 123.83h1.5v1.6h-1.5zM1416.82 123.83h1.5v1.6h-1.5zM1418.32 123.83h1.5v1.6h-1.5zM1421.32 123.83h1.5v1.6h-1.5zM1356.79 123.83h1.5v1.6h-1.5zM1355.29 123.83h1.5v1.6h-1.5zM1353.79 123.83h1.5v1.6h-1.5zM1352.29 123.83h1.5v1.6h-1.5zM1415.32 121.07h1.5v1.6h-1.5zM1416.82 121.07h1.5v1.6h-1.5zM1418.32 121.07h1.5v1.6h-1.5zM1419.82 121.07h1.5v1.6h-1.5zM1424.32 121.07h1.5v1.6h-1.5zM1360.41 121.07h1.5v1.6h-1.5zM1357.41 121.07h1.5v1.6h-1.5zM1415.84 118.3h1.5v1.6h-1.5zM1417.34 118.3h1.5v1.6h-1.5zM1418.84 118.3h1.5v1.6h-1.5zM1423.34 118.3h1.5v1.6h-1.5zM1424.84 118.3h1.5v1.6h-1.5zM1426.34 118.3h1.5v1.6h-1.5zM1427.84 118.3h1.5v1.6h-1.5zM1430.84 118.3h1.5v1.6h-1.5zM1432.34 118.3h1.5v1.6h-1.5zM1361.28 118.3h1.5v1.6h-1.5zM1359.78 118.3h1.5v1.6h-1.5zM1356.78 118.3h1.5v1.6h-1.5zM1416.35 115.54h1.5v1.6h-1.5zM1417.85 115.54h1.5v1.6h-1.5zM1420.85 115.54h1.5v1.6h-1.5zM1425.35 115.54h1.5v1.6h-1.5zM1362.15 115.54h1.5v1.6h-1.5zM1360.65 115.54h1.5v1.6h-1.5zM1416.86 112.78h1.5v1.6h-1.5zM1418.36 112.78h1.5v1.6h-1.5zM1419.86 112.78h1.5v1.6h-1.5zM1421.36 112.78h1.5v1.6h-1.5zM1422.86 112.78h1.5v1.6h-1.5zM1424.36 112.78h1.5v1.6h-1.5zM1431.86 112.78h1.5v1.6h-1.5zM1363.02 112.78h1.5v1.6h-1.5zM1361.52 112.78h1.5v1.6h-1.5zM1358.52 112.78h1.5v1.6h-1.5zM1416.86 110.02h1.5v1.6h-1.5zM1418.36 110.02h1.5v1.6h-1.5zM1421.36 110.02h1.5v1.6h-1.5zM1422.86 110.02h1.5v1.6h-1.5zM1424.36 110.02h1.5v1.6h-1.5zM1428.86 110.02h1.5v1.6h-1.5zM1431.86 110.02h1.5v1.6h-1.5zM1363.59 110.02h1.5v1.6h-1.5zM1362.09 110.02h1.5v1.6h-1.5zM1416.86 107.26h1.5v1.6h-1.5zM1418.36 107.26h1.5v1.6h-1.5zM1419.86 107.26h1.5v1.6h-1.5zM1422.86 107.26h1.5v1.6h-1.5zM1425.86 107.26h1.5v1.6h-1.5zM1428.86 107.26h1.5v1.6h-1.5zM1430.36 107.26h1.5v1.6h-1.5zM1364.15 107.26h1.5v1.6h-1.5zM1416.86 104.5h1.5v1.6h-1.5zM1418.36 104.5h1.5v1.6h-1.5zM1419.86 104.5h1.5v1.6h-1.5zM1422.86 104.5h1.5v1.6h-1.5zM1424.36 104.5h1.5v1.6h-1.5zM1425.86 104.5h1.5v1.6h-1.5zM1430.36 104.5h1.5v1.6h-1.5zM1417.89 101.74h1.5v1.6h-1.5zM1419.39 101.74h1.5v1.6h-1.5zM1420.89 101.74h1.5v1.6h-1.5zM1365.79 101.74h1.5v1.6h-1.5zM1418.91 98.97h1.5v1.6h-1.5zM1420.41 98.97h1.5v1.6h-1.5zM1423.41 98.97h1.5v1.6h-1.5zM1419.94 96.21h1.5v1.6h-1.5zM1421.44 96.21h1.5v1.6h-1.5zM1425.94 96.21h1.5v1.6h-1.5zM1367.95 96.21h1.5v1.6h-1.5zM1366.45 96.21h1.5v1.6h-1.5zM1420.45 93.45h1.5v1.6h-1.5zM1421.95 93.45h1.5v1.6h-1.5zM1423.45 93.45h1.5v1.6h-1.5zM1426.45 93.45h1.5v1.6h-1.5zM1430.95 93.45h1.5v1.6h-1.5zM1368.66 93.45h1.5v1.6h-1.5zM1365.66 93.45h1.5v1.6h-1.5zM1420.97 90.69h1.5v1.6h-1.5zM1422.47 90.69h1.5v1.6h-1.5zM1423.97 90.69h1.5v1.6h-1.5zM1425.47 90.69h1.5v1.6h-1.5zM1426.97 90.69h1.5v1.6h-1.5zM1434.47 90.69h1.5v1.6h-1.5zM1437.47 90.69h1.5v1.6h-1.5zM1367.88 90.69h1.5v1.6h-1.5zM1366.38 90.69h1.5v1.6h-1.5zM1421.48 87.93h1.5v1.6h-1.5zM1424.48 87.93h1.5v1.6h-1.5zM1428.98 87.93h1.5v1.6h-1.5zM1430.48 87.93h1.5v1.6h-1.5zM1431.98 87.93h1.5v1.6h-1.5zM1434.98 87.93h1.5v1.6h-1.5zM1436.48 87.93h1.5v1.6h-1.5zM1437.98 87.93h1.5v1.6h-1.5zM1370.1 87.93h1.5v1.6h-1.5zM1368.6 87.93h1.5v1.6h-1.5zM1367.1 87.93h1.5v1.6h-1.5zM1364.1 87.93h1.5v1.6h-1.5zM1420.97 85.17h1.5v1.6h-1.5zM1422.47 85.17h1.5v1.6h-1.5zM1423.97 85.17h1.5v1.6h-1.5zM1425.47 85.17h1.5v1.6h-1.5zM1426.97 85.17h1.5v1.6h-1.5zM1428.47 85.17h1.5v1.6h-1.5zM1432.97 85.17h1.5v1.6h-1.5zM1434.47 85.17h1.5v1.6h-1.5zM1435.97 85.17h1.5v1.6h-1.5zM1440.47 85.17h1.5v1.6h-1.5zM1370.51 85.17h1.5v1.6h-1.5zM1369.01 85.17h1.5v1.6h-1.5zM1421.95 82.41h1.5v1.6h-1.5zM1423.45 82.41h1.5v1.6h-1.5zM1424.95 82.41h1.5v1.6h-1.5zM1427.95 82.41h1.5v1.6h-1.5zM1430.95 82.41h1.5v1.6h-1.5zM1370.92 82.41h1.5v1.6h-1.5zM1419.94 79.64h1.5v1.6h-1.5zM1421.44 79.64h1.5v1.6h-1.5zM1425.94 79.64h1.5v1.6h-1.5zM1421.44 76.88h1.5v1.6h-1.5zM1422.94 76.88h1.5v1.6h-1.5zM1424.44 76.88h1.5v1.6h-1.5zM1425.94 76.88h1.5v1.6h-1.5zM1427.44 76.88h1.5v1.6h-1.5zM1431.94 76.88h1.5v1.6h-1.5zM1433.44 76.88h1.5v1.6h-1.5zM1436.44 76.88h1.5v1.6h-1.5zM1372.56 76.88h1.5v1.6h-1.5zM1419.94 74.12h1.5v1.6h-1.5zM1421.44 74.12h1.5v1.6h-1.5zM1422.94 74.12h1.5v1.6h-1.5zM1424.44 74.12h1.5v1.6h-1.5zM1425.94 74.12h1.5v1.6h-1.5zM1428.94 74.12h1.5v1.6h-1.5zM1430.44 74.12h1.5v1.6h-1.5zM1431.94 74.12h1.5v1.6h-1.5zM1439.44 74.12h1.5v1.6h-1.5zM1419.94 71.36h1.5v1.6h-1.5zM1421.44 71.36h1.5v1.6h-1.5zM1422.94 71.36h1.5v1.6h-1.5zM1424.44 71.36h1.5v1.6h-1.5zM1425.94 71.36h1.5v1.6h-1.5zM1427.44 71.36h1.5v1.6h-1.5zM1428.94 71.36h1.5v1.6h-1.5zM1430.44 71.36h1.5v1.6h-1.5zM1431.94 71.36h1.5v1.6h-1.5zM1433.44 71.36h1.5v1.6h-1.5zM1439.44 71.36h1.5v1.6h-1.5zM1440.94 71.36h1.5v1.6h-1.5zM1375.02 71.36h1.5v1.6h-1.5zM1419.94 68.6h1.5v1.6h-1.5zM1421.44 68.6h1.5v1.6h-1.5zM1422.94 68.6h1.5v1.6h-1.5zM1424.44 68.6h1.5v1.6h-1.5zM1425.94 68.6h1.5v1.6h-1.5zM1427.44 68.6h1.5v1.6h-1.5zM1428.94 68.6h1.5v1.6h-1.5zM1430.44 68.6h1.5v1.6h-1.5zM1431.94 68.6h1.5v1.6h-1.5zM1439.44 68.6h1.5v1.6h-1.5zM1445.44 68.6h1.5v1.6h-1.5zM1451.44 68.6h1.5v1.6h-1.5zM1376.26 68.6h1.5v1.6h-1.5zM1423.33 65.84h1.5v1.6h-1.5zM1424.83 65.84h1.5v1.6h-1.5zM1426.33 65.84h1.5v1.6h-1.5zM1427.83 65.84h1.5v1.6h-1.5zM1429.33 65.84h1.5v1.6h-1.5zM1430.83 65.84h1.5v1.6h-1.5zM1432.33 65.84h1.5v1.6h-1.5zM1433.83 65.84h1.5v1.6h-1.5zM1435.33 65.84h1.5v1.6h-1.5zM1436.83 65.84h1.5v1.6h-1.5zM1439.83 65.84h1.5v1.6h-1.5zM1375.74 65.84h1.5v1.6h-1.5zM1426.71 63.08h1.5v1.6h-1.5zM1428.21 63.08h1.5v1.6h-1.5zM1431.21 63.08h1.5v1.6h-1.5zM1434.21 63.08h1.5v1.6h-1.5zM1435.71 63.08h1.5v1.6h-1.5zM1438.71 63.08h1.5v1.6h-1.5zM1443.21 63.08h1.5v1.6h-1.5zM1430.1 60.31h1.5v1.6h-1.5zM1431.6 60.31h1.5v1.6h-1.5zM1433.1 60.31h1.5v1.6h-1.5zM1434.6 60.31h1.5v1.6h-1.5zM1436.1 60.31h1.5v1.6h-1.5zM1440.6 60.31h1.5v1.6h-1.5zM1434.64 57.55h1.5v1.6h-1.5zM1436.14 57.55h1.5v1.6h-1.5zM1437.64 57.55h1.5v1.6h-1.5zM1439.14 57.55h1.5v1.6h-1.5zM1440.64 57.55h1.5v1.6h-1.5zM1443.64 57.55h1.5v1.6h-1.5zM1439.17 54.79h1.5v1.6h-1.5zM1440.67 54.79h1.5v1.6h-1.5zM1442.17 54.79h1.5v1.6h-1.5zM1443.67 54.79h1.5v1.6h-1.5zM1446.67 54.79h1.5v1.6h-1.5z" fill="#5a5aa0" fill-opacity="0.85"/><path d="M1247.3 207.47 L1248.07 207.47 L1248.84 207.47 L1249.61 207.47 L1250.38 207.47 L1251.15 207.47 L1251.92 207.47 L1252.69 207.47 L1253.45 207.47 L1254.22 207.47 L1254.99 207.47 L1255.76 207.47 L1256.53 207.47 L1257.3 207.47 L1258.07 207.47 L1258.84 207.47 L1259.61 207.47 L1260.38 207.47 L1261.15 207.47 L1261.92 207.47 L1262.69 207.47 L1263.46 207.47 L1264.23 207.47 L1265 207.47 L1265.76 207.47 L1266.53 207.47 L1267.3 207.47 L1268.07 207.47 L1268.84 207.47 L1269.61 207.47 L1270.38 207.47 L1271.15 207.47 L1271.92 207.47 L1272.69 207.47 L1273.46 207.47 L1274.23 207.47 L1275 207.47 L1275.77 207.47 L1276.54 207.47 L1277.31 207.47 L1278.07 207.47 L1278.84 207.47 L1279.61 207.47 L1280.38 207.47 L1281.15 207.47 L1281.92 207.47 L1282.69 207.47 L1283.46 207.47 L1284.23 207.47 L1285 207.47 L1285.77 207.47 L1286.54 207.47 L1287.31 207.47 L1288.08 207.47 L1288.85 207.47 L1289.62 207.47 L1290.38 207.47 L1291.15 207.47 L1291.92 207.47 L1292.69 207.47 L1293.46 207.47 L1294.23 207.47 L1295 207.47 L1295.77 207.47 L1296.54 207.47 L1297.31 207.47 L1298.08 207.47 L1298.85 207.47 L1299.62 207.47 L1300.39 207.47 L1301.16 207.47 L1301.93 207.47 L1302.69 207.47 L1303.46 207.47 L1304.23 207.47 L1305 207.46 L1305.77 207.46 L1306.54 207.46 L1307.31 207.46 L1308.08 207.46 L1308.85 207.46 L1309.62 207.46 L1310.39 207.46 L1311.16 207.46 L1311.93 207.46 L1312.7 207.45 L1313.47 207.45 L1314.24 207.45 L1315 207.45 L1315.77 207.45 L1316.54 207.44 L1317.31 207.44 L1318.08 207.44 L1318.85 207.44 L1319.62 207.43 L1320.39 207.43 L1321.16 207.42 L1321.93 207.42 L1322.7 207.41 L1323.47 207.41 L1324.24 207.4 L1325.01 207.39 L1325.78 207.38 L1326.55 207.37 L1327.31 207.36 L1328.08 207.35 L1328.85 207.34 L1329.62 207.33 L1330.39 207.31 L1331.16 207.29 L1331.93 207.27 L1332.7 207.25 L1333.47 207.23 L1334.24 207.2 L1335.01 207.17 L1335.78 207.14 L1336.55 207.11 L1337.32 207.07 L1338.09 207.03 L1338.86 206.98 L1339.62 206.93 L1340.39 206.87 L1341.16 206.8 L1341.93 206.73 L1342.7 206.65 L1343.47 206.57 L1344.24 206.47 L1345.01 206.36 L1345.78 206.25 L1346.55 206.12 L1347.32 205.97 L1348.09 205.81 L1348.86 205.64 L1349.63 205.44 L1350.4 205.23 L1351.17 204.99 L1351.93 204.73 L1352.7 204.44 L1353.47 204.12 L1354.24 203.77 L1355.01 203.38 L1355.78 202.96 L1356.55 202.49 L1357.32 201.97 L1358.09 201.4 L1358.86 200.78 L1359.63 200.1 L1360.4 199.35 L1361.17 198.52 L1361.94 197.62 L1362.71 196.64 L1363.48 195.56 L1364.24 194.39 L1365.01 193.12 L1365.78 191.73 L1366.55 190.23 L1367.32 188.6 L1368.09 186.84 L1368.86 184.95 L1369.63 182.91 L1370.4 180.73 L1371.17 178.39 L1371.94 175.9 L1372.71 173.26 L1373.48 170.46 L1374.25 167.5 L1375.02 164.4 L1375.79 161.15 L1376.56 157.77 L1377.32 154.25 L1378.09 150.63 L1378.86 146.9 L1379.63 143.09 L1380.4 139.21 L1381.17 135.28 L1381.94 131.32 L1382.71 127.36 L1383.48 123.4 L1384.25 119.48 L1385.02 115.62 L1385.79 111.82 L1386.56 108.11 L1387.33 104.51 L1388.1 101.02 L1388.87 97.66 L1389.63 94.44 L1390.4 91.37 L1391.17 88.44 L1391.94 85.67 L1392.71 83.06 L1393.48 80.6 L1394.25 78.3 L1395.02 76.14 L1395.79 74.13 L1396.56 72.27 L1397.33 70.53 L1398.1 68.93 L1398.87 67.45 L1399.64 66.09 L1400.41 64.84 L1401.18 63.68 L1401.94 62.63 L1402.71 61.66 L1403.48 60.78 L1404.25 59.97 L1405.02 59.23 L1405.79 58.56 L1406.56 57.95 L1407.33 57.39 L1408.1 56.89 L1408.87 56.43 L1409.64 56.01 L1410.41 55.63 L1411.18 55.28 L1411.95 54.97 L1412.72 54.69 L1413.49 54.43 L1414.25 54.2 L1415.02 53.99 L1415.79 53.8 L1416.56 53.63 L1417.33 53.47 L1418.1 53.33 L1418.87 53.2 L1419.64 53.09 L1420.41 52.98 L1421.18 52.89 L1421.95 52.8 L1422.72 52.72 L1423.49 52.65 L1424.26 52.59 L1425.03 52.53 L1425.8 52.48 L1426.56 52.44 L1427.33 52.39 L1428.1 52.36 L1428.87 52.32 L1429.64 52.29 L1430.41 52.26 L1431.18 52.24 L1431.95 52.21 L1432.72 52.19 L1433.49 52.18 L1434.26 52.16 L1435.03 52.14 L1435.8 52.13 L1436.57 52.12 L1437.34 52.11 L1438.11 52.1 L1438.87 52.09 L1439.64 52.08 L1440.41 52.07 L1441.18 52.06 L1441.95 52.06 L1442.72 52.05 L1443.49 52.05 L1444.26 52.04 L1445.03 52.04 L1445.8 52.04 L1446.57 52.03 L1447.34 52.03 L1448.11 52.03 L1448.88 52.02 L1449.65 52.02 L1450.42 52.02 L1451.18 52.02 L1451.95 52.02 L1452.72 52.02 L1453.49 52.01 L1454.26 52.01 L1455.03 52.01 L1455.8 52.01 L1456.57 52.01 L1457.34 52.01 L1458.11 52.01 L1458.88 52.01 L1459.65 52.01 L1460.42 52.01 L1461.19 52.01" fill="none" stroke="#d93c72" stroke-width="1.6" stroke-dasharray="3 2.4"/><rect x="1247.3" y="33.5" width="246.2" height="192.8" fill="none" stroke="#d2d2d2" stroke-width="1.3"/><path d="M1278.08 226.3v-2.5M1278.08 33.5v2.5M1308.85 226.3v-2.5M1308.85 33.5v2.5M1339.62 226.3v-2.5M1339.62 33.5v2.5M1370.4 226.3v-2.5M1370.4 33.5v2.5M1401.17 226.3v-2.5M1401.17 33.5v2.5M1431.95 226.3v-2.5M1431.95 33.5v2.5M1462.72 226.3v-2.5M1462.72 33.5v2.5M1247.3 199.19h2.5M1493.5 199.19h-2.5M1247.3 171.57h2.5M1493.5 171.57h-2.5M1247.3 143.96h2.5M1493.5 143.96h-2.5M1247.3 116.34h2.5M1493.5 116.34h-2.5M1247.3 88.73h2.5M1493.5 88.73h-2.5M1247.3 61.11h2.5M1493.5 61.11h-2.5" stroke="#c4c4c4" stroke-width="1" fill="none"/><g font-family="Liberation Sans, sans-serif" font-size="25.3" fill="#111"><text x="1245" y="67.66" text-anchor="end">60</text><text x="1245" y="122.89" text-anchor="end">40</text><text x="1245" y="178.12" text-anchor="end">20</text><text x="1245" y="226.75" text-anchor="end">0</text></g><text x="1257" y="23.8" font-family="Liberation Sans, sans-serif" font-size="32.7" fill="#000">North America</text></g><g><rect x="959.91" y="454.71" width="101.8" height="2.0" fill="url(#gEurope4)" fill-opacity="0.97"/><rect x="952.2" y="451.94" width="131.11" height="2.0" fill="url(#gEurope5)" fill-opacity="0.92"/><rect x="952.2" y="449.17" width="141.29" height="2.0" fill="url(#gEurope6)" fill-opacity="0.96"/><rect x="952.2" y="446.4" width="144.53" height="2.0" fill="url(#gEurope7)" fill-opacity="0.97"/><rect x="952.2" y="443.63" width="147.08" height="2.0" fill="url(#gEurope8)" fill-opacity="0.98"/><rect x="952.2" y="440.86" width="149.62" height="2.0" fill="url(#gEurope9)" fill-opacity="0.95"/><rect x="962.84" y="438.09" width="138.98" height="2.0" fill="url(#gEurope10)" fill-opacity="0.9"/><rect x="973.49" y="435.31" width="128.34" height="2.0" fill="url(#gEurope11)" fill-opacity="0.9"/><rect x="974.31" y="432.54" width="130.86" height="2.0" fill="url(#gEurope12)" fill-opacity="0.91"/><rect x="975.13" y="429.77" width="133.37" height="2.0" fill="url(#gEurope13)" fill-opacity="0.9"/><rect x="975.95" y="427" width="135.89" height="2.0" fill="url(#gEurope14)" fill-opacity="0.98"/><rect x="975.95" y="424.23" width="135.89" height="2.0" fill="url(#gEurope15)" fill-opacity="0.85"/><rect x="975.95" y="421.46" width="135.89" height="2.0" fill="url(#gEurope16)" fill-opacity="0.91"/><rect x="975.95" y="418.69" width="135.89" height="2.0" fill="url(#gEurope17)" fill-opacity="0.91"/><rect x="975.95" y="415.91" width="137.18" height="2.0" fill="url(#gEurope18)" fill-opacity="0.94"/><rect x="975.95" y="413.14" width="138.47" height="2.0" fill="url(#gEurope19)" fill-opacity="0.96"/><rect x="975.95" y="410.37" width="139.75" height="2.0" fill="url(#gEurope20)" fill-opacity="0.91"/><rect x="975.95" y="407.6" width="140.78" height="2.0" fill="url(#gEurope21)" fill-opacity="0.96"/><rect x="975.95" y="404.83" width="141.81" height="2.0" fill="url(#gEurope22)" fill-opacity="0.89"/><rect x="975.95" y="402.06" width="142.84" height="2.0" fill="#9898d0" fill-opacity="0.89"/><rect x="975.95" y="399.29" width="142.84" height="2.0" fill="#9898d0" fill-opacity="0.88"/><rect x="975.95" y="396.51" width="142.84" height="2.0" fill="#9898d0" fill-opacity="0.96"/><rect x="975.95" y="393.74" width="142.84" height="2.0" fill="#9898d0" fill-opacity="0.89"/><rect x="975.95" y="390.97" width="143.35" height="2.0" fill="#9898d0" fill-opacity="0.87"/><rect x="975.95" y="388.2" width="143.86" height="2.0" fill="#9898d0" fill-opacity="0.89"/><rect x="975.95" y="385.43" width="144.38" height="2.0" fill="#9898d0" fill-opacity="0.88"/><rect x="975.95" y="382.66" width="144.89" height="2.0" fill="#9898d0" fill-opacity="0.95"/><rect x="975.95" y="379.89" width="145.41" height="2.0" fill="#9898d0" fill-opacity="0.97"/><rect x="975.95" y="377.11" width="145.92" height="2.0" fill="#9898d0" fill-opacity="0.92"/><rect x="977.96" y="374.34" width="145.46" height="2.0" fill="#9898d0" fill-opacity="0.87"/><rect x="979.97" y="371.57" width="145" height="2.0" fill="#9898d0" fill-opacity="0.96"/><rect x="998.48" y="368.8" width="123.4" height="2.0" fill="#9898d0" fill-opacity="0.97"/><rect x="1026.86" y="366.03" width="89.93" height="2.0" fill="#9898d0" fill-opacity="0.93"/><rect x="1026.86" y="363.26" width="92.47" height="2.0" fill="#9898d0" fill-opacity="0.95"/><rect x="1026.86" y="360.49" width="95.02" height="2.0" fill="#9898d0" fill-opacity="0.89"/><rect x="1033.8" y="357.71" width="87.05" height="2.0" fill="#9898d0" fill-opacity="0.94"/><rect x="1040.74" y="354.94" width="79.08" height="2.0" fill="#9898d0" fill-opacity="0.99"/><rect x="1047.68" y="352.17" width="71.11" height="2.0" fill="#9898d0" fill-opacity="0.98"/><rect x="1049.63" y="349.4" width="71.21" height="2.0" fill="#9898d0" fill-opacity="0.86"/><rect x="1051.59" y="346.63" width="71.31" height="2.0" fill="#9898d0" fill-opacity="0.97"/><rect x="1053.54" y="343.86" width="71.42" height="2.0" fill="#9898d0" fill-opacity="0.95"/><rect x="1055.24" y="341.09" width="70.75" height="2.0" fill="#9898d0" fill-opacity="0.99"/><rect x="1056.94" y="338.31" width="70.08" height="2.0" fill="#9898d0" fill-opacity="0.95"/><rect x="1058.63" y="335.54" width="69.41" height="2.0" fill="#9898d0" fill-opacity="0.9"/><rect x="1061.36" y="332.77" width="65.14" height="2.0" fill="#9898d0" fill-opacity="0.92"/><rect x="1064.08" y="330" width="60.88" height="2.0" fill="#9898d0" fill-opacity="0.97"/><rect x="1066.81" y="327.23" width="56.61" height="2.0" fill="#9898d0" fill-opacity="0.9"/><rect x="1069.02" y="324.46" width="57.74" height="2.0" fill="#9898d0" fill-opacity="0.99"/><rect x="1071.23" y="321.69" width="58.87" height="2.0" fill="#9898d0" fill-opacity="0.98"/><rect x="1073.44" y="318.91" width="60" height="2.0" fill="#9898d0" fill-opacity="0.88"/><rect x="1074.71" y="316.14" width="59.69" height="2.0" fill="#9898d0" fill-opacity="0.96"/><rect x="1075.99" y="313.37" width="59.39" height="2.0" fill="#9898d0" fill-opacity="0.96"/><rect x="1077.26" y="310.6" width="59.08" height="2.0" fill="#9898d0" fill-opacity="0.88"/><rect x="1078.53" y="307.83" width="58.77" height="2.0" fill="#9898d0" fill-opacity="0.88"/><rect x="1080.43" y="305.06" width="57.79" height="2.0" fill="#9898d0" fill-opacity="0.99"/><rect x="1082.34" y="302.29" width="56.82" height="2.0" fill="#9898d0" fill-opacity="0.92"/><rect x="1084.24" y="299.51" width="55.84" height="2.0" fill="#9898d0" fill-opacity="0.97"/><rect x="1087.17" y="296.74" width="52.91" height="2.0" fill="#9898d0" fill-opacity="0.94"/><rect x="1090.1" y="293.97" width="49.98" height="2.0" fill="#9898d0" fill-opacity="0.86"/><rect x="1093.49" y="291.2" width="28.38" height="2.0" fill="#6a6aa6" fill-opacity="1"/><path d="M1062.02 454.91h1.5v1.6h-1.5zM1063.52 454.91h1.5v1.6h-1.5zM1065.02 454.91h1.5v1.6h-1.5zM1066.52 454.91h1.5v1.6h-1.5zM1068.02 454.91h1.5v1.6h-1.5zM1071.02 454.91h1.5v1.6h-1.5zM1072.52 454.91h1.5v1.6h-1.5zM1074.02 454.91h1.5v1.6h-1.5zM1077.02 454.91h1.5v1.6h-1.5zM1080.02 454.91h1.5v1.6h-1.5zM1083.61 452.14h1.5v1.6h-1.5zM1085.11 452.14h1.5v1.6h-1.5zM1086.61 452.14h1.5v1.6h-1.5zM1088.11 452.14h1.5v1.6h-1.5zM1089.61 452.14h1.5v1.6h-1.5zM1091.11 452.14h1.5v1.6h-1.5zM1092.61 452.14h1.5v1.6h-1.5zM1094.11 452.14h1.5v1.6h-1.5zM1095.61 452.14h1.5v1.6h-1.5zM1097.11 452.14h1.5v1.6h-1.5zM1098.61 452.14h1.5v1.6h-1.5zM1101.61 452.14h1.5v1.6h-1.5zM1103.11 452.14h1.5v1.6h-1.5zM1093.79 449.37h1.5v1.6h-1.5zM1095.29 449.37h1.5v1.6h-1.5zM1096.79 449.37h1.5v1.6h-1.5zM1098.29 449.37h1.5v1.6h-1.5zM1099.79 449.37h1.5v1.6h-1.5zM1101.29 449.37h1.5v1.6h-1.5zM1107.29 449.37h1.5v1.6h-1.5zM1110.29 449.37h1.5v1.6h-1.5zM1111.79 449.37h1.5v1.6h-1.5zM1113.29 449.37h1.5v1.6h-1.5zM1114.79 449.37h1.5v1.6h-1.5zM1117.79 449.37h1.5v1.6h-1.5zM1119.29 449.37h1.5v1.6h-1.5zM1129.79 449.37h1.5v1.6h-1.5zM1135.79 449.37h1.5v1.6h-1.5zM1137.29 449.37h1.5v1.6h-1.5zM1097.03 446.6h1.5v1.6h-1.5zM1098.53 446.6h1.5v1.6h-1.5zM1100.03 446.6h1.5v1.6h-1.5zM1101.53 446.6h1.5v1.6h-1.5zM1103.03 446.6h1.5v1.6h-1.5zM1104.53 446.6h1.5v1.6h-1.5zM1107.53 446.6h1.5v1.6h-1.5zM1109.03 446.6h1.5v1.6h-1.5zM1113.53 446.6h1.5v1.6h-1.5zM1116.53 446.6h1.5v1.6h-1.5zM1118.03 446.6h1.5v1.6h-1.5zM1119.53 446.6h1.5v1.6h-1.5zM1121.03 446.6h1.5v1.6h-1.5zM1122.53 446.6h1.5v1.6h-1.5zM1124.03 446.6h1.5v1.6h-1.5zM1127.03 446.6h1.5v1.6h-1.5zM1128.53 446.6h1.5v1.6h-1.5zM1131.53 446.6h1.5v1.6h-1.5zM1133.03 446.6h1.5v1.6h-1.5zM1134.53 446.6h1.5v1.6h-1.5zM1143.53 446.6h1.5v1.6h-1.5zM1099.58 443.83h1.5v1.6h-1.5zM1101.08 443.83h1.5v1.6h-1.5zM1102.58 443.83h1.5v1.6h-1.5zM1104.08 443.83h1.5v1.6h-1.5zM1107.08 443.83h1.5v1.6h-1.5zM1108.58 443.83h1.5v1.6h-1.5zM1110.08 443.83h1.5v1.6h-1.5zM1111.58 443.83h1.5v1.6h-1.5zM1119.08 443.83h1.5v1.6h-1.5zM1122.08 443.83h1.5v1.6h-1.5zM1123.58 443.83h1.5v1.6h-1.5zM1125.08 443.83h1.5v1.6h-1.5zM1126.58 443.83h1.5v1.6h-1.5zM1129.58 443.83h1.5v1.6h-1.5zM1132.58 443.83h1.5v1.6h-1.5zM1102.12 441.06h1.5v1.6h-1.5zM1103.62 441.06h1.5v1.6h-1.5zM1105.12 441.06h1.5v1.6h-1.5zM1106.62 441.06h1.5v1.6h-1.5zM1108.12 441.06h1.5v1.6h-1.5zM1109.62 441.06h1.5v1.6h-1.5zM1111.12 441.06h1.5v1.6h-1.5zM1115.62 441.06h1.5v1.6h-1.5zM1117.12 441.06h1.5v1.6h-1.5zM1118.62 441.06h1.5v1.6h-1.5zM1102.12 438.29h1.5v1.6h-1.5zM1103.62 438.29h1.5v1.6h-1.5zM1105.12 438.29h1.5v1.6h-1.5zM1106.62 438.29h1.5v1.6h-1.5zM1108.12 438.29h1.5v1.6h-1.5zM1109.62 438.29h1.5v1.6h-1.5zM1111.12 438.29h1.5v1.6h-1.5zM1112.62 438.29h1.5v1.6h-1.5zM1114.12 438.29h1.5v1.6h-1.5zM1115.62 438.29h1.5v1.6h-1.5zM962.54 438.29h1.5v1.6h-1.5zM959.54 438.29h1.5v1.6h-1.5zM958.04 438.29h1.5v1.6h-1.5zM955.04 438.29h1.5v1.6h-1.5zM1102.12 435.51h1.5v1.6h-1.5zM1103.62 435.51h1.5v1.6h-1.5zM1105.12 435.51h1.5v1.6h-1.5zM1106.62 435.51h1.5v1.6h-1.5zM1108.12 435.51h1.5v1.6h-1.5zM1109.62 435.51h1.5v1.6h-1.5zM1111.12 435.51h1.5v1.6h-1.5zM1112.62 435.51h1.5v1.6h-1.5zM1114.12 435.51h1.5v1.6h-1.5zM1115.62 435.51h1.5v1.6h-1.5zM1120.12 435.51h1.5v1.6h-1.5zM1123.12 435.51h1.5v1.6h-1.5zM1124.62 435.51h1.5v1.6h-1.5zM1126.12 435.51h1.5v1.6h-1.5zM1129.12 435.51h1.5v1.6h-1.5zM1132.12 435.51h1.5v1.6h-1.5zM1136.62 435.51h1.5v1.6h-1.5zM1145.62 435.51h1.5v1.6h-1.5zM1147.12 435.51h1.5v1.6h-1.5zM973.19 435.51h1.5v1.6h-1.5zM971.69 435.51h1.5v1.6h-1.5zM968.69 435.51h1.5v1.6h-1.5zM967.19 435.51h1.5v1.6h-1.5zM965.69 435.51h1.5v1.6h-1.5zM964.19 435.51h1.5v1.6h-1.5zM962.69 435.51h1.5v1.6h-1.5zM959.69 435.51h1.5v1.6h-1.5zM1105.46 432.74h1.5v1.6h-1.5zM1106.96 432.74h1.5v1.6h-1.5zM1108.46 432.74h1.5v1.6h-1.5zM1109.96 432.74h1.5v1.6h-1.5zM1112.96 432.74h1.5v1.6h-1.5zM1114.46 432.74h1.5v1.6h-1.5zM1117.46 432.74h1.5v1.6h-1.5zM1118.96 432.74h1.5v1.6h-1.5zM1120.46 432.74h1.5v1.6h-1.5zM1121.96 432.74h1.5v1.6h-1.5zM1123.46 432.74h1.5v1.6h-1.5zM1126.46 432.74h1.5v1.6h-1.5zM1127.96 432.74h1.5v1.6h-1.5zM1129.46 432.74h1.5v1.6h-1.5zM1130.96 432.74h1.5v1.6h-1.5zM1135.46 432.74h1.5v1.6h-1.5zM1136.96 432.74h1.5v1.6h-1.5zM1138.46 432.74h1.5v1.6h-1.5zM974.01 432.74h1.5v1.6h-1.5zM972.51 432.74h1.5v1.6h-1.5zM971.01 432.74h1.5v1.6h-1.5zM969.51 432.74h1.5v1.6h-1.5zM968.01 432.74h1.5v1.6h-1.5zM963.51 432.74h1.5v1.6h-1.5zM1108.81 429.97h1.5v1.6h-1.5zM1110.31 429.97h1.5v1.6h-1.5zM1111.81 429.97h1.5v1.6h-1.5zM1113.31 429.97h1.5v1.6h-1.5zM1116.31 429.97h1.5v1.6h-1.5zM1117.81 429.97h1.5v1.6h-1.5zM1120.81 429.97h1.5v1.6h-1.5zM1122.31 429.97h1.5v1.6h-1.5zM1125.31 429.97h1.5v1.6h-1.5zM1128.31 429.97h1.5v1.6h-1.5zM1131.31 429.97h1.5v1.6h-1.5zM1135.81 429.97h1.5v1.6h-1.5zM974.83 429.97h1.5v1.6h-1.5zM973.33 429.97h1.5v1.6h-1.5zM971.83 429.97h1.5v1.6h-1.5zM968.83 429.97h1.5v1.6h-1.5zM1112.15 427.2h1.5v1.6h-1.5zM1113.65 427.2h1.5v1.6h-1.5zM1115.15 427.2h1.5v1.6h-1.5zM1116.65 427.2h1.5v1.6h-1.5zM1118.15 427.2h1.5v1.6h-1.5zM1121.15 427.2h1.5v1.6h-1.5zM1124.15 427.2h1.5v1.6h-1.5zM1127.15 427.2h1.5v1.6h-1.5zM1128.65 427.2h1.5v1.6h-1.5zM1112.15 424.43h1.5v1.6h-1.5zM1113.65 424.43h1.5v1.6h-1.5zM1115.15 424.43h1.5v1.6h-1.5zM1116.65 424.43h1.5v1.6h-1.5zM1118.15 424.43h1.5v1.6h-1.5zM1119.65 424.43h1.5v1.6h-1.5zM1121.15 424.43h1.5v1.6h-1.5zM1128.65 424.43h1.5v1.6h-1.5zM1112.15 421.66h1.5v1.6h-1.5zM1113.65 421.66h1.5v1.6h-1.5zM1115.15 421.66h1.5v1.6h-1.5zM1116.65 421.66h1.5v1.6h-1.5zM1119.65 421.66h1.5v1.6h-1.5zM1121.15 421.66h1.5v1.6h-1.5zM1128.65 421.66h1.5v1.6h-1.5zM1112.15 418.89h1.5v1.6h-1.5zM1113.65 418.89h1.5v1.6h-1.5zM1115.15 418.89h1.5v1.6h-1.5zM1116.65 418.89h1.5v1.6h-1.5zM1119.65 418.89h1.5v1.6h-1.5zM1121.15 418.89h1.5v1.6h-1.5zM1124.15 418.89h1.5v1.6h-1.5zM1125.65 418.89h1.5v1.6h-1.5zM1127.15 418.89h1.5v1.6h-1.5zM1130.15 418.89h1.5v1.6h-1.5zM1113.43 416.11h1.5v1.6h-1.5zM1114.93 416.11h1.5v1.6h-1.5zM1116.43 416.11h1.5v1.6h-1.5zM1117.93 416.11h1.5v1.6h-1.5zM1119.43 416.11h1.5v1.6h-1.5zM1120.93 416.11h1.5v1.6h-1.5zM1122.43 416.11h1.5v1.6h-1.5zM1125.43 416.11h1.5v1.6h-1.5zM1126.93 416.11h1.5v1.6h-1.5zM1128.43 416.11h1.5v1.6h-1.5zM1129.93 416.11h1.5v1.6h-1.5zM1131.43 416.11h1.5v1.6h-1.5zM1132.93 416.11h1.5v1.6h-1.5zM1134.43 416.11h1.5v1.6h-1.5zM1114.72 413.34h1.5v1.6h-1.5zM1116.22 413.34h1.5v1.6h-1.5zM1117.72 413.34h1.5v1.6h-1.5zM1119.22 413.34h1.5v1.6h-1.5zM1120.72 413.34h1.5v1.6h-1.5zM1123.72 413.34h1.5v1.6h-1.5zM1125.22 413.34h1.5v1.6h-1.5zM1129.72 413.34h1.5v1.6h-1.5zM1131.22 413.34h1.5v1.6h-1.5zM1132.72 413.34h1.5v1.6h-1.5zM1116 410.57h1.5v1.6h-1.5zM1117.5 410.57h1.5v1.6h-1.5zM1119 410.57h1.5v1.6h-1.5zM1120.5 410.57h1.5v1.6h-1.5zM1122 410.57h1.5v1.6h-1.5zM1123.5 410.57h1.5v1.6h-1.5zM1125 410.57h1.5v1.6h-1.5zM1126.5 410.57h1.5v1.6h-1.5zM1128 410.57h1.5v1.6h-1.5zM1129.5 410.57h1.5v1.6h-1.5zM1132.5 410.57h1.5v1.6h-1.5zM1134 410.57h1.5v1.6h-1.5zM1135.5 410.57h1.5v1.6h-1.5zM1137 410.57h1.5v1.6h-1.5zM1138.5 410.57h1.5v1.6h-1.5zM1143 410.57h1.5v1.6h-1.5zM1117.03 407.8h1.5v1.6h-1.5zM1118.53 407.8h1.5v1.6h-1.5zM1120.03 407.8h1.5v1.6h-1.5zM1121.53 407.8h1.5v1.6h-1.5zM1123.03 407.8h1.5v1.6h-1.5zM1124.53 407.8h1.5v1.6h-1.5zM1126.03 407.8h1.5v1.6h-1.5zM1127.53 407.8h1.5v1.6h-1.5zM1129.03 407.8h1.5v1.6h-1.5zM1135.03 407.8h1.5v1.6h-1.5zM1138.03 407.8h1.5v1.6h-1.5zM1139.53 407.8h1.5v1.6h-1.5zM1142.53 407.8h1.5v1.6h-1.5zM1148.53 407.8h1.5v1.6h-1.5zM1118.06 405.03h1.5v1.6h-1.5zM1119.56 405.03h1.5v1.6h-1.5zM1121.06 405.03h1.5v1.6h-1.5zM1122.56 405.03h1.5v1.6h-1.5zM1124.06 405.03h1.5v1.6h-1.5zM1127.06 405.03h1.5v1.6h-1.5zM1128.56 405.03h1.5v1.6h-1.5zM1130.06 405.03h1.5v1.6h-1.5zM1131.56 405.03h1.5v1.6h-1.5zM1136.06 405.03h1.5v1.6h-1.5zM1137.56 405.03h1.5v1.6h-1.5zM1139.06 405.03h1.5v1.6h-1.5zM1119.09 402.26h1.5v1.6h-1.5zM1120.59 402.26h1.5v1.6h-1.5zM1123.59 402.26h1.5v1.6h-1.5zM1125.09 402.26h1.5v1.6h-1.5zM1128.09 402.26h1.5v1.6h-1.5zM1129.59 402.26h1.5v1.6h-1.5zM1131.09 402.26h1.5v1.6h-1.5zM1132.59 402.26h1.5v1.6h-1.5zM1134.09 402.26h1.5v1.6h-1.5zM1135.59 402.26h1.5v1.6h-1.5zM1138.59 402.26h1.5v1.6h-1.5zM1140.09 402.26h1.5v1.6h-1.5zM1141.59 402.26h1.5v1.6h-1.5zM1143.09 402.26h1.5v1.6h-1.5zM1144.59 402.26h1.5v1.6h-1.5zM1147.59 402.26h1.5v1.6h-1.5zM1150.59 402.26h1.5v1.6h-1.5zM1119.09 399.49h1.5v1.6h-1.5zM1120.59 399.49h1.5v1.6h-1.5zM1122.09 399.49h1.5v1.6h-1.5zM1123.59 399.49h1.5v1.6h-1.5zM1125.09 399.49h1.5v1.6h-1.5zM1126.59 399.49h1.5v1.6h-1.5zM1128.09 399.49h1.5v1.6h-1.5zM1134.09 399.49h1.5v1.6h-1.5zM1135.59 399.49h1.5v1.6h-1.5zM1137.09 399.49h1.5v1.6h-1.5zM1138.59 399.49h1.5v1.6h-1.5zM1140.09 399.49h1.5v1.6h-1.5zM1143.09 399.49h1.5v1.6h-1.5zM1119.09 396.71h1.5v1.6h-1.5zM1120.59 396.71h1.5v1.6h-1.5zM1122.09 396.71h1.5v1.6h-1.5zM1123.59 396.71h1.5v1.6h-1.5zM1126.59 396.71h1.5v1.6h-1.5zM1129.59 396.71h1.5v1.6h-1.5zM1131.09 396.71h1.5v1.6h-1.5zM1132.59 396.71h1.5v1.6h-1.5zM1135.59 396.71h1.5v1.6h-1.5zM1138.59 396.71h1.5v1.6h-1.5zM1143.09 396.71h1.5v1.6h-1.5zM1144.59 396.71h1.5v1.6h-1.5zM1120.59 393.94h1.5v1.6h-1.5zM1122.09 393.94h1.5v1.6h-1.5zM1123.59 393.94h1.5v1.6h-1.5zM1125.09 393.94h1.5v1.6h-1.5zM1126.59 393.94h1.5v1.6h-1.5zM1128.09 393.94h1.5v1.6h-1.5zM1132.59 393.94h1.5v1.6h-1.5zM1134.09 393.94h1.5v1.6h-1.5zM1119.6 391.17h1.5v1.6h-1.5zM1121.1 391.17h1.5v1.6h-1.5zM1122.6 391.17h1.5v1.6h-1.5zM1124.1 391.17h1.5v1.6h-1.5zM1125.6 391.17h1.5v1.6h-1.5zM1127.1 391.17h1.5v1.6h-1.5zM1128.6 391.17h1.5v1.6h-1.5zM1130.1 391.17h1.5v1.6h-1.5zM1133.1 391.17h1.5v1.6h-1.5zM1134.6 391.17h1.5v1.6h-1.5zM1136.1 391.17h1.5v1.6h-1.5zM1137.6 391.17h1.5v1.6h-1.5zM1120.12 388.4h1.5v1.6h-1.5zM1121.62 388.4h1.5v1.6h-1.5zM1123.12 388.4h1.5v1.6h-1.5zM1124.62 388.4h1.5v1.6h-1.5zM1126.12 388.4h1.5v1.6h-1.5zM1129.12 388.4h1.5v1.6h-1.5zM1130.62 388.4h1.5v1.6h-1.5zM1136.62 388.4h1.5v1.6h-1.5zM1138.12 388.4h1.5v1.6h-1.5zM1120.63 385.63h1.5v1.6h-1.5zM1122.13 385.63h1.5v1.6h-1.5zM1123.63 385.63h1.5v1.6h-1.5zM1125.13 385.63h1.5v1.6h-1.5zM1126.63 385.63h1.5v1.6h-1.5zM1128.13 385.63h1.5v1.6h-1.5zM1131.13 385.63h1.5v1.6h-1.5zM1132.63 385.63h1.5v1.6h-1.5zM1134.13 385.63h1.5v1.6h-1.5zM1135.63 385.63h1.5v1.6h-1.5zM1140.13 385.63h1.5v1.6h-1.5zM1121.15 382.86h1.5v1.6h-1.5zM1122.65 382.86h1.5v1.6h-1.5zM1125.65 382.86h1.5v1.6h-1.5zM1130.15 382.86h1.5v1.6h-1.5zM1133.15 382.86h1.5v1.6h-1.5zM1134.65 382.86h1.5v1.6h-1.5zM1136.15 382.86h1.5v1.6h-1.5zM1139.15 382.86h1.5v1.6h-1.5zM1121.66 380.09h1.5v1.6h-1.5zM1123.16 380.09h1.5v1.6h-1.5zM1124.66 380.09h1.5v1.6h-1.5zM1126.16 380.09h1.5v1.6h-1.5zM1133.66 380.09h1.5v1.6h-1.5zM1138.16 380.09h1.5v1.6h-1.5zM1122.17 377.31h1.5v1.6h-1.5zM1123.67 377.31h1.5v1.6h-1.5zM1125.17 377.31h1.5v1.6h-1.5zM1126.67 377.31h1.5v1.6h-1.5zM1129.67 377.31h1.5v1.6h-1.5zM1131.17 377.31h1.5v1.6h-1.5zM1135.67 377.31h1.5v1.6h-1.5zM1123.72 374.54h1.5v1.6h-1.5zM1125.22 374.54h1.5v1.6h-1.5zM1128.22 374.54h1.5v1.6h-1.5zM1129.72 374.54h1.5v1.6h-1.5zM1131.22 374.54h1.5v1.6h-1.5zM1132.72 374.54h1.5v1.6h-1.5zM1134.22 374.54h1.5v1.6h-1.5zM1135.72 374.54h1.5v1.6h-1.5zM1137.22 374.54h1.5v1.6h-1.5zM1146.22 374.54h1.5v1.6h-1.5zM977.66 374.54h1.5v1.6h-1.5zM1125.26 371.77h1.5v1.6h-1.5zM1126.76 371.77h1.5v1.6h-1.5zM1128.26 371.77h1.5v1.6h-1.5zM1129.76 371.77h1.5v1.6h-1.5zM1131.26 371.77h1.5v1.6h-1.5zM1134.26 371.77h1.5v1.6h-1.5zM1135.76 371.77h1.5v1.6h-1.5zM1141.76 371.77h1.5v1.6h-1.5zM1143.26 371.77h1.5v1.6h-1.5zM1146.26 371.77h1.5v1.6h-1.5zM1149.26 371.77h1.5v1.6h-1.5zM1152.26 371.77h1.5v1.6h-1.5zM979.67 371.77h1.5v1.6h-1.5zM978.17 371.77h1.5v1.6h-1.5zM1122.17 369h1.5v1.6h-1.5zM1123.67 369h1.5v1.6h-1.5zM1125.17 369h1.5v1.6h-1.5zM1126.67 369h1.5v1.6h-1.5zM1128.17 369h1.5v1.6h-1.5zM1129.67 369h1.5v1.6h-1.5zM1132.67 369h1.5v1.6h-1.5zM1134.17 369h1.5v1.6h-1.5zM1135.67 369h1.5v1.6h-1.5zM1140.17 369h1.5v1.6h-1.5zM1143.17 369h1.5v1.6h-1.5zM1144.67 369h1.5v1.6h-1.5zM1146.17 369h1.5v1.6h-1.5zM1149.17 369h1.5v1.6h-1.5zM1152.17 369h1.5v1.6h-1.5zM1153.67 369h1.5v1.6h-1.5zM998.18 369h1.5v1.6h-1.5zM996.68 369h1.5v1.6h-1.5zM995.18 369h1.5v1.6h-1.5zM992.18 369h1.5v1.6h-1.5zM990.68 369h1.5v1.6h-1.5zM989.18 369h1.5v1.6h-1.5zM983.18 369h1.5v1.6h-1.5zM1117.08 366.23h1.5v1.6h-1.5zM1118.58 366.23h1.5v1.6h-1.5zM1120.08 366.23h1.5v1.6h-1.5zM1121.58 366.23h1.5v1.6h-1.5zM1123.08 366.23h1.5v1.6h-1.5zM1127.58 366.23h1.5v1.6h-1.5zM1130.58 366.23h1.5v1.6h-1.5zM1132.08 366.23h1.5v1.6h-1.5zM1135.08 366.23h1.5v1.6h-1.5zM1136.58 366.23h1.5v1.6h-1.5zM1138.08 366.23h1.5v1.6h-1.5zM1139.58 366.23h1.5v1.6h-1.5zM1142.58 366.23h1.5v1.6h-1.5zM1144.08 366.23h1.5v1.6h-1.5zM1026.56 366.23h1.5v1.6h-1.5zM1025.06 366.23h1.5v1.6h-1.5zM1023.56 366.23h1.5v1.6h-1.5zM1022.06 366.23h1.5v1.6h-1.5zM1020.56 366.23h1.5v1.6h-1.5zM1019.06 366.23h1.5v1.6h-1.5zM1017.56 366.23h1.5v1.6h-1.5zM1016.06 366.23h1.5v1.6h-1.5zM1014.56 366.23h1.5v1.6h-1.5zM1013.06 366.23h1.5v1.6h-1.5zM1011.56 366.23h1.5v1.6h-1.5zM1008.56 366.23h1.5v1.6h-1.5zM1007.06 366.23h1.5v1.6h-1.5zM1005.56 366.23h1.5v1.6h-1.5zM1002.56 366.23h1.5v1.6h-1.5zM993.56 366.23h1.5v1.6h-1.5zM984.56 366.23h1.5v1.6h-1.5zM981.56 366.23h1.5v1.6h-1.5zM1119.63 363.46h1.5v1.6h-1.5zM1121.13 363.46h1.5v1.6h-1.5zM1124.13 363.46h1.5v1.6h-1.5zM1125.63 363.46h1.5v1.6h-1.5zM1127.13 363.46h1.5v1.6h-1.5zM1128.63 363.46h1.5v1.6h-1.5zM1130.13 363.46h1.5v1.6h-1.5zM1131.63 363.46h1.5v1.6h-1.5zM1133.13 363.46h1.5v1.6h-1.5zM1136.13 363.46h1.5v1.6h-1.5zM1137.63 363.46h1.5v1.6h-1.5zM1143.63 363.46h1.5v1.6h-1.5zM1026.56 363.46h1.5v1.6h-1.5zM1025.06 363.46h1.5v1.6h-1.5zM1023.56 363.46h1.5v1.6h-1.5zM1022.06 363.46h1.5v1.6h-1.5zM1020.56 363.46h1.5v1.6h-1.5zM1017.56 363.46h1.5v1.6h-1.5zM1016.06 363.46h1.5v1.6h-1.5zM1014.56 363.46h1.5v1.6h-1.5zM1013.06 363.46h1.5v1.6h-1.5zM1011.56 363.46h1.5v1.6h-1.5zM1010.06 363.46h1.5v1.6h-1.5zM1008.56 363.46h1.5v1.6h-1.5zM1007.06 363.46h1.5v1.6h-1.5zM1004.06 363.46h1.5v1.6h-1.5zM1002.56 363.46h1.5v1.6h-1.5zM1001.06 363.46h1.5v1.6h-1.5zM999.56 363.46h1.5v1.6h-1.5zM998.06 363.46h1.5v1.6h-1.5zM995.06 363.46h1.5v1.6h-1.5zM993.56 363.46h1.5v1.6h-1.5zM990.56 363.46h1.5v1.6h-1.5zM1122.17 360.69h1.5v1.6h-1.5zM1123.67 360.69h1.5v1.6h-1.5zM1125.17 360.69h1.5v1.6h-1.5zM1126.67 360.69h1.5v1.6h-1.5zM1128.17 360.69h1.5v1.6h-1.5zM1132.67 360.69h1.5v1.6h-1.5zM1134.17 360.69h1.5v1.6h-1.5zM1135.67 360.69h1.5v1.6h-1.5zM1026.56 360.69h1.5v1.6h-1.5zM1025.06 360.69h1.5v1.6h-1.5zM1023.56 360.69h1.5v1.6h-1.5zM1022.06 360.69h1.5v1.6h-1.5zM1020.56 360.69h1.5v1.6h-1.5zM1017.56 360.69h1.5v1.6h-1.5zM1016.06 360.69h1.5v1.6h-1.5zM1013.06 360.69h1.5v1.6h-1.5zM1011.56 360.69h1.5v1.6h-1.5zM1010.06 360.69h1.5v1.6h-1.5zM1121.15 357.91h1.5v1.6h-1.5zM1122.65 357.91h1.5v1.6h-1.5zM1124.15 357.91h1.5v1.6h-1.5zM1125.65 357.91h1.5v1.6h-1.5zM1127.15 357.91h1.5v1.6h-1.5zM1130.15 357.91h1.5v1.6h-1.5zM1131.65 357.91h1.5v1.6h-1.5zM1134.65 357.91h1.5v1.6h-1.5zM1136.15 357.91h1.5v1.6h-1.5zM1143.65 357.91h1.5v1.6h-1.5zM1033.5 357.91h1.5v1.6h-1.5zM1032 357.91h1.5v1.6h-1.5zM1030.5 357.91h1.5v1.6h-1.5zM1029 357.91h1.5v1.6h-1.5zM1024.5 357.91h1.5v1.6h-1.5zM1023 357.91h1.5v1.6h-1.5zM1021.5 357.91h1.5v1.6h-1.5zM1018.5 357.91h1.5v1.6h-1.5zM1012.5 357.91h1.5v1.6h-1.5zM1009.5 357.91h1.5v1.6h-1.5zM1120.12 355.14h1.5v1.6h-1.5zM1121.62 355.14h1.5v1.6h-1.5zM1123.12 355.14h1.5v1.6h-1.5zM1124.62 355.14h1.5v1.6h-1.5zM1126.12 355.14h1.5v1.6h-1.5zM1129.12 355.14h1.5v1.6h-1.5zM1130.62 355.14h1.5v1.6h-1.5zM1132.12 355.14h1.5v1.6h-1.5zM1133.62 355.14h1.5v1.6h-1.5zM1135.12 355.14h1.5v1.6h-1.5zM1136.62 355.14h1.5v1.6h-1.5zM1138.12 355.14h1.5v1.6h-1.5zM1141.12 355.14h1.5v1.6h-1.5zM1144.12 355.14h1.5v1.6h-1.5zM1040.44 355.14h1.5v1.6h-1.5zM1038.94 355.14h1.5v1.6h-1.5zM1035.94 355.14h1.5v1.6h-1.5zM1034.44 355.14h1.5v1.6h-1.5zM1032.94 355.14h1.5v1.6h-1.5zM1031.44 355.14h1.5v1.6h-1.5zM1029.94 355.14h1.5v1.6h-1.5zM1028.44 355.14h1.5v1.6h-1.5zM1026.94 355.14h1.5v1.6h-1.5zM1025.44 355.14h1.5v1.6h-1.5zM1023.94 355.14h1.5v1.6h-1.5zM1020.94 355.14h1.5v1.6h-1.5zM1019.44 355.14h1.5v1.6h-1.5zM1017.94 355.14h1.5v1.6h-1.5zM1016.44 355.14h1.5v1.6h-1.5zM1014.94 355.14h1.5v1.6h-1.5zM1119.09 352.37h1.5v1.6h-1.5zM1120.59 352.37h1.5v1.6h-1.5zM1122.09 352.37h1.5v1.6h-1.5zM1123.59 352.37h1.5v1.6h-1.5zM1125.09 352.37h1.5v1.6h-1.5zM1126.59 352.37h1.5v1.6h-1.5zM1131.09 352.37h1.5v1.6h-1.5zM1132.59 352.37h1.5v1.6h-1.5zM1135.59 352.37h1.5v1.6h-1.5zM1137.09 352.37h1.5v1.6h-1.5zM1144.59 352.37h1.5v1.6h-1.5zM1047.38 352.37h1.5v1.6h-1.5zM1045.88 352.37h1.5v1.6h-1.5zM1044.38 352.37h1.5v1.6h-1.5zM1042.88 352.37h1.5v1.6h-1.5zM1041.38 352.37h1.5v1.6h-1.5zM1038.38 352.37h1.5v1.6h-1.5zM1035.38 352.37h1.5v1.6h-1.5zM1033.88 352.37h1.5v1.6h-1.5zM1030.88 352.37h1.5v1.6h-1.5zM1029.38 352.37h1.5v1.6h-1.5zM1027.88 352.37h1.5v1.6h-1.5zM1026.38 352.37h1.5v1.6h-1.5zM1023.38 352.37h1.5v1.6h-1.5zM1015.88 352.37h1.5v1.6h-1.5zM1012.88 352.37h1.5v1.6h-1.5zM1121.15 349.6h1.5v1.6h-1.5zM1122.65 349.6h1.5v1.6h-1.5zM1125.65 349.6h1.5v1.6h-1.5zM1127.15 349.6h1.5v1.6h-1.5zM1128.65 349.6h1.5v1.6h-1.5zM1130.15 349.6h1.5v1.6h-1.5zM1133.15 349.6h1.5v1.6h-1.5zM1049.33 349.6h1.5v1.6h-1.5zM1047.83 349.6h1.5v1.6h-1.5zM1046.33 349.6h1.5v1.6h-1.5zM1044.83 349.6h1.5v1.6h-1.5zM1043.33 349.6h1.5v1.6h-1.5zM1041.83 349.6h1.5v1.6h-1.5zM1037.33 349.6h1.5v1.6h-1.5zM1035.83 349.6h1.5v1.6h-1.5zM1034.33 349.6h1.5v1.6h-1.5zM1032.83 349.6h1.5v1.6h-1.5zM1031.33 349.6h1.5v1.6h-1.5zM1029.83 349.6h1.5v1.6h-1.5zM1028.33 349.6h1.5v1.6h-1.5zM1026.83 349.6h1.5v1.6h-1.5zM1023.83 349.6h1.5v1.6h-1.5zM1022.33 349.6h1.5v1.6h-1.5zM1019.33 349.6h1.5v1.6h-1.5zM1017.83 349.6h1.5v1.6h-1.5zM1013.33 349.6h1.5v1.6h-1.5zM1010.33 349.6h1.5v1.6h-1.5zM1123.2 346.83h1.5v1.6h-1.5zM1124.7 346.83h1.5v1.6h-1.5zM1126.2 346.83h1.5v1.6h-1.5zM1127.7 346.83h1.5v1.6h-1.5zM1130.7 346.83h1.5v1.6h-1.5zM1135.2 346.83h1.5v1.6h-1.5zM1136.7 346.83h1.5v1.6h-1.5zM1138.2 346.83h1.5v1.6h-1.5zM1139.7 346.83h1.5v1.6h-1.5zM1142.7 346.83h1.5v1.6h-1.5zM1051.29 346.83h1.5v1.6h-1.5zM1048.29 346.83h1.5v1.6h-1.5zM1046.79 346.83h1.5v1.6h-1.5zM1045.29 346.83h1.5v1.6h-1.5zM1043.79 346.83h1.5v1.6h-1.5zM1042.29 346.83h1.5v1.6h-1.5zM1040.79 346.83h1.5v1.6h-1.5zM1037.79 346.83h1.5v1.6h-1.5zM1036.29 346.83h1.5v1.6h-1.5zM1033.29 346.83h1.5v1.6h-1.5zM1031.79 346.83h1.5v1.6h-1.5zM1019.79 346.83h1.5v1.6h-1.5zM1018.29 346.83h1.5v1.6h-1.5zM1125.26 344.06h1.5v1.6h-1.5zM1126.76 344.06h1.5v1.6h-1.5zM1128.26 344.06h1.5v1.6h-1.5zM1129.76 344.06h1.5v1.6h-1.5zM1131.26 344.06h1.5v1.6h-1.5zM1132.76 344.06h1.5v1.6h-1.5zM1134.26 344.06h1.5v1.6h-1.5zM1135.76 344.06h1.5v1.6h-1.5zM1138.76 344.06h1.5v1.6h-1.5zM1140.26 344.06h1.5v1.6h-1.5zM1146.26 344.06h1.5v1.6h-1.5zM1147.76 344.06h1.5v1.6h-1.5zM1053.24 344.06h1.5v1.6h-1.5zM1051.74 344.06h1.5v1.6h-1.5zM1050.24 344.06h1.5v1.6h-1.5zM1048.74 344.06h1.5v1.6h-1.5zM1047.24 344.06h1.5v1.6h-1.5zM1045.74 344.06h1.5v1.6h-1.5zM1044.24 344.06h1.5v1.6h-1.5zM1039.74 344.06h1.5v1.6h-1.5zM1038.24 344.06h1.5v1.6h-1.5zM1036.74 344.06h1.5v1.6h-1.5zM1033.74 344.06h1.5v1.6h-1.5zM1030.74 344.06h1.5v1.6h-1.5zM1027.74 344.06h1.5v1.6h-1.5zM1026.24 344.06h1.5v1.6h-1.5zM1024.74 344.06h1.5v1.6h-1.5zM1126.29 341.29h1.5v1.6h-1.5zM1127.79 341.29h1.5v1.6h-1.5zM1129.29 341.29h1.5v1.6h-1.5zM1130.79 341.29h1.5v1.6h-1.5zM1132.29 341.29h1.5v1.6h-1.5zM1133.79 341.29h1.5v1.6h-1.5zM1136.79 341.29h1.5v1.6h-1.5zM1138.29 341.29h1.5v1.6h-1.5zM1139.79 341.29h1.5v1.6h-1.5zM1142.79 341.29h1.5v1.6h-1.5zM1144.29 341.29h1.5v1.6h-1.5zM1147.29 341.29h1.5v1.6h-1.5zM1148.79 341.29h1.5v1.6h-1.5zM1150.29 341.29h1.5v1.6h-1.5zM1153.29 341.29h1.5v1.6h-1.5zM1054.94 341.29h1.5v1.6h-1.5zM1053.44 341.29h1.5v1.6h-1.5zM1048.94 341.29h1.5v1.6h-1.5zM1047.44 341.29h1.5v1.6h-1.5zM1041.44 341.29h1.5v1.6h-1.5zM1035.44 341.29h1.5v1.6h-1.5zM1032.44 341.29h1.5v1.6h-1.5zM1029.44 341.29h1.5v1.6h-1.5zM1127.32 338.51h1.5v1.6h-1.5zM1128.82 338.51h1.5v1.6h-1.5zM1130.32 338.51h1.5v1.6h-1.5zM1133.32 338.51h1.5v1.6h-1.5zM1134.82 338.51h1.5v1.6h-1.5zM1136.32 338.51h1.5v1.6h-1.5zM1137.82 338.51h1.5v1.6h-1.5zM1139.32 338.51h1.5v1.6h-1.5zM1142.32 338.51h1.5v1.6h-1.5zM1143.82 338.51h1.5v1.6h-1.5zM1145.32 338.51h1.5v1.6h-1.5zM1148.32 338.51h1.5v1.6h-1.5zM1151.32 338.51h1.5v1.6h-1.5zM1056.64 338.51h1.5v1.6h-1.5zM1055.14 338.51h1.5v1.6h-1.5zM1053.64 338.51h1.5v1.6h-1.5zM1052.14 338.51h1.5v1.6h-1.5zM1050.64 338.51h1.5v1.6h-1.5zM1046.14 338.51h1.5v1.6h-1.5zM1044.64 338.51h1.5v1.6h-1.5zM1037.14 338.51h1.5v1.6h-1.5zM1128.35 335.74h1.5v1.6h-1.5zM1129.85 335.74h1.5v1.6h-1.5zM1131.35 335.74h1.5v1.6h-1.5zM1132.85 335.74h1.5v1.6h-1.5zM1134.35 335.74h1.5v1.6h-1.5zM1135.85 335.74h1.5v1.6h-1.5zM1137.35 335.74h1.5v1.6h-1.5zM1138.85 335.74h1.5v1.6h-1.5zM1140.35 335.74h1.5v1.6h-1.5zM1141.85 335.74h1.5v1.6h-1.5zM1143.35 335.74h1.5v1.6h-1.5zM1144.85 335.74h1.5v1.6h-1.5zM1147.85 335.74h1.5v1.6h-1.5zM1150.85 335.74h1.5v1.6h-1.5zM1156.85 335.74h1.5v1.6h-1.5zM1058.33 335.74h1.5v1.6h-1.5zM1056.83 335.74h1.5v1.6h-1.5zM1055.33 335.74h1.5v1.6h-1.5zM1053.83 335.74h1.5v1.6h-1.5zM1050.83 335.74h1.5v1.6h-1.5zM1047.83 335.74h1.5v1.6h-1.5zM1126.8 332.97h1.5v1.6h-1.5zM1128.3 332.97h1.5v1.6h-1.5zM1129.8 332.97h1.5v1.6h-1.5zM1131.3 332.97h1.5v1.6h-1.5zM1132.8 332.97h1.5v1.6h-1.5zM1134.3 332.97h1.5v1.6h-1.5zM1135.8 332.97h1.5v1.6h-1.5zM1138.8 332.97h1.5v1.6h-1.5zM1144.8 332.97h1.5v1.6h-1.5zM1146.3 332.97h1.5v1.6h-1.5zM1156.8 332.97h1.5v1.6h-1.5zM1159.8 332.97h1.5v1.6h-1.5zM1061.06 332.97h1.5v1.6h-1.5zM1059.56 332.97h1.5v1.6h-1.5zM1058.06 332.97h1.5v1.6h-1.5zM1056.56 332.97h1.5v1.6h-1.5zM1055.06 332.97h1.5v1.6h-1.5zM1125.26 330.2h1.5v1.6h-1.5zM1126.76 330.2h1.5v1.6h-1.5zM1128.26 330.2h1.5v1.6h-1.5zM1129.76 330.2h1.5v1.6h-1.5zM1131.26 330.2h1.5v1.6h-1.5zM1132.76 330.2h1.5v1.6h-1.5zM1134.26 330.2h1.5v1.6h-1.5zM1135.76 330.2h1.5v1.6h-1.5zM1137.26 330.2h1.5v1.6h-1.5zM1138.76 330.2h1.5v1.6h-1.5zM1144.76 330.2h1.5v1.6h-1.5zM1147.76 330.2h1.5v1.6h-1.5zM1155.26 330.2h1.5v1.6h-1.5zM1159.76 330.2h1.5v1.6h-1.5zM1063.78 330.2h1.5v1.6h-1.5zM1062.28 330.2h1.5v1.6h-1.5zM1060.78 330.2h1.5v1.6h-1.5zM1059.28 330.2h1.5v1.6h-1.5zM1057.78 330.2h1.5v1.6h-1.5zM1054.78 330.2h1.5v1.6h-1.5zM1123.72 327.43h1.5v1.6h-1.5zM1125.22 327.43h1.5v1.6h-1.5zM1126.72 327.43h1.5v1.6h-1.5zM1129.72 327.43h1.5v1.6h-1.5zM1132.72 327.43h1.5v1.6h-1.5zM1134.22 327.43h1.5v1.6h-1.5zM1137.22 327.43h1.5v1.6h-1.5zM1138.72 327.43h1.5v1.6h-1.5zM1140.22 327.43h1.5v1.6h-1.5zM1141.72 327.43h1.5v1.6h-1.5zM1143.22 327.43h1.5v1.6h-1.5zM1144.72 327.43h1.5v1.6h-1.5zM1146.22 327.43h1.5v1.6h-1.5zM1147.72 327.43h1.5v1.6h-1.5zM1152.22 327.43h1.5v1.6h-1.5zM1066.51 327.43h1.5v1.6h-1.5zM1065.01 327.43h1.5v1.6h-1.5zM1063.51 327.43h1.5v1.6h-1.5zM1062.01 327.43h1.5v1.6h-1.5zM1060.51 327.43h1.5v1.6h-1.5zM1059.01 327.43h1.5v1.6h-1.5zM1127.06 324.66h1.5v1.6h-1.5zM1128.56 324.66h1.5v1.6h-1.5zM1130.06 324.66h1.5v1.6h-1.5zM1131.56 324.66h1.5v1.6h-1.5zM1133.06 324.66h1.5v1.6h-1.5zM1134.56 324.66h1.5v1.6h-1.5zM1137.56 324.66h1.5v1.6h-1.5zM1139.06 324.66h1.5v1.6h-1.5zM1140.56 324.66h1.5v1.6h-1.5zM1142.06 324.66h1.5v1.6h-1.5zM1143.56 324.66h1.5v1.6h-1.5zM1145.06 324.66h1.5v1.6h-1.5zM1149.56 324.66h1.5v1.6h-1.5zM1152.56 324.66h1.5v1.6h-1.5zM1154.06 324.66h1.5v1.6h-1.5zM1155.56 324.66h1.5v1.6h-1.5zM1160.06 324.66h1.5v1.6h-1.5zM1068.72 324.66h1.5v1.6h-1.5zM1067.22 324.66h1.5v1.6h-1.5zM1064.22 324.66h1.5v1.6h-1.5zM1130.4 321.89h1.5v1.6h-1.5zM1131.9 321.89h1.5v1.6h-1.5zM1133.4 321.89h1.5v1.6h-1.5zM1134.9 321.89h1.5v1.6h-1.5zM1136.4 321.89h1.5v1.6h-1.5zM1137.9 321.89h1.5v1.6h-1.5zM1139.4 321.89h1.5v1.6h-1.5zM1140.9 321.89h1.5v1.6h-1.5zM1142.4 321.89h1.5v1.6h-1.5zM1143.9 321.89h1.5v1.6h-1.5zM1145.4 321.89h1.5v1.6h-1.5zM1146.9 321.89h1.5v1.6h-1.5zM1149.9 321.89h1.5v1.6h-1.5zM1151.4 321.89h1.5v1.6h-1.5zM1152.9 321.89h1.5v1.6h-1.5zM1154.4 321.89h1.5v1.6h-1.5zM1070.93 321.89h1.5v1.6h-1.5zM1069.43 321.89h1.5v1.6h-1.5zM1067.93 321.89h1.5v1.6h-1.5zM1133.74 319.11h1.5v1.6h-1.5zM1135.24 319.11h1.5v1.6h-1.5zM1136.74 319.11h1.5v1.6h-1.5zM1138.24 319.11h1.5v1.6h-1.5zM1139.74 319.11h1.5v1.6h-1.5zM1144.24 319.11h1.5v1.6h-1.5zM1147.24 319.11h1.5v1.6h-1.5zM1148.74 319.11h1.5v1.6h-1.5zM1151.74 319.11h1.5v1.6h-1.5zM1156.24 319.11h1.5v1.6h-1.5zM1159.24 319.11h1.5v1.6h-1.5zM1165.24 319.11h1.5v1.6h-1.5zM1071.64 319.11h1.5v1.6h-1.5zM1070.14 319.11h1.5v1.6h-1.5zM1134.71 316.34h1.5v1.6h-1.5zM1136.21 316.34h1.5v1.6h-1.5zM1137.71 316.34h1.5v1.6h-1.5zM1139.21 316.34h1.5v1.6h-1.5zM1140.71 316.34h1.5v1.6h-1.5zM1142.21 316.34h1.5v1.6h-1.5zM1143.71 316.34h1.5v1.6h-1.5zM1146.71 316.34h1.5v1.6h-1.5zM1151.21 316.34h1.5v1.6h-1.5zM1155.71 316.34h1.5v1.6h-1.5zM1163.21 316.34h1.5v1.6h-1.5zM1074.41 316.34h1.5v1.6h-1.5zM1072.91 316.34h1.5v1.6h-1.5zM1071.41 316.34h1.5v1.6h-1.5zM1068.41 316.34h1.5v1.6h-1.5zM1065.41 316.34h1.5v1.6h-1.5zM1135.67 313.57h1.5v1.6h-1.5zM1137.17 313.57h1.5v1.6h-1.5zM1138.67 313.57h1.5v1.6h-1.5zM1140.17 313.57h1.5v1.6h-1.5zM1141.67 313.57h1.5v1.6h-1.5zM1146.17 313.57h1.5v1.6h-1.5zM1150.67 313.57h1.5v1.6h-1.5zM1152.17 313.57h1.5v1.6h-1.5zM1153.67 313.57h1.5v1.6h-1.5zM1155.17 313.57h1.5v1.6h-1.5zM1158.17 313.57h1.5v1.6h-1.5zM1161.17 313.57h1.5v1.6h-1.5zM1162.67 313.57h1.5v1.6h-1.5zM1075.69 313.57h1.5v1.6h-1.5zM1074.19 313.57h1.5v1.6h-1.5zM1072.69 313.57h1.5v1.6h-1.5zM1071.19 313.57h1.5v1.6h-1.5zM1069.69 313.57h1.5v1.6h-1.5zM1068.19 313.57h1.5v1.6h-1.5zM1066.69 313.57h1.5v1.6h-1.5zM1065.19 313.57h1.5v1.6h-1.5zM1063.69 313.57h1.5v1.6h-1.5zM1062.19 313.57h1.5v1.6h-1.5zM1136.64 310.8h1.5v1.6h-1.5zM1138.14 310.8h1.5v1.6h-1.5zM1141.14 310.8h1.5v1.6h-1.5zM1142.64 310.8h1.5v1.6h-1.5zM1144.14 310.8h1.5v1.6h-1.5zM1148.64 310.8h1.5v1.6h-1.5zM1150.14 310.8h1.5v1.6h-1.5zM1151.64 310.8h1.5v1.6h-1.5zM1153.14 310.8h1.5v1.6h-1.5zM1154.64 310.8h1.5v1.6h-1.5zM1156.14 310.8h1.5v1.6h-1.5zM1157.64 310.8h1.5v1.6h-1.5zM1076.96 310.8h1.5v1.6h-1.5zM1073.96 310.8h1.5v1.6h-1.5zM1072.46 310.8h1.5v1.6h-1.5zM1070.96 310.8h1.5v1.6h-1.5zM1069.46 310.8h1.5v1.6h-1.5zM1064.96 310.8h1.5v1.6h-1.5zM1137.6 308.03h1.5v1.6h-1.5zM1139.1 308.03h1.5v1.6h-1.5zM1140.6 308.03h1.5v1.6h-1.5zM1142.1 308.03h1.5v1.6h-1.5zM1145.1 308.03h1.5v1.6h-1.5zM1148.1 308.03h1.5v1.6h-1.5zM1151.1 308.03h1.5v1.6h-1.5zM1152.6 308.03h1.5v1.6h-1.5zM1154.1 308.03h1.5v1.6h-1.5zM1155.6 308.03h1.5v1.6h-1.5zM1158.6 308.03h1.5v1.6h-1.5zM1078.23 308.03h1.5v1.6h-1.5zM1076.73 308.03h1.5v1.6h-1.5zM1075.23 308.03h1.5v1.6h-1.5zM1073.73 308.03h1.5v1.6h-1.5zM1072.23 308.03h1.5v1.6h-1.5zM1070.73 308.03h1.5v1.6h-1.5zM1066.23 308.03h1.5v1.6h-1.5zM1138.53 305.26h1.5v1.6h-1.5zM1140.03 305.26h1.5v1.6h-1.5zM1143.03 305.26h1.5v1.6h-1.5zM1146.03 305.26h1.5v1.6h-1.5zM1147.53 305.26h1.5v1.6h-1.5zM1149.03 305.26h1.5v1.6h-1.5zM1150.53 305.26h1.5v1.6h-1.5zM1155.03 305.26h1.5v1.6h-1.5zM1156.53 305.26h1.5v1.6h-1.5zM1164.03 305.26h1.5v1.6h-1.5zM1080.13 305.26h1.5v1.6h-1.5zM1078.63 305.26h1.5v1.6h-1.5zM1074.13 305.26h1.5v1.6h-1.5zM1071.13 305.26h1.5v1.6h-1.5zM1139.45 302.49h1.5v1.6h-1.5zM1140.95 302.49h1.5v1.6h-1.5zM1142.45 302.49h1.5v1.6h-1.5zM1145.45 302.49h1.5v1.6h-1.5zM1146.95 302.49h1.5v1.6h-1.5zM1148.45 302.49h1.5v1.6h-1.5zM1149.95 302.49h1.5v1.6h-1.5zM1151.45 302.49h1.5v1.6h-1.5zM1152.95 302.49h1.5v1.6h-1.5zM1154.45 302.49h1.5v1.6h-1.5zM1155.95 302.49h1.5v1.6h-1.5zM1157.45 302.49h1.5v1.6h-1.5zM1082.04 302.49h1.5v1.6h-1.5zM1080.54 302.49h1.5v1.6h-1.5zM1079.04 302.49h1.5v1.6h-1.5zM1076.04 302.49h1.5v1.6h-1.5zM1074.54 302.49h1.5v1.6h-1.5zM1073.04 302.49h1.5v1.6h-1.5zM1140.38 299.71h1.5v1.6h-1.5zM1141.88 299.71h1.5v1.6h-1.5zM1144.88 299.71h1.5v1.6h-1.5zM1150.88 299.71h1.5v1.6h-1.5zM1152.38 299.71h1.5v1.6h-1.5zM1153.88 299.71h1.5v1.6h-1.5zM1155.38 299.71h1.5v1.6h-1.5zM1156.88 299.71h1.5v1.6h-1.5zM1158.38 299.71h1.5v1.6h-1.5zM1159.88 299.71h1.5v1.6h-1.5zM1083.94 299.71h1.5v1.6h-1.5zM1082.44 299.71h1.5v1.6h-1.5zM1080.94 299.71h1.5v1.6h-1.5zM1079.44 299.71h1.5v1.6h-1.5zM1077.94 299.71h1.5v1.6h-1.5zM1140.38 296.94h1.5v1.6h-1.5zM1141.88 296.94h1.5v1.6h-1.5zM1143.38 296.94h1.5v1.6h-1.5zM1144.88 296.94h1.5v1.6h-1.5zM1147.88 296.94h1.5v1.6h-1.5zM1149.38 296.94h1.5v1.6h-1.5zM1150.88 296.94h1.5v1.6h-1.5zM1152.38 296.94h1.5v1.6h-1.5zM1153.88 296.94h1.5v1.6h-1.5zM1155.38 296.94h1.5v1.6h-1.5zM1156.88 296.94h1.5v1.6h-1.5zM1161.38 296.94h1.5v1.6h-1.5zM1086.87 296.94h1.5v1.6h-1.5zM1085.37 296.94h1.5v1.6h-1.5zM1140.38 294.17h1.5v1.6h-1.5zM1141.88 294.17h1.5v1.6h-1.5zM1143.38 294.17h1.5v1.6h-1.5zM1144.88 294.17h1.5v1.6h-1.5zM1147.88 294.17h1.5v1.6h-1.5zM1149.38 294.17h1.5v1.6h-1.5zM1150.88 294.17h1.5v1.6h-1.5zM1153.88 294.17h1.5v1.6h-1.5zM1155.38 294.17h1.5v1.6h-1.5zM1158.38 294.17h1.5v1.6h-1.5zM1164.38 294.17h1.5v1.6h-1.5zM1165.88 294.17h1.5v1.6h-1.5z" fill="#5a5aa0" fill-opacity="0.85"/><path d="M952.2 447.4 L952.97 447.4 L953.74 447.4 L954.51 447.4 L955.29 447.4 L956.06 447.4 L956.83 447.4 L957.6 447.4 L958.37 447.4 L959.14 447.4 L959.91 447.4 L960.68 447.4 L961.46 447.4 L962.23 447.4 L963 447.4 L963.77 447.4 L964.54 447.4 L965.31 447.4 L966.08 447.4 L966.85 447.4 L967.62 447.4 L968.4 447.4 L969.17 447.4 L969.94 447.4 L970.71 447.4 L971.48 447.4 L972.25 447.4 L973.02 447.4 L973.79 447.4 L974.57 447.4 L975.34 447.4 L976.11 447.4 L976.88 447.4 L977.65 447.4 L978.42 447.4 L979.19 447.4 L979.96 447.4 L980.74 447.4 L981.51 447.4 L982.28 447.4 L983.05 447.4 L983.82 447.4 L984.59 447.4 L985.36 447.4 L986.13 447.4 L986.91 447.4 L987.68 447.4 L988.45 447.4 L989.22 447.4 L989.99 447.4 L990.76 447.4 L991.53 447.4 L992.3 447.4 L993.08 447.4 L993.85 447.4 L994.62 447.4 L995.39 447.4 L996.16 447.4 L996.93 447.4 L997.7 447.4 L998.47 447.4 L999.25 447.4 L1000.02 447.4 L1000.79 447.4 L1001.56 447.4 L1002.33 447.4 L1003.1 447.4 L1003.87 447.4 L1004.64 447.39 L1005.42 447.39 L1006.19 447.39 L1006.96 447.39 L1007.73 447.39 L1008.5 447.39 L1009.27 447.39 L1010.04 447.39 L1010.81 447.39 L1011.59 447.39 L1012.36 447.39 L1013.13 447.38 L1013.9 447.38 L1014.67 447.38 L1015.44 447.38 L1016.21 447.38 L1016.98 447.37 L1017.76 447.37 L1018.53 447.37 L1019.3 447.37 L1020.07 447.36 L1020.84 447.36 L1021.61 447.36 L1022.38 447.35 L1023.15 447.35 L1023.93 447.34 L1024.7 447.33 L1025.47 447.33 L1026.24 447.32 L1027.01 447.31 L1027.78 447.3 L1028.55 447.29 L1029.32 447.28 L1030.1 447.27 L1030.87 447.26 L1031.64 447.24 L1032.41 447.23 L1033.18 447.21 L1033.95 447.19 L1034.72 447.17 L1035.49 447.15 L1036.27 447.12 L1037.04 447.09 L1037.81 447.06 L1038.58 447.03 L1039.35 446.99 L1040.12 446.95 L1040.89 446.9 L1041.66 446.86 L1042.44 446.8 L1043.21 446.74 L1043.98 446.67 L1044.75 446.6 L1045.52 446.52 L1046.29 446.43 L1047.06 446.34 L1047.83 446.23 L1048.61 446.11 L1049.38 445.98 L1050.15 445.84 L1050.92 445.69 L1051.69 445.51 L1052.46 445.33 L1053.23 445.12 L1054 444.89 L1054.78 444.65 L1055.55 444.37 L1056.32 444.07 L1057.09 443.75 L1057.86 443.39 L1058.63 442.99 L1059.4 442.56 L1060.17 442.09 L1060.95 441.58 L1061.72 441.01 L1062.49 440.4 L1063.26 439.72 L1064.03 438.99 L1064.8 438.19 L1065.57 437.32 L1066.35 436.38 L1067.12 435.35 L1067.89 434.24 L1068.66 433.03 L1069.43 431.73 L1070.2 430.32 L1070.97 428.8 L1071.74 427.17 L1072.52 425.41 L1073.29 423.53 L1074.06 421.52 L1074.83 419.38 L1075.6 417.1 L1076.37 414.69 L1077.14 412.13 L1077.91 409.44 L1078.69 406.61 L1079.46 403.64 L1080.23 400.55 L1081 397.34 L1081.77 394.02 L1082.54 390.59 L1083.31 387.07 L1084.08 383.48 L1084.86 379.82 L1085.63 376.12 L1086.4 372.38 L1087.17 368.63 L1087.94 364.89 L1088.71 361.16 L1089.48 357.48 L1090.25 353.84 L1091.03 350.28 L1091.8 346.79 L1092.57 343.41 L1093.34 340.13 L1094.11 336.96 L1094.88 333.92 L1095.65 331.01 L1096.42 328.24 L1097.2 325.6 L1097.97 323.1 L1098.74 320.74 L1099.51 318.51 L1100.28 316.43 L1101.05 314.47 L1101.82 312.64 L1102.59 310.93 L1103.37 309.35 L1104.14 307.87 L1104.91 306.51 L1105.68 305.24 L1106.45 304.07 L1107.22 303 L1107.99 302 L1108.76 301.09 L1109.54 300.25 L1110.31 299.48 L1111.08 298.77 L1111.85 298.12 L1112.62 297.52 L1113.39 296.98 L1114.16 296.48 L1114.93 296.03 L1115.71 295.61 L1116.48 295.23 L1117.25 294.89 L1118.02 294.57 L1118.79 294.28 L1119.56 294.02 L1120.33 293.78 L1121.1 293.56 L1121.88 293.36 L1122.65 293.18 L1123.42 293.02 L1124.19 292.87 L1124.96 292.73 L1125.73 292.61 L1126.5 292.5 L1127.27 292.39 L1128.05 292.3 L1128.82 292.21 L1129.59 292.14 L1130.36 292.07 L1131.13 292 L1131.9 291.95 L1132.67 291.89 L1133.44 291.84 L1134.22 291.8 L1134.99 291.76 L1135.76 291.73 L1136.53 291.69 L1137.3 291.66 L1138.07 291.64 L1138.84 291.61 L1139.61 291.59 L1140.39 291.57 L1141.16 291.55 L1141.93 291.53 L1142.7 291.52 L1143.47 291.51 L1144.24 291.49 L1145.01 291.48 L1145.78 291.47 L1146.56 291.46 L1147.33 291.45 L1148.1 291.45 L1148.87 291.44 L1149.64 291.43 L1150.41 291.43 L1151.18 291.42 L1151.95 291.42 L1152.73 291.41 L1153.5 291.41 L1154.27 291.4 L1155.04 291.4 L1155.81 291.4 L1156.58 291.4 L1157.35 291.39 L1158.12 291.39 L1158.9 291.39 L1159.67 291.39 L1160.44 291.39 L1161.21 291.38 L1161.98 291.38 L1162.75 291.38 L1163.52 291.38 L1164.29 291.38 L1165.07 291.38 L1165.84 291.38 L1166.61 291.38 L1167.38 291.38 L1168.15 291.37 L1168.92 291.37 L1169.69 291.37 L1170.46 291.37 L1171.24 291.37 L1172.01 291.37 L1172.78 291.37 L1173.55 291.37 L1174.32 291.37 L1175.09 291.37 L1175.86 291.37 L1176.63 291.37 L1177.41 291.37 L1178.18 291.37" fill="none" stroke="#d93c72" stroke-width="1.6" stroke-dasharray="3 2.4"/><rect x="952.2" y="272.8" width="246.8" height="193.5" fill="none" stroke="#d2d2d2" stroke-width="1.3"/><path d="M983.05 466.3v-2.5M983.05 272.8v2.5M1013.9 466.3v-2.5M1013.9 272.8v2.5M1044.75 466.3v-2.5M1044.75 272.8v2.5M1075.6 466.3v-2.5M1075.6 272.8v2.5M1106.45 466.3v-2.5M1106.45 272.8v2.5M1137.3 466.3v-2.5M1137.3 272.8v2.5M1168.15 466.3v-2.5M1168.15 272.8v2.5M952.2 439.09h2.5M1199 439.09h-2.5M952.2 411.37h2.5M1199 411.37h-2.5M952.2 383.66h2.5M1199 383.66h-2.5M952.2 355.94h2.5M1199 355.94h-2.5M952.2 328.23h2.5M1199 328.23h-2.5M952.2 300.51h2.5M1199 300.51h-2.5" stroke="#c4c4c4" stroke-width="1" fill="none"/><g font-family="Liberation Sans, sans-serif" font-size="25.3" fill="#111"><text x="949.9" y="307.06" text-anchor="end">60</text><text x="949.9" y="362.49" text-anchor="end">40</text><text x="949.9" y="417.92" text-anchor="end">20</text><text x="949.9" y="466.75" text-anchor="end">0</text></g><text x="1021" y="263.5" font-family="Liberation Sans, sans-serif" font-size="32.7" fill="#000">Europe</text></g><g><rect x="1247.3" y="454.71" width="132.33" height="2.0" fill="url(#gAfrica4)" fill-opacity="0.92"/><rect x="1247.3" y="451.94" width="162.49" height="2.0" fill="url(#gAfrica5)" fill-opacity="0.88"/><rect x="1247.3" y="449.17" width="162.49" height="2.0" fill="url(#gAfrica6)" fill-opacity="0.94"/><rect x="1247.3" y="446.4" width="164.18" height="2.0" fill="url(#gAfrica7)" fill-opacity="0.96"/><rect x="1247.3" y="443.63" width="164.18" height="2.0" fill="url(#gAfrica8)" fill-opacity="0.9"/><rect x="1251.15" y="440.86" width="163.65" height="2.0" fill="url(#gAfrica9)" fill-opacity="0.93"/><rect x="1254.99" y="438.09" width="163.11" height="2.0" fill="url(#gAfrica10)" fill-opacity="0.96"/><rect x="1278.08" y="435.31" width="140.03" height="2.0" fill="url(#gAfrica11)" fill-opacity="0.97"/><rect x="1281" y="432.54" width="136.59" height="2.0" fill="url(#gAfrica12)" fill-opacity="0.96"/><rect x="1283.92" y="429.77" width="133.15" height="2.0" fill="url(#gAfrica13)" fill-opacity="0.89"/><rect x="1286.85" y="427" width="129.72" height="2.0" fill="url(#gAfrica14)" fill-opacity="0.93"/><rect x="1293.51" y="424.23" width="124.59" height="2.0" fill="url(#gAfrica15)" fill-opacity="0.91"/><rect x="1300.18" y="421.46" width="119.46" height="2.0" fill="url(#gAfrica16)" fill-opacity="0.87"/><rect x="1306.85" y="418.69" width="114.33" height="2.0" fill="url(#gAfrica17)" fill-opacity="0.99"/><rect x="1310.08" y="415.91" width="115.05" height="2.0" fill="#9898d0" fill-opacity="0.99"/><rect x="1313.31" y="413.14" width="115.77" height="2.0" fill="#9898d0" fill-opacity="0.85"/><rect x="1316.54" y="410.37" width="116.48" height="2.0" fill="#9898d0" fill-opacity="0.87"/><rect x="1321.62" y="407.6" width="110.28" height="2.0" fill="#9898d0" fill-opacity="0.96"/><rect x="1326.7" y="404.83" width="104.07" height="2.0" fill="#9898d0" fill-opacity="0.9"/><rect x="1331.78" y="402.06" width="97.86" height="2.0" fill="#9898d0" fill-opacity="0.88"/><rect x="1333.98" y="399.29" width="96.79" height="2.0" fill="#9898d0" fill-opacity="0.87"/><rect x="1336.19" y="396.51" width="95.71" height="2.0" fill="#9898d0" fill-opacity="0.87"/><rect x="1338.39" y="393.74" width="94.63" height="2.0" fill="#9898d0" fill-opacity="0.91"/><rect x="1340.6" y="390.97" width="93.61" height="2.0" fill="#9898d0" fill-opacity="0.87"/><rect x="1342.81" y="388.2" width="92.58" height="2.0" fill="#9898d0" fill-opacity="0.93"/><rect x="1345.01" y="385.43" width="91.56" height="2.0" fill="#9898d0" fill-opacity="0.86"/><rect x="1343.88" y="382.66" width="94.22" height="2.0" fill="#9898d0" fill-opacity="0.96"/><rect x="1342.75" y="379.89" width="96.89" height="2.0" fill="#9898d0" fill-opacity="0.86"/><rect x="1341.63" y="377.11" width="99.56" height="2.0" fill="#9898d0" fill-opacity="0.97"/><rect x="1345.01" y="374.34" width="92.09" height="2.0" fill="#9898d0" fill-opacity="0.99"/><rect x="1348.4" y="371.57" width="84.63" height="2.0" fill="#9898d0" fill-opacity="0.94"/><rect x="1350.01" y="368.8" width="83.86" height="2.0" fill="#9898d0" fill-opacity="0.88"/><rect x="1351.63" y="366.03" width="83.09" height="2.0" fill="#9898d0" fill-opacity="0.9"/><rect x="1351.63" y="363.26" width="81.32" height="2.0" fill="#9898d0" fill-opacity="1"/><rect x="1351.63" y="360.49" width="79.55" height="2.0" fill="#9898d0" fill-opacity="0.98"/><rect x="1352.76" y="357.71" width="80.22" height="2.0" fill="#9898d0" fill-opacity="0.94"/><rect x="1353.88" y="354.94" width="80.89" height="2.0" fill="#9898d0" fill-opacity="0.97"/><rect x="1355.01" y="352.17" width="81.55" height="2.0" fill="#9898d0" fill-opacity="0.92"/><rect x="1356.04" y="349.4" width="78.22" height="2.0" fill="#9898d0" fill-opacity="0.91"/><rect x="1357.06" y="346.63" width="74.89" height="2.0" fill="#9898d0" fill-opacity="0.88"/><rect x="1358.09" y="343.86" width="71.55" height="2.0" fill="#9898d0" fill-opacity="0.92"/><rect x="1359.27" y="341.09" width="74.22" height="2.0" fill="#9898d0" fill-opacity="0.93"/><rect x="1360.45" y="338.31" width="76.89" height="2.0" fill="#9898d0" fill-opacity="0.89"/><rect x="1361.63" y="335.54" width="79.55" height="2.0" fill="#9898d0" fill-opacity="0.87"/><rect x="1363.27" y="332.77" width="76.89" height="2.0" fill="#9898d0" fill-opacity="0.92"/><rect x="1364.91" y="330" width="74.22" height="2.0" fill="#9898d0" fill-opacity="0.91"/><rect x="1366.55" y="327.23" width="71.55" height="2.0" fill="#9898d0" fill-opacity="0.94"/><rect x="1367.32" y="324.46" width="73.35" height="2.0" fill="#9898d0" fill-opacity="0.96"/><rect x="1368.09" y="321.69" width="75.14" height="2.0" fill="#9898d0" fill-opacity="0.92"/><rect x="1368.86" y="318.91" width="76.94" height="2.0" fill="#9898d0" fill-opacity="0.91"/><rect x="1368.28" y="316.14" width="76.36" height="2.0" fill="#9898d0" fill-opacity="0.89"/><rect x="1367.71" y="313.37" width="75.78" height="2.0" fill="#9898d0" fill-opacity="0.94"/><rect x="1367.13" y="310.6" width="75.21" height="2.0" fill="#9898d0" fill-opacity="0.86"/><rect x="1366.55" y="307.83" width="74.63" height="2.0" fill="#9898d0" fill-opacity="0.92"/><rect x="1367.12" y="305.06" width="78.01" height="2.0" fill="#9898d0" fill-opacity="0.86"/><rect x="1367.68" y="302.29" width="81.4" height="2.0" fill="#9898d0" fill-opacity="0.9"/><rect x="1368.25" y="299.51" width="84.79" height="2.0" fill="#9898d0" fill-opacity="0.87"/><rect x="1368.25" y="296.74" width="88.09" height="2.0" fill="#9898d0" fill-opacity="0.92"/><rect x="1368.25" y="293.97" width="91.4" height="2.0" fill="#9898d0" fill-opacity="0.88"/><rect x="1371.63" y="291.2" width="43.39" height="2.0" fill="#6a6aa6" fill-opacity="1"/><path d="M1379.93 454.91h1.5v1.6h-1.5zM1381.43 454.91h1.5v1.6h-1.5zM1382.93 454.91h1.5v1.6h-1.5zM1384.43 454.91h1.5v1.6h-1.5zM1385.93 454.91h1.5v1.6h-1.5zM1387.43 454.91h1.5v1.6h-1.5zM1388.93 454.91h1.5v1.6h-1.5zM1391.93 454.91h1.5v1.6h-1.5zM1397.93 454.91h1.5v1.6h-1.5zM1400.93 454.91h1.5v1.6h-1.5zM1410.09 449.37h1.5v1.6h-1.5zM1411.78 446.6h1.5v1.6h-1.5zM1413.28 446.6h1.5v1.6h-1.5zM1411.78 443.83h1.5v1.6h-1.5zM1413.28 443.83h1.5v1.6h-1.5zM1415.09 441.06h1.5v1.6h-1.5zM1250.85 441.06h1.5v1.6h-1.5zM1249.35 441.06h1.5v1.6h-1.5zM1418.4 438.29h1.5v1.6h-1.5zM1419.9 438.29h1.5v1.6h-1.5zM1421.4 438.29h1.5v1.6h-1.5zM1254.69 438.29h1.5v1.6h-1.5zM1253.19 438.29h1.5v1.6h-1.5zM1251.69 438.29h1.5v1.6h-1.5zM1277.78 435.51h1.5v1.6h-1.5zM1273.28 435.51h1.5v1.6h-1.5zM1270.28 435.51h1.5v1.6h-1.5zM1267.28 435.51h1.5v1.6h-1.5zM1264.28 435.51h1.5v1.6h-1.5zM1262.78 435.51h1.5v1.6h-1.5zM1261.28 435.51h1.5v1.6h-1.5zM1259.78 435.51h1.5v1.6h-1.5zM1258.28 435.51h1.5v1.6h-1.5zM1255.28 435.51h1.5v1.6h-1.5zM1250.78 435.51h1.5v1.6h-1.5zM1417.89 432.74h1.5v1.6h-1.5zM1420.89 432.74h1.5v1.6h-1.5zM1280.7 432.74h1.5v1.6h-1.5zM1279.2 432.74h1.5v1.6h-1.5zM1277.7 432.74h1.5v1.6h-1.5zM1274.7 432.74h1.5v1.6h-1.5zM1273.2 432.74h1.5v1.6h-1.5zM1265.7 432.74h1.5v1.6h-1.5zM1262.7 432.74h1.5v1.6h-1.5zM1253.7 432.74h1.5v1.6h-1.5zM1417.38 429.97h1.5v1.6h-1.5zM1418.88 429.97h1.5v1.6h-1.5zM1420.38 429.97h1.5v1.6h-1.5zM1421.88 429.97h1.5v1.6h-1.5zM1424.88 429.97h1.5v1.6h-1.5zM1283.62 429.97h1.5v1.6h-1.5zM1282.12 429.97h1.5v1.6h-1.5zM1280.62 429.97h1.5v1.6h-1.5zM1279.12 429.97h1.5v1.6h-1.5zM1276.12 429.97h1.5v1.6h-1.5zM1274.62 429.97h1.5v1.6h-1.5zM1271.62 429.97h1.5v1.6h-1.5zM1416.86 427.2h1.5v1.6h-1.5zM1418.36 427.2h1.5v1.6h-1.5zM1421.36 427.2h1.5v1.6h-1.5zM1422.86 427.2h1.5v1.6h-1.5zM1424.36 427.2h1.5v1.6h-1.5zM1425.86 427.2h1.5v1.6h-1.5zM1427.36 427.2h1.5v1.6h-1.5zM1286.55 427.2h1.5v1.6h-1.5zM1283.55 427.2h1.5v1.6h-1.5zM1282.05 427.2h1.5v1.6h-1.5zM1280.55 427.2h1.5v1.6h-1.5zM1279.05 427.2h1.5v1.6h-1.5zM1276.05 427.2h1.5v1.6h-1.5zM1273.05 427.2h1.5v1.6h-1.5zM1271.55 427.2h1.5v1.6h-1.5zM1268.55 427.2h1.5v1.6h-1.5zM1267.05 427.2h1.5v1.6h-1.5zM1418.4 424.43h1.5v1.6h-1.5zM1419.9 424.43h1.5v1.6h-1.5zM1422.9 424.43h1.5v1.6h-1.5zM1425.9 424.43h1.5v1.6h-1.5zM1427.4 424.43h1.5v1.6h-1.5zM1293.21 424.43h1.5v1.6h-1.5zM1291.71 424.43h1.5v1.6h-1.5zM1290.21 424.43h1.5v1.6h-1.5zM1288.71 424.43h1.5v1.6h-1.5zM1287.21 424.43h1.5v1.6h-1.5zM1285.71 424.43h1.5v1.6h-1.5zM1284.21 424.43h1.5v1.6h-1.5zM1278.21 424.43h1.5v1.6h-1.5zM1419.94 421.66h1.5v1.6h-1.5zM1421.44 421.66h1.5v1.6h-1.5zM1422.94 421.66h1.5v1.6h-1.5zM1424.44 421.66h1.5v1.6h-1.5zM1425.94 421.66h1.5v1.6h-1.5zM1427.44 421.66h1.5v1.6h-1.5zM1299.88 421.66h1.5v1.6h-1.5zM1298.38 421.66h1.5v1.6h-1.5zM1296.88 421.66h1.5v1.6h-1.5zM1295.38 421.66h1.5v1.6h-1.5zM1293.88 421.66h1.5v1.6h-1.5zM1289.38 421.66h1.5v1.6h-1.5zM1287.88 421.66h1.5v1.6h-1.5zM1421.48 418.89h1.5v1.6h-1.5zM1422.98 418.89h1.5v1.6h-1.5zM1425.98 418.89h1.5v1.6h-1.5zM1428.98 418.89h1.5v1.6h-1.5zM1431.98 418.89h1.5v1.6h-1.5zM1433.48 418.89h1.5v1.6h-1.5zM1306.55 418.89h1.5v1.6h-1.5zM1305.05 418.89h1.5v1.6h-1.5zM1303.55 418.89h1.5v1.6h-1.5zM1294.55 418.89h1.5v1.6h-1.5zM1425.43 416.11h1.5v1.6h-1.5zM1426.93 416.11h1.5v1.6h-1.5zM1428.43 416.11h1.5v1.6h-1.5zM1429.93 416.11h1.5v1.6h-1.5zM1309.78 416.11h1.5v1.6h-1.5zM1308.28 416.11h1.5v1.6h-1.5zM1306.78 416.11h1.5v1.6h-1.5zM1305.28 416.11h1.5v1.6h-1.5zM1303.78 416.11h1.5v1.6h-1.5zM1302.28 416.11h1.5v1.6h-1.5zM1300.78 416.11h1.5v1.6h-1.5zM1299.28 416.11h1.5v1.6h-1.5zM1296.28 416.11h1.5v1.6h-1.5zM1432.38 413.34h1.5v1.6h-1.5zM1433.88 413.34h1.5v1.6h-1.5zM1313.01 413.34h1.5v1.6h-1.5zM1311.51 413.34h1.5v1.6h-1.5zM1310.01 413.34h1.5v1.6h-1.5zM1308.51 413.34h1.5v1.6h-1.5zM1307.01 413.34h1.5v1.6h-1.5zM1304.01 413.34h1.5v1.6h-1.5zM1302.51 413.34h1.5v1.6h-1.5zM1301.01 413.34h1.5v1.6h-1.5zM1299.51 413.34h1.5v1.6h-1.5zM1433.33 410.57h1.5v1.6h-1.5zM1316.24 410.57h1.5v1.6h-1.5zM1314.74 410.57h1.5v1.6h-1.5zM1313.24 410.57h1.5v1.6h-1.5zM1311.74 410.57h1.5v1.6h-1.5zM1310.24 410.57h1.5v1.6h-1.5zM1308.74 410.57h1.5v1.6h-1.5zM1307.24 410.57h1.5v1.6h-1.5zM1305.74 410.57h1.5v1.6h-1.5zM1301.24 410.57h1.5v1.6h-1.5zM1299.74 410.57h1.5v1.6h-1.5zM1298.24 410.57h1.5v1.6h-1.5zM1433.7 407.8h1.5v1.6h-1.5zM1321.32 407.8h1.5v1.6h-1.5zM1319.82 407.8h1.5v1.6h-1.5zM1318.32 407.8h1.5v1.6h-1.5zM1316.82 407.8h1.5v1.6h-1.5zM1315.32 407.8h1.5v1.6h-1.5zM1310.82 407.8h1.5v1.6h-1.5zM1309.32 407.8h1.5v1.6h-1.5zM1306.32 407.8h1.5v1.6h-1.5zM1304.82 407.8h1.5v1.6h-1.5zM1301.82 407.8h1.5v1.6h-1.5zM1300.32 407.8h1.5v1.6h-1.5zM1297.32 407.8h1.5v1.6h-1.5zM1431.07 405.03h1.5v1.6h-1.5zM1434.07 405.03h1.5v1.6h-1.5zM1326.4 405.03h1.5v1.6h-1.5zM1324.9 405.03h1.5v1.6h-1.5zM1323.4 405.03h1.5v1.6h-1.5zM1321.9 405.03h1.5v1.6h-1.5zM1320.4 405.03h1.5v1.6h-1.5zM1318.9 405.03h1.5v1.6h-1.5zM1317.4 405.03h1.5v1.6h-1.5zM1315.9 405.03h1.5v1.6h-1.5zM1311.4 405.03h1.5v1.6h-1.5zM1308.4 405.03h1.5v1.6h-1.5zM1302.4 405.03h1.5v1.6h-1.5zM1297.9 405.03h1.5v1.6h-1.5zM1294.9 405.03h1.5v1.6h-1.5zM1293.4 405.03h1.5v1.6h-1.5zM1429.94 402.26h1.5v1.6h-1.5zM1434.44 402.26h1.5v1.6h-1.5zM1331.48 402.26h1.5v1.6h-1.5zM1329.98 402.26h1.5v1.6h-1.5zM1328.48 402.26h1.5v1.6h-1.5zM1326.98 402.26h1.5v1.6h-1.5zM1325.48 402.26h1.5v1.6h-1.5zM1323.98 402.26h1.5v1.6h-1.5zM1322.48 402.26h1.5v1.6h-1.5zM1320.98 402.26h1.5v1.6h-1.5zM1319.48 402.26h1.5v1.6h-1.5zM1317.98 402.26h1.5v1.6h-1.5zM1316.48 402.26h1.5v1.6h-1.5zM1314.98 402.26h1.5v1.6h-1.5zM1307.48 402.26h1.5v1.6h-1.5zM1305.98 402.26h1.5v1.6h-1.5zM1304.48 402.26h1.5v1.6h-1.5zM1298.48 402.26h1.5v1.6h-1.5zM1431.07 399.49h1.5v1.6h-1.5zM1432.57 399.49h1.5v1.6h-1.5zM1434.07 399.49h1.5v1.6h-1.5zM1333.68 399.49h1.5v1.6h-1.5zM1332.18 399.49h1.5v1.6h-1.5zM1329.18 399.49h1.5v1.6h-1.5zM1327.68 399.49h1.5v1.6h-1.5zM1326.18 399.49h1.5v1.6h-1.5zM1324.68 399.49h1.5v1.6h-1.5zM1321.68 399.49h1.5v1.6h-1.5zM1318.68 399.49h1.5v1.6h-1.5zM1315.68 399.49h1.5v1.6h-1.5zM1314.18 399.49h1.5v1.6h-1.5zM1312.68 399.49h1.5v1.6h-1.5zM1311.18 399.49h1.5v1.6h-1.5zM1305.18 399.49h1.5v1.6h-1.5zM1303.68 399.49h1.5v1.6h-1.5zM1435.2 396.71h1.5v1.6h-1.5zM1335.89 396.71h1.5v1.6h-1.5zM1334.39 396.71h1.5v1.6h-1.5zM1332.89 396.71h1.5v1.6h-1.5zM1328.39 396.71h1.5v1.6h-1.5zM1326.89 396.71h1.5v1.6h-1.5zM1325.39 396.71h1.5v1.6h-1.5zM1323.89 396.71h1.5v1.6h-1.5zM1322.39 396.71h1.5v1.6h-1.5zM1320.89 396.71h1.5v1.6h-1.5zM1319.39 396.71h1.5v1.6h-1.5zM1317.89 396.71h1.5v1.6h-1.5zM1314.89 396.71h1.5v1.6h-1.5zM1313.39 396.71h1.5v1.6h-1.5zM1311.89 396.71h1.5v1.6h-1.5zM1308.89 396.71h1.5v1.6h-1.5zM1307.39 396.71h1.5v1.6h-1.5zM1299.89 396.71h1.5v1.6h-1.5zM1433.33 393.94h1.5v1.6h-1.5zM1434.83 393.94h1.5v1.6h-1.5zM1338.09 393.94h1.5v1.6h-1.5zM1336.59 393.94h1.5v1.6h-1.5zM1333.59 393.94h1.5v1.6h-1.5zM1332.09 393.94h1.5v1.6h-1.5zM1330.59 393.94h1.5v1.6h-1.5zM1329.09 393.94h1.5v1.6h-1.5zM1326.09 393.94h1.5v1.6h-1.5zM1323.09 393.94h1.5v1.6h-1.5zM1321.59 393.94h1.5v1.6h-1.5zM1320.09 393.94h1.5v1.6h-1.5zM1315.59 393.94h1.5v1.6h-1.5zM1312.59 393.94h1.5v1.6h-1.5zM1309.59 393.94h1.5v1.6h-1.5zM1434.51 391.17h1.5v1.6h-1.5zM1436.01 391.17h1.5v1.6h-1.5zM1338.8 391.17h1.5v1.6h-1.5zM1337.3 391.17h1.5v1.6h-1.5zM1335.8 391.17h1.5v1.6h-1.5zM1334.3 391.17h1.5v1.6h-1.5zM1332.8 391.17h1.5v1.6h-1.5zM1331.3 391.17h1.5v1.6h-1.5zM1329.8 391.17h1.5v1.6h-1.5zM1328.3 391.17h1.5v1.6h-1.5zM1323.8 391.17h1.5v1.6h-1.5zM1319.3 391.17h1.5v1.6h-1.5zM1435.69 388.4h1.5v1.6h-1.5zM1437.19 388.4h1.5v1.6h-1.5zM1438.69 388.4h1.5v1.6h-1.5zM1342.51 388.4h1.5v1.6h-1.5zM1341.01 388.4h1.5v1.6h-1.5zM1339.51 388.4h1.5v1.6h-1.5zM1338.01 388.4h1.5v1.6h-1.5zM1335.01 388.4h1.5v1.6h-1.5zM1333.51 388.4h1.5v1.6h-1.5zM1332.01 388.4h1.5v1.6h-1.5zM1327.51 388.4h1.5v1.6h-1.5zM1436.87 385.63h1.5v1.6h-1.5zM1438.37 385.63h1.5v1.6h-1.5zM1439.87 385.63h1.5v1.6h-1.5zM1344.71 385.63h1.5v1.6h-1.5zM1343.21 385.63h1.5v1.6h-1.5zM1340.21 385.63h1.5v1.6h-1.5zM1338.71 385.63h1.5v1.6h-1.5zM1337.21 385.63h1.5v1.6h-1.5zM1335.71 385.63h1.5v1.6h-1.5zM1334.21 385.63h1.5v1.6h-1.5zM1438.4 382.86h1.5v1.6h-1.5zM1439.9 382.86h1.5v1.6h-1.5zM1441.4 382.86h1.5v1.6h-1.5zM1343.58 382.86h1.5v1.6h-1.5zM1342.08 382.86h1.5v1.6h-1.5zM1339.08 382.86h1.5v1.6h-1.5zM1439.94 380.09h1.5v1.6h-1.5zM1441.44 380.09h1.5v1.6h-1.5zM1444.44 380.09h1.5v1.6h-1.5zM1445.94 380.09h1.5v1.6h-1.5zM1342.45 380.09h1.5v1.6h-1.5zM1340.95 380.09h1.5v1.6h-1.5zM1441.48 377.31h1.5v1.6h-1.5zM1442.98 377.31h1.5v1.6h-1.5zM1448.98 377.31h1.5v1.6h-1.5zM1341.33 377.31h1.5v1.6h-1.5zM1339.83 377.31h1.5v1.6h-1.5zM1338.33 377.31h1.5v1.6h-1.5zM1437.4 374.54h1.5v1.6h-1.5zM1438.9 374.54h1.5v1.6h-1.5zM1344.71 374.54h1.5v1.6h-1.5zM1343.21 374.54h1.5v1.6h-1.5zM1433.33 371.77h1.5v1.6h-1.5zM1348.1 371.77h1.5v1.6h-1.5zM1434.17 369h1.5v1.6h-1.5zM1435.67 369h1.5v1.6h-1.5zM1349.71 369h1.5v1.6h-1.5zM1348.21 369h1.5v1.6h-1.5zM1435.02 366.23h1.5v1.6h-1.5zM1436.52 366.23h1.5v1.6h-1.5zM1438.02 366.23h1.5v1.6h-1.5zM1441.02 366.23h1.5v1.6h-1.5zM1351.33 366.23h1.5v1.6h-1.5zM1349.83 366.23h1.5v1.6h-1.5zM1348.33 366.23h1.5v1.6h-1.5zM1433.25 363.46h1.5v1.6h-1.5zM1434.75 363.46h1.5v1.6h-1.5zM1436.25 363.46h1.5v1.6h-1.5zM1440.75 363.46h1.5v1.6h-1.5zM1351.33 363.46h1.5v1.6h-1.5zM1349.83 363.46h1.5v1.6h-1.5zM1348.33 363.46h1.5v1.6h-1.5zM1431.48 360.69h1.5v1.6h-1.5zM1432.98 360.69h1.5v1.6h-1.5zM1434.48 360.69h1.5v1.6h-1.5zM1435.98 360.69h1.5v1.6h-1.5zM1440.48 360.69h1.5v1.6h-1.5zM1441.98 360.69h1.5v1.6h-1.5zM1351.33 360.69h1.5v1.6h-1.5zM1348.33 360.69h1.5v1.6h-1.5zM1433.28 357.91h1.5v1.6h-1.5zM1436.28 357.91h1.5v1.6h-1.5zM1437.78 357.91h1.5v1.6h-1.5zM1439.28 357.91h1.5v1.6h-1.5zM1440.78 357.91h1.5v1.6h-1.5zM1442.28 357.91h1.5v1.6h-1.5zM1352.46 357.91h1.5v1.6h-1.5zM1350.96 357.91h1.5v1.6h-1.5zM1435.07 355.14h1.5v1.6h-1.5zM1438.07 355.14h1.5v1.6h-1.5zM1353.58 355.14h1.5v1.6h-1.5zM1352.08 355.14h1.5v1.6h-1.5zM1350.58 355.14h1.5v1.6h-1.5zM1436.87 352.37h1.5v1.6h-1.5zM1438.37 352.37h1.5v1.6h-1.5zM1439.87 352.37h1.5v1.6h-1.5zM1444.37 352.37h1.5v1.6h-1.5zM1354.71 352.37h1.5v1.6h-1.5zM1353.21 352.37h1.5v1.6h-1.5zM1434.56 349.6h1.5v1.6h-1.5zM1437.56 349.6h1.5v1.6h-1.5zM1439.06 349.6h1.5v1.6h-1.5zM1445.06 349.6h1.5v1.6h-1.5zM1355.74 349.6h1.5v1.6h-1.5zM1354.24 349.6h1.5v1.6h-1.5zM1351.24 349.6h1.5v1.6h-1.5zM1432.25 346.83h1.5v1.6h-1.5zM1435.25 346.83h1.5v1.6h-1.5zM1436.75 346.83h1.5v1.6h-1.5zM1438.25 346.83h1.5v1.6h-1.5zM1439.75 346.83h1.5v1.6h-1.5zM1444.25 346.83h1.5v1.6h-1.5zM1445.75 346.83h1.5v1.6h-1.5zM1356.76 346.83h1.5v1.6h-1.5zM1355.26 346.83h1.5v1.6h-1.5zM1353.76 346.83h1.5v1.6h-1.5zM1352.26 346.83h1.5v1.6h-1.5zM1350.76 346.83h1.5v1.6h-1.5zM1429.94 344.06h1.5v1.6h-1.5zM1431.44 344.06h1.5v1.6h-1.5zM1432.94 344.06h1.5v1.6h-1.5zM1435.94 344.06h1.5v1.6h-1.5zM1437.44 344.06h1.5v1.6h-1.5zM1440.44 344.06h1.5v1.6h-1.5zM1444.94 344.06h1.5v1.6h-1.5zM1446.44 344.06h1.5v1.6h-1.5zM1357.79 344.06h1.5v1.6h-1.5zM1356.29 344.06h1.5v1.6h-1.5zM1353.29 344.06h1.5v1.6h-1.5zM1347.29 344.06h1.5v1.6h-1.5zM1433.79 341.29h1.5v1.6h-1.5zM1438.29 341.29h1.5v1.6h-1.5zM1439.79 341.29h1.5v1.6h-1.5zM1441.29 341.29h1.5v1.6h-1.5zM1358.97 341.29h1.5v1.6h-1.5zM1357.47 341.29h1.5v1.6h-1.5zM1355.97 341.29h1.5v1.6h-1.5zM1352.97 341.29h1.5v1.6h-1.5zM1437.64 338.51h1.5v1.6h-1.5zM1439.14 338.51h1.5v1.6h-1.5zM1440.64 338.51h1.5v1.6h-1.5zM1360.15 338.51h1.5v1.6h-1.5zM1358.65 338.51h1.5v1.6h-1.5zM1355.65 338.51h1.5v1.6h-1.5zM1441.48 335.74h1.5v1.6h-1.5zM1442.98 335.74h1.5v1.6h-1.5zM1444.48 335.74h1.5v1.6h-1.5zM1361.33 335.74h1.5v1.6h-1.5zM1440.46 332.97h1.5v1.6h-1.5zM1441.96 332.97h1.5v1.6h-1.5zM1443.46 332.97h1.5v1.6h-1.5zM1362.97 332.97h1.5v1.6h-1.5zM1359.97 332.97h1.5v1.6h-1.5zM1439.43 330.2h1.5v1.6h-1.5zM1442.43 330.2h1.5v1.6h-1.5zM1443.93 330.2h1.5v1.6h-1.5zM1445.43 330.2h1.5v1.6h-1.5zM1446.93 330.2h1.5v1.6h-1.5zM1449.93 330.2h1.5v1.6h-1.5zM1364.61 330.2h1.5v1.6h-1.5zM1363.11 330.2h1.5v1.6h-1.5zM1360.11 330.2h1.5v1.6h-1.5zM1358.61 330.2h1.5v1.6h-1.5zM1438.4 327.43h1.5v1.6h-1.5zM1439.9 327.43h1.5v1.6h-1.5zM1441.4 327.43h1.5v1.6h-1.5zM1444.4 327.43h1.5v1.6h-1.5zM1445.9 327.43h1.5v1.6h-1.5zM1450.4 327.43h1.5v1.6h-1.5zM1366.25 327.43h1.5v1.6h-1.5zM1363.25 327.43h1.5v1.6h-1.5zM1361.75 327.43h1.5v1.6h-1.5zM1355.75 327.43h1.5v1.6h-1.5zM1440.97 324.66h1.5v1.6h-1.5zM1443.97 324.66h1.5v1.6h-1.5zM1445.47 324.66h1.5v1.6h-1.5zM1367.02 324.66h1.5v1.6h-1.5zM1365.52 324.66h1.5v1.6h-1.5zM1364.02 324.66h1.5v1.6h-1.5zM1362.52 324.66h1.5v1.6h-1.5zM1359.52 324.66h1.5v1.6h-1.5zM1443.53 321.89h1.5v1.6h-1.5zM1445.03 321.89h1.5v1.6h-1.5zM1446.53 321.89h1.5v1.6h-1.5zM1448.03 321.89h1.5v1.6h-1.5zM1451.03 321.89h1.5v1.6h-1.5zM1366.29 321.89h1.5v1.6h-1.5zM1361.79 321.89h1.5v1.6h-1.5zM1360.29 321.89h1.5v1.6h-1.5zM1446.1 319.11h1.5v1.6h-1.5zM1447.6 319.11h1.5v1.6h-1.5zM1449.1 319.11h1.5v1.6h-1.5zM1368.56 319.11h1.5v1.6h-1.5zM1365.56 319.11h1.5v1.6h-1.5zM1444.94 316.34h1.5v1.6h-1.5zM1446.44 316.34h1.5v1.6h-1.5zM1447.94 316.34h1.5v1.6h-1.5zM1367.98 316.34h1.5v1.6h-1.5zM1366.48 316.34h1.5v1.6h-1.5zM1364.98 316.34h1.5v1.6h-1.5zM1443.79 313.57h1.5v1.6h-1.5zM1445.29 313.57h1.5v1.6h-1.5zM1448.29 313.57h1.5v1.6h-1.5zM1449.79 313.57h1.5v1.6h-1.5zM1451.29 313.57h1.5v1.6h-1.5zM1367.41 313.57h1.5v1.6h-1.5zM1364.41 313.57h1.5v1.6h-1.5zM1442.64 310.8h1.5v1.6h-1.5zM1444.14 310.8h1.5v1.6h-1.5zM1445.64 310.8h1.5v1.6h-1.5zM1448.64 310.8h1.5v1.6h-1.5zM1450.14 310.8h1.5v1.6h-1.5zM1366.83 310.8h1.5v1.6h-1.5zM1362.33 310.8h1.5v1.6h-1.5zM1441.48 308.03h1.5v1.6h-1.5zM1442.98 308.03h1.5v1.6h-1.5zM1444.48 308.03h1.5v1.6h-1.5zM1445.98 308.03h1.5v1.6h-1.5zM1447.48 308.03h1.5v1.6h-1.5zM1450.48 308.03h1.5v1.6h-1.5zM1366.25 308.03h1.5v1.6h-1.5zM1364.75 308.03h1.5v1.6h-1.5zM1363.25 308.03h1.5v1.6h-1.5zM1361.75 308.03h1.5v1.6h-1.5zM1445.43 305.26h1.5v1.6h-1.5zM1448.43 305.26h1.5v1.6h-1.5zM1449.93 305.26h1.5v1.6h-1.5zM1366.82 305.26h1.5v1.6h-1.5zM1365.32 305.26h1.5v1.6h-1.5zM1360.82 305.26h1.5v1.6h-1.5zM1449.38 302.49h1.5v1.6h-1.5zM1450.88 302.49h1.5v1.6h-1.5zM1452.38 302.49h1.5v1.6h-1.5zM1367.38 302.49h1.5v1.6h-1.5zM1453.33 299.71h1.5v1.6h-1.5zM1454.83 299.71h1.5v1.6h-1.5zM1367.95 299.71h1.5v1.6h-1.5zM1364.95 299.71h1.5v1.6h-1.5zM1458.14 296.94h1.5v1.6h-1.5zM1367.95 296.94h1.5v1.6h-1.5zM1459.95 294.17h1.5v1.6h-1.5zM1461.45 294.17h1.5v1.6h-1.5z" fill="#5a5aa0" fill-opacity="0.85"/><path d="M1247.3 447.4 L1248.07 447.4 L1248.84 447.4 L1249.61 447.4 L1250.38 447.4 L1251.15 447.4 L1251.92 447.4 L1252.69 447.4 L1253.45 447.4 L1254.22 447.4 L1254.99 447.4 L1255.76 447.4 L1256.53 447.4 L1257.3 447.4 L1258.07 447.4 L1258.84 447.4 L1259.61 447.4 L1260.38 447.4 L1261.15 447.4 L1261.92 447.4 L1262.69 447.4 L1263.46 447.4 L1264.23 447.4 L1265 447.4 L1265.76 447.4 L1266.53 447.4 L1267.3 447.4 L1268.07 447.4 L1268.84 447.4 L1269.61 447.4 L1270.38 447.4 L1271.15 447.4 L1271.92 447.4 L1272.69 447.4 L1273.46 447.4 L1274.23 447.4 L1275 447.4 L1275.77 447.4 L1276.54 447.4 L1277.31 447.4 L1278.07 447.4 L1278.84 447.4 L1279.61 447.4 L1280.38 447.4 L1281.15 447.4 L1281.92 447.4 L1282.69 447.4 L1283.46 447.4 L1284.23 447.4 L1285 447.4 L1285.77 447.4 L1286.54 447.4 L1287.31 447.4 L1288.08 447.4 L1288.85 447.4 L1289.62 447.4 L1290.38 447.4 L1291.15 447.4 L1291.92 447.4 L1292.69 447.4 L1293.46 447.4 L1294.23 447.4 L1295 447.4 L1295.77 447.4 L1296.54 447.4 L1297.31 447.4 L1298.08 447.4 L1298.85 447.4 L1299.62 447.4 L1300.39 447.4 L1301.16 447.39 L1301.93 447.39 L1302.69 447.39 L1303.46 447.39 L1304.23 447.39 L1305 447.39 L1305.77 447.39 L1306.54 447.39 L1307.31 447.39 L1308.08 447.39 L1308.85 447.39 L1309.62 447.38 L1310.39 447.38 L1311.16 447.38 L1311.93 447.38 L1312.7 447.38 L1313.47 447.37 L1314.24 447.37 L1315 447.37 L1315.77 447.37 L1316.54 447.36 L1317.31 447.36 L1318.08 447.35 L1318.85 447.35 L1319.62 447.34 L1320.39 447.34 L1321.16 447.33 L1321.93 447.32 L1322.7 447.32 L1323.47 447.31 L1324.24 447.3 L1325.01 447.29 L1325.78 447.27 L1326.55 447.26 L1327.31 447.25 L1328.08 447.23 L1328.85 447.21 L1329.62 447.19 L1330.39 447.17 L1331.16 447.15 L1331.93 447.12 L1332.7 447.09 L1333.47 447.06 L1334.24 447.02 L1335.01 446.98 L1335.78 446.94 L1336.55 446.89 L1337.32 446.84 L1338.09 446.78 L1338.86 446.71 L1339.62 446.64 L1340.39 446.56 L1341.16 446.47 L1341.93 446.38 L1342.7 446.27 L1343.47 446.15 L1344.24 446.02 L1345.01 445.88 L1345.78 445.72 L1346.55 445.54 L1347.32 445.35 L1348.09 445.14 L1348.86 444.91 L1349.63 444.65 L1350.4 444.36 L1351.17 444.05 L1351.93 443.71 L1352.7 443.33 L1353.47 442.91 L1354.24 442.46 L1355.01 441.96 L1355.78 441.41 L1356.55 440.8 L1357.32 440.14 L1358.09 439.42 L1358.86 438.62 L1359.63 437.76 L1360.4 436.81 L1361.17 435.78 L1361.94 434.66 L1362.71 433.44 L1363.48 432.11 L1364.24 430.68 L1365.01 429.13 L1365.78 427.45 L1366.55 425.64 L1367.32 423.7 L1368.09 421.62 L1368.86 419.4 L1369.63 417.03 L1370.4 414.51 L1371.17 411.83 L1371.94 409.01 L1372.71 406.05 L1373.48 402.94 L1374.25 399.69 L1375.02 396.32 L1375.79 392.82 L1376.56 389.22 L1377.32 385.53 L1378.09 381.76 L1378.86 377.93 L1379.63 374.06 L1380.4 370.16 L1381.17 366.27 L1381.94 362.38 L1382.71 358.53 L1383.48 354.74 L1384.25 351.01 L1385.02 347.37 L1385.79 343.84 L1386.56 340.41 L1387.33 337.11 L1388.1 333.95 L1388.87 330.92 L1389.63 328.04 L1390.4 325.31 L1391.17 322.73 L1391.94 320.3 L1392.71 318.02 L1393.48 315.88 L1394.25 313.88 L1395.02 312.03 L1395.79 310.3 L1396.56 308.7 L1397.33 307.22 L1398.1 305.85 L1398.87 304.59 L1399.64 303.43 L1400.41 302.36 L1401.18 301.38 L1401.94 300.48 L1402.71 299.66 L1403.48 298.91 L1404.25 298.22 L1405.02 297.6 L1405.79 297.03 L1406.56 296.51 L1407.33 296.03 L1408.1 295.6 L1408.87 295.21 L1409.64 294.85 L1410.41 294.53 L1411.18 294.23 L1411.95 293.96 L1412.72 293.72 L1413.49 293.5 L1414.25 293.3 L1415.02 293.12 L1415.79 292.95 L1416.56 292.8 L1417.33 292.67 L1418.1 292.55 L1418.87 292.43 L1419.64 292.33 L1420.41 292.24 L1421.18 292.16 L1421.95 292.08 L1422.72 292.02 L1423.49 291.95 L1424.26 291.9 L1425.03 291.85 L1425.8 291.8 L1426.56 291.76 L1427.33 291.72 L1428.1 291.69 L1428.87 291.66 L1429.64 291.63 L1430.41 291.61 L1431.18 291.58 L1431.95 291.56 L1432.72 291.55 L1433.49 291.53 L1434.26 291.51 L1435.03 291.5 L1435.8 291.49 L1436.57 291.48 L1437.34 291.47 L1438.11 291.46 L1438.87 291.45 L1439.64 291.44 L1440.41 291.43 L1441.18 291.43 L1441.95 291.42 L1442.72 291.42 L1443.49 291.41 L1444.26 291.41 L1445.03 291.4 L1445.8 291.4 L1446.57 291.4 L1447.34 291.4 L1448.11 291.39 L1448.88 291.39 L1449.65 291.39 L1450.42 291.39 L1451.18 291.38 L1451.95 291.38 L1452.72 291.38 L1453.49 291.38 L1454.26 291.38 L1455.03 291.38 L1455.8 291.38 L1456.57 291.38 L1457.34 291.38 L1458.11 291.38 L1458.88 291.37 L1459.65 291.37 L1460.42 291.37 L1461.19 291.37 L1461.96 291.37 L1462.73 291.37 L1463.49 291.37 L1464.26 291.37 L1465.03 291.37 L1465.8 291.37 L1466.57 291.37 L1467.34 291.37 L1468.11 291.37 L1468.88 291.37 L1469.65 291.37 L1470.42 291.37" fill="none" stroke="#d93c72" stroke-width="1.6" stroke-dasharray="3 2.4"/><rect x="1247.3" y="272.8" width="246.2" height="193.5" fill="none" stroke="#d2d2d2" stroke-width="1.3"/><path d="M1278.08 466.3v-2.5M1278.08 272.8v2.5M1308.85 466.3v-2.5M1308.85 272.8v2.5M1339.62 466.3v-2.5M1339.62 272.8v2.5M1370.4 466.3v-2.5M1370.4 272.8v2.5M1401.17 466.3v-2.5M1401.17 272.8v2.5M1431.95 466.3v-2.5M1431.95 272.8v2.5M1462.72 466.3v-2.5M1462.72 272.8v2.5M1247.3 439.09h2.5M1493.5 439.09h-2.5M1247.3 411.37h2.5M1493.5 411.37h-2.5M1247.3 383.66h2.5M1493.5 383.66h-2.5M1247.3 355.94h2.5M1493.5 355.94h-2.5M1247.3 328.23h2.5M1493.5 328.23h-2.5M1247.3 300.51h2.5M1493.5 300.51h-2.5" stroke="#c4c4c4" stroke-width="1" fill="none"/><g font-family="Liberation Sans, sans-serif" font-size="25.3" fill="#111"><text x="1245" y="307.06" text-anchor="end">60</text><text x="1245" y="362.49" text-anchor="end">40</text><text x="1245" y="417.92" text-anchor="end">20</text><text x="1245" y="466.75" text-anchor="end">0</text></g><text x="1312.4" y="264.2" font-family="Liberation Sans, sans-serif" font-size="32.7" fill="#000">Africa</text></g><g><rect x="952.2" y="692.59" width="120.32" height="2.0" fill="url(#gSA4)" fill-opacity="0.95"/><rect x="952.2" y="689.81" width="155.18" height="2.0" fill="url(#gSA5)" fill-opacity="0.95"/><rect x="952.2" y="687.03" width="164.58" height="2.0" fill="url(#gSA6)" fill-opacity="0.98"/><rect x="952.2" y="684.25" width="161.19" height="2.0" fill="url(#gSA7)" fill-opacity="0.95"/><rect x="952.2" y="681.47" width="164.58" height="2.0" fill="url(#gSA8)" fill-opacity="0.95"/><rect x="952.2" y="678.69" width="163.5" height="2.0" fill="url(#gSA9)" fill-opacity="0.89"/><rect x="954.21" y="675.91" width="155.95" height="2.0" fill="url(#gSA10)" fill-opacity="0.99"/><rect x="995.85" y="673.14" width="112.91" height="2.0" fill="url(#gSA11)" fill-opacity="0.91"/><rect x="1015.44" y="670.36" width="88.69" height="2.0" fill="url(#gSA12)" fill-opacity="0.91"/><rect x="1022" y="667.58" width="85.15" height="2.0" fill="url(#gSA13)" fill-opacity="0.99"/><rect x="1028.55" y="664.8" width="81.6" height="2.0" fill="url(#gSA14)" fill-opacity="0.94"/><rect x="1034.34" y="662.02" width="79.13" height="2.0" fill="url(#gSA15)" fill-opacity="0.89"/><rect x="1040.12" y="659.24" width="76.66" height="2.0" fill="url(#gSA16)" fill-opacity="0.86"/><rect x="1041.82" y="656.46" width="74.97" height="2.0" fill="url(#gSA17)" fill-opacity="0.87"/><rect x="1043.52" y="653.69" width="73.27" height="2.0" fill="url(#gSA18)" fill-opacity="0.86"/><rect x="1045.14" y="650.91" width="68.33" height="2.0" fill="#9898d0" fill-opacity="0.87"/><rect x="1046.76" y="648.13" width="63.4" height="2.0" fill="#9898d0" fill-opacity="0.86"/><rect x="1050.15" y="645.35" width="59.31" height="2.0" fill="#9898d0" fill-opacity="1"/><rect x="1053.54" y="642.57" width="55.22" height="2.0" fill="#9898d0" fill-opacity="0.94"/><rect x="1056.86" y="639.79" width="52.91" height="2.0" fill="#9898d0" fill-opacity="0.89"/><rect x="1060.17" y="637.01" width="50.59" height="2.0" fill="#9898d0" fill-opacity="0.91"/><rect x="1060.69" y="634.24" width="52.09" height="2.0" fill="#9898d0" fill-opacity="0.93"/><rect x="1061.2" y="631.46" width="53.58" height="2.0" fill="#9898d0" fill-opacity="0.89"/><rect x="1061.72" y="628.68" width="55.07" height="2.0" fill="#9898d0" fill-opacity="1"/><rect x="1063.41" y="625.9" width="53.37" height="2.0" fill="#9898d0" fill-opacity="0.89"/><rect x="1065.11" y="623.12" width="51.67" height="2.0" fill="#9898d0" fill-opacity="0.96"/><rect x="1066.81" y="620.34" width="49.98" height="2.0" fill="#9898d0" fill-opacity="0.93"/><rect x="1067.66" y="617.56" width="53.99" height="2.0" fill="#9898d0" fill-opacity="0.87"/><rect x="1068.5" y="614.79" width="58" height="2.0" fill="#9898d0" fill-opacity="0.96"/><rect x="1070.12" y="612.01" width="50.98" height="2.0" fill="#9898d0" fill-opacity="0.93"/><rect x="1071.74" y="609.23" width="43.96" height="2.0" fill="#9898d0" fill-opacity="0.98"/><rect x="1072.59" y="606.45" width="43.65" height="2.0" fill="#9898d0" fill-opacity="0.99"/><rect x="1073.44" y="603.67" width="43.34" height="2.0" fill="#9898d0" fill-opacity="0.98"/><rect x="1072.59" y="600.89" width="45.2" height="2.0" fill="#9898d0" fill-opacity="0.95"/><rect x="1071.74" y="598.11" width="47.05" height="2.0" fill="#9898d0" fill-opacity="0.99"/><rect x="1073.54" y="595.34" width="45.25" height="2.0" fill="#9898d0" fill-opacity="0.94"/><rect x="1075.34" y="592.56" width="43.45" height="2.0" fill="#9898d0" fill-opacity="0.98"/><rect x="1077.14" y="589.78" width="41.65" height="2.0" fill="#9898d0" fill-opacity="0.99"/><rect x="1077.66" y="587" width="43.7" height="2.0" fill="#9898d0" fill-opacity="0.99"/><rect x="1078.17" y="584.22" width="45.76" height="2.0" fill="#9898d0" fill-opacity="0.93"/><rect x="1078.68" y="581.44" width="47.82" height="2.0" fill="#9898d0" fill-opacity="0.9"/><rect x="1079.2" y="578.66" width="46.27" height="2.0" fill="#9898d0" fill-opacity="0.86"/><rect x="1079.71" y="575.89" width="44.73" height="2.0" fill="#9898d0" fill-opacity="0.88"/><rect x="1080.23" y="573.11" width="43.19" height="2.0" fill="#9898d0" fill-opacity="1"/><rect x="1080.74" y="570.33" width="43.7" height="2.0" fill="#9898d0" fill-opacity="0.99"/><rect x="1081.26" y="567.55" width="44.22" height="2.0" fill="#9898d0" fill-opacity="0.88"/><rect x="1081.77" y="564.77" width="44.73" height="2.0" fill="#9898d0" fill-opacity="0.85"/><rect x="1082.28" y="561.99" width="44.73" height="2.0" fill="#9898d0" fill-opacity="0.91"/><rect x="1082.8" y="559.21" width="44.73" height="2.0" fill="#9898d0" fill-opacity="0.94"/><rect x="1083.31" y="556.44" width="44.73" height="2.0" fill="#9898d0" fill-opacity="0.95"/><rect x="1084.59" y="553.66" width="44.62" height="2.0" fill="#9898d0" fill-opacity="0.95"/><rect x="1085.86" y="550.88" width="44.5" height="2.0" fill="#9898d0" fill-opacity="0.96"/><rect x="1087.13" y="548.1" width="44.39" height="2.0" fill="#9898d0" fill-opacity="0.94"/><rect x="1088.4" y="545.32" width="44.27" height="2.0" fill="#9898d0" fill-opacity="0.9"/><rect x="1090.1" y="542.54" width="46.69" height="2.0" fill="#9898d0" fill-opacity="0.87"/><rect x="1091.8" y="539.76" width="49.1" height="2.0" fill="#9898d0" fill-opacity="0.99"/><rect x="1093.49" y="536.99" width="51.52" height="2.0" fill="#9898d0" fill-opacity="0.97"/><rect x="1094.73" y="534.21" width="52.83" height="2.0" fill="#9898d0" fill-opacity="0.87"/><rect x="1095.96" y="531.43" width="54.14" height="2.0" fill="#9898d0" fill-opacity="0.97"/><rect x="1098.43" y="528.65" width="24.99" height="2.0" fill="#6a6aa6" fill-opacity="1"/><path d="M1072.82 692.79h1.5v1.6h-1.5zM1074.32 692.79h1.5v1.6h-1.5zM1107.68 690.01h1.5v1.6h-1.5zM1109.18 690.01h1.5v1.6h-1.5zM1110.68 690.01h1.5v1.6h-1.5zM1117.08 687.23h1.5v1.6h-1.5zM1115.19 684.45h1.5v1.6h-1.5zM1117.08 681.67h1.5v1.6h-1.5zM1118.58 681.67h1.5v1.6h-1.5zM1116 678.89h1.5v1.6h-1.5zM1110.45 676.11h1.5v1.6h-1.5zM1111.95 676.11h1.5v1.6h-1.5zM1113.45 676.11h1.5v1.6h-1.5zM1116.45 676.11h1.5v1.6h-1.5zM953.91 676.11h1.5v1.6h-1.5zM1109.06 673.34h1.5v1.6h-1.5zM1110.56 673.34h1.5v1.6h-1.5zM1113.56 673.34h1.5v1.6h-1.5zM1115.06 673.34h1.5v1.6h-1.5zM995.55 673.34h1.5v1.6h-1.5zM994.05 673.34h1.5v1.6h-1.5zM991.05 673.34h1.5v1.6h-1.5zM988.05 673.34h1.5v1.6h-1.5zM986.55 673.34h1.5v1.6h-1.5zM983.55 673.34h1.5v1.6h-1.5zM982.05 673.34h1.5v1.6h-1.5zM980.55 673.34h1.5v1.6h-1.5zM979.05 673.34h1.5v1.6h-1.5zM977.55 673.34h1.5v1.6h-1.5zM976.05 673.34h1.5v1.6h-1.5zM974.55 673.34h1.5v1.6h-1.5zM973.05 673.34h1.5v1.6h-1.5zM967.05 673.34h1.5v1.6h-1.5zM965.55 673.34h1.5v1.6h-1.5zM962.55 673.34h1.5v1.6h-1.5zM1104.44 670.56h1.5v1.6h-1.5zM1105.94 670.56h1.5v1.6h-1.5zM1107.44 670.56h1.5v1.6h-1.5zM1108.94 670.56h1.5v1.6h-1.5zM1111.94 670.56h1.5v1.6h-1.5zM1117.94 670.56h1.5v1.6h-1.5zM1015.14 670.56h1.5v1.6h-1.5zM1013.64 670.56h1.5v1.6h-1.5zM1010.64 670.56h1.5v1.6h-1.5zM1007.64 670.56h1.5v1.6h-1.5zM1006.14 670.56h1.5v1.6h-1.5zM1004.64 670.56h1.5v1.6h-1.5zM1003.14 670.56h1.5v1.6h-1.5zM1001.64 670.56h1.5v1.6h-1.5zM1000.14 670.56h1.5v1.6h-1.5zM998.64 670.56h1.5v1.6h-1.5zM997.14 670.56h1.5v1.6h-1.5zM995.64 670.56h1.5v1.6h-1.5zM994.14 670.56h1.5v1.6h-1.5zM991.14 670.56h1.5v1.6h-1.5zM989.64 670.56h1.5v1.6h-1.5zM985.14 670.56h1.5v1.6h-1.5zM983.64 670.56h1.5v1.6h-1.5zM977.64 670.56h1.5v1.6h-1.5zM1107.44 667.78h1.5v1.6h-1.5zM1021.7 667.78h1.5v1.6h-1.5zM1020.2 667.78h1.5v1.6h-1.5zM1018.7 667.78h1.5v1.6h-1.5zM1017.2 667.78h1.5v1.6h-1.5zM1015.7 667.78h1.5v1.6h-1.5zM1014.2 667.78h1.5v1.6h-1.5zM1012.7 667.78h1.5v1.6h-1.5zM1011.2 667.78h1.5v1.6h-1.5zM1009.7 667.78h1.5v1.6h-1.5zM1005.2 667.78h1.5v1.6h-1.5zM1002.2 667.78h1.5v1.6h-1.5zM1000.7 667.78h1.5v1.6h-1.5zM999.2 667.78h1.5v1.6h-1.5zM997.7 667.78h1.5v1.6h-1.5zM996.2 667.78h1.5v1.6h-1.5zM988.7 667.78h1.5v1.6h-1.5zM985.7 667.78h1.5v1.6h-1.5zM1110.45 665h1.5v1.6h-1.5zM1111.95 665h1.5v1.6h-1.5zM1113.45 665h1.5v1.6h-1.5zM1114.95 665h1.5v1.6h-1.5zM1117.95 665h1.5v1.6h-1.5zM1028.25 665h1.5v1.6h-1.5zM1026.75 665h1.5v1.6h-1.5zM1025.25 665h1.5v1.6h-1.5zM1023.75 665h1.5v1.6h-1.5zM1022.25 665h1.5v1.6h-1.5zM1020.75 665h1.5v1.6h-1.5zM1019.25 665h1.5v1.6h-1.5zM1017.75 665h1.5v1.6h-1.5zM1016.25 665h1.5v1.6h-1.5zM1013.25 665h1.5v1.6h-1.5zM1011.75 665h1.5v1.6h-1.5zM1007.25 665h1.5v1.6h-1.5zM1005.75 665h1.5v1.6h-1.5zM1004.25 665h1.5v1.6h-1.5zM1001.25 665h1.5v1.6h-1.5zM999.75 665h1.5v1.6h-1.5zM1113.77 662.22h1.5v1.6h-1.5zM1115.27 662.22h1.5v1.6h-1.5zM1116.77 662.22h1.5v1.6h-1.5zM1118.27 662.22h1.5v1.6h-1.5zM1119.77 662.22h1.5v1.6h-1.5zM1122.77 662.22h1.5v1.6h-1.5zM1124.27 662.22h1.5v1.6h-1.5zM1034.04 662.22h1.5v1.6h-1.5zM1032.54 662.22h1.5v1.6h-1.5zM1031.04 662.22h1.5v1.6h-1.5zM1029.54 662.22h1.5v1.6h-1.5zM1028.04 662.22h1.5v1.6h-1.5zM1026.54 662.22h1.5v1.6h-1.5zM1023.54 662.22h1.5v1.6h-1.5zM1022.04 662.22h1.5v1.6h-1.5zM1020.54 662.22h1.5v1.6h-1.5zM1017.54 662.22h1.5v1.6h-1.5zM1118.58 659.44h1.5v1.6h-1.5zM1120.08 659.44h1.5v1.6h-1.5zM1121.58 659.44h1.5v1.6h-1.5zM1123.08 659.44h1.5v1.6h-1.5zM1127.58 659.44h1.5v1.6h-1.5zM1135.08 659.44h1.5v1.6h-1.5zM1039.82 659.44h1.5v1.6h-1.5zM1036.82 659.44h1.5v1.6h-1.5zM1033.82 659.44h1.5v1.6h-1.5zM1032.32 659.44h1.5v1.6h-1.5zM1027.82 659.44h1.5v1.6h-1.5zM1117.08 656.66h1.5v1.6h-1.5zM1118.58 656.66h1.5v1.6h-1.5zM1120.08 656.66h1.5v1.6h-1.5zM1121.58 656.66h1.5v1.6h-1.5zM1123.08 656.66h1.5v1.6h-1.5zM1124.58 656.66h1.5v1.6h-1.5zM1127.58 656.66h1.5v1.6h-1.5zM1132.08 656.66h1.5v1.6h-1.5zM1136.58 656.66h1.5v1.6h-1.5zM1041.52 656.66h1.5v1.6h-1.5zM1040.02 656.66h1.5v1.6h-1.5zM1038.52 656.66h1.5v1.6h-1.5zM1035.52 656.66h1.5v1.6h-1.5zM1034.02 656.66h1.5v1.6h-1.5zM1117.08 653.89h1.5v1.6h-1.5zM1118.58 653.89h1.5v1.6h-1.5zM1120.08 653.89h1.5v1.6h-1.5zM1121.58 653.89h1.5v1.6h-1.5zM1124.58 653.89h1.5v1.6h-1.5zM1126.08 653.89h1.5v1.6h-1.5zM1127.58 653.89h1.5v1.6h-1.5zM1132.08 653.89h1.5v1.6h-1.5zM1135.08 653.89h1.5v1.6h-1.5zM1136.58 653.89h1.5v1.6h-1.5zM1138.08 653.89h1.5v1.6h-1.5zM1043.22 653.89h1.5v1.6h-1.5zM1041.72 653.89h1.5v1.6h-1.5zM1113.77 651.11h1.5v1.6h-1.5zM1115.27 651.11h1.5v1.6h-1.5zM1116.77 651.11h1.5v1.6h-1.5zM1118.27 651.11h1.5v1.6h-1.5zM1119.77 651.11h1.5v1.6h-1.5zM1121.27 651.11h1.5v1.6h-1.5zM1124.27 651.11h1.5v1.6h-1.5zM1127.27 651.11h1.5v1.6h-1.5zM1128.77 651.11h1.5v1.6h-1.5zM1130.27 651.11h1.5v1.6h-1.5zM1133.27 651.11h1.5v1.6h-1.5zM1139.27 651.11h1.5v1.6h-1.5zM1142.27 651.11h1.5v1.6h-1.5zM1044.84 651.11h1.5v1.6h-1.5zM1043.34 651.11h1.5v1.6h-1.5zM1110.45 648.33h1.5v1.6h-1.5zM1111.95 648.33h1.5v1.6h-1.5zM1113.45 648.33h1.5v1.6h-1.5zM1114.95 648.33h1.5v1.6h-1.5zM1117.95 648.33h1.5v1.6h-1.5zM1122.45 648.33h1.5v1.6h-1.5zM1123.95 648.33h1.5v1.6h-1.5zM1125.45 648.33h1.5v1.6h-1.5zM1126.95 648.33h1.5v1.6h-1.5zM1128.45 648.33h1.5v1.6h-1.5zM1131.45 648.33h1.5v1.6h-1.5zM1132.95 648.33h1.5v1.6h-1.5zM1134.45 648.33h1.5v1.6h-1.5zM1137.45 648.33h1.5v1.6h-1.5zM1138.95 648.33h1.5v1.6h-1.5zM1140.45 648.33h1.5v1.6h-1.5zM1141.95 648.33h1.5v1.6h-1.5zM1144.95 648.33h1.5v1.6h-1.5zM1046.46 648.33h1.5v1.6h-1.5zM1109.76 645.55h1.5v1.6h-1.5zM1111.26 645.55h1.5v1.6h-1.5zM1112.76 645.55h1.5v1.6h-1.5zM1114.26 645.55h1.5v1.6h-1.5zM1115.76 645.55h1.5v1.6h-1.5zM1121.76 645.55h1.5v1.6h-1.5zM1123.26 645.55h1.5v1.6h-1.5zM1124.76 645.55h1.5v1.6h-1.5zM1126.26 645.55h1.5v1.6h-1.5zM1127.76 645.55h1.5v1.6h-1.5zM1132.26 645.55h1.5v1.6h-1.5zM1135.26 645.55h1.5v1.6h-1.5zM1138.26 645.55h1.5v1.6h-1.5zM1049.85 645.55h1.5v1.6h-1.5zM1048.35 645.55h1.5v1.6h-1.5zM1109.06 642.77h1.5v1.6h-1.5zM1110.56 642.77h1.5v1.6h-1.5zM1112.06 642.77h1.5v1.6h-1.5zM1113.56 642.77h1.5v1.6h-1.5zM1115.06 642.77h1.5v1.6h-1.5zM1118.06 642.77h1.5v1.6h-1.5zM1119.56 642.77h1.5v1.6h-1.5zM1124.06 642.77h1.5v1.6h-1.5zM1131.56 642.77h1.5v1.6h-1.5zM1140.56 642.77h1.5v1.6h-1.5zM1053.24 642.77h1.5v1.6h-1.5zM1051.74 642.77h1.5v1.6h-1.5zM1050.24 642.77h1.5v1.6h-1.5zM1047.24 642.77h1.5v1.6h-1.5zM1110.07 639.99h1.5v1.6h-1.5zM1111.57 639.99h1.5v1.6h-1.5zM1113.07 639.99h1.5v1.6h-1.5zM1114.57 639.99h1.5v1.6h-1.5zM1116.07 639.99h1.5v1.6h-1.5zM1117.57 639.99h1.5v1.6h-1.5zM1119.07 639.99h1.5v1.6h-1.5zM1120.57 639.99h1.5v1.6h-1.5zM1122.07 639.99h1.5v1.6h-1.5zM1123.57 639.99h1.5v1.6h-1.5zM1125.07 639.99h1.5v1.6h-1.5zM1126.57 639.99h1.5v1.6h-1.5zM1131.07 639.99h1.5v1.6h-1.5zM1135.57 639.99h1.5v1.6h-1.5zM1141.57 639.99h1.5v1.6h-1.5zM1056.56 639.99h1.5v1.6h-1.5zM1050.56 639.99h1.5v1.6h-1.5zM1111.07 637.21h1.5v1.6h-1.5zM1112.57 637.21h1.5v1.6h-1.5zM1114.07 637.21h1.5v1.6h-1.5zM1115.57 637.21h1.5v1.6h-1.5zM1118.57 637.21h1.5v1.6h-1.5zM1120.07 637.21h1.5v1.6h-1.5zM1121.57 637.21h1.5v1.6h-1.5zM1123.07 637.21h1.5v1.6h-1.5zM1124.57 637.21h1.5v1.6h-1.5zM1129.07 637.21h1.5v1.6h-1.5zM1130.57 637.21h1.5v1.6h-1.5zM1132.07 637.21h1.5v1.6h-1.5zM1135.07 637.21h1.5v1.6h-1.5zM1059.88 637.21h1.5v1.6h-1.5zM1056.88 637.21h1.5v1.6h-1.5zM1113.07 634.44h1.5v1.6h-1.5zM1114.57 634.44h1.5v1.6h-1.5zM1116.07 634.44h1.5v1.6h-1.5zM1117.57 634.44h1.5v1.6h-1.5zM1119.07 634.44h1.5v1.6h-1.5zM1122.07 634.44h1.5v1.6h-1.5zM1125.07 634.44h1.5v1.6h-1.5zM1128.07 634.44h1.5v1.6h-1.5zM1129.57 634.44h1.5v1.6h-1.5zM1131.07 634.44h1.5v1.6h-1.5zM1135.57 634.44h1.5v1.6h-1.5zM1141.57 634.44h1.5v1.6h-1.5zM1144.57 634.44h1.5v1.6h-1.5zM1060.39 634.44h1.5v1.6h-1.5zM1058.89 634.44h1.5v1.6h-1.5zM1057.39 634.44h1.5v1.6h-1.5zM1055.89 634.44h1.5v1.6h-1.5zM1054.39 634.44h1.5v1.6h-1.5zM1051.39 634.44h1.5v1.6h-1.5zM1049.89 634.44h1.5v1.6h-1.5zM1115.08 631.66h1.5v1.6h-1.5zM1116.58 631.66h1.5v1.6h-1.5zM1118.08 631.66h1.5v1.6h-1.5zM1119.58 631.66h1.5v1.6h-1.5zM1121.08 631.66h1.5v1.6h-1.5zM1122.58 631.66h1.5v1.6h-1.5zM1124.08 631.66h1.5v1.6h-1.5zM1125.58 631.66h1.5v1.6h-1.5zM1127.08 631.66h1.5v1.6h-1.5zM1128.58 631.66h1.5v1.6h-1.5zM1134.58 631.66h1.5v1.6h-1.5zM1136.08 631.66h1.5v1.6h-1.5zM1139.08 631.66h1.5v1.6h-1.5zM1143.58 631.66h1.5v1.6h-1.5zM1148.08 631.66h1.5v1.6h-1.5zM1060.9 631.66h1.5v1.6h-1.5zM1059.4 631.66h1.5v1.6h-1.5zM1056.4 631.66h1.5v1.6h-1.5zM1054.9 631.66h1.5v1.6h-1.5zM1053.4 631.66h1.5v1.6h-1.5zM1051.9 631.66h1.5v1.6h-1.5zM1117.08 628.88h1.5v1.6h-1.5zM1118.58 628.88h1.5v1.6h-1.5zM1120.08 628.88h1.5v1.6h-1.5zM1121.58 628.88h1.5v1.6h-1.5zM1124.58 628.88h1.5v1.6h-1.5zM1126.08 628.88h1.5v1.6h-1.5zM1129.08 628.88h1.5v1.6h-1.5zM1130.58 628.88h1.5v1.6h-1.5zM1133.58 628.88h1.5v1.6h-1.5zM1135.08 628.88h1.5v1.6h-1.5zM1138.08 628.88h1.5v1.6h-1.5zM1141.08 628.88h1.5v1.6h-1.5zM1144.08 628.88h1.5v1.6h-1.5zM1145.58 628.88h1.5v1.6h-1.5zM1061.42 628.88h1.5v1.6h-1.5zM1059.92 628.88h1.5v1.6h-1.5zM1058.42 628.88h1.5v1.6h-1.5zM1056.92 628.88h1.5v1.6h-1.5zM1055.42 628.88h1.5v1.6h-1.5zM1050.92 628.88h1.5v1.6h-1.5zM1049.42 628.88h1.5v1.6h-1.5zM1047.92 628.88h1.5v1.6h-1.5zM1117.08 626.1h1.5v1.6h-1.5zM1118.58 626.1h1.5v1.6h-1.5zM1120.08 626.1h1.5v1.6h-1.5zM1121.58 626.1h1.5v1.6h-1.5zM1123.08 626.1h1.5v1.6h-1.5zM1124.58 626.1h1.5v1.6h-1.5zM1126.08 626.1h1.5v1.6h-1.5zM1127.58 626.1h1.5v1.6h-1.5zM1129.08 626.1h1.5v1.6h-1.5zM1130.58 626.1h1.5v1.6h-1.5zM1142.58 626.1h1.5v1.6h-1.5zM1063.11 626.1h1.5v1.6h-1.5zM1061.61 626.1h1.5v1.6h-1.5zM1060.11 626.1h1.5v1.6h-1.5zM1058.61 626.1h1.5v1.6h-1.5zM1054.11 626.1h1.5v1.6h-1.5zM1117.08 623.32h1.5v1.6h-1.5zM1118.58 623.32h1.5v1.6h-1.5zM1120.08 623.32h1.5v1.6h-1.5zM1121.58 623.32h1.5v1.6h-1.5zM1123.08 623.32h1.5v1.6h-1.5zM1124.58 623.32h1.5v1.6h-1.5zM1126.08 623.32h1.5v1.6h-1.5zM1127.58 623.32h1.5v1.6h-1.5zM1129.08 623.32h1.5v1.6h-1.5zM1130.58 623.32h1.5v1.6h-1.5zM1132.08 623.32h1.5v1.6h-1.5zM1133.58 623.32h1.5v1.6h-1.5zM1139.58 623.32h1.5v1.6h-1.5zM1142.58 623.32h1.5v1.6h-1.5zM1147.08 623.32h1.5v1.6h-1.5zM1064.81 623.32h1.5v1.6h-1.5zM1063.31 623.32h1.5v1.6h-1.5zM1117.08 620.54h1.5v1.6h-1.5zM1118.58 620.54h1.5v1.6h-1.5zM1120.08 620.54h1.5v1.6h-1.5zM1121.58 620.54h1.5v1.6h-1.5zM1124.58 620.54h1.5v1.6h-1.5zM1126.08 620.54h1.5v1.6h-1.5zM1127.58 620.54h1.5v1.6h-1.5zM1129.08 620.54h1.5v1.6h-1.5zM1133.58 620.54h1.5v1.6h-1.5zM1135.08 620.54h1.5v1.6h-1.5zM1138.08 620.54h1.5v1.6h-1.5zM1144.08 620.54h1.5v1.6h-1.5zM1066.51 620.54h1.5v1.6h-1.5zM1121.94 617.76h1.5v1.6h-1.5zM1124.94 617.76h1.5v1.6h-1.5zM1126.44 617.76h1.5v1.6h-1.5zM1129.44 617.76h1.5v1.6h-1.5zM1130.94 617.76h1.5v1.6h-1.5zM1132.44 617.76h1.5v1.6h-1.5zM1136.94 617.76h1.5v1.6h-1.5zM1138.44 617.76h1.5v1.6h-1.5zM1139.94 617.76h1.5v1.6h-1.5zM1144.44 617.76h1.5v1.6h-1.5zM1145.94 617.76h1.5v1.6h-1.5zM1153.44 617.76h1.5v1.6h-1.5zM1067.36 617.76h1.5v1.6h-1.5zM1126.8 614.99h1.5v1.6h-1.5zM1128.3 614.99h1.5v1.6h-1.5zM1129.8 614.99h1.5v1.6h-1.5zM1131.3 614.99h1.5v1.6h-1.5zM1132.8 614.99h1.5v1.6h-1.5zM1134.3 614.99h1.5v1.6h-1.5zM1135.8 614.99h1.5v1.6h-1.5zM1137.3 614.99h1.5v1.6h-1.5zM1140.3 614.99h1.5v1.6h-1.5zM1146.3 614.99h1.5v1.6h-1.5zM1149.3 614.99h1.5v1.6h-1.5zM1152.3 614.99h1.5v1.6h-1.5zM1068.2 614.99h1.5v1.6h-1.5zM1121.4 612.21h1.5v1.6h-1.5zM1122.9 612.21h1.5v1.6h-1.5zM1124.4 612.21h1.5v1.6h-1.5zM1128.9 612.21h1.5v1.6h-1.5zM1131.9 612.21h1.5v1.6h-1.5zM1133.4 612.21h1.5v1.6h-1.5zM1134.9 612.21h1.5v1.6h-1.5zM1136.4 612.21h1.5v1.6h-1.5zM1137.9 612.21h1.5v1.6h-1.5zM1140.9 612.21h1.5v1.6h-1.5zM1145.4 612.21h1.5v1.6h-1.5zM1148.4 612.21h1.5v1.6h-1.5zM1069.82 612.21h1.5v1.6h-1.5zM1068.32 612.21h1.5v1.6h-1.5zM1066.82 612.21h1.5v1.6h-1.5zM1063.82 612.21h1.5v1.6h-1.5zM1116 609.43h1.5v1.6h-1.5zM1117.5 609.43h1.5v1.6h-1.5zM1119 609.43h1.5v1.6h-1.5zM1120.5 609.43h1.5v1.6h-1.5zM1122 609.43h1.5v1.6h-1.5zM1125 609.43h1.5v1.6h-1.5zM1126.5 609.43h1.5v1.6h-1.5zM1129.5 609.43h1.5v1.6h-1.5zM1132.5 609.43h1.5v1.6h-1.5zM1134 609.43h1.5v1.6h-1.5zM1138.5 609.43h1.5v1.6h-1.5zM1071.44 609.43h1.5v1.6h-1.5zM1069.94 609.43h1.5v1.6h-1.5zM1068.44 609.43h1.5v1.6h-1.5zM1066.94 609.43h1.5v1.6h-1.5zM1062.44 609.43h1.5v1.6h-1.5zM1116.54 606.65h1.5v1.6h-1.5zM1118.04 606.65h1.5v1.6h-1.5zM1119.54 606.65h1.5v1.6h-1.5zM1122.54 606.65h1.5v1.6h-1.5zM1125.54 606.65h1.5v1.6h-1.5zM1128.54 606.65h1.5v1.6h-1.5zM1130.04 606.65h1.5v1.6h-1.5zM1133.04 606.65h1.5v1.6h-1.5zM1136.04 606.65h1.5v1.6h-1.5zM1072.29 606.65h1.5v1.6h-1.5zM1070.79 606.65h1.5v1.6h-1.5zM1067.79 606.65h1.5v1.6h-1.5zM1117.08 603.87h1.5v1.6h-1.5zM1118.58 603.87h1.5v1.6h-1.5zM1121.58 603.87h1.5v1.6h-1.5zM1126.08 603.87h1.5v1.6h-1.5zM1132.08 603.87h1.5v1.6h-1.5zM1073.14 603.87h1.5v1.6h-1.5zM1118.09 601.09h1.5v1.6h-1.5zM1119.59 601.09h1.5v1.6h-1.5zM1121.09 601.09h1.5v1.6h-1.5zM1122.59 601.09h1.5v1.6h-1.5zM1124.09 601.09h1.5v1.6h-1.5zM1127.09 601.09h1.5v1.6h-1.5zM1131.59 601.09h1.5v1.6h-1.5zM1072.29 601.09h1.5v1.6h-1.5zM1070.79 601.09h1.5v1.6h-1.5zM1119.09 598.31h1.5v1.6h-1.5zM1120.59 598.31h1.5v1.6h-1.5zM1122.09 598.31h1.5v1.6h-1.5zM1123.59 598.31h1.5v1.6h-1.5zM1128.09 598.31h1.5v1.6h-1.5zM1119.09 595.54h1.5v1.6h-1.5zM1120.59 595.54h1.5v1.6h-1.5zM1122.09 595.54h1.5v1.6h-1.5zM1123.59 595.54h1.5v1.6h-1.5zM1129.59 595.54h1.5v1.6h-1.5zM1132.59 595.54h1.5v1.6h-1.5zM1073.24 595.54h1.5v1.6h-1.5zM1071.74 595.54h1.5v1.6h-1.5zM1070.24 595.54h1.5v1.6h-1.5zM1119.09 592.76h1.5v1.6h-1.5zM1120.59 592.76h1.5v1.6h-1.5zM1122.09 592.76h1.5v1.6h-1.5zM1123.59 592.76h1.5v1.6h-1.5zM1073.54 592.76h1.5v1.6h-1.5zM1072.04 592.76h1.5v1.6h-1.5zM1069.04 592.76h1.5v1.6h-1.5zM1119.09 589.98h1.5v1.6h-1.5zM1120.59 589.98h1.5v1.6h-1.5zM1122.09 589.98h1.5v1.6h-1.5zM1123.59 589.98h1.5v1.6h-1.5zM1125.09 589.98h1.5v1.6h-1.5zM1126.59 589.98h1.5v1.6h-1.5zM1128.09 589.98h1.5v1.6h-1.5zM1129.59 589.98h1.5v1.6h-1.5zM1076.84 589.98h1.5v1.6h-1.5zM1075.34 589.98h1.5v1.6h-1.5zM1070.84 589.98h1.5v1.6h-1.5zM1121.66 587.2h1.5v1.6h-1.5zM1123.16 587.2h1.5v1.6h-1.5zM1124.66 587.2h1.5v1.6h-1.5zM1126.16 587.2h1.5v1.6h-1.5zM1127.66 587.2h1.5v1.6h-1.5zM1129.16 587.2h1.5v1.6h-1.5zM1133.66 587.2h1.5v1.6h-1.5zM1135.16 587.2h1.5v1.6h-1.5zM1075.86 587.2h1.5v1.6h-1.5zM1074.36 587.2h1.5v1.6h-1.5zM1072.86 587.2h1.5v1.6h-1.5zM1124.23 584.42h1.5v1.6h-1.5zM1125.73 584.42h1.5v1.6h-1.5zM1127.23 584.42h1.5v1.6h-1.5zM1128.73 584.42h1.5v1.6h-1.5zM1130.23 584.42h1.5v1.6h-1.5zM1131.73 584.42h1.5v1.6h-1.5zM1077.87 584.42h1.5v1.6h-1.5zM1076.37 584.42h1.5v1.6h-1.5zM1126.8 581.64h1.5v1.6h-1.5zM1128.3 581.64h1.5v1.6h-1.5zM1131.3 581.64h1.5v1.6h-1.5zM1132.8 581.64h1.5v1.6h-1.5zM1134.3 581.64h1.5v1.6h-1.5zM1137.3 581.64h1.5v1.6h-1.5zM1138.8 581.64h1.5v1.6h-1.5zM1125.77 578.86h1.5v1.6h-1.5zM1127.27 578.86h1.5v1.6h-1.5zM1128.77 578.86h1.5v1.6h-1.5zM1130.27 578.86h1.5v1.6h-1.5zM1131.77 578.86h1.5v1.6h-1.5zM1142.27 578.86h1.5v1.6h-1.5zM1078.9 578.86h1.5v1.6h-1.5zM1124.75 576.09h1.5v1.6h-1.5zM1126.25 576.09h1.5v1.6h-1.5zM1127.75 576.09h1.5v1.6h-1.5zM1130.75 576.09h1.5v1.6h-1.5zM1132.25 576.09h1.5v1.6h-1.5zM1135.25 576.09h1.5v1.6h-1.5zM1079.41 576.09h1.5v1.6h-1.5zM1123.72 573.31h1.5v1.6h-1.5zM1125.22 573.31h1.5v1.6h-1.5zM1128.22 573.31h1.5v1.6h-1.5zM1129.72 573.31h1.5v1.6h-1.5zM1131.22 573.31h1.5v1.6h-1.5zM1132.72 573.31h1.5v1.6h-1.5zM1079.93 573.31h1.5v1.6h-1.5zM1124.75 570.53h1.5v1.6h-1.5zM1126.25 570.53h1.5v1.6h-1.5zM1127.75 570.53h1.5v1.6h-1.5zM1129.25 570.53h1.5v1.6h-1.5zM1130.75 570.53h1.5v1.6h-1.5zM1132.25 570.53h1.5v1.6h-1.5zM1138.25 570.53h1.5v1.6h-1.5zM1080.44 570.53h1.5v1.6h-1.5zM1125.77 567.75h1.5v1.6h-1.5zM1127.27 567.75h1.5v1.6h-1.5zM1130.27 567.75h1.5v1.6h-1.5zM1131.77 567.75h1.5v1.6h-1.5zM1134.77 567.75h1.5v1.6h-1.5zM1080.96 567.75h1.5v1.6h-1.5zM1126.8 564.97h1.5v1.6h-1.5zM1128.3 564.97h1.5v1.6h-1.5zM1129.8 564.97h1.5v1.6h-1.5zM1131.3 564.97h1.5v1.6h-1.5zM1132.8 564.97h1.5v1.6h-1.5zM1135.8 564.97h1.5v1.6h-1.5zM1081.47 564.97h1.5v1.6h-1.5zM1127.32 562.19h1.5v1.6h-1.5zM1128.82 562.19h1.5v1.6h-1.5zM1130.32 562.19h1.5v1.6h-1.5zM1133.32 562.19h1.5v1.6h-1.5zM1134.82 562.19h1.5v1.6h-1.5zM1136.32 562.19h1.5v1.6h-1.5zM1081.98 562.19h1.5v1.6h-1.5zM1127.83 559.41h1.5v1.6h-1.5zM1130.83 559.41h1.5v1.6h-1.5zM1132.33 559.41h1.5v1.6h-1.5zM1133.83 559.41h1.5v1.6h-1.5zM1135.33 559.41h1.5v1.6h-1.5zM1141.33 559.41h1.5v1.6h-1.5zM1142.83 559.41h1.5v1.6h-1.5zM1082.5 559.41h1.5v1.6h-1.5zM1128.35 556.64h1.5v1.6h-1.5zM1129.85 556.64h1.5v1.6h-1.5zM1131.35 556.64h1.5v1.6h-1.5zM1132.85 556.64h1.5v1.6h-1.5zM1137.35 556.64h1.5v1.6h-1.5zM1138.85 556.64h1.5v1.6h-1.5zM1140.35 556.64h1.5v1.6h-1.5zM1143.35 556.64h1.5v1.6h-1.5zM1129.5 553.86h1.5v1.6h-1.5zM1132.5 553.86h1.5v1.6h-1.5zM1134 553.86h1.5v1.6h-1.5zM1135.5 553.86h1.5v1.6h-1.5zM1137 553.86h1.5v1.6h-1.5zM1138.5 553.86h1.5v1.6h-1.5zM1140 553.86h1.5v1.6h-1.5zM1143 553.86h1.5v1.6h-1.5zM1130.66 551.08h1.5v1.6h-1.5zM1132.16 551.08h1.5v1.6h-1.5zM1133.66 551.08h1.5v1.6h-1.5zM1135.16 551.08h1.5v1.6h-1.5zM1141.16 551.08h1.5v1.6h-1.5zM1144.16 551.08h1.5v1.6h-1.5zM1147.16 551.08h1.5v1.6h-1.5zM1131.82 548.3h1.5v1.6h-1.5zM1133.32 548.3h1.5v1.6h-1.5zM1134.82 548.3h1.5v1.6h-1.5zM1140.82 548.3h1.5v1.6h-1.5zM1132.97 545.52h1.5v1.6h-1.5zM1134.47 545.52h1.5v1.6h-1.5zM1135.97 545.52h1.5v1.6h-1.5zM1138.97 545.52h1.5v1.6h-1.5zM1140.47 545.52h1.5v1.6h-1.5zM1144.97 545.52h1.5v1.6h-1.5zM1137.09 542.74h1.5v1.6h-1.5zM1138.59 542.74h1.5v1.6h-1.5zM1141.59 542.74h1.5v1.6h-1.5zM1146.09 542.74h1.5v1.6h-1.5zM1141.2 539.96h1.5v1.6h-1.5zM1142.7 539.96h1.5v1.6h-1.5zM1144.2 539.96h1.5v1.6h-1.5zM1145.7 539.96h1.5v1.6h-1.5zM1147.2 539.96h1.5v1.6h-1.5zM1148.7 539.96h1.5v1.6h-1.5zM1146.81 537.19h1.5v1.6h-1.5zM1148.31 537.19h1.5v1.6h-1.5zM1152.81 537.19h1.5v1.6h-1.5zM1157.31 537.19h1.5v1.6h-1.5zM1147.86 534.41h1.5v1.6h-1.5zM1149.36 534.41h1.5v1.6h-1.5zM1150.86 534.41h1.5v1.6h-1.5zM1152.36 534.41h1.5v1.6h-1.5zM1153.86 534.41h1.5v1.6h-1.5zM1155.36 534.41h1.5v1.6h-1.5zM1158.36 534.41h1.5v1.6h-1.5zM1151.9 531.63h1.5v1.6h-1.5zM1153.4 531.63h1.5v1.6h-1.5zM1154.9 531.63h1.5v1.6h-1.5zM1163.9 531.63h1.5v1.6h-1.5z" fill="#5a5aa0" fill-opacity="0.85"/><path d="M952.2 685.25 L952.97 685.25 L953.74 685.25 L954.51 685.25 L955.29 685.25 L956.06 685.25 L956.83 685.25 L957.6 685.25 L958.37 685.25 L959.14 685.25 L959.91 685.25 L960.68 685.25 L961.46 685.25 L962.23 685.25 L963 685.25 L963.77 685.25 L964.54 685.25 L965.31 685.25 L966.08 685.25 L966.85 685.25 L967.62 685.25 L968.4 685.25 L969.17 685.25 L969.94 685.25 L970.71 685.25 L971.48 685.25 L972.25 685.25 L973.02 685.25 L973.79 685.25 L974.57 685.25 L975.34 685.25 L976.11 685.25 L976.88 685.25 L977.65 685.25 L978.42 685.25 L979.19 685.25 L979.96 685.25 L980.74 685.25 L981.51 685.25 L982.28 685.25 L983.05 685.25 L983.82 685.25 L984.59 685.25 L985.36 685.25 L986.13 685.25 L986.91 685.25 L987.68 685.25 L988.45 685.25 L989.22 685.25 L989.99 685.25 L990.76 685.25 L991.53 685.25 L992.3 685.25 L993.08 685.25 L993.85 685.25 L994.62 685.25 L995.39 685.25 L996.16 685.25 L996.93 685.25 L997.7 685.25 L998.47 685.25 L999.25 685.25 L1000.02 685.25 L1000.79 685.25 L1001.56 685.24 L1002.33 685.24 L1003.1 685.24 L1003.87 685.24 L1004.64 685.24 L1005.42 685.24 L1006.19 685.24 L1006.96 685.24 L1007.73 685.24 L1008.5 685.24 L1009.27 685.24 L1010.04 685.24 L1010.81 685.23 L1011.59 685.23 L1012.36 685.23 L1013.13 685.23 L1013.9 685.23 L1014.67 685.22 L1015.44 685.22 L1016.21 685.22 L1016.98 685.22 L1017.76 685.21 L1018.53 685.21 L1019.3 685.21 L1020.07 685.2 L1020.84 685.2 L1021.61 685.19 L1022.38 685.19 L1023.15 685.18 L1023.93 685.17 L1024.7 685.17 L1025.47 685.16 L1026.24 685.15 L1027.01 685.14 L1027.78 685.13 L1028.55 685.12 L1029.32 685.11 L1030.1 685.09 L1030.87 685.08 L1031.64 685.06 L1032.41 685.05 L1033.18 685.03 L1033.95 685 L1034.72 684.98 L1035.49 684.96 L1036.27 684.93 L1037.04 684.9 L1037.81 684.86 L1038.58 684.83 L1039.35 684.79 L1040.12 684.74 L1040.89 684.69 L1041.66 684.64 L1042.44 684.58 L1043.21 684.52 L1043.98 684.45 L1044.75 684.38 L1045.52 684.29 L1046.29 684.2 L1047.06 684.1 L1047.83 684 L1048.61 683.88 L1049.38 683.75 L1050.15 683.61 L1050.92 683.45 L1051.69 683.28 L1052.46 683.1 L1053.23 682.9 L1054 682.68 L1054.78 682.44 L1055.55 682.17 L1056.32 681.89 L1057.09 681.57 L1057.86 681.23 L1058.63 680.86 L1059.4 680.46 L1060.17 680.02 L1060.95 679.54 L1061.72 679.02 L1062.49 678.45 L1063.26 677.83 L1064.03 677.16 L1064.8 676.44 L1065.57 675.65 L1066.35 674.79 L1067.12 673.87 L1067.89 672.88 L1068.66 671.8 L1069.43 670.64 L1070.2 669.39 L1070.97 668.04 L1071.74 666.6 L1072.52 665.06 L1073.29 663.4 L1074.06 661.64 L1074.83 659.76 L1075.6 657.76 L1076.37 655.64 L1077.14 653.39 L1077.91 651.02 L1078.69 648.53 L1079.46 645.92 L1080.23 643.18 L1081 640.32 L1081.77 637.36 L1082.54 634.28 L1083.31 631.11 L1084.08 627.85 L1084.86 624.51 L1085.63 621.1 L1086.4 617.63 L1087.17 614.12 L1087.94 610.59 L1088.71 607.03 L1089.48 603.48 L1090.25 599.94 L1091.03 596.43 L1091.8 592.97 L1092.57 589.56 L1093.34 586.21 L1094.11 582.95 L1094.88 579.78 L1095.65 576.71 L1096.42 573.74 L1097.2 570.89 L1097.97 568.15 L1098.74 565.54 L1099.51 563.04 L1100.28 560.67 L1101.05 558.43 L1101.82 556.31 L1102.59 554.31 L1103.37 552.43 L1104.14 550.66 L1104.91 549.01 L1105.68 547.46 L1106.45 546.02 L1107.22 544.68 L1107.99 543.43 L1108.76 542.27 L1109.54 541.19 L1110.31 540.19 L1111.08 539.27 L1111.85 538.42 L1112.62 537.63 L1113.39 536.9 L1114.16 536.24 L1114.93 535.62 L1115.71 535.05 L1116.48 534.53 L1117.25 534.05 L1118.02 533.61 L1118.79 533.2 L1119.56 532.83 L1120.33 532.49 L1121.1 532.18 L1121.88 531.89 L1122.65 531.63 L1123.42 531.39 L1124.19 531.17 L1124.96 530.97 L1125.73 530.78 L1126.5 530.61 L1127.27 530.46 L1128.05 530.32 L1128.82 530.19 L1129.59 530.07 L1130.36 529.96 L1131.13 529.86 L1131.9 529.77 L1132.67 529.69 L1133.44 529.61 L1134.22 529.55 L1134.99 529.48 L1135.76 529.42 L1136.53 529.37 L1137.3 529.32 L1138.07 529.28 L1138.84 529.24 L1139.61 529.2 L1140.39 529.17 L1141.16 529.14 L1141.93 529.11 L1142.7 529.09 L1143.47 529.06 L1144.24 529.04 L1145.01 529.02 L1145.78 529 L1146.56 528.99 L1147.33 528.97 L1148.1 528.96 L1148.87 528.95 L1149.64 528.94 L1150.41 528.92 L1151.18 528.92 L1151.95 528.91 L1152.73 528.9 L1153.5 528.89 L1154.27 528.89 L1155.04 528.88 L1155.81 528.87 L1156.58 528.87 L1157.35 528.86 L1158.12 528.86 L1158.9 528.86 L1159.67 528.85 L1160.44 528.85 L1161.21 528.85 L1161.98 528.84 L1162.75 528.84 L1163.52 528.84 L1164.29 528.84 L1165.07 528.84 L1165.84 528.83 L1166.61 528.83 L1167.38 528.83 L1168.15 528.83 L1168.92 528.83 L1169.69 528.83 L1170.46 528.83 L1171.24 528.83 L1172.01 528.82 L1172.78 528.82 L1173.55 528.82 L1174.32 528.82 L1175.09 528.82 L1175.86 528.82 L1176.63 528.82 L1177.41 528.82 L1178.18 528.82 L1178.95 528.82 L1179.72 528.82 L1180.49 528.82 L1181.26 528.82 L1182.03 528.82 L1182.8 528.82 L1183.58 528.82 L1184.35 528.82 L1185.12 528.82 L1185.89 528.82 L1186.66 528.82 L1187.43 528.82 L1188.2 528.82 L1188.97 528.82 L1189.75 528.82 L1190.52 528.82 L1191.29 528.82 L1192.06 528.82 L1192.83 528.82 L1193.6 528.82 L1194.37 528.82 L1195.14 528.82 L1195.92 528.82 L1196.69 528.82 L1197.46 528.82 L1198.23 528.82 L1199 528.82" fill="none" stroke="#d93c72" stroke-width="1.6" stroke-dasharray="3 2.4"/><rect x="952.2" y="510.2" width="246.8" height="194" fill="none" stroke="#d2d2d2" stroke-width="1.3"/><path d="M983.05 704.2v-2.5M983.05 510.2v2.5M1013.9 704.2v-2.5M1013.9 510.2v2.5M1044.75 704.2v-2.5M1044.75 510.2v2.5M1075.6 704.2v-2.5M1075.6 510.2v2.5M1106.45 704.2v-2.5M1106.45 510.2v2.5M1137.3 704.2v-2.5M1137.3 510.2v2.5M1168.15 704.2v-2.5M1168.15 510.2v2.5M952.2 676.91h2.5M1199 676.91h-2.5M952.2 649.13h2.5M1199 649.13h-2.5M952.2 621.34h2.5M1199 621.34h-2.5M952.2 593.56h2.5M1199 593.56h-2.5M952.2 565.77h2.5M1199 565.77h-2.5M952.2 537.99h2.5M1199 537.99h-2.5" stroke="#c4c4c4" stroke-width="1" fill="none"/><g font-family="Liberation Sans, sans-serif" font-size="25.3" fill="#111"><text x="949.9" y="544.54" text-anchor="end">60</text><text x="949.9" y="600.11" text-anchor="end">40</text><text x="949.9" y="655.68" text-anchor="end">20</text><text x="949.9" y="704.65" text-anchor="end">0</text><text x="981.55" y="725.9" text-anchor="middle">4</text><text x="1043.25" y="725.9" text-anchor="middle">8</text><text x="1104.95" y="725.9" text-anchor="middle">12</text><text x="1166.65" y="725.9" text-anchor="middle">16</text></g><text x="969.1" y="501.5" font-family="Liberation Sans, sans-serif" font-size="32.7" fill="#000">South America</text></g><g><rect x="1247.3" y="692.59" width="126.18" height="2.0" fill="url(#gAustralia4)" fill-opacity="0.97"/><rect x="1247.3" y="689.81" width="139.26" height="2.0" fill="url(#gAustralia5)" fill-opacity="0.87"/><rect x="1247.3" y="687.03" width="142.64" height="2.0" fill="url(#gAustralia6)" fill-opacity="0.97"/><rect x="1247.3" y="684.25" width="144.18" height="2.0" fill="url(#gAustralia7)" fill-opacity="0.93"/><rect x="1278.08" y="681.47" width="115.41" height="2.0" fill="url(#gAustralia8)" fill-opacity="0.91"/><rect x="1312.39" y="678.69" width="82.63" height="2.0" fill="url(#gAustralia9)" fill-opacity="0.88"/><rect x="1325.78" y="675.91" width="69.24" height="2.0" fill="url(#gAustralia10)" fill-opacity="0.97"/><rect x="1327.85" y="673.14" width="64.86" height="2.0" fill="url(#gAustralia11)" fill-opacity="0.93"/><rect x="1329.93" y="670.36" width="60.47" height="2.0" fill="url(#gAustralia12)" fill-opacity="0.9"/><rect x="1332.47" y="667.58" width="60.24" height="2.0" fill="url(#gAustralia13)" fill-opacity="0.86"/><rect x="1335.01" y="664.8" width="60.01" height="2.0" fill="url(#gAustralia14)" fill-opacity="0.92"/><rect x="1339.47" y="662.02" width="55.55" height="2.0" fill="url(#gAustralia15)" fill-opacity="0.98"/><rect x="1343.93" y="659.24" width="51.09" height="2.0" fill="#9898d0" fill-opacity="0.97"/><rect x="1346.16" y="656.46" width="47.32" height="2.0" fill="#9898d0" fill-opacity="0.9"/><rect x="1348.4" y="653.69" width="43.55" height="2.0" fill="#9898d0" fill-opacity="0.97"/><rect x="1348.4" y="650.91" width="44.32" height="2.0" fill="#9898d0" fill-opacity="0.96"/><rect x="1348.4" y="648.13" width="45.09" height="2.0" fill="#9898d0" fill-opacity="0.88"/><rect x="1351.7" y="645.35" width="42.55" height="2.0" fill="#9898d0" fill-opacity="0.87"/><rect x="1355.01" y="642.57" width="40.01" height="2.0" fill="#9898d0" fill-opacity="0.93"/><rect x="1355.01" y="639.79" width="40.01" height="2.0" fill="#9898d0" fill-opacity="0.92"/><rect x="1355.01" y="637.01" width="40.01" height="2.0" fill="#9898d0" fill-opacity="0.87"/><rect x="1355.78" y="634.24" width="40.78" height="2.0" fill="#9898d0" fill-opacity="0.97"/><rect x="1356.55" y="631.46" width="41.55" height="2.0" fill="#9898d0" fill-opacity="0.99"/><rect x="1357.71" y="628.68" width="42.7" height="2.0" fill="#9898d0" fill-opacity="0.93"/><rect x="1358.86" y="625.9" width="43.85" height="2.0" fill="#9898d0" fill-opacity="0.92"/><rect x="1360.78" y="623.12" width="38.08" height="2.0" fill="#9898d0" fill-opacity="0.98"/><rect x="1362.71" y="620.34" width="32.31" height="2.0" fill="#9898d0" fill-opacity="0.96"/><rect x="1362.71" y="617.56" width="38.85" height="2.0" fill="#9898d0" fill-opacity="0.87"/><rect x="1362.71" y="614.79" width="45.39" height="2.0" fill="#9898d0" fill-opacity="0.86"/><rect x="1364.24" y="612.01" width="38.85" height="2.0" fill="#9898d0" fill-opacity="0.91"/><rect x="1365.78" y="609.23" width="32.31" height="2.0" fill="#9898d0" fill-opacity="0.96"/><rect x="1365.78" y="606.45" width="34.62" height="2.0" fill="#9898d0" fill-opacity="0.97"/><rect x="1365.78" y="603.67" width="36.93" height="2.0" fill="#9898d0" fill-opacity="0.95"/><rect x="1367.01" y="600.89" width="34.62" height="2.0" fill="#9898d0" fill-opacity="0.99"/><rect x="1368.25" y="598.11" width="32.31" height="2.0" fill="#9898d0" fill-opacity="0.91"/><rect x="1368.96" y="595.34" width="33.03" height="2.0" fill="#9898d0" fill-opacity="0.87"/><rect x="1369.68" y="592.56" width="33.75" height="2.0" fill="#9898d0" fill-opacity="0.97"/><rect x="1370.4" y="589.78" width="34.47" height="2.0" fill="#9898d0" fill-opacity="0.89"/><rect x="1370.81" y="587" width="34.62" height="2.0" fill="#9898d0" fill-opacity="0.87"/><rect x="1371.22" y="584.22" width="34.78" height="2.0" fill="#9898d0" fill-opacity="0.94"/><rect x="1371.63" y="581.44" width="34.93" height="2.0" fill="#9898d0" fill-opacity="0.96"/><rect x="1372.2" y="578.66" width="36.16" height="2.0" fill="#9898d0" fill-opacity="0.9"/><rect x="1372.76" y="575.89" width="37.39" height="2.0" fill="#9898d0" fill-opacity="0.87"/><rect x="1373.32" y="573.11" width="38.62" height="2.0" fill="#9898d0" fill-opacity="0.95"/><rect x="1373.89" y="570.33" width="36.26" height="2.0" fill="#9898d0" fill-opacity="0.92"/><rect x="1374.45" y="567.55" width="33.9" height="2.0" fill="#9898d0" fill-opacity="0.99"/><rect x="1375.02" y="564.77" width="31.54" height="2.0" fill="#9898d0" fill-opacity="0.9"/><rect x="1375.84" y="561.99" width="31.24" height="2.0" fill="#9898d0" fill-opacity="0.94"/><rect x="1376.66" y="559.21" width="30.93" height="2.0" fill="#9898d0" fill-opacity="0.99"/><rect x="1377.48" y="556.44" width="30.62" height="2.0" fill="#9898d0" fill-opacity="0.94"/><rect x="1378.71" y="553.66" width="30.74" height="2.0" fill="#9898d0" fill-opacity="0.86"/><rect x="1379.94" y="550.88" width="30.85" height="2.0" fill="#9898d0" fill-opacity="0.91"/><rect x="1381.17" y="548.1" width="30.97" height="2.0" fill="#9898d0" fill-opacity="0.92"/><rect x="1382.4" y="545.32" width="31.08" height="2.0" fill="#9898d0" fill-opacity="0.91"/><rect x="1383.53" y="542.54" width="29.44" height="2.0" fill="#9898d0" fill-opacity="0.93"/><rect x="1384.66" y="539.76" width="27.8" height="2.0" fill="#9898d0" fill-opacity="0.92"/><rect x="1385.79" y="536.99" width="26.16" height="2.0" fill="#9898d0" fill-opacity="0.95"/><rect x="1387.02" y="534.21" width="29.7" height="2.0" fill="#9898d0" fill-opacity="0.96"/><rect x="1388.25" y="531.43" width="33.24" height="2.0" fill="#9898d0" fill-opacity="0.93"/><rect x="1391.48" y="528.65" width="40.01" height="2.0" fill="#6a6aa6" fill-opacity="1"/><path d="M1375.28 692.79h1.5v1.6h-1.5zM1378.28 692.79h1.5v1.6h-1.5zM1386.86 690.01h1.5v1.6h-1.5zM1388.36 690.01h1.5v1.6h-1.5zM1389.86 690.01h1.5v1.6h-1.5zM1391.36 690.01h1.5v1.6h-1.5zM1392.86 690.01h1.5v1.6h-1.5zM1390.24 687.23h1.5v1.6h-1.5zM1391.78 684.45h1.5v1.6h-1.5zM1393.78 681.67h1.5v1.6h-1.5zM1396.78 681.67h1.5v1.6h-1.5zM1399.78 681.67h1.5v1.6h-1.5zM1277.78 681.67h1.5v1.6h-1.5zM1276.28 681.67h1.5v1.6h-1.5zM1274.78 681.67h1.5v1.6h-1.5zM1273.28 681.67h1.5v1.6h-1.5zM1271.78 681.67h1.5v1.6h-1.5zM1267.28 681.67h1.5v1.6h-1.5zM1265.78 681.67h1.5v1.6h-1.5zM1264.28 681.67h1.5v1.6h-1.5zM1262.78 681.67h1.5v1.6h-1.5zM1261.28 681.67h1.5v1.6h-1.5zM1259.78 681.67h1.5v1.6h-1.5zM1258.28 681.67h1.5v1.6h-1.5zM1252.28 681.67h1.5v1.6h-1.5zM1250.78 681.67h1.5v1.6h-1.5zM1249.28 681.67h1.5v1.6h-1.5zM1395.32 678.89h1.5v1.6h-1.5zM1396.82 678.89h1.5v1.6h-1.5zM1398.32 678.89h1.5v1.6h-1.5zM1399.82 678.89h1.5v1.6h-1.5zM1401.32 678.89h1.5v1.6h-1.5zM1405.82 678.89h1.5v1.6h-1.5zM1312.09 678.89h1.5v1.6h-1.5zM1310.59 678.89h1.5v1.6h-1.5zM1307.59 678.89h1.5v1.6h-1.5zM1306.09 678.89h1.5v1.6h-1.5zM1304.59 678.89h1.5v1.6h-1.5zM1303.09 678.89h1.5v1.6h-1.5zM1300.09 678.89h1.5v1.6h-1.5zM1298.59 678.89h1.5v1.6h-1.5zM1297.09 678.89h1.5v1.6h-1.5zM1295.59 678.89h1.5v1.6h-1.5zM1292.59 678.89h1.5v1.6h-1.5zM1289.59 678.89h1.5v1.6h-1.5zM1395.32 676.11h1.5v1.6h-1.5zM1398.32 676.11h1.5v1.6h-1.5zM1399.82 676.11h1.5v1.6h-1.5zM1401.32 676.11h1.5v1.6h-1.5zM1404.32 676.11h1.5v1.6h-1.5zM1405.82 676.11h1.5v1.6h-1.5zM1408.82 676.11h1.5v1.6h-1.5zM1325.48 676.11h1.5v1.6h-1.5zM1322.48 676.11h1.5v1.6h-1.5zM1320.98 676.11h1.5v1.6h-1.5zM1319.48 676.11h1.5v1.6h-1.5zM1317.98 676.11h1.5v1.6h-1.5zM1316.48 676.11h1.5v1.6h-1.5zM1311.98 676.11h1.5v1.6h-1.5zM1393.01 673.34h1.5v1.6h-1.5zM1394.51 673.34h1.5v1.6h-1.5zM1399.01 673.34h1.5v1.6h-1.5zM1400.51 673.34h1.5v1.6h-1.5zM1408.01 673.34h1.5v1.6h-1.5zM1409.51 673.34h1.5v1.6h-1.5zM1327.55 673.34h1.5v1.6h-1.5zM1326.05 673.34h1.5v1.6h-1.5zM1324.55 673.34h1.5v1.6h-1.5zM1321.55 673.34h1.5v1.6h-1.5zM1318.55 673.34h1.5v1.6h-1.5zM1390.7 670.56h1.5v1.6h-1.5zM1392.2 670.56h1.5v1.6h-1.5zM1393.7 670.56h1.5v1.6h-1.5zM1396.7 670.56h1.5v1.6h-1.5zM1398.2 670.56h1.5v1.6h-1.5zM1399.7 670.56h1.5v1.6h-1.5zM1401.2 670.56h1.5v1.6h-1.5zM1404.2 670.56h1.5v1.6h-1.5zM1407.2 670.56h1.5v1.6h-1.5zM1408.7 670.56h1.5v1.6h-1.5zM1411.7 670.56h1.5v1.6h-1.5zM1413.2 670.56h1.5v1.6h-1.5zM1329.63 670.56h1.5v1.6h-1.5zM1328.13 670.56h1.5v1.6h-1.5zM1326.63 670.56h1.5v1.6h-1.5zM1393.01 667.78h1.5v1.6h-1.5zM1396.01 667.78h1.5v1.6h-1.5zM1399.01 667.78h1.5v1.6h-1.5zM1400.51 667.78h1.5v1.6h-1.5zM1402.01 667.78h1.5v1.6h-1.5zM1403.51 667.78h1.5v1.6h-1.5zM1332.17 667.78h1.5v1.6h-1.5zM1330.67 667.78h1.5v1.6h-1.5zM1327.67 667.78h1.5v1.6h-1.5zM1326.17 667.78h1.5v1.6h-1.5zM1396.82 665h1.5v1.6h-1.5zM1334.71 665h1.5v1.6h-1.5zM1333.21 665h1.5v1.6h-1.5zM1330.21 665h1.5v1.6h-1.5zM1321.21 665h1.5v1.6h-1.5zM1395.32 662.22h1.5v1.6h-1.5zM1396.82 662.22h1.5v1.6h-1.5zM1398.32 662.22h1.5v1.6h-1.5zM1399.82 662.22h1.5v1.6h-1.5zM1401.32 662.22h1.5v1.6h-1.5zM1339.17 662.22h1.5v1.6h-1.5zM1337.67 662.22h1.5v1.6h-1.5zM1336.17 662.22h1.5v1.6h-1.5zM1334.67 662.22h1.5v1.6h-1.5zM1333.17 662.22h1.5v1.6h-1.5zM1331.67 662.22h1.5v1.6h-1.5zM1330.17 662.22h1.5v1.6h-1.5zM1327.17 662.22h1.5v1.6h-1.5zM1324.17 662.22h1.5v1.6h-1.5zM1395.32 659.44h1.5v1.6h-1.5zM1396.82 659.44h1.5v1.6h-1.5zM1399.82 659.44h1.5v1.6h-1.5zM1401.32 659.44h1.5v1.6h-1.5zM1402.82 659.44h1.5v1.6h-1.5zM1404.32 659.44h1.5v1.6h-1.5zM1407.32 659.44h1.5v1.6h-1.5zM1408.82 659.44h1.5v1.6h-1.5zM1343.63 659.44h1.5v1.6h-1.5zM1342.13 659.44h1.5v1.6h-1.5zM1339.13 659.44h1.5v1.6h-1.5zM1337.63 659.44h1.5v1.6h-1.5zM1331.63 659.44h1.5v1.6h-1.5zM1330.13 659.44h1.5v1.6h-1.5zM1393.78 656.66h1.5v1.6h-1.5zM1395.28 656.66h1.5v1.6h-1.5zM1398.28 656.66h1.5v1.6h-1.5zM1401.28 656.66h1.5v1.6h-1.5zM1345.86 656.66h1.5v1.6h-1.5zM1344.36 656.66h1.5v1.6h-1.5zM1342.86 656.66h1.5v1.6h-1.5zM1341.36 656.66h1.5v1.6h-1.5zM1339.86 656.66h1.5v1.6h-1.5zM1392.24 653.89h1.5v1.6h-1.5zM1393.74 653.89h1.5v1.6h-1.5zM1396.74 653.89h1.5v1.6h-1.5zM1393.01 651.11h1.5v1.6h-1.5zM1397.51 651.11h1.5v1.6h-1.5zM1400.51 651.11h1.5v1.6h-1.5zM1403.51 651.11h1.5v1.6h-1.5zM1405.01 651.11h1.5v1.6h-1.5zM1348.1 651.11h1.5v1.6h-1.5zM1346.6 651.11h1.5v1.6h-1.5zM1393.78 648.33h1.5v1.6h-1.5zM1395.28 648.33h1.5v1.6h-1.5zM1396.78 648.33h1.5v1.6h-1.5zM1398.28 648.33h1.5v1.6h-1.5zM1401.28 648.33h1.5v1.6h-1.5zM1402.78 648.33h1.5v1.6h-1.5zM1404.28 648.33h1.5v1.6h-1.5zM1405.78 648.33h1.5v1.6h-1.5zM1407.28 648.33h1.5v1.6h-1.5zM1408.78 648.33h1.5v1.6h-1.5zM1410.28 648.33h1.5v1.6h-1.5zM1413.28 648.33h1.5v1.6h-1.5zM1394.55 645.55h1.5v1.6h-1.5zM1396.05 645.55h1.5v1.6h-1.5zM1397.55 645.55h1.5v1.6h-1.5zM1399.05 645.55h1.5v1.6h-1.5zM1402.05 645.55h1.5v1.6h-1.5zM1349.9 645.55h1.5v1.6h-1.5zM1395.32 642.77h1.5v1.6h-1.5zM1396.82 642.77h1.5v1.6h-1.5zM1401.32 642.77h1.5v1.6h-1.5zM1404.32 642.77h1.5v1.6h-1.5zM1407.32 642.77h1.5v1.6h-1.5zM1395.32 639.99h1.5v1.6h-1.5zM1396.82 639.99h1.5v1.6h-1.5zM1398.32 639.99h1.5v1.6h-1.5zM1399.82 639.99h1.5v1.6h-1.5zM1405.82 639.99h1.5v1.6h-1.5zM1407.32 639.99h1.5v1.6h-1.5zM1354.71 639.99h1.5v1.6h-1.5zM1395.32 637.21h1.5v1.6h-1.5zM1396.82 637.21h1.5v1.6h-1.5zM1399.82 637.21h1.5v1.6h-1.5zM1402.82 637.21h1.5v1.6h-1.5zM1407.32 637.21h1.5v1.6h-1.5zM1410.32 637.21h1.5v1.6h-1.5zM1414.82 637.21h1.5v1.6h-1.5zM1417.82 637.21h1.5v1.6h-1.5zM1420.82 637.21h1.5v1.6h-1.5zM1396.86 634.44h1.5v1.6h-1.5zM1398.36 634.44h1.5v1.6h-1.5zM1401.36 634.44h1.5v1.6h-1.5zM1404.36 634.44h1.5v1.6h-1.5zM1405.86 634.44h1.5v1.6h-1.5zM1407.36 634.44h1.5v1.6h-1.5zM1408.86 634.44h1.5v1.6h-1.5zM1355.48 634.44h1.5v1.6h-1.5zM1398.4 631.66h1.5v1.6h-1.5zM1399.9 631.66h1.5v1.6h-1.5zM1401.4 631.66h1.5v1.6h-1.5zM1405.9 631.66h1.5v1.6h-1.5zM1356.25 631.66h1.5v1.6h-1.5zM1400.71 628.88h1.5v1.6h-1.5zM1403.71 628.88h1.5v1.6h-1.5zM1405.21 628.88h1.5v1.6h-1.5zM1406.71 628.88h1.5v1.6h-1.5zM1403.01 626.1h1.5v1.6h-1.5zM1404.51 626.1h1.5v1.6h-1.5zM1407.51 626.1h1.5v1.6h-1.5zM1399.17 623.32h1.5v1.6h-1.5zM1400.67 623.32h1.5v1.6h-1.5zM1403.67 623.32h1.5v1.6h-1.5zM1405.17 623.32h1.5v1.6h-1.5zM1395.32 620.54h1.5v1.6h-1.5zM1398.32 620.54h1.5v1.6h-1.5zM1399.82 620.54h1.5v1.6h-1.5zM1401.32 620.54h1.5v1.6h-1.5zM1402.82 620.54h1.5v1.6h-1.5zM1404.32 620.54h1.5v1.6h-1.5zM1405.82 620.54h1.5v1.6h-1.5zM1407.32 620.54h1.5v1.6h-1.5zM1410.32 620.54h1.5v1.6h-1.5zM1411.82 620.54h1.5v1.6h-1.5zM1413.32 620.54h1.5v1.6h-1.5zM1401.86 617.76h1.5v1.6h-1.5zM1403.36 617.76h1.5v1.6h-1.5zM1404.86 617.76h1.5v1.6h-1.5zM1406.36 617.76h1.5v1.6h-1.5zM1407.86 617.76h1.5v1.6h-1.5zM1408.4 614.99h1.5v1.6h-1.5zM1409.9 614.99h1.5v1.6h-1.5zM1411.4 614.99h1.5v1.6h-1.5zM1403.4 612.21h1.5v1.6h-1.5zM1404.9 612.21h1.5v1.6h-1.5zM1406.4 612.21h1.5v1.6h-1.5zM1398.4 609.43h1.5v1.6h-1.5zM1399.9 609.43h1.5v1.6h-1.5zM1404.4 609.43h1.5v1.6h-1.5zM1400.71 606.65h1.5v1.6h-1.5zM1402.21 606.65h1.5v1.6h-1.5zM1405.21 606.65h1.5v1.6h-1.5zM1411.21 606.65h1.5v1.6h-1.5zM1412.71 606.65h1.5v1.6h-1.5zM1415.71 606.65h1.5v1.6h-1.5zM1403.01 603.87h1.5v1.6h-1.5zM1404.51 603.87h1.5v1.6h-1.5zM1406.01 603.87h1.5v1.6h-1.5zM1407.51 603.87h1.5v1.6h-1.5zM1409.01 603.87h1.5v1.6h-1.5zM1410.51 603.87h1.5v1.6h-1.5zM1421.01 603.87h1.5v1.6h-1.5zM1401.94 601.09h1.5v1.6h-1.5zM1404.94 601.09h1.5v1.6h-1.5zM1406.44 601.09h1.5v1.6h-1.5zM1407.94 601.09h1.5v1.6h-1.5zM1409.44 601.09h1.5v1.6h-1.5zM1410.94 601.09h1.5v1.6h-1.5zM1412.44 601.09h1.5v1.6h-1.5zM1413.94 601.09h1.5v1.6h-1.5zM1400.86 598.31h1.5v1.6h-1.5zM1402.36 598.31h1.5v1.6h-1.5zM1403.86 598.31h1.5v1.6h-1.5zM1406.86 598.31h1.5v1.6h-1.5zM1408.36 598.31h1.5v1.6h-1.5zM1412.86 598.31h1.5v1.6h-1.5zM1415.86 598.31h1.5v1.6h-1.5zM1403.8 595.54h1.5v1.6h-1.5zM1405.3 595.54h1.5v1.6h-1.5zM1406.8 595.54h1.5v1.6h-1.5zM1408.3 595.54h1.5v1.6h-1.5zM1409.8 595.54h1.5v1.6h-1.5zM1412.8 595.54h1.5v1.6h-1.5zM1414.3 595.54h1.5v1.6h-1.5zM1403.73 592.76h1.5v1.6h-1.5zM1405.23 592.76h1.5v1.6h-1.5zM1406.73 592.76h1.5v1.6h-1.5zM1409.73 592.76h1.5v1.6h-1.5zM1411.23 592.76h1.5v1.6h-1.5zM1414.23 592.76h1.5v1.6h-1.5zM1417.23 592.76h1.5v1.6h-1.5zM1405.17 589.98h1.5v1.6h-1.5zM1406.67 589.98h1.5v1.6h-1.5zM1408.17 589.98h1.5v1.6h-1.5zM1409.67 589.98h1.5v1.6h-1.5zM1411.17 589.98h1.5v1.6h-1.5zM1412.67 589.98h1.5v1.6h-1.5zM1415.67 589.98h1.5v1.6h-1.5zM1405.73 587.2h1.5v1.6h-1.5zM1407.23 587.2h1.5v1.6h-1.5zM1408.73 587.2h1.5v1.6h-1.5zM1410.23 587.2h1.5v1.6h-1.5zM1413.23 587.2h1.5v1.6h-1.5zM1407.8 584.42h1.5v1.6h-1.5zM1409.3 584.42h1.5v1.6h-1.5zM1410.8 584.42h1.5v1.6h-1.5zM1408.66 578.86h1.5v1.6h-1.5zM1410.45 576.09h1.5v1.6h-1.5zM1411.95 576.09h1.5v1.6h-1.5zM1413.45 576.09h1.5v1.6h-1.5zM1414.95 576.09h1.5v1.6h-1.5zM1412.25 573.31h1.5v1.6h-1.5zM1415.25 573.31h1.5v1.6h-1.5zM1416.75 573.31h1.5v1.6h-1.5zM1418.25 573.31h1.5v1.6h-1.5zM1419.75 573.31h1.5v1.6h-1.5zM1410.45 570.53h1.5v1.6h-1.5zM1411.95 570.53h1.5v1.6h-1.5zM1413.45 570.53h1.5v1.6h-1.5zM1417.95 570.53h1.5v1.6h-1.5zM1419.45 570.53h1.5v1.6h-1.5zM1413.16 567.75h1.5v1.6h-1.5zM1417.66 567.75h1.5v1.6h-1.5zM1419.16 567.75h1.5v1.6h-1.5zM1406.86 564.97h1.5v1.6h-1.5zM1411.36 564.97h1.5v1.6h-1.5zM1412.86 564.97h1.5v1.6h-1.5zM1414.36 564.97h1.5v1.6h-1.5zM1415.86 564.97h1.5v1.6h-1.5zM1417.36 564.97h1.5v1.6h-1.5zM1418.86 564.97h1.5v1.6h-1.5zM1407.37 562.19h1.5v1.6h-1.5zM1408.87 562.19h1.5v1.6h-1.5zM1410.37 562.19h1.5v1.6h-1.5zM1411.87 562.19h1.5v1.6h-1.5zM1413.37 562.19h1.5v1.6h-1.5zM1419.37 562.19h1.5v1.6h-1.5zM1407.89 559.41h1.5v1.6h-1.5zM1409.39 559.41h1.5v1.6h-1.5zM1410.89 559.41h1.5v1.6h-1.5zM1412.39 559.41h1.5v1.6h-1.5zM1413.89 559.41h1.5v1.6h-1.5zM1416.89 559.41h1.5v1.6h-1.5zM1408.4 556.64h1.5v1.6h-1.5zM1409.9 556.64h1.5v1.6h-1.5zM1411.4 556.64h1.5v1.6h-1.5zM1412.9 556.64h1.5v1.6h-1.5zM1414.4 556.64h1.5v1.6h-1.5zM1415.9 556.64h1.5v1.6h-1.5zM1409.75 553.86h1.5v1.6h-1.5zM1412.75 553.86h1.5v1.6h-1.5zM1414.25 553.86h1.5v1.6h-1.5zM1411.09 551.08h1.5v1.6h-1.5zM1412.59 551.08h1.5v1.6h-1.5zM1414.09 551.08h1.5v1.6h-1.5zM1415.59 551.08h1.5v1.6h-1.5zM1412.44 548.3h1.5v1.6h-1.5zM1413.94 548.3h1.5v1.6h-1.5zM1416.94 548.3h1.5v1.6h-1.5zM1415.28 545.52h1.5v1.6h-1.5zM1413.27 542.74h1.5v1.6h-1.5zM1414.77 542.74h1.5v1.6h-1.5zM1412.76 539.96h1.5v1.6h-1.5zM1414.26 539.96h1.5v1.6h-1.5zM1415.76 539.96h1.5v1.6h-1.5zM1412.25 537.19h1.5v1.6h-1.5zM1413.75 537.19h1.5v1.6h-1.5zM1418.25 537.19h1.5v1.6h-1.5zM1417.02 534.41h1.5v1.6h-1.5z" fill="#5a5aa0" fill-opacity="0.85"/><path d="M1247.3 685.25 L1248.07 685.25 L1248.84 685.25 L1249.61 685.25 L1250.38 685.25 L1251.15 685.25 L1251.92 685.25 L1252.69 685.25 L1253.45 685.25 L1254.22 685.25 L1254.99 685.25 L1255.76 685.25 L1256.53 685.25 L1257.3 685.25 L1258.07 685.25 L1258.84 685.25 L1259.61 685.25 L1260.38 685.25 L1261.15 685.25 L1261.92 685.25 L1262.69 685.25 L1263.46 685.25 L1264.23 685.25 L1265 685.25 L1265.76 685.25 L1266.53 685.25 L1267.3 685.25 L1268.07 685.25 L1268.84 685.25 L1269.61 685.25 L1270.38 685.25 L1271.15 685.25 L1271.92 685.25 L1272.69 685.25 L1273.46 685.25 L1274.23 685.25 L1275 685.25 L1275.77 685.25 L1276.54 685.25 L1277.31 685.25 L1278.07 685.25 L1278.84 685.25 L1279.61 685.25 L1280.38 685.25 L1281.15 685.25 L1281.92 685.25 L1282.69 685.25 L1283.46 685.25 L1284.23 685.25 L1285 685.25 L1285.77 685.25 L1286.54 685.25 L1287.31 685.25 L1288.08 685.25 L1288.85 685.25 L1289.62 685.25 L1290.38 685.25 L1291.15 685.25 L1291.92 685.25 L1292.69 685.25 L1293.46 685.25 L1294.23 685.25 L1295 685.25 L1295.77 685.25 L1296.54 685.25 L1297.31 685.25 L1298.08 685.25 L1298.85 685.25 L1299.62 685.25 L1300.39 685.25 L1301.16 685.25 L1301.93 685.25 L1302.69 685.25 L1303.46 685.24 L1304.23 685.24 L1305 685.24 L1305.77 685.24 L1306.54 685.24 L1307.31 685.24 L1308.08 685.24 L1308.85 685.24 L1309.62 685.24 L1310.39 685.24 L1311.16 685.24 L1311.93 685.23 L1312.7 685.23 L1313.47 685.23 L1314.24 685.23 L1315 685.23 L1315.77 685.22 L1316.54 685.22 L1317.31 685.22 L1318.08 685.21 L1318.85 685.21 L1319.62 685.21 L1320.39 685.2 L1321.16 685.2 L1321.93 685.19 L1322.7 685.19 L1323.47 685.18 L1324.24 685.17 L1325.01 685.16 L1325.78 685.15 L1326.55 685.14 L1327.31 685.13 L1328.08 685.12 L1328.85 685.11 L1329.62 685.09 L1330.39 685.08 L1331.16 685.06 L1331.93 685.04 L1332.7 685.02 L1333.47 684.99 L1334.24 684.96 L1335.01 684.93 L1335.78 684.9 L1336.55 684.86 L1337.32 684.82 L1338.09 684.78 L1338.86 684.73 L1339.62 684.67 L1340.39 684.61 L1341.16 684.55 L1341.93 684.47 L1342.7 684.39 L1343.47 684.3 L1344.24 684.2 L1345.01 684.09 L1345.78 683.97 L1346.55 683.84 L1347.32 683.69 L1348.09 683.53 L1348.86 683.35 L1349.63 683.16 L1350.4 682.94 L1351.17 682.7 L1351.93 682.44 L1352.7 682.15 L1353.47 681.83 L1354.24 681.48 L1355.01 681.09 L1355.78 680.66 L1356.55 680.2 L1357.32 679.69 L1358.09 679.12 L1358.86 678.51 L1359.63 677.83 L1360.4 677.09 L1361.17 676.28 L1361.94 675.4 L1362.71 674.43 L1363.48 673.38 L1364.24 672.24 L1365.01 671 L1365.78 669.65 L1366.55 668.18 L1367.32 666.6 L1368.09 664.9 L1368.86 663.06 L1369.63 661.09 L1370.4 658.97 L1371.17 656.71 L1371.94 654.3 L1372.71 651.75 L1373.48 649.04 L1374.25 646.18 L1375.02 643.18 L1375.79 640.03 L1376.56 636.75 L1377.32 633.34 L1378.09 629.82 L1378.86 626.19 L1379.63 622.47 L1380.4 618.68 L1381.17 614.83 L1381.94 610.94 L1382.71 607.03 L1383.48 603.13 L1384.25 599.24 L1385.02 595.39 L1385.79 591.6 L1386.56 587.88 L1387.33 584.25 L1388.1 580.72 L1388.87 577.31 L1389.63 574.03 L1390.4 570.89 L1391.17 567.88 L1391.94 565.03 L1392.71 562.32 L1393.48 559.76 L1394.25 557.35 L1395.02 555.09 L1395.79 552.98 L1396.56 551.01 L1397.33 549.17 L1398.1 547.46 L1398.87 545.88 L1399.64 544.42 L1400.41 543.07 L1401.18 541.83 L1401.94 540.68 L1402.71 539.63 L1403.48 538.67 L1404.25 537.78 L1405.02 536.97 L1405.79 536.24 L1406.56 535.56 L1407.33 534.94 L1408.1 534.38 L1408.87 533.87 L1409.64 533.4 L1410.41 532.98 L1411.18 532.59 L1411.95 532.24 L1412.72 531.92 L1413.49 531.63 L1414.25 531.37 L1415.02 531.13 L1415.79 530.91 L1416.56 530.71 L1417.33 530.54 L1418.1 530.37 L1418.87 530.23 L1419.64 530.09 L1420.41 529.97 L1421.18 529.86 L1421.95 529.76 L1422.72 529.67 L1423.49 529.59 L1424.26 529.52 L1425.03 529.45 L1425.8 529.39 L1426.56 529.34 L1427.33 529.29 L1428.1 529.24 L1428.87 529.2 L1429.64 529.17 L1430.41 529.13 L1431.18 529.1" fill="none" stroke="#d93c72" stroke-width="1.6" stroke-dasharray="3 2.4"/><rect x="1247.3" y="510.2" width="246.2" height="194" fill="none" stroke="#d2d2d2" stroke-width="1.3"/><path d="M1278.08 704.2v-2.5M1278.08 510.2v2.5M1308.85 704.2v-2.5M1308.85 510.2v2.5M1339.62 704.2v-2.5M1339.62 510.2v2.5M1370.4 704.2v-2.5M1370.4 510.2v2.5M1401.17 704.2v-2.5M1401.17 510.2v2.5M1431.95 704.2v-2.5M1431.95 510.2v2.5M1462.72 704.2v-2.5M1462.72 510.2v2.5M1247.3 676.91h2.5M1493.5 676.91h-2.5M1247.3 649.13h2.5M1493.5 649.13h-2.5M1247.3 621.34h2.5M1493.5 621.34h-2.5M1247.3 593.56h2.5M1493.5 593.56h-2.5M1247.3 565.77h2.5M1493.5 565.77h-2.5M1247.3 537.99h2.5M1493.5 537.99h-2.5" stroke="#c4c4c4" stroke-width="1" fill="none"/><g font-family="Liberation Sans, sans-serif" font-size="25.3" fill="#111"><text x="1245" y="544.54" text-anchor="end">60</text><text x="1245" y="600.11" text-anchor="end">40</text><text x="1245" y="655.68" text-anchor="end">20</text><text x="1245" y="704.65" text-anchor="end">0</text><text x="1276.58" y="725.9" text-anchor="middle">4</text><text x="1338.12" y="725.9" text-anchor="middle">8</text><text x="1399.67" y="725.9" text-anchor="middle">12</text><text x="1461.22" y="725.9" text-anchor="middle">16</text></g><text x="1298.2" y="501.4" font-family="Liberation Sans, sans-serif" font-size="32.7" fill="#000">Australia</text></g></svg>
</body></html>
